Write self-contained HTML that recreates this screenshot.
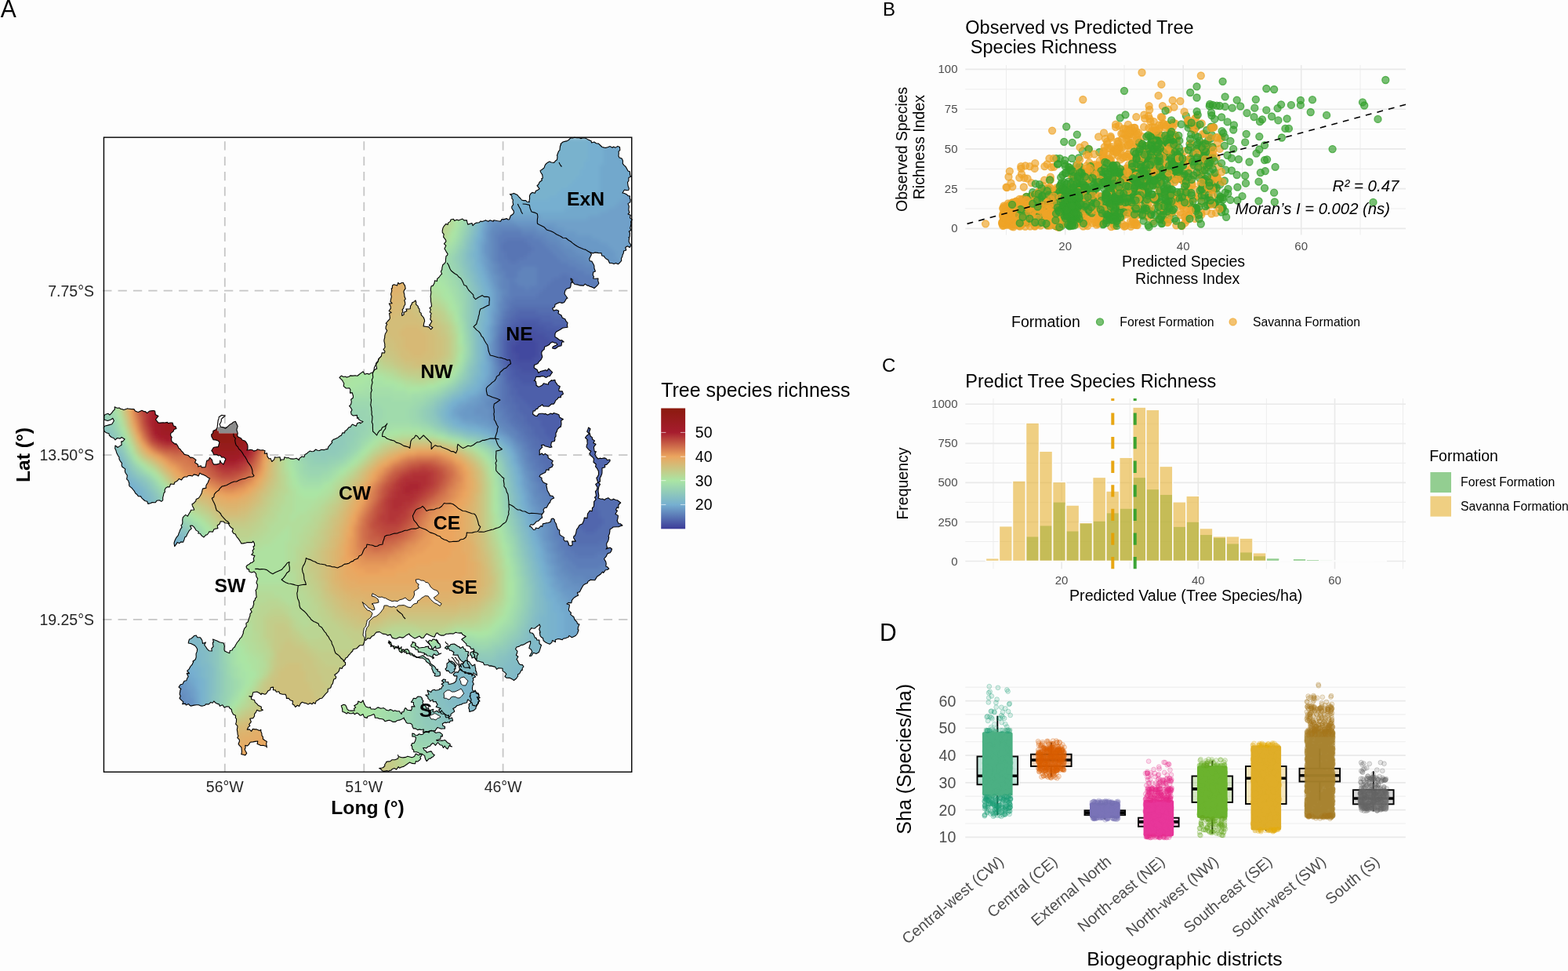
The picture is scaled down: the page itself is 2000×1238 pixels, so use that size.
<!DOCTYPE html>
<html lang="en"><head><meta charset="utf-8"><title>Figure</title>
<style>html,body{margin:0;padding:0;background:#fdfdfd;overflow:hidden}svg{display:block}text{font-family:"Liberation Sans", sans-serif}.b circle{r:4.5px}.d circle{r:2.9px}</style>
</head><body>
<svg width="2000" height="1238" viewBox="0 0 2000 1238">
<rect width="2000" height="1238" fill="#fdfdfd"/>
<line x1="286.8" x2="286.8" y1="180.3" y2="984" stroke="#c6c6c6" stroke-width="1.8" stroke-dasharray="11.3 8.05"/>
<line x1="464.3" x2="464.3" y1="180.3" y2="984" stroke="#c6c6c6" stroke-width="1.8" stroke-dasharray="11.3 8.05"/>
<line x1="641.6" x2="641.6" y1="180.3" y2="984" stroke="#c6c6c6" stroke-width="1.8" stroke-dasharray="11.3 8.05"/>
<line y1="370.6" y2="370.6" x1="131.2" x2="806" stroke="#c6c6c6" stroke-width="1.8" stroke-dasharray="11.3 8.05"/>
<line y1="580.2" y2="580.2" x1="131.2" x2="806" stroke="#c6c6c6" stroke-width="1.8" stroke-dasharray="11.3 8.05"/>
<line y1="789.9" y2="789.9" x1="131.2" x2="806" stroke="#c6c6c6" stroke-width="1.8" stroke-dasharray="11.3 8.05"/>
<defs><path id="mo" d="M718 181l3.2-0.9 1.8-0.2 2.6-1.6 2.3-2.7 2.6 0.4 2.3-0.8 2.8 0.6 2.8-0.3 2.4 1.1 2.1-0.6 2.6 0 1.4 0.1 3.3 2 3.9 1.6 0.4 2.3 3.5-1 2.4 1.7 3.1 0.4 1.9 1.9 2.6 2.5 2.8 0.6 1.8 0.3 2.3-0.6 3.3-1.2 2.9 1.7 1.6-1.3 2.2 1.4 2.9-2 2.7 1.1 0.3 4.1-1.8 1.6 0.3 1.6-0.3 4.2 1 1.9 3.1 1.1 1.4 3-0.2 3.7 1.6 2 2.1 1.8 1.2 1.9 1.9 3.6 2.2 0.8 0.5 4.9 1.2 1.3-3.1 1.5 0 3.9-1.4 2.1 0.4 3.2 0.2 1.4 1.2 3.1-0.5 2.3-2 0.2-3.3-0.7-2.5 4 2.5 0.5 3 1.4 1.5 1.7 2.5 0.4-0.3 2.7 1 1.9-0.3 3.3-2.9 1.7 1.3 3.4-0.1 0.9-0.4 3.6 1.1 3.6-1.8 1.9 3.2 1.2-0.8 3.7 2.8 2-1.7 2.9 0.4 2.2-0.6 3.3-0.7 2.6 1.5 2.6-2.9 1.6 1.1 1.8-0.3 5.4-1.3 0.2 0.8 0.8-0.5 4.5 0.9 1.9 2 2.8-1.8 2.9-2.9-1.6-2.6 1.7 1 3.4-3.2 1.1-0.2 2.7-1.1 2-0.4 2.3-1.3 2.5 0.2 2.8-2.2 2.7-2.1 1.8-2.9-1.4-2.5 1.1-2.4-1-3.1-0.1-1.9-4.2-2.6-1.2-2-2.2-0.5-1.3-2.8-0.5-0.7-3.5-3 0.3-1.6-0.4-3.7-0.5-2.4 1-3.3-0.9 1.5 2.5-1.1 2-1.7 3.5 0.6 2.7 2.5 0.4 2.9 5.2 0.3 1.7-0.1 1.8 1.5 4.2-2.7 1.1-0.5 3.7 1.2 1.7-0.7 2.5 3.1 0.2 3.2-0.2-0.3 2.8 1.1 3.4-0.8 1.3-1.6 1.8-3.4 3.2-3.1-1.6-2.6-0.7-1.8-1.2-1.1 0.2-3.2-2.1-1.9 2-4.8-0.2-1.9-0.6-1.4-0.4-3.2-0.4-2.8-3.2 0-2.8-2.2-1.5 0.5 2.4 2 2.6-2.1 0.4-0.4 4.4-0.8 2.1-4.6 1.4-1.8 2.2-0.8 4 1.3 2 2.7 3.7-1.2 0-2.6 4.5-1 1.1-2.3 0.6-3.2-0.9-2.7 1.2-3 1.6-0.4 2.9-3 1.9 1.6 3.2 3.4-1.3 3.1 1.3-0.7 3.3 4 2.4 1.3 3.3 3.5 1.5 1.3 2.9 1.9 2-0.6 3 0.6 2.6-3.8 0.5-2.7 0.4-2.9 2-3.1 1.7-2 1.1-1.5 2.6-0.1 3.9 1.8 1 3 2.2 2.5 1.5 1.4-0.6 2.6 2.3-2.5 0.1-0.7 4.8-4.5 1.1-0.8 1.1-2.8 1.8-3.3-0.8 0.7-2.1 4.1-1.9 1.6-0.8-1.7-1.9-2.2-0.2-2.5-1.2-3 1.9-0.8 1.5-2.6 1.5-3.6 1.4-0.5 3.4-2.4 1.6-1 2.5 0.3 2.4 0.8 2.8-1.7 3.6-2.4 2.3-1.7 2.6-2.3 1.2-2.2 0.6-0.3 3.8 4 2.5 1.6 4 2.6-2 3.6-0.9 3.1-0.9 1.6 1.2 2.1-3 2.7 2.8 2.1 2-1.6 2.1-1.6 2.7-2.1 0.2-2.7 1.7-3.1-1.6-2.1-0.3-2.9 0.9-4.8-0.1-1.2 4.2-1.3 0.7 2.3 1.1 0.6 3.4-0.1 1.6 2.8 2 1.7-0.5 3.1-1.6 1.8-2.4 5.9 1.5 0.5-2.7 3.7-2.9 0.2 0.7 4.2-1 0.5 3 1.1 0.8 1.6 2.7 3.2 1.9-1.5 3.7 0.4 2.1 4.1 0.3 1.1 3.3-2.9 2.2-0.2 2.3-2.9-0.1-1.3 2-2.5 2-1 2.8-1.4 1.7-2.6-0.1-3.8 3.3-4-0.3-2.7 0-1.4-2.1-2.8 2.1-1.8 0.8-1.5 2.3-2 0.5-1.3 2.4-2.2-0.3-0.5 4.3 3.2 2.2 2.4 0.2 1.7-2.6 2.9-0.5 2.4 0 2.7 0.7 0.4-0.7 3.2 1.6 4.1-1.9 2 1 1.8-1.5 4.7 1.5 1.8 0.8 1 3.4 3.1 1.6 1.4 0.7-2.7 1.8 0.3 4.6-0.9 3.6-1.2 0-2.8 2.9-0.9 3-1.3 2 0.2 3.8-1.5 2 0.3 1.8-0.6 2.5-3.8 1-0.8 4.4 1.3 2.1-2.4 0.5-3.3-1-3.3-0.8-1.3-1.3-3.2 0.1 1.2 2.8-1.4 1.3-2.2 2.6 0.2 3.6-0.3 2.2 3.1-2 2.1 2.2 2.1-1.8 3.7 2.6 0.2 2.8 2.3 1.5 3.8 2.3-1.6 2.8 1.8 2.1-1.3 2.7-4.2 2 0.2 2.2-3.2-0.6-1.5 3.7-2 0.8-4.3 2.2-1.2 2 3.1 1.9-0.3 1.8 1.3 2.3 0.9 1.4 4.9 2.3-1.1 1.4 1.1 5.1 0.1 1.3 1.4 2.5 1 1.8 1.2 2.6 3.5 0.6 1.6 2.5-2.2 0.9-2 1.7-0.9 3.1-1.5 1.1-1.6 3-1.2 2.3-2.6 0.4-1.7 2.5 0.9 2.4-2 2.7-1.1 1.7 0.9 3.2-2.2 1.3-2.2 2.4-1.4 0.8-1.4 0.2-2.7 3-2.2 1.6-2.4-0.5-1.8 2.2 1.9 0.7 3.3 3.8 2.4-0.5 0.2-2 3.8 0.7 2.9-3.1 1.8 0.9 0.7-3.8 2.3-0.3 1.4-0.5 3.2-0.4 3.1-1.3 0.9-3.7 2.2-0.5 1.8 1.7 0 2.1 1.9 2.7 0.8 3 0.6 1.7 1.1 2.8 2.1 0.9-0.3 3 0.7 3 1.5 1 4 2.5-0.9 2.1 1.7 2.5 3.3-0.3 1.6 3.6-0.2 1.4 2.8 1.3 2.2-1.3-0.5-4.7 4.6 0.1-2.7-4.4 0.5-2.5 1.1 0 1.3-3.1 0.4-1.9 0.6-3.2 1.4-1.6 1.3-2.4 0.9-1.4 3.9-1.8 0.4-1.4 1.3-2.6 0.6-3.7 3.6 0.5 0.4-3.9 0.5-2.4 0.3 0 2.2-3.2 2.9 0.6 0.3-4.2 1.9-1.7 0.3-4.4-0.1-1.8 2.6-2.9-1.7-2.6 2-1.6-0.6-3.5-0.5-2.4 1.8-2.1 0.4-1.4 0.5-1.6-2.4-4.1 3-2.3-0.7-2.1-1.2-3.7 1.7-2 1-2.3-0.1-4-0.4-1-1.9-3.5-1.6-1.7 0.8-2.8-3.3-2.7 0-0.6 0.5-3.8-2-2.4-2-1.6-1.7-2.4 2-3.3-2.3-1.3-1.2-1.2-2.3-2.7 0.5-3 0.8-1.1-0.5-4.5 0.9-0.3-3.2-3.1 1.8-2.5 3.2-2.3-2.8-3.1 1.2-2.3 0.6-2.8 2.5 1.7-1.5 4.4 0.8 1.5 0.8 3.4 2.4 1.9 0 2.1 3 1.9-1.8 2.8 3.3 1.6-2.6 3.5 0.4 3.2 0.6 3 1.9-0.4-1.5 3.9 1.7 3 2.4 2.5 3-0.9 0.7 0.6 4.2-0.8 2.2 0.6 1.3 2 3.7-0.5 0 2-2.5 2.7-1.7 1.7-2.4 0.4 0.4 3-3.8 1 0 3.2-0.1 3.4-0.5 1.6-1 2.6-1.1 2 0.1 4.5-2.1 1.2 2.2 2.2-1.5 2.5-0.6 3-0.4 2.3 0.2 2.9 0.2 1 0.5 3.2-0.9 2.6 3.3 1.3 2.3-0.3 2.6 1.4 1.4-1.5 3.2-1.2 2.9 2.5 3.2-0.3 0.2-0.8 3.4 1.4 1.9 0.2 4.3 3.3-2.7 2.5-0.2 4.3-1.8-1-1.5 3.2 2 1.3-2.6 4 3.5 2.1-0.3 2.9-0.8 3.4-0.3-0.1 2 3.9 2.2 0.2 2.8 2.3-2.6 0.6-2.2 1.1-2.9 0-4.2 0.3-1.5 1.4-2.6 1.6-0.1 2.2-0.5 3.3-1.5 3.4 0.8 0.8-0.6 3.7-0.6 1.5-1.8 3.2 0.1 2.6 0.8 2.5-1.6 1.8 3.4-1.4 1.9-0.3 2.2 1.7-0.8 2.6-1.5 2.2-3 0.8-1.4 2.5-0.6 1.3-2.7 3.1 2.2 3.6 0.5 2.5-0.4 3.4 2.1 0.9 1.8 2.1-2 1.5-2.4 0.3-2.6 3.6-1.2-1.3-2.3 2.9-2.5 1.7-2 1.3-1.8 2.9-1.1 1.8-5.7-0.5-1.3 1-1.9 1.2-0.4 1.8-4 1.8-1.7 1.4-1 1.9-1.8 3.1-1.5 3.2-3.1 0.9 1.1 3.7-2 0.8-2.8 1.7-1.5 1.4-1.6 2.1-0.8 3.6-3.8-0.4-2 1.6 3.4 1.1-0.3 2.8-0.8 3.6 0.7 1.4 2.5 2.4-0.8 2.1 3 2.5 1 0.3 1.3 3.8 3 3.2 0.5 2.1 2.5 0.7-1.5 3.2-0.5 3.3 1 0.5-1.4 4.5-1.1 1.5-1.3 1.5-2.5 1.2-2.3 1.1-3.4-2.4-0.9 1.9-3.3 1.3-3.5 0.7-1 1.5-3-0.9-2.4-0.4-3.6 1.2 0.2 2.9-4-2-0.6 2.5-2.8 2.1-3.1-1.2-2-0.9-2.8-2.3-0.7-3.2-2-1.1-1.5-1.8-0.6-4.3 0.8-0.2-1.5-3.9 1.4-3.8-1.1-2.5-1.1 1.5-2.1 1.3-2.7 2.4-3.2-0.2-0.9-0.4-2.6 3.4 0.8 2.8 3.1 0.5 1.5 1.9 1.7 4.2 1.5 0 0.9 2.6 3 0.1 0.2 4.7 2.4 1.7-0.8 2.4-1 3.2-0.7 1.9-0.6 1.6-3.4 1.9-3.7-1.2-2.5 4-2.4 0.2 2.5-4.1 0.8-1.5-1.3-2.8-2.6-1.8 1.1-3.9 0.8-2.2-0.1-2.7-2.1 0.8-3.1 1.4-0.9 0.8-3 1.6-3.2 0.5-2 1.5-3.3 0.9-1.5 2.5 2.5 2.8-0.5 2.2-1.1 2.8 2.5 2-2 3.4 1.5 1.8 1.1 2.9 1.9 2 2.9 0.2 1.7 2.4-1.8 2 0 2.5-1.2-0.1-2.3 4.3-2.3 1.3 0.3 2-2.3 3.3-3 2.2-1.5-1.3-3.9-2-0.4 0.2-3.8-0.2-1.8-1.7 1.9-3.2-2.5-2.4-2.2-1.3-0.2-3.4-1.6-0.2-3.6-0.3-2.3 1.7-1.6-2.9-1-0.4-5-1.2-1.8 0.2-1.4-1.3-5 0-1.6-3.3-0.9-0.1-4.7-1.5-1.7 0.1-1.5-1.5-1.8-2.5 0-3.6-2-2.6 0.7-2.1-0.3-3.7-2.8 0.7-1.5-3.1-4.6-1.6-0.2-2.1-2-1.8-1.9-2-2.1-1.8 2.3-1.8 3.1-2-4.6-2.8-0.8-1.8-2.6 0.2-3.3-0.3-1.6-0.6-3.1 1.9-3.6-0.3-2.4 0.3-3.1 0.2-2.9 1.8-4 0-2.8-1.3-1.2-1.7-1.7 0.1-2.3 4.9-2.6-0.6-3.4-1.4-4-2-2 2.1-2 2.9-2.7 0.4-2.3-2.4-4 2-2.1 0.9-3-1.9-3.3-2.4-0.7-1.6-4 2-3.2 2.5-1.8 0.5-3.3-0.9-3.7 1.9-2.4 0.1-3.6-1.1-2-4-4 1-1.4-1.3-4.6-0.7-4-2.5-4 0.5-2.6 2.9-0.4 1.1-2.8 1.1-2.2 2.9-3.1-0.4-2.4 2.6-1.5-0.2-0.7 3.2-1.4 3.4-3.2 0-1.2 0.3-3.5 3.6-1.3 0.4-3.3 0.7-0.7 2.3-2.1 2-1.9 2.5-1.1 0.7-1.4 2.6-2.3 1.3-1.1 2.4-1.9 1.2 2.6 2-0.1 3-2.9 1.9-1.5 2.9-2.6-0.9-1.3 4.3-1.7 1.8-3.8 2.8 2.1 2.5-0.8 2.2-2.2 0.8-0.8 3-0.7 2.8-1.2 1-1.2 3.7-1.4 1.3-2.2 0.4-0.1 3.7-2.8 2.8-1.3 1.4-2.1 2.5-1.5 1.7-2.1 0.2-2.7 2-2.5 1.4-1.1 3.4-2.3-1.6-1.8 2.1-2.6-1.3-2.4 1.6-2.2-1.4-3.2-0.6-2.2-0.8-1.9 1.4-1.9 3.7-2.1-1.2-2.8 2.3-1.5-2.6-2.1-1.2 0.4-3.9-3.1-1-2.4-2.6-2.6 0.2-0.2-2.6-1.1-2.6-3.7 0.1-3.5-1.1-1.1-2.4-3.4 0.5-1.1-2.4-2.9-0.1 0.2-3.7-3.2 0.4-0.8 3.3-2.5 0.8-2.6 3.9-1.6 0.8-3.9-1.4-1 1.7-1.6-1.6-3.6-1.9-2 0.2-3 0.5-1.3 5.3-3.7-0.3 2.8 0.8 0 2.9 3.9 1 0.8 2.8 2.2 1.9 1.7 2 4.2 2.1-0.3 2.7 2.3 1.3-2.5 1-2.1 0.4-3-1.4-1.2 2.5-2 2.5 0 2.7-1.8 2.6-4 0.7 1.5 4-2.6 3.4 1.1 1.9-2 1.3-1.5 3.4 2.9-0.4 2.4 2.5 1.9-3 2.8 0.5 1.7-0.2 4 1.9 1.8-1.3 0 2.2 1.1 2.6 0.1 2.7 1.4 1.6 0 2.8 2.9 2 2.1 1.2-0.7 2.5 0.2 2.3 0.5 2.7-0.6-1.3-3.6-1.2-3.6 0.1-1.8-1-2.7-0.9 0.7-3.6-3.5 0.4-2.5 0.5-3.5 0.3-2.2 3.4-1.7 1.4-2.6-0.6 0.3 3.3-1 1.4 1 2.3 1.6 2.9-1.9 2.6-2.2-0.6-2.8-0.7 0.6-2.7-0.1-1.8-0.4-4.2-2.6-2.5-1.2-1.9 1.3-3.3-0.1-2.1-2.5-2.5 1.3-2.6-0.9-1-0.4-4.2-0.5-2.5 0.5-2.7 0.1-2-2.3-2.4 0.8-2.5 0.2-4.3-1.3-1.1 0.2-3-3.1-1.6-0.8-1.8-0.9-1.7-0.4-2.7-2.5-1.7-0.7-1.8-2.9-0.2-3 1.3-2.4-3.3-3.5 1.5-1-2.5-1.8-0.4-2.3-1.1-2.4-2.3-1.6 2.2-2.3-0.8-2.6 2.5-3.9 0-1.1 1.4-3.6 1-2.6-0.7-1.8-0.8-3-0.1-2.7 0.4-4.4 1-0.9-0.5-1.8-2-3.2 1.4-1-1.9-3.6 0.7 1.1-2.9-2-1.7-2.8-2.9 1.3-2.9-1.2-2.4 0.6-3.3 0.3-2 0.9-1.2-2.9-2.4 2.2-3.3 2.7-0.5 2.1-4.1 2.8-0.5 0.9-2.9 1.5-2.1-2-4.3 3.3 0.2-2.8-3.3 2.4-2.1 1.6-3.2 2.3-2.6 1.2-2.6 0.6-0.8-0.9-0.8 3.4-2.4 0.9-3.1-0.1-2.7 0-1.5 1.1-2.6 0.5-3.2-1.5-2.7-1.7-1.9-2.6-1.3-2.5-1.3-3.2-0.5 0.4-2.2 0.9-2.8 1.9-0.6 2.2-1.6 1.9-2.1 2.7-0.7 1.6 2.7 3.4 0 0.9 0.9 1.8 2.9 0.6 4 3.9-1.6-1.7 3.3 2 2.8 1.7 2.6 2.2 2.1 3.7 0.3-0.5-3.2 2.4-2.7-0.5-1.5-0.4-3.5 1.3-0.3-1.1-3.8 3.8 1.4 1.4 0.6 3.3 1.8 2.2 0.5 3.1 0.7 1.2 4.3-0.3 0.2-0.2 3.7 0.5 1.8 3.6 1.7 2.7 1 0.3-3 3.3-0.9 0.7-2.2 2.4-1.8 0.8-2.1 1.1-1.7 0.8-1.5 2.8-3.3 1-2 1.8-1.5 0.9-1.6 1.8-4.3-0.4-0.8 1.5-4.4 1.2-1.6 1.5-1.3-0.4-4.1 2.5-1.9 0.4-1.7 1.5-4.6 0.6-1.2 0.1-2.6 2.2-2.4-1.9-3.5 3.1-2.1 0.5-2.3 0.8-1.5-0.2-3.9 1.8-1.9 0.2-2 1.7-1.6-0.5-4.2-0.1-2.9-0.6-1.5 1.7-2.1 0.6-3.1 0.1-2-1.4-2.7 0.8-2.5 0.9-2.5-1.9-3.2-0.2-3.4-2.4-2.5-3.1 1.1-3.3-1.1-0.4-3.2-2 0.1-1.4-3.2 1.5-2.1 1.7-0.6 2.7-2.3 1.6-0.1 2.5-2.4-0.8-2.8 1.7-3.6-4.2-1.3 2.3-2.7-1-2.8 2-1.8-1-3.2 1.7-0.9-0.3-3.3-1.6-2.6-1.1 1.6-5.1 0-1.9 0-0.5 0.4-4.1 0.9-2.3 0-1.2-2.2-2.3-3.6-1.8-1.9-1.1-1.7-1.1-2.4-2.5-1.1-1.6-2.6 1.2-3.2-2.4-1.4-2-2.1-1.7-3.3-1.8-0.4-2.7-0.3-1.8-1.7-3.8-0.1-1 3.1-3 2 0.7 3.6-3.4 0.6-1.7 0.8-1.3 3.1-4.6-0.3-1.2 2.2-1.6 1.8-1.6 0.3-2.5 2.9-2.9-2.1-1.8-2.7-2.6-0.2 0.8-1.9-3.4-2-1.4-2.3-1.5-2.2-2.2-1.6-2.4 0.4 1.7 3.5-3.1 2.8-0.8 1.6-1.7 2.9-1 2.7-1.8 0.8-0.9 3.2-1.4 3.4-2.9-0.4-1.8 1.8-2.8-1.3-0.6 1.5-2.8 3.7-0.7-4.2 0.7-2.4 1.4-3.2 1.2-1.9 2.1-2.5 0.4-1.8 1.4-3.4 0.8-2.2 2-2.9-1-2.4 1.5-1.3 0.4-3-0.2-2.5 0.5-3 1.8-2.1 1.7-1.4 2.6 1.7 2.2-3.8 1.3-1.9 0.8-2.2 4.1-0.2-0.9-2.6-1.4-2.5-0.4-2.1 1.8-1 2.9-3 0.5-2.3 3.2-1.5 1.6-2.2 1.6-2.8 0.4-0.7 1.2-4.8 0.3-1.4 4.5-1-0.3-2.1 0.6-1.9 1.9-2.9 1.4-3.7 1.1-1.5-2.5-1.1-1.9-1.6-4.5-2.4-1.1 0.1-2.7-1.9-2 3.8-2.3-1.3-3.4-0.7-1.8 2.1-2.7-0.6-2.8 0.1-1.3 1.5-3.3 0-2.3 1.5-1.5 2.4-3.3-1.5-1.5 2.1-2.1 1.6-2 0.9-0.7 2.5-4.4-0.5-1.5 4-2.2-0.4-2.6 1.7-1.3 2.7 0.5 2.1-1.4 1.4-1 4.4-0.4 1.3 0 3.6-1.9 1.6-2.5-1.6-3.1 0.4-1.9 2.5-4.3-0.2-1.4 1-3.8 0.9-1.1-3.2-2.5-0.4-2.6-2.1-1.9-1.9-1.2-1.9-3-0.1-2-2.6-1.7-1.2-1.3-2.6-2-2.4-1.5-1.8-2.9-2.4-0.5-1.6 0.3-1.7-1.4-3.9-1.9-1.7 0.5-2.9 0.2-1.9-2.4-3.3-0.6-2.4 0.4-2.5-3.8-2.7-0.8-2.1 0.4-2.4-2.3-3.1-1.3-2.6 0.2-1.7-1.8-2.8-1.7-3.6-0.9-3.2-1-1.8 0.3-3.9 3.2 2.5 1.6-1.1 3.3-2.2-0.4-4.3 1.8 0 2.6-2.9-4-2.5-1.8 1.6-3.8-0.6-2.5 2.3-2-2.3-2.8-1-2.8-2.5-0.5-2.3-3.4-0.9-2.7-2.3-0.5-4.5 1.8-2 2.8-0.6 3.6-1 2.3-0.7 2.6-4.2-1.6-3.2-1.8 1.4-1.8 0.7-2.9 1.1-4.5-1.6 0-4.4 1.3-2 3.9-1.2 1.9 1.7 2.3-2.2 2.2-2.9 2-2.1-0.2-3 3.1 1.5 3.2-0.3 1.3 1.4 1.6 0.1 2.5 1.1 5.2-1.8-0.3 0.2 3.5 0.4 4.6 0.2 1.5 2.3 2.6 1.1 1.3 0.5 4.7-2.3 2.9 1.6 1.2-0.3 2.7 2.2 2.5-2.4 2.1-0.4 3.1-0.4 2.1 0.5 0.6 3.7-0.1 0.8 3.9 1.9-3.5 4.5 3.4 4-0.5 0.1 2.8 0.1 4.1-0.3 1.7 0.2 3.4-0.6 1.3 1.3 2-0.7 3.3 0 1.3 4 2.6 0.7 1.1 2.7-3 1-0.8 2.5-3.5 2.7 0 2.9 1.5 2.1-0.7 2.1 0.5 3 1.2 1 3.6 2.8 0.6-1 1.9 2.3 1.8 3.7 1.9 1.2 1.4 2.3 1.8 1.6 2 2.8 2.5 0.6 2.3 0.5 3.2 3.2 1.1-0.6 3.1 1.2 2.6 2.2-1.4 3.3 4 2.5 0.1 2.7 3.7-1.2 0.7 2.1 4.7-0.1 0.4-1 1.1-5.8 0.7-2 1.8 0 1.8-3.6 2.9 2.9 0.7 3.5 1.5 2.3 3.6 0 3.8-1.1 0.6-4 1 2.4 3.3 2.7 1.5-3.6 1.4-3.3-2.9-2.5-2.1 0.5-2.2-2.7-2.1 0.5-2.2-1.5-3.7 0.3-1.2-3.2-1.7-1.9 2.2-3.7 1.2-0.7 5.3-0.7 0.4-2.3 1.1-3.5-2.1-2-3-0.9-2.8-0.2-2.3-4.2-0.1-2.7 1.8-1.5 0.5-3.1 3.5-1.5 1.6-2.8 0.2-1.8 0.5-4 0.4-3.4 0.8-1.7 0.2-2.2 3.7-2.5 4.3 0.7-2.9 2.5-2 1.8 0 2.4-0.9 2.4-1.3 1.6 1.3 3.5 2.4 0.4 3.7 1.7 2.6-2.1 3.6-3.4 1.5-0.3 2.4-2.3 2.7-0.9 1.5 3.2 1.4 2.9-1.4 4.4 1.4 4.4-0.5 3.4 1.3 1.6 3 1.2 2 2.5 3.7 1.4 1.8 2.4 1.1 2 0.4 2 0 3.7-1.1 1.6 2.1-0.3 2.9-0.5 2.7 0.9 1.1 1 3.5-1.1 1.2-1.2 3.9 1.2 3-0.3 2.8 1-0.9 3.6 3.5-0.4 0.3 4 2.1 3.1 1.9-0.6 1.8 4.1 2.9-2.7 0.8-3.1 1.9 0.5 4.6-0.5 0.9 3.9-0.2 1.2 0.9-1.8 3.6-0.1 0.7-3.2 2.6 1.1 2.6-0.2 2.2 1.3 3.6 0.2 1.5-0.1 2.8-0.7 3.2 2.4 0.4-2.1 3.3-2.6 2.9 0.7 0.9-3.1 2.1-1 2-2 2.4-1.6 2.3 0.7 2.4-0.2 2.6-2.5 2.4 1.3 2.3 0.2 2.5-1.3 3.7 0.4 2.9-1 1.5 0.1 0.6-2.6 1.8-2.2 3.3-3.8-0.7-1.4 2.5-2.6 0.6 0.2 3.1-1.5 1.8-0.9 2.4-1.9 2.1-1 1.2-3.1 2.9 0 0.4-2.5 2.1-1 3.1-3.7 2-0.3 0.8-1.8 1.4-1.6 4.8 2.2 1.6-3.7 3.5-0.9 0.5 1.3 3.2-2.3-3-1.2-2.5-1.6-0.5-2.4-1.4 1-0.2-4-4.9 0.6-2.3-1.6-0.7-3.3 1.5-2.3-2-3.7-1.5-1.5 2-1.7 0.8-3.5-0.6-3.1 2.6-2.1 0.2-2.2-1.3-4.4-2.7 0.5 0.4-4.3-1.1-1.9-2.8 0.1-1.6 0-3.2-2.7 0.6-3.6-1.6-2.4-0.4-1.1-1.8-1.8-2-2.1 2.3-2.2 2.9 1.4 2-0.5 2.1 1.1 3.2-1.1 1.2-1.1 3.4 0.2 3.1-0.4 2.6 0.5 2.2-1.7 2.1-1.6 3.1-2.1 2 3.4 2.9-0.9 2.9 0.8 2.4-1.7 2.2-0.4 1.8-3.2 1.6-1.1 1.7-0.6-1.3-6.4 1-1.8 1.6-0.8 1-3.6 3.4-3.5 0.1-0.5 0.7-3.8 3.4 0.3 0.3-2.3-1.9-2 2.3-3.4-0.5-0.6 0-3-0.9-3.8 0.1-1.9 0.8-2.8-0.1-1.6 0.7-3.1 1.2-1.7 1.1-2.5-1.7-2.3 0.2-2.8 1.5-3-1.5-0.8 2.3-2.9 2.3-2.3 0.6-1.9-0.4-2.8-0.5-3.1 2.7-1-3.1-1.9 2.3-3.4-0.3-2.6-1.8-3.4 3.9-0.3-2.2-2.4 0.7-3.5 0.7-2.8-0.9-3.1 0.2-0.7 1.1-3.5-0.6-3.1 1.1-0.1 0.2-3.6 2-1.3 4.1 1.4 1.2-3.8 1.6 1.8 3.3-1.6 1.8 0 0.5 1.6 1.5 2 0.7 3.8-1.8 2.5-0.5 1.6 0.9 3.4 0.2 2.6 1.3 3.3-1.5 1.3 0.9 3.3 0.1 2.3-1.5 2.1-0.6 2.8-1.6 1.8 0.8 1.7-1.3 3.1 0.2 2.8 2.5-1.6-0.5-2.5 4.1-2-1-2.3 5.3-0.3 0.3-3.6 1.8-2.6 0.2-1.7 2.7-1.2 1.8-1.7 0.8 2.4-0.2 2.7 2.6 2.3 0.2 1.8 1.5 1.6 0.4 4.1 2 1.5-0.2 1.7 1.8 2.2 1.3 1.4 1.1 2.6 0.4 2-0.9 2.6-0.7 4 3.9 0.6 3 0.4 2.5 3.1 2.4-2.4-4.5-2.9 1.6-1.7 1.8-3.4-2-2.5 0.8-3.7-0.6-0.8 1.2-3-1.9-1.7 1.2-3.3-1.5-2 2.5-2-0.4-3.7-0.6-2.7 0-1 0-2.8-0.4-2.3 0.6-3.4 0.2-2.4-0.5-2.3 0.1-2.5 0.6-2.8 2-0.3 1.8-3.1 0.7-3.6 2.8 0.9 0.3-3.2 2.3-1.9 2.3-3.3 1.3-0.8-1.2-3.4 1.3-2.1 0.2-2.8 1-3.6 2.1-1.5 1.4-2.2 0-2.5 0.6-4.8 1.5-1 0.6-1.6-2.1-3.3-1.7-3-0.3-0.5 1.9-4-2.5-2.3 2.5-2.9-0.4-2-2.9-3.7 0.4-3 0.3-0.3-2-2.5-0.1-2.2 0.8-3.7 1.3-2.2 2.6-2.9 2.2 1.1 0.5-2.4 2.7-1.7 0.7-2.4 3.5-0.8 1.2 2.3 3.1-1.5 2 0.9 3.1-1.1 2.1-0.8 1.7 1.9 3.7-0.2 0.2 1.4 1.1 4 5.3-1.6 1 3.2 1.9-2.1 2.7-1.5 3.4-0.3 2.1-1.9 1.6 0.7 3.3-1.2 1.2-0.7 3.6 1.5 2.3-1.4 4.1 1.4 0.6-1.5 4.3 0.8 1.3 0.2 3.3 0.4 1.3-2.6 2.1 0.4 4.3-1.3 1.6 1.4 1.6-0.3 1.7-4.7 2.8-1.8 1.3-1.8-0.1-2.3-2.4-3.4-0.1-2.4 1.9-2.5-0.7-3.1 0.4-3.1-1.5-1.5 0-3.2-2.5-2.3 2.1 0 2.9-1.2 1.8 0.8 3 1.6 1.3 1.9 2.4 2.3 1.5 2 2.4 0.6 2.8-0.1 1.4 1.7 3.4 0.5-0.6-0.6 0.8-3.9-0.2-3.2 1-2.5 2.4-2.1 3.6 0.9 0.9-2.8 2.1-0.9 2.7-1.9-3.1-4 1.8-1.4 1.3-3.1 3.3-2.5-0.8-1.7 1.7-1-0.6-4.4-1.8-2.6-0.9-2.4 2.6-1.6 2.5-2.1 0.8-2.6 1-1.8 2.1-1.9 2.9-1.6 2.3 1 3.4 0.4 2.2-2.6 1.7-1 0.5-4.2-0.5-1.3 1.2-3.3 0.9-2.3 1.3-1.1 0.6-5.5 1.1-1.7-0.6-0.7zM435.3 899.8l3.1-1.6 2.3 0.8 1.3 2.6 1 2.8 1.9 1.3 2.3 0.4 2.4 0 2.6-0.2-0.7-2.5 2.2-1.4-2-2.3 2.8-1.5 2-1.4 0.3-2.7 2.1 0.8 1.7 0.9 2.4-2.9 0.9 2.6 0.5 1.6 1.6 2.7 1.2 1.4 3.4 1 1.6-0.7 0.9 2.4 3.5 0.1 1.7 0.4 3.1-2.3 1.3-0.2 2.9 1.4 2.9-0.5 0.4-0.3 3.2 1.9 0.4 0.8 3.5 0.8 1.3-1.4 2.7 0.7 1.5 1.4 2.3-0.9 2.2 0.9 3.5 0 0.6 1.1 2 2.7 0.5-2.7 2.3-0.1 0.7-2.8 1.1-2.1 1 0.1 1.9 2.3 3.8 0.4 1 0.3 0.9-2.2-0.4-3 4.1 0.2-1.6-2.7 0.1-2.7-3.1-0.3 1.8-2.4 1.2-2.5 3.1 0.3 1.4-1.6 1-0.9 3.8 0.2 1.8 2-0.3 1.2 1.7 2.2-0.8 1.8 0.6 2.7 1.4 0.6 2.1 1.9 0.6 2.5 2.8-0.6 0.7 3.5 5.5-1.9-0.8 3.2 1.4 0.6 3.8-1.7 2.5 1.9 2.3-0.5 1.3-2 0.9 1.6 3.2 3.2 1.4 0.8 2 1.1 1.6-0.5 0.3 4.7 3.9-1.5 1 3.8-3.5 0.3-0.6 2.1-2.2-0.5-2.6 0.9-0.7-1-3.7 2.1 0.7 2.6 2.4 0.9 0 2.6-2.7 0.1-1.9 0.2-3.3-1.2-1.4-0.6-2.1 2.7-0.9 1.9-1.1-0.4-3.1 0.4-3.3-0.1-1.7 0.9-2.4-0.3-4.1 1.3 1-3.8-3.7 0.5-0.9-0.6-3.2 0.7-2.8-1.8-2.4 0.1-1.5-2.8 0-1.8-1.5-1.5-1.3-0.6-3.5-0.1-1.4-0.8-1.3-3.1-1.1-0.7-0.6-2.4-1.9 1.4-3.7 1.8-0.5-0.3-3.1 1-1.6 1.4-3.5 0-1.6-1.2-2.6-1-2.1 0.4-3.6 1.1-1.6-2.1-1.9-0.9-4.4-0.5 0-0.5-2.2-0.5-2.6-0.1-0.4-2.9-1.1-1.7-2.1 0.9-1.9 0.8-4.1 1.3-0.4 2-1.3-0.4-2.5-0.7-1.5-3.8-2.9 1.6-1.6-0.4-0.6-1.3-2.6-1.5-3 1.8-1.7-2.2-1.1 1.1-3.4 0-2.5-1.5-1.1 1.8-3.6-1.9-2-0.7-0.4-4.6-0.3-0.2zM525.9 935.1l2.4 0.4 1.5 1.8 2.6 0.2 2.2-1.8 2.1 0.9 2.3-0.3 2-2.1 1.8-0.7 2.1-0.3 2.1 0.9 1.2-2 2.1-0.9 3.2 1.6 2.5 1.7 2.3-0.8 2.6 0 1.8 1.4 1.7 1.5-0.1 2.3-1.8-0.5-0.7 3.8-2.9 0.9-2.3 0.4 0.8 1 3.4-0.2 3.1-0.3 0 0.6 3.5-1.1 1.4 1.1 1.4 1.8 1.8 1 2.1 1.2 0.1 2.9 2.4 0.5-3.3-1.5-2.4 4.5-2-1.5-1.7-2.5-1.7 2.5-1.6-3.2-2.7-0.6-2.7-3.2-3.1 3.9-1.7-1.9-1.7-1.1-2.4 2.1-0.8 1.4-2.9 1.1-2.3 2.1-1.4-0.6-2.5 0 1.6 3.1 2 1 0.9 2 4.4-1.7 1.9 0.2 1.1 2.5 2.7 2.1-2 2.2-1.7 0.6-1.7 1.8-1.5-0.2-3.2 3.4-1.4-2.4-0.8-2.3-0.3-2.2-1.4-1-2.1-1.4-2.2-0.1-2.4-1.5-2.4-0.9-3.4 0.1-0.1-2.6-1.8-1.2-0.4-4.1-1.1-0.5 1.2-2.6 2.5-0.4 0.9-1.6 0.5-0.7 1-3.9-0.7-1.9-3.9-0.4zM538.2 961.2l-0.6 2.4-1.7 1.6 0.8 2.1-1.1 1.4-3 2.4-2.1-0.7-1 3.4-3.6-0.4-3.3-1.5-2.2 1.6-2.2 1.5-2.2 1.6-1.4 0.8-2.5 0.6-2.4 1.3-1.5-1.6-2.6 3.4-2.7-1.5-2.9 1.2-1.2 1.5-1.8 0.1-1.8 1-1.2-0.8-4.2 0.8-2.3-0.7-2.5-2.8-1.3-0.3 3.6-0.6 1.6-0.5 2-2.1-0.3-1.4 1.8-2.5 0.3-1.1 2.1-0.5 3-0.2 2-1.9 1.4 0 2.5 0 3.8-1.5 0.9-2.9-0.9-1.7 0.9 1.8 3.7 1.3 2.2 0.1 3.5-0.5 2-1.2 2 0.5 3.6 1 2-0.7 1.3-0.8 1.7-3.1 3.2 1.6 1.8-0.8zM542.8 886l4.2-0.2-1.9-5.8 4.8 2.6 0.6-1.7 1.5-1.1 2.3-0.6 0.9 1 4.8-0.7 0.8-1.5 1.9 0.3 1-2.4 1.9-1.8-2.5-1.9 3.2-1.9-2.8-2.3 2.3-2 2.6 0.5-0.5 2.7 4 0.3 0.1 2.6 2.1 0.2 2.8-0.8 2.7-0.9 2.3-2.8 0.1-2.2 0.7-1.1 0.2-2.6-3.4 0-1.4-2 2.1-2.3 2.5-0.8 1.4 0.7 2.2-3.9 3.6 2.1 2 1.1 1.9 1.2 3-0.3 2.2 0.4 2.1 0.2 0.6 1.8 3.3 0.7 1.5 2.1-3.3 1.6 0.7 2.4-1.2 2.2 1.6 3.1-1.2 1.5-0.2 0.6-0.5 3.1 0.3 2.4 1.6 1.4 2.8 0.5 0.1 2.3 2.4 0.4 1.6 4.2-3 0.2 2.1 2.1 1 2-0.6 1.3-0.4 2.5-2.8 2.2 0.6 0.9-1.2 2.4 0.1 1.2-2.8 2.5-2.9 0.8-2.5 0.7-0.2-2.8-0.9-1.9 0.8-2.7-0.5-1.8 2.9-2.9-3.3-3-1.1-0.2-0.9 3.6-1 0.3-5 1.2-0.8 1-1.9 0-1.2 0.8-3 0.8-2.1 2.2-2.8 1.6 1.3 1.6 0.5 2.2-2.4 1.5-2.2 1.7 0 2.1-1.5 0.9-0.7 1.1-4.1 0-1.3-4.2-2.4-0.2-2-0.3-1.8-2.6-1.7-2.1 2.6-2.1-6-2 2-3-1.6-2-0.3-1.6-3.9 0.2-0.3-2.7-3.4 2-0.4-1.7-2.3-1.8 0.1-1.8zM496 816.9l0 1.7 2.4 0 1.4 4.4 1.1 0.2 3.3 1 4 1.1-0.4-2.3 1.9 4.5 2.4-2.9-0.3 1.8 0.6 2.2-0.3 2.1 2-2.9 2.5 1.9 0.2-1.7 3-0.4 2 2.5 0.4 2.1 4 1.3-0.3 1.8 2.7-0.3 0.3 1.2 3.7 1.8 2.4-0.6 1.7-0.6 2.5-1.1 1.3 1 4 3.3 1.4-0.1 1.1 1.1 1.8 3.4 0.1 1.6 1.5 1 2.9 2 1.8 1.7 1.4 2.8 2.1-0.3-0.7 2.3 3.3 1.3 0.3 3.2-0.3 1.4-1.3 0.5-3.3 0.3-2.4-0.5 0.9-2.9-2.2-1-0.9-2.5-1.2-2.8 0.1-0.9 0.1-2.1-2.3-1.2-1.3-2.3-2.6-1.7-1.3-0.9-0.7-2-2.7-1.8-0.9-0.7-3.6 0.1-2-0.6-2.9-0.2-0.9-1.1-2.4-0.3-1.4-1.8-2.6-0.1-1.6-2-3.5 0.5-0.1-2.7-2.1 1.3-0.9-1.9-3.1 2.1-2.7-2-1.1-3.4-0.8-0.7-3.9-0.5-0.5 2-2.1-4-2.7 1 0.4-2-3.4-3.2 3.3 0.4zM525.9 818.4l3.2 0.8 1.4 2.2-1 1.3 3.9 2.3 0.2 1.1 3.1-0.3 2.4-0.3 2.6-0.3 1.1-0.6 4.1-0.6-0.5 2 2.8 1.6 2.8 0 1.1 1.6 3.5-0.2 1.5 1.7 2.4 3.3 2.2-1-2.6 1-2.3 1.4-1.8 0.1-2.5-1.7-1.8 2.8 1.9 2.3-1.6 1 0-1.5-2.7-1.3-1.2-0.8-3.1-0.3-2.2-2.3-1.8 1.2 0.5-2.2-3.5-0.7-2-0.8-2.6 0.2-0.3-2.9-3.1-0.5-0.9-2.5-4.4-0.8-0.7-1.7 2.5-3.5zM567.4 826.1l2.5-2.4 3.1-0.1 0.1 0.5 1.9-2.6 1.3-0.1 3.2-0.4 2.7 1.7 2.3 1.7 1.3 0.2 1.3 1.8 3.4-1.9 1.2 2.7 1.7 0.4 0.4 2.5 4 0.9-1.3 4.5 1.5-0.2-1.4 1.9-0.8 1.9 0.5 3.1-0.2 2.5 0.4 1.3 1.6 2.2 0.3 1.3 1.2 2.7-2.1-1.1-3.8 0.2-1.8-0.6-0.4-1.1-1.4-2.4 1.9-2.7-3.2-1.5-2.2-2.5 0.5 0.9-2.8-4.7-0.2-1.7-2.9 0.3-3.3-0.4 1.1-3.2-3.7-2.4-1.8-0.1-2.3-4.4-0.6 3.1zM588 846l2.1 0.2 1.3-1.9 2.6-2.3 1.5 0.4 3 1.4 1.5 2.2 2.6 3 3.2-2 0.2 3 0.8 3.2-0.3 2.1 0.7 0 0.8 2.7 0.3 3.1-4.5-3.2-1.8 4.1-0.3-2.8-4.1 0.2-1.6-1.4-3.1 0.4 1.4-1.5-4.3-0.9-1-1.9-3-2.1-0.5-2.1 2.2-1zM570 846l2.7-1.9 0-1 3.3-0.1 3 1.9 2.4 3.5 0.6-0.4-1.2 2.3 0.3 2.7-1.7-0.1 0.6 3.1-1.7 0.6-2 1.6-2.3-0.2-2.2-2.9-2.1 0.3-1.7-2.4 1.6-1.6 0.4-2.1zM600 884l1.8-1.7 2.7 0.1 1.5-2.4 1.8 3.2 2.2 0.5 1 2.3-0.1 2.8 1.3 0.7-3 1.6 2.8 2.9-2.2 0.7-0.4 3-1.4 2.3-2-0.1-3.2-0.8-0.8-3.1-1.6-1 0.7-3.2-0.6-1.3-1.4-3.1 0.8 0.2zM546 818l2.6-1.8 1.8 1.2 1.6-2.4 2.2 0.1 2.7 1.9 1.1 2 1.7 1.2 1.4 1.1 0.9 3.7-0.9 0.9-3.5 0.9-1.6 0.2-0.4-3-4.1 4.2-1.5-4.2-1.8-2.1-0.1-0.7zM600 832l3.9-1.8 1.1-1.2-0.5 2.4 3.8 0.9 1.7 1.7-1.7 2.2-0.1 1.5-0.2 3.3-2.3-2-0.1-1.6-3.6 1.6-0.4-2.4-1.9-2.2z"/><clipPath id="mclip"><use href="#mo"/></clipPath><filter id="mblur" x="120" y="165" width="700" height="830" filterUnits="userSpaceOnUse"><feGaussianBlur stdDeviation="2.4"/></filter></defs>
<g clip-path="url(#mclip)"><g filter="url(#mblur)" shape-rendering="crispEdges">
<path fill="#424a9f" d="M665 430h15v5h-15zM660 435h25v5h-25zM655 440h30v5h-30zM655 445h30v5h-30zM660 450h25v5h-25zM660 455h20v5h-20z"/>
<path fill="#4651a2" d="M660 420h25v5h-25zM655 425h40v5h-40zM655 430h10v5h-10zM680 430h20v5h-20zM650 435h10v5h-10zM685 435h20v5h-20zM650 440h5v5h-5zM685 440h20v5h-20zM650 445h5v5h-5zM685 445h25v5h-25zM650 450h10v5h-10zM685 450h25v5h-25zM650 455h10v5h-10zM680 455h25v5h-25zM655 460h45v5h-45zM660 465h35v5h-35zM665 470h20v5h-20z"/>
<path fill="#4a58a6" d="M665 410h20v5h-20zM655 415h40v5h-40zM650 420h10v5h-10zM685 420h25v5h-25zM650 425h5v5h-5zM695 425h35v5h-35zM650 430h5v5h-5zM700 430h30v5h-30zM645 435h5v5h-5zM705 435h25v5h-25zM645 440h5v5h-5zM705 440h25v5h-25zM645 445h5v5h-5zM710 445h20v5h-20zM645 450h5v5h-5zM710 450h20v5h-20zM705 455h5v5h-5zM650 460h5v5h-5zM700 460h15v5h-15zM650 465h10v5h-10zM695 465h20v5h-20zM655 470h10v5h-10zM685 470h35v5h-35zM655 475h65v5h-65zM660 480h50v5h-50zM665 485h30v5h-30z"/>
<path fill="#4d5faa" d="M660 405h30v5h-30zM655 410h10v5h-10zM685 410h20v5h-20zM650 415h5v5h-5zM695 415h40v5h-40zM710 420h25v5h-25zM645 425h5v5h-5zM730 425h5v5h-5zM645 430h5v5h-5zM645 455h5v5h-5zM645 460h5v5h-5zM645 465h5v5h-5zM650 470h5v5h-5zM650 475h5v5h-5zM650 480h10v5h-10zM710 480h15v5h-15zM655 485h10v5h-10zM695 485h30v5h-30zM655 490h75v5h-75zM660 495h70v5h-70zM660 500h70v5h-70zM665 505h65v5h-65zM670 510h60v5h-60zM675 515h50v5h-50zM680 520h50v5h-50zM685 525h45v5h-45zM685 530h45v5h-45zM690 535h40v5h-40zM740 535h5v5h-5zM690 540h40v5h-40zM695 545h35v5h-35zM695 550h35v5h-35zM700 555h25v5h-25zM705 560h20v5h-20zM715 565h5v5h-5z"/>
<path fill="#5166ad" d="M660 395h25v5h-25zM655 400h50v5h-50zM650 405h10v5h-10zM690 405h35v5h-35zM650 410h5v5h-5zM705 410h30v5h-30zM645 415h5v5h-5zM645 420h5v5h-5zM640 430h5v5h-5zM640 435h5v5h-5zM640 440h5v5h-5zM640 445h5v5h-5zM640 450h5v5h-5zM640 455h5v5h-5zM640 460h5v5h-5zM645 470h5v5h-5zM645 475h5v5h-5zM645 480h5v5h-5zM645 485h10v5h-10zM650 490h5v5h-5zM650 495h10v5h-10zM650 500h10v5h-10zM655 505h10v5h-10zM655 510h15v5h-15zM660 515h15v5h-15zM660 520h20v5h-20zM665 525h20v5h-20zM670 530h15v5h-15zM670 535h20v5h-20zM745 535h20v5h-20zM675 540h15v5h-15zM740 540h25v5h-25zM680 545h15v5h-15zM740 545h30v5h-30zM680 550h15v5h-15zM735 550h35v5h-35zM685 555h15v5h-15zM735 555h35v5h-35zM690 560h15v5h-15zM735 560h35v5h-35zM690 565h25v5h-25zM735 565h40v5h-40zM695 570h25v5h-25zM735 570h40v5h-40zM700 575h15v5h-15zM735 575h55v5h-55zM705 580h15v5h-15zM735 580h55v5h-55zM710 585h10v5h-10zM740 585h50v5h-50zM715 590h5v5h-5zM745 590h45v5h-45zM745 595h45v5h-45zM750 600h35v5h-35zM750 605h35v5h-35zM750 610h30v5h-30zM750 615h30v5h-30zM750 620h25v5h-25zM750 625h15v5h-15zM745 630h20v5h-20zM745 635h15v5h-15zM745 640h15v5h-15zM740 645h20v5h-20zM740 650h25v5h-25zM740 655h25v5h-25zM740 660h30v5h-30zM740 665h30v5h-30zM740 670h25v5h-25zM745 675h15v5h-15z"/>
<path fill="#556eb0" d="M655 390h60v5h-60zM650 395h10v5h-10zM685 395h40v5h-40zM650 400h5v5h-5zM705 400h30v5h-30zM645 405h5v5h-5zM725 405h10v5h-10zM645 410h5v5h-5zM640 415h5v5h-5zM640 420h5v5h-5zM640 425h5v5h-5zM640 465h5v5h-5zM640 470h5v5h-5zM640 475h5v5h-5zM645 490h5v5h-5zM645 495h5v5h-5zM645 500h5v5h-5zM645 505h10v5h-10zM645 510h10v5h-10zM650 515h10v5h-10zM650 520h10v5h-10zM655 525h10v5h-10zM655 530h15v5h-15zM660 535h10v5h-10zM665 540h10v5h-10zM670 545h10v5h-10zM670 550h10v5h-10zM675 555h10v5h-10zM680 560h10v5h-10zM680 565h10v5h-10zM685 570h10v5h-10zM685 575h15v5h-15zM690 580h15v5h-15zM690 585h20v5h-20zM695 590h20v5h-20zM695 595h25v5h-25zM700 600h20v5h-20zM705 605h10v5h-10zM765 625h35v5h-35zM765 630h40v5h-40zM760 635h45v5h-45zM740 640h5v5h-5zM760 640h45v5h-45zM760 645h45v5h-45zM735 650h5v5h-5zM765 650h40v5h-40zM730 655h10v5h-10zM765 655h35v5h-35zM730 660h10v5h-10zM770 660h35v5h-35zM730 665h10v5h-10zM770 665h35v5h-35zM730 670h10v5h-10zM765 670h40v5h-40zM730 675h15v5h-15zM760 675h45v5h-45zM730 680h75v5h-75zM735 685h45v5h-45zM735 690h30v5h-30z"/>
<path fill="#5875b4" d="M645 305h25v5h-25zM640 310h35v5h-35zM640 315h40v5h-40zM645 320h30v5h-30zM645 325h25v5h-25zM650 330h10v5h-10zM715 350h10v5h-10zM705 355h30v5h-30zM700 360h40v5h-40zM695 365h50v5h-50zM690 370h60v5h-60zM685 375h50v5h-50zM745 375h5v5h-5zM655 380h80v5h-80zM650 385h85v5h-85zM650 390h5v5h-5zM715 390h20v5h-20zM645 395h5v5h-5zM725 395h10v5h-10zM645 400h5v5h-5zM640 405h5v5h-5zM640 410h5v5h-5zM635 425h5v5h-5zM635 430h5v5h-5zM635 435h5v5h-5zM635 440h5v5h-5zM635 445h5v5h-5zM635 450h5v5h-5zM635 455h5v5h-5zM635 460h5v5h-5zM640 480h5v5h-5zM640 485h5v5h-5zM640 490h5v5h-5zM640 495h5v5h-5zM640 500h5v5h-5zM640 505h5v5h-5zM640 510h5v5h-5zM640 515h10v5h-10zM645 520h5v5h-5zM645 525h10v5h-10zM650 530h5v5h-5zM650 535h10v5h-10zM655 540h10v5h-10zM660 545h10v5h-10zM665 550h5v5h-5zM670 555h5v5h-5zM670 560h10v5h-10zM675 565h5v5h-5zM675 570h10v5h-10zM680 575h5v5h-5zM680 580h10v5h-10zM685 585h5v5h-5zM685 590h10v5h-10zM690 595h5v5h-5zM690 600h10v5h-10zM690 605h15v5h-15zM695 610h15v5h-15zM700 615h10v5h-10zM705 620h10v5h-10zM710 625h10v5h-10zM720 660h5v5h-5zM720 665h10v5h-10zM720 670h10v5h-10zM720 675h10v5h-10zM720 680h10v5h-10zM720 685h15v5h-15zM780 685h10v5h-10zM725 690h10v5h-10zM765 690h30v5h-30zM725 695h70v5h-70zM730 700h45v5h-45zM735 705h25v5h-25z"/>
<path fill="#5c7cb8" d="M640 295h25v5h-25zM635 300h45v5h-45zM635 305h10v5h-10zM670 305h20v5h-20zM635 310h5v5h-5zM675 310h20v5h-20zM635 315h5v5h-5zM680 315h20v5h-20zM635 320h10v5h-10zM675 320h30v5h-30zM635 325h10v5h-10zM670 325h40v5h-40zM635 330h15v5h-15zM660 330h55v5h-55zM640 335h85v5h-85zM640 340h25v5h-25zM685 340h50v5h-50zM645 345h15v5h-15zM685 345h60v5h-60zM645 350h15v5h-15zM685 350h30v5h-30zM725 350h30v5h-30zM650 355h5v5h-5zM685 355h20v5h-20zM735 355h25v5h-25zM650 360h10v5h-10zM685 360h15v5h-15zM740 360h30v5h-30zM650 365h20v5h-20zM675 365h20v5h-20zM745 365h30v5h-30zM650 370h40v5h-40zM750 370h25v5h-25zM650 375h35v5h-35zM750 375h20v5h-20zM645 380h10v5h-10zM645 385h5v5h-5zM645 390h5v5h-5zM640 395h5v5h-5zM640 400h5v5h-5zM635 415h5v5h-5zM635 420h5v5h-5zM635 465h5v5h-5zM635 470h5v5h-5zM635 475h5v5h-5zM635 480h5v5h-5zM635 485h5v5h-5zM635 490h5v5h-5zM635 495h5v5h-5zM635 500h5v5h-5zM635 505h5v5h-5zM635 510h5v5h-5zM635 515h5v5h-5zM635 520h10v5h-10zM640 525h5v5h-5zM640 530h10v5h-10zM645 535h5v5h-5zM650 540h5v5h-5zM655 545h5v5h-5zM660 550h5v5h-5zM660 555h10v5h-10zM665 560h5v5h-5zM670 565h5v5h-5zM670 570h5v5h-5zM675 575h5v5h-5zM675 580h5v5h-5zM675 585h10v5h-10zM680 590h5v5h-5zM680 595h10v5h-10zM685 600h5v5h-5zM685 605h5v5h-5zM685 610h10v5h-10zM690 615h10v5h-10zM690 620h15v5h-15zM695 625h15v5h-15zM700 630h20v5h-20zM700 635h20v5h-20zM710 640h10v5h-10zM710 645h10v5h-10zM710 650h10v5h-10zM710 655h10v5h-10zM710 660h10v5h-10zM710 665h10v5h-10zM710 670h10v5h-10zM710 675h10v5h-10zM710 680h10v5h-10zM715 685h5v5h-5zM715 690h10v5h-10zM715 695h10v5h-10zM720 700h10v5h-10zM775 700h20v5h-20zM720 705h15v5h-15zM760 705h35v5h-35zM725 710h70v5h-70zM730 715h50v5h-50zM735 720h30v5h-30z"/>
<path fill="#6084bb" d="M635 290h30v5h-30zM630 295h10v5h-10zM665 295h20v5h-20zM630 300h5v5h-5zM680 300h15v5h-15zM630 305h5v5h-5zM690 305h10v5h-10zM630 310h5v5h-5zM695 310h15v5h-15zM630 315h5v5h-5zM700 315h15v5h-15zM630 320h5v5h-5zM705 320h15v5h-15zM630 325h5v5h-5zM710 325h15v5h-15zM630 330h5v5h-5zM715 330h20v5h-20zM635 335h5v5h-5zM725 335h20v5h-20zM635 340h5v5h-5zM665 340h20v5h-20zM735 340h20v5h-20zM635 345h10v5h-10zM660 345h25v5h-25zM745 345h20v5h-20zM640 350h5v5h-5zM660 350h25v5h-25zM755 350h15v5h-15zM640 355h10v5h-10zM655 355h30v5h-30zM760 355h15v5h-15zM640 360h10v5h-10zM660 360h25v5h-25zM770 360h5v5h-5zM640 365h10v5h-10zM670 365h5v5h-5zM645 370h5v5h-5zM640 375h10v5h-10zM640 380h5v5h-5zM640 385h5v5h-5zM640 390h5v5h-5zM635 405h5v5h-5zM635 410h5v5h-5zM630 430h5v5h-5zM630 435h5v5h-5zM630 440h5v5h-5zM630 445h5v5h-5zM630 450h5v5h-5zM630 455h5v5h-5zM630 460h5v5h-5zM630 490h5v5h-5zM630 495h5v5h-5zM630 500h5v5h-5zM630 505h5v5h-5zM630 510h5v5h-5zM630 515h5v5h-5zM630 520h5v5h-5zM630 525h10v5h-10zM635 530h5v5h-5zM635 535h10v5h-10zM640 540h10v5h-10zM645 545h10v5h-10zM650 550h10v5h-10zM655 555h5v5h-5zM660 560h5v5h-5zM665 565h5v5h-5zM665 570h5v5h-5zM670 575h5v5h-5zM670 580h5v5h-5zM670 585h5v5h-5zM675 590h5v5h-5zM675 595h5v5h-5zM680 600h5v5h-5zM680 605h5v5h-5zM680 610h5v5h-5zM685 615h5v5h-5zM685 620h5v5h-5zM685 625h10v5h-10zM690 630h10v5h-10zM690 635h10v5h-10zM695 640h15v5h-15zM695 645h15v5h-15zM700 650h10v5h-10zM700 655h10v5h-10zM700 660h10v5h-10zM705 665h5v5h-5zM705 670h5v5h-5zM705 675h5v5h-5zM705 680h5v5h-5zM705 685h10v5h-10zM710 690h5v5h-5zM710 695h5v5h-5zM710 700h10v5h-10zM715 705h5v5h-5zM715 710h10v5h-10zM720 715h10v5h-10zM780 715h10v5h-10zM720 720h15v5h-15zM765 720h25v5h-25zM725 725h65v5h-65zM730 730h60v5h-60zM745 735h45v5h-45zM215 885h5v5h-5zM215 890h10v5h-10zM215 895h15v5h-15zM215 900h15v5h-15zM220 905h10v5h-10z"/>
<path fill="#648bbe" d="M630 285h30v5h-30zM625 290h10v5h-10zM665 290h20v5h-20zM625 295h5v5h-5zM685 295h15v5h-15zM625 300h5v5h-5zM695 300h15v5h-15zM625 305h5v5h-5zM700 305h15v5h-15zM625 310h5v5h-5zM710 310h10v5h-10zM625 315h5v5h-5zM715 315h15v5h-15zM625 320h5v5h-5zM720 320h15v5h-15zM625 325h5v5h-5zM725 325h20v5h-20zM625 330h5v5h-5zM735 330h15v5h-15zM630 335h5v5h-5zM745 335h15v5h-15zM630 340h5v5h-5zM755 340h10v5h-10zM630 345h5v5h-5zM765 345h10v5h-10zM635 350h5v5h-5zM770 350h5v5h-5zM635 355h5v5h-5zM635 360h5v5h-5zM635 365h5v5h-5zM640 370h5v5h-5zM635 385h5v5h-5zM635 390h5v5h-5zM635 395h5v5h-5zM635 400h5v5h-5zM630 415h5v5h-5zM630 420h5v5h-5zM630 425h5v5h-5zM630 465h5v5h-5zM630 470h5v5h-5zM630 475h5v5h-5zM630 480h5v5h-5zM630 485h5v5h-5zM625 495h5v5h-5zM625 500h5v5h-5zM625 505h5v5h-5zM620 510h10v5h-10zM620 515h10v5h-10zM625 520h5v5h-5zM625 525h5v5h-5zM625 530h10v5h-10zM630 535h5v5h-5zM635 540h5v5h-5zM640 545h5v5h-5zM645 550h5v5h-5zM650 555h5v5h-5zM655 560h5v5h-5zM660 565h5v5h-5zM665 575h5v5h-5zM665 580h5v5h-5zM670 590h5v5h-5zM670 595h5v5h-5zM675 600h5v5h-5zM675 605h5v5h-5zM675 610h5v5h-5zM680 615h5v5h-5zM680 620h5v5h-5zM680 625h5v5h-5zM680 630h10v5h-10zM685 635h5v5h-5zM685 640h10v5h-10zM690 645h5v5h-5zM690 650h10v5h-10zM695 655h5v5h-5zM695 660h5v5h-5zM695 665h10v5h-10zM700 670h5v5h-5zM700 675h5v5h-5zM700 680h5v5h-5zM700 685h5v5h-5zM705 690h5v5h-5zM705 695h5v5h-5zM705 700h5v5h-5zM710 705h5v5h-5zM710 710h5v5h-5zM710 715h10v5h-10zM715 720h5v5h-5zM715 725h10v5h-10zM720 730h10v5h-10zM725 735h20v5h-20zM730 740h50v5h-50zM740 745h35v5h-35zM755 750h10v5h-10zM215 875h10v5h-10zM215 880h15v5h-15zM220 885h15v5h-15zM225 890h10v5h-10zM230 895h10v5h-10zM230 900h10v5h-10zM230 905h10v5h-10z"/>
<path fill="#6792c2" d="M625 280h30v5h-30zM625 285h5v5h-5zM660 285h25v5h-25zM685 290h20v5h-20zM620 295h5v5h-5zM700 295h15v5h-15zM620 300h5v5h-5zM710 300h10v5h-10zM620 305h5v5h-5zM715 305h15v5h-15zM620 310h5v5h-5zM720 310h20v5h-20zM620 315h5v5h-5zM730 315h15v5h-15zM620 320h5v5h-5zM735 320h20v5h-20zM620 325h5v5h-5zM745 325h15v5h-15zM750 330h15v5h-15zM625 335h5v5h-5zM760 335h10v5h-10zM625 340h5v5h-5zM765 340h15v5h-15zM625 345h5v5h-5zM775 345h10v5h-10zM630 350h5v5h-5zM630 355h5v5h-5zM630 360h5v5h-5zM635 370h5v5h-5zM635 375h5v5h-5zM635 380h5v5h-5zM630 400h5v5h-5zM630 405h5v5h-5zM630 410h5v5h-5zM625 435h5v5h-5zM625 440h5v5h-5zM625 445h5v5h-5zM625 450h5v5h-5zM625 455h5v5h-5zM625 485h5v5h-5zM625 490h5v5h-5zM620 495h5v5h-5zM620 500h5v5h-5zM615 505h10v5h-10zM615 510h5v5h-5zM610 515h10v5h-10zM605 520h20v5h-20zM605 525h20v5h-20zM615 530h10v5h-10zM625 535h5v5h-5zM630 540h5v5h-5zM635 545h5v5h-5zM640 550h5v5h-5zM655 565h5v5h-5zM660 570h5v5h-5zM660 575h5v5h-5zM665 585h5v5h-5zM665 590h5v5h-5zM670 600h5v5h-5zM670 605h5v5h-5zM675 615h5v5h-5zM675 620h5v5h-5zM675 625h5v5h-5zM680 635h5v5h-5zM680 640h5v5h-5zM685 645h5v5h-5zM685 650h5v5h-5zM690 655h5v5h-5zM690 660h5v5h-5zM690 665h5v5h-5zM695 670h5v5h-5zM695 675h5v5h-5zM695 680h5v5h-5zM695 685h5v5h-5zM700 690h5v5h-5zM700 695h5v5h-5zM700 700h5v5h-5zM705 705h5v5h-5zM705 710h5v5h-5zM705 715h5v5h-5zM710 720h5v5h-5zM710 725h5v5h-5zM710 730h10v5h-10zM715 735h10v5h-10zM720 740h10v5h-10zM720 745h20v5h-20zM730 750h25v5h-25zM735 755h25v5h-25zM745 760h10v5h-10zM220 870h10v5h-10zM225 875h10v5h-10zM230 880h10v5h-10zM235 885h5v5h-5zM235 890h10v5h-10zM240 895h5v5h-5zM240 900h5v5h-5zM240 905h5v5h-5z"/>
<path fill="#6b99c6" d="M625 270h10v5h-10zM625 275h25v5h-25zM620 280h5v5h-5zM655 280h30v5h-30zM620 285h5v5h-5zM685 285h25v5h-25zM620 290h5v5h-5zM705 290h15v5h-15zM715 295h20v5h-20zM720 300h35v5h-35zM730 305h35v5h-35zM615 310h5v5h-5zM740 310h35v5h-35zM615 315h5v5h-5zM745 315h35v5h-35zM615 320h5v5h-5zM755 320h30v5h-30zM760 325h25v5h-25zM620 330h5v5h-5zM765 330h25v5h-25zM620 335h5v5h-5zM770 335h25v5h-25zM620 340h5v5h-5zM780 340h20v5h-20zM785 345h20v5h-20zM625 350h5v5h-5zM625 355h5v5h-5zM630 365h5v5h-5zM630 370h5v5h-5zM630 375h5v5h-5zM630 380h5v5h-5zM630 385h5v5h-5zM630 390h5v5h-5zM630 395h5v5h-5zM625 415h5v5h-5zM625 420h5v5h-5zM625 425h5v5h-5zM625 430h5v5h-5zM625 460h5v5h-5zM625 465h5v5h-5zM625 470h5v5h-5zM625 475h5v5h-5zM625 480h5v5h-5zM620 490h5v5h-5zM615 500h5v5h-5zM610 505h5v5h-5zM605 510h10v5h-10zM595 515h15v5h-15zM590 520h15v5h-15zM585 525h20v5h-20zM590 530h25v5h-25zM605 535h20v5h-20zM620 540h10v5h-10zM630 545h5v5h-5zM635 550h5v5h-5zM645 555h5v5h-5zM650 560h5v5h-5zM655 570h5v5h-5zM660 580h5v5h-5zM660 585h5v5h-5zM665 595h5v5h-5zM665 600h5v5h-5zM670 610h5v5h-5zM670 615h5v5h-5zM670 620h5v5h-5zM675 630h5v5h-5zM675 635h5v5h-5zM675 640h5v5h-5zM680 645h5v5h-5zM680 650h5v5h-5zM685 655h5v5h-5zM685 660h5v5h-5zM685 665h5v5h-5zM690 670h5v5h-5zM690 675h5v5h-5zM690 680h5v5h-5zM690 685h5v5h-5zM695 690h5v5h-5zM695 695h5v5h-5zM695 700h5v5h-5zM700 705h5v5h-5zM700 710h5v5h-5zM700 715h5v5h-5zM705 720h5v5h-5zM705 725h5v5h-5zM705 730h5v5h-5zM710 735h5v5h-5zM710 740h10v5h-10zM715 745h5v5h-5zM715 750h15v5h-15zM720 755h15v5h-15zM725 760h20v5h-20zM735 765h20v5h-20zM745 770h5v5h-5zM220 865h10v5h-10zM230 870h10v5h-10zM235 875h5v5h-5zM240 880h5v5h-5zM240 885h5v5h-5zM245 890h5v5h-5zM245 895h5v5h-5zM245 900h5v5h-5zM245 905h5v5h-5zM245 910h5v5h-5z"/>
<path fill="#6fa0c9" d="M805 210h5v5h-5zM805 215h5v5h-5zM805 220h5v5h-5zM805 225h5v5h-5zM805 230h5v5h-5zM805 235h5v5h-5zM800 240h10v5h-10zM800 245h10v5h-10zM795 250h15v5h-15zM790 255h20v5h-20zM785 260h25v5h-25zM775 265h35v5h-35zM620 270h5v5h-5zM635 270h15v5h-15zM765 270h45v5h-45zM620 275h5v5h-5zM650 275h40v5h-40zM750 275h60v5h-60zM685 280h125v5h-125zM710 285h100v5h-100zM615 290h5v5h-5zM720 290h90v5h-90zM615 295h5v5h-5zM735 295h75v5h-75zM615 300h5v5h-5zM755 300h55v5h-55zM615 305h5v5h-5zM765 305h45v5h-45zM775 310h35v5h-35zM780 315h30v5h-30zM785 320h25v5h-25zM615 325h5v5h-5zM785 325h25v5h-25zM615 330h5v5h-5zM790 330h20v5h-20zM615 335h5v5h-5zM795 335h15v5h-15zM800 340h5v5h-5zM620 345h5v5h-5zM620 350h5v5h-5zM625 360h5v5h-5zM625 365h5v5h-5zM625 395h5v5h-5zM625 400h5v5h-5zM625 405h5v5h-5zM625 410h5v5h-5zM620 435h5v5h-5zM620 440h5v5h-5zM620 445h5v5h-5zM620 450h5v5h-5zM620 455h5v5h-5zM620 480h5v5h-5zM620 485h5v5h-5zM615 490h5v5h-5zM615 495h5v5h-5zM610 500h5v5h-5zM600 505h10v5h-10zM595 510h10v5h-10zM585 515h10v5h-10zM580 520h10v5h-10zM580 525h5v5h-5zM585 530h5v5h-5zM590 535h15v5h-15zM610 540h10v5h-10zM625 545h5v5h-5zM630 550h5v5h-5zM640 555h5v5h-5zM645 560h5v5h-5zM650 565h5v5h-5zM655 575h5v5h-5zM660 590h5v5h-5zM140 595h5v5h-5zM665 605h5v5h-5zM145 610h5v5h-5zM665 610h5v5h-5zM665 615h5v5h-5zM150 620h5v5h-5zM155 625h5v5h-5zM670 625h5v5h-5zM155 630h10v5h-10zM670 630h5v5h-5zM160 635h5v5h-5zM670 635h5v5h-5zM160 640h10v5h-10zM675 645h5v5h-5zM675 650h5v5h-5zM680 655h5v5h-5zM680 660h5v5h-5zM685 670h5v5h-5zM685 675h5v5h-5zM685 680h5v5h-5zM690 690h5v5h-5zM690 695h5v5h-5zM695 705h5v5h-5zM695 710h5v5h-5zM695 715h5v5h-5zM700 720h5v5h-5zM700 725h5v5h-5zM700 730h5v5h-5zM705 735h5v5h-5zM705 740h5v5h-5zM705 745h10v5h-10zM710 750h5v5h-5zM715 755h5v5h-5zM715 760h10v5h-10zM720 765h15v5h-15zM725 770h20v5h-20zM730 775h10v5h-10zM735 780h10v5h-10zM735 785h15v5h-15zM740 790h10v5h-10zM740 795h10v5h-10zM740 800h10v5h-10zM740 805h10v5h-10zM740 810h10v5h-10zM740 815h10v5h-10zM220 860h10v5h-10zM230 865h10v5h-10zM240 870h5v5h-5zM240 875h10v5h-10zM245 880h5v5h-5zM245 885h5v5h-5z"/>
<path fill="#72a8cc" d="M770 175h35v5h-35zM770 180h35v5h-35zM770 185h35v5h-35zM770 190h35v5h-35zM770 195h35v5h-35zM770 200h40v5h-40zM770 205h40v5h-40zM765 210h40v5h-40zM765 215h40v5h-40zM765 220h40v5h-40zM765 225h40v5h-40zM765 230h40v5h-40zM765 235h40v5h-40zM765 240h35v5h-35zM760 245h40v5h-40zM755 250h40v5h-40zM745 255h45v5h-45zM730 260h55v5h-55zM640 265h20v5h-20zM720 265h55v5h-55zM650 270h115v5h-115zM690 275h60v5h-60zM615 280h5v5h-5zM615 285h5v5h-5zM610 305h5v5h-5zM610 310h5v5h-5zM610 315h5v5h-5zM610 320h5v5h-5zM610 325h5v5h-5zM610 330h5v5h-5zM615 340h5v5h-5zM615 345h5v5h-5zM620 355h5v5h-5zM620 360h5v5h-5zM625 370h5v5h-5zM625 375h5v5h-5zM625 380h5v5h-5zM625 385h5v5h-5zM625 390h5v5h-5zM620 415h5v5h-5zM620 420h5v5h-5zM620 425h5v5h-5zM620 430h5v5h-5zM620 460h5v5h-5zM620 465h5v5h-5zM620 470h5v5h-5zM620 475h5v5h-5zM615 485h5v5h-5zM610 495h5v5h-5zM605 500h5v5h-5zM595 505h5v5h-5zM585 510h10v5h-10zM580 515h5v5h-5zM575 520h5v5h-5zM575 525h5v5h-5zM575 530h10v5h-10zM585 535h5v5h-5zM595 540h15v5h-15zM615 545h10v5h-10zM625 550h5v5h-5zM635 555h5v5h-5zM640 560h5v5h-5zM645 565h5v5h-5zM650 570h5v5h-5zM655 580h5v5h-5zM655 585h5v5h-5zM140 590h5v5h-5zM145 595h5v5h-5zM660 595h5v5h-5zM145 600h5v5h-5zM660 600h5v5h-5zM145 605h10v5h-10zM150 610h5v5h-5zM150 615h10v5h-10zM155 620h10v5h-10zM665 620h5v5h-5zM160 625h10v5h-10zM665 625h5v5h-5zM165 630h5v5h-5zM165 635h10v5h-10zM170 640h5v5h-5zM670 640h5v5h-5zM170 645h5v5h-5zM670 645h5v5h-5zM675 655h5v5h-5zM675 660h5v5h-5zM680 665h5v5h-5zM680 670h5v5h-5zM680 675h5v5h-5zM685 685h5v5h-5zM685 690h5v5h-5zM210 695h5v5h-5zM210 700h15v5h-15zM690 700h5v5h-5zM210 705h20v5h-20zM690 705h5v5h-5zM690 710h5v5h-5zM695 720h5v5h-5zM695 725h5v5h-5zM695 730h5v5h-5zM700 735h5v5h-5zM700 740h5v5h-5zM700 745h5v5h-5zM705 750h5v5h-5zM705 755h10v5h-10zM710 760h5v5h-5zM710 765h10v5h-10zM715 770h10v5h-10zM715 775h15v5h-15zM720 780h15v5h-15zM720 785h15v5h-15zM720 790h20v5h-20zM720 795h20v5h-20zM720 800h20v5h-20zM720 805h20v5h-20zM720 810h20v5h-20zM720 815h20v5h-20zM720 820h15v5h-15zM720 825h5v5h-5zM225 855h10v5h-10zM230 860h15v5h-15zM240 865h10v5h-10zM245 870h5v5h-5zM250 880h5v5h-5zM250 885h5v5h-5zM250 890h5v5h-5zM250 895h5v5h-5zM250 900h5v5h-5zM250 905h5v5h-5zM250 910h5v5h-5z"/>
<path fill="#76afd0" d="M750 175h20v5h-20zM750 180h20v5h-20zM750 185h20v5h-20zM750 190h20v5h-20zM750 195h20v5h-20zM750 200h20v5h-20zM745 205h25v5h-25zM745 210h20v5h-20zM740 215h25v5h-25zM740 220h25v5h-25zM735 225h30v5h-30zM730 230h35v5h-35zM725 235h40v5h-40zM715 240h50v5h-50zM710 245h50v5h-50zM700 250h55v5h-55zM640 255h15v5h-15zM675 255h70v5h-70zM640 260h90v5h-90zM660 265h60v5h-60zM615 270h5v5h-5zM615 275h5v5h-5zM610 295h5v5h-5zM610 300h5v5h-5zM610 335h5v5h-5zM610 340h5v5h-5zM615 350h5v5h-5zM615 355h5v5h-5zM620 365h5v5h-5zM620 370h5v5h-5zM620 375h5v5h-5zM620 380h5v5h-5zM620 385h5v5h-5zM620 390h5v5h-5zM620 395h5v5h-5zM620 400h5v5h-5zM620 405h5v5h-5zM620 410h5v5h-5zM615 465h5v5h-5zM615 470h5v5h-5zM615 475h5v5h-5zM615 480h5v5h-5zM610 485h5v5h-5zM610 490h5v5h-5zM605 495h5v5h-5zM595 500h10v5h-10zM590 505h5v5h-5zM580 510h5v5h-5zM575 515h5v5h-5zM570 525h5v5h-5zM580 535h5v5h-5zM585 540h10v5h-10zM605 545h10v5h-10zM620 550h5v5h-5zM630 555h5v5h-5zM650 575h5v5h-5zM135 585h10v5h-10zM145 590h5v5h-5zM655 590h5v5h-5zM150 600h5v5h-5zM660 605h5v5h-5zM155 610h5v5h-5zM660 610h5v5h-5zM160 615h5v5h-5zM660 615h5v5h-5zM165 620h5v5h-5zM170 625h5v5h-5zM170 630h10v5h-10zM665 630h5v5h-5zM175 635h5v5h-5zM665 635h5v5h-5zM175 640h5v5h-5zM665 640h5v5h-5zM175 645h5v5h-5zM180 650h5v5h-5zM670 650h5v5h-5zM670 655h5v5h-5zM675 665h5v5h-5zM675 670h5v5h-5zM680 680h5v5h-5zM210 685h10v5h-10zM680 685h5v5h-5zM210 690h15v5h-15zM215 695h15v5h-15zM685 695h5v5h-5zM225 700h10v5h-10zM685 700h5v5h-5zM230 705h5v5h-5zM685 705h5v5h-5zM690 715h5v5h-5zM690 720h5v5h-5zM690 725h5v5h-5zM695 735h5v5h-5zM695 740h5v5h-5zM700 750h5v5h-5zM700 755h5v5h-5zM700 760h10v5h-10zM705 765h5v5h-5zM705 770h10v5h-10zM705 775h10v5h-10zM710 780h10v5h-10zM710 785h10v5h-10zM710 790h10v5h-10zM710 795h10v5h-10zM710 800h10v5h-10zM710 805h10v5h-10zM710 810h10v5h-10zM710 815h10v5h-10zM710 820h10v5h-10zM715 825h5v5h-5zM230 845h10v5h-10zM230 850h15v5h-15zM235 855h15v5h-15zM245 860h5v5h-5zM250 865h5v5h-5zM250 870h5v5h-5zM250 875h5v5h-5z"/>
<path fill="#79b2cd" d="M720 175h30v5h-30zM715 180h35v5h-35zM715 185h35v5h-35zM710 190h40v5h-40zM700 195h50v5h-50zM695 200h55v5h-55zM695 205h50v5h-50zM690 210h55v5h-55zM680 215h60v5h-60zM675 220h65v5h-65zM675 225h60v5h-60zM675 230h55v5h-55zM640 235h85v5h-85zM640 240h75v5h-75zM640 245h70v5h-70zM640 250h60v5h-60zM655 255h20v5h-20zM610 285h5v5h-5zM610 290h5v5h-5zM605 305h5v5h-5zM605 310h5v5h-5zM605 315h5v5h-5zM605 320h5v5h-5zM605 325h5v5h-5zM605 330h5v5h-5zM605 335h5v5h-5zM610 345h5v5h-5zM610 350h5v5h-5zM615 360h5v5h-5zM615 365h5v5h-5zM615 410h5v5h-5zM615 415h5v5h-5zM615 420h5v5h-5zM615 425h5v5h-5zM615 430h5v5h-5zM615 435h5v5h-5zM615 440h5v5h-5zM615 445h5v5h-5zM615 450h5v5h-5zM615 455h5v5h-5zM615 460h5v5h-5zM610 480h5v5h-5zM605 490h5v5h-5zM600 495h5v5h-5zM590 500h5v5h-5zM585 505h5v5h-5zM575 510h5v5h-5zM570 515h5v5h-5zM570 520h5v5h-5zM570 530h5v5h-5zM575 535h5v5h-5zM580 540h5v5h-5zM595 545h10v5h-10zM615 550h5v5h-5zM635 560h5v5h-5zM640 565h5v5h-5zM645 570h5v5h-5zM135 580h10v5h-10zM650 580h5v5h-5zM145 585h5v5h-5zM650 585h5v5h-5zM150 590h5v5h-5zM150 595h5v5h-5zM655 595h5v5h-5zM155 600h5v5h-5zM655 600h5v5h-5zM155 605h5v5h-5zM160 610h5v5h-5zM165 615h5v5h-5zM170 620h5v5h-5zM660 620h5v5h-5zM175 625h5v5h-5zM660 625h5v5h-5zM180 635h5v5h-5zM180 640h5v5h-5zM180 645h5v5h-5zM665 645h5v5h-5zM185 650h5v5h-5zM665 650h5v5h-5zM670 660h5v5h-5zM670 665h5v5h-5zM675 675h5v5h-5zM210 680h10v5h-10zM675 680h5v5h-5zM220 685h5v5h-5zM225 690h5v5h-5zM680 690h5v5h-5zM230 695h10v5h-10zM680 695h5v5h-5zM235 700h5v5h-5zM685 710h5v5h-5zM685 715h5v5h-5zM690 730h5v5h-5zM690 735h5v5h-5zM695 745h5v5h-5zM695 750h5v5h-5zM695 755h5v5h-5zM695 760h5v5h-5zM700 765h5v5h-5zM700 770h5v5h-5zM700 775h5v5h-5zM700 780h10v5h-10zM700 785h10v5h-10zM700 790h10v5h-10zM700 795h10v5h-10zM700 800h10v5h-10zM700 805h10v5h-10zM700 810h10v5h-10zM700 815h10v5h-10zM705 820h5v5h-5zM705 825h10v5h-10zM230 830h5v5h-5zM705 830h5v5h-5zM235 835h5v5h-5zM230 840h15v5h-15zM240 845h10v5h-10zM245 850h10v5h-10zM250 855h5v5h-5zM250 860h5v5h-5zM255 865h5v5h-5zM255 870h5v5h-5zM255 875h5v5h-5zM255 880h5v5h-5zM255 885h5v5h-5zM255 890h5v5h-5zM255 895h5v5h-5zM255 900h5v5h-5zM255 905h5v5h-5z"/>
<path fill="#7cb6ca" d="M705 175h15v5h-15zM700 180h15v5h-15zM700 185h15v5h-15zM700 190h10v5h-10zM685 195h15v5h-15zM680 200h15v5h-15zM675 205h20v5h-20zM675 210h15v5h-15zM675 215h5v5h-5zM610 275h5v5h-5zM610 280h5v5h-5zM605 300h5v5h-5zM600 320h5v5h-5zM600 325h5v5h-5zM605 340h5v5h-5zM605 345h5v5h-5zM610 355h5v5h-5zM610 360h5v5h-5zM615 370h5v5h-5zM615 375h5v5h-5zM615 380h5v5h-5zM615 385h5v5h-5zM615 390h5v5h-5zM615 395h5v5h-5zM615 400h5v5h-5zM615 405h5v5h-5zM610 460h5v5h-5zM610 465h5v5h-5zM610 470h5v5h-5zM610 475h5v5h-5zM605 480h5v5h-5zM605 485h5v5h-5zM600 490h5v5h-5zM595 495h5v5h-5zM580 505h5v5h-5zM565 520h5v5h-5zM565 525h5v5h-5zM565 530h5v5h-5zM570 535h5v5h-5zM575 540h5v5h-5zM590 545h5v5h-5zM610 550h5v5h-5zM625 555h5v5h-5zM135 575h10v5h-10zM645 575h5v5h-5zM145 580h5v5h-5zM150 585h5v5h-5zM650 590h5v5h-5zM155 595h5v5h-5zM160 605h5v5h-5zM655 605h5v5h-5zM165 610h5v5h-5zM655 610h5v5h-5zM170 615h5v5h-5zM655 615h5v5h-5zM175 620h5v5h-5zM180 625h5v5h-5zM180 630h5v5h-5zM660 630h5v5h-5zM185 635h5v5h-5zM660 635h5v5h-5zM185 640h5v5h-5zM660 640h5v5h-5zM185 645h5v5h-5zM665 655h5v5h-5zM670 670h5v5h-5zM215 675h5v5h-5zM220 680h5v5h-5zM225 685h5v5h-5zM675 685h5v5h-5zM230 690h10v5h-10zM675 690h5v5h-5zM240 695h5v5h-5zM680 700h5v5h-5zM680 705h5v5h-5zM680 710h5v5h-5zM685 720h5v5h-5zM685 725h5v5h-5zM685 730h5v5h-5zM690 740h5v5h-5zM690 745h5v5h-5zM690 750h5v5h-5zM690 755h5v5h-5zM695 765h5v5h-5zM695 770h5v5h-5zM695 775h5v5h-5zM695 780h5v5h-5zM690 785h10v5h-10zM690 790h10v5h-10zM690 795h10v5h-10zM690 800h10v5h-10zM690 805h10v5h-10zM690 810h10v5h-10zM690 815h10v5h-10zM230 820h5v5h-5zM690 820h15v5h-15zM230 825h15v5h-15zM690 825h15v5h-15zM235 830h15v5h-15zM690 830h15v5h-15zM240 835h10v5h-10zM695 835h5v5h-5zM245 840h10v5h-10zM250 845h5v5h-5zM255 850h5v5h-5zM255 855h5v5h-5zM255 860h5v5h-5zM260 865h5v5h-5zM590 865h15v5h-15zM260 870h5v5h-5zM590 870h20v5h-20zM260 875h5v5h-5zM590 875h25v5h-25zM260 880h5v5h-5zM590 880h30v5h-30zM260 885h5v5h-5zM595 885h30v5h-30zM260 890h5v5h-5zM600 890h25v5h-25zM610 895h15v5h-15zM620 900h5v5h-5zM255 910h5v5h-5z"/>
<path fill="#80b9c8" d="M610 270h5v5h-5zM605 290h5v5h-5zM605 295h5v5h-5zM600 310h5v5h-5zM600 315h5v5h-5zM600 330h5v5h-5zM600 335h5v5h-5zM600 340h5v5h-5zM605 350h5v5h-5zM605 355h5v5h-5zM610 365h5v5h-5zM610 370h5v5h-5zM610 400h5v5h-5zM610 405h5v5h-5zM610 410h5v5h-5zM610 415h5v5h-5zM610 420h5v5h-5zM610 425h5v5h-5zM610 430h5v5h-5zM610 435h5v5h-5zM610 440h5v5h-5zM610 445h5v5h-5zM610 450h5v5h-5zM610 455h5v5h-5zM605 475h5v5h-5zM600 485h5v5h-5zM595 490h5v5h-5zM590 495h5v5h-5zM585 500h5v5h-5zM575 505h5v5h-5zM570 510h5v5h-5zM565 515h5v5h-5zM560 525h5v5h-5zM565 535h5v5h-5zM585 545h5v5h-5zM600 550h10v5h-10zM620 555h5v5h-5zM630 560h5v5h-5zM130 565h5v5h-5zM635 565h5v5h-5zM135 570h5v5h-5zM640 570h5v5h-5zM645 580h5v5h-5zM155 590h5v5h-5zM650 595h5v5h-5zM160 600h5v5h-5zM650 600h5v5h-5zM170 610h5v5h-5zM175 615h5v5h-5zM180 620h5v5h-5zM655 620h5v5h-5zM655 625h5v5h-5zM185 630h5v5h-5zM190 640h5v5h-5zM190 645h5v5h-5zM660 645h5v5h-5zM190 650h5v5h-5zM660 650h5v5h-5zM665 660h5v5h-5zM665 665h5v5h-5zM215 670h5v5h-5zM220 675h5v5h-5zM670 675h5v5h-5zM225 680h5v5h-5zM670 680h5v5h-5zM230 685h5v5h-5zM675 695h5v5h-5zM675 700h5v5h-5zM680 715h5v5h-5zM680 720h5v5h-5zM685 735h5v5h-5zM685 740h5v5h-5zM685 745h5v5h-5zM690 760h5v5h-5zM690 765h5v5h-5zM690 770h5v5h-5zM690 775h5v5h-5zM685 780h10v5h-10zM685 785h5v5h-5zM685 790h5v5h-5zM685 795h5v5h-5zM240 800h15v5h-15zM685 800h5v5h-5zM230 805h25v5h-25zM680 805h10v5h-10zM230 810h25v5h-25zM680 810h10v5h-10zM230 815h25v5h-25zM680 815h10v5h-10zM235 820h20v5h-20zM675 820h15v5h-15zM245 825h10v5h-10zM675 825h15v5h-15zM250 830h10v5h-10zM675 830h15v5h-15zM250 835h10v5h-10zM675 835h20v5h-20zM255 840h5v5h-5zM670 840h30v5h-30zM255 845h10v5h-10zM665 845h25v5h-25zM260 850h5v5h-5zM655 850h25v5h-25zM260 855h5v5h-5zM580 855h25v5h-25zM655 855h25v5h-25zM260 860h5v5h-5zM580 860h30v5h-30zM650 860h30v5h-30zM580 865h10v5h-10zM605 865h15v5h-15zM650 865h25v5h-25zM580 870h10v5h-10zM610 870h10v5h-10zM645 870h30v5h-30zM580 875h10v5h-10zM615 875h10v5h-10zM645 875h25v5h-25zM575 880h15v5h-15zM620 880h5v5h-5zM580 885h15v5h-15zM580 890h20v5h-20zM260 895h5v5h-5zM585 895h25v5h-25zM260 900h5v5h-5zM590 900h30v5h-30zM260 905h5v5h-5zM595 905h30v5h-30zM600 910h20v5h-20zM605 915h10v5h-10z"/>
<path fill="#83bcc5" d="M605 280h5v5h-5zM605 285h5v5h-5zM600 300h5v5h-5zM600 305h5v5h-5zM595 320h5v5h-5zM595 325h5v5h-5zM595 330h5v5h-5zM600 345h5v5h-5zM605 360h5v5h-5zM610 375h5v5h-5zM610 380h5v5h-5zM610 385h5v5h-5zM610 390h5v5h-5zM610 395h5v5h-5zM605 465h5v5h-5zM605 470h5v5h-5zM600 480h5v5h-5zM580 500h5v5h-5zM565 510h5v5h-5zM560 520h5v5h-5zM560 530h5v5h-5zM570 540h5v5h-5zM580 545h5v5h-5zM595 550h5v5h-5zM615 555h5v5h-5zM130 560h5v5h-5zM625 560h5v5h-5zM135 565h5v5h-5zM140 570h5v5h-5zM145 575h5v5h-5zM640 575h5v5h-5zM150 580h5v5h-5zM155 585h5v5h-5zM645 585h5v5h-5zM645 590h5v5h-5zM160 595h5v5h-5zM165 605h5v5h-5zM650 605h5v5h-5zM650 610h5v5h-5zM185 625h5v5h-5zM190 630h5v5h-5zM655 630h5v5h-5zM190 635h5v5h-5zM655 635h5v5h-5zM655 640h5v5h-5zM195 645h5v5h-5zM195 650h5v5h-5zM660 655h5v5h-5zM220 670h5v5h-5zM665 670h5v5h-5zM225 675h5v5h-5zM665 675h5v5h-5zM230 680h5v5h-5zM235 685h5v5h-5zM670 685h5v5h-5zM240 690h5v5h-5zM670 690h5v5h-5zM245 695h5v5h-5zM675 705h5v5h-5zM675 710h5v5h-5zM680 725h5v5h-5zM680 730h5v5h-5zM680 735h5v5h-5zM685 750h5v5h-5zM685 755h5v5h-5zM685 760h5v5h-5zM685 765h5v5h-5zM685 770h5v5h-5zM685 775h5v5h-5zM680 785h5v5h-5zM680 790h5v5h-5zM680 795h5v5h-5zM255 800h10v5h-10zM675 800h10v5h-10zM255 805h10v5h-10zM675 805h5v5h-5zM255 810h10v5h-10zM675 810h5v5h-5zM255 815h10v5h-10zM670 815h10v5h-10zM255 820h10v5h-10zM670 820h5v5h-5zM255 825h10v5h-10zM665 825h10v5h-10zM260 830h5v5h-5zM660 830h15v5h-15zM260 835h5v5h-5zM655 835h20v5h-20zM260 840h5v5h-5zM650 840h20v5h-20zM265 845h5v5h-5zM575 845h20v5h-20zM645 845h20v5h-20zM265 850h5v5h-5zM570 850h40v5h-40zM640 850h15v5h-15zM265 855h5v5h-5zM570 855h10v5h-10zM605 855h10v5h-10zM635 855h20v5h-20zM265 860h5v5h-5zM570 860h10v5h-10zM610 860h10v5h-10zM630 860h20v5h-20zM265 865h5v5h-5zM570 865h10v5h-10zM630 865h20v5h-20zM265 870h5v5h-5zM570 870h10v5h-10zM630 870h15v5h-15zM265 875h5v5h-5zM570 875h10v5h-10zM265 880h5v5h-5zM570 880h5v5h-5zM265 885h5v5h-5zM570 885h10v5h-10zM265 890h5v5h-5zM570 890h10v5h-10zM265 895h5v5h-5zM570 895h15v5h-15zM575 900h15v5h-15zM580 905h15v5h-15zM260 910h5v5h-5zM580 910h20v5h-20zM585 915h20v5h-20z"/>
<path fill="#86c0c2" d="M605 275h5v5h-5zM600 295h5v5h-5zM595 310h5v5h-5zM595 315h5v5h-5zM595 335h5v5h-5zM595 340h5v5h-5zM600 350h5v5h-5zM600 355h5v5h-5zM605 365h5v5h-5zM605 370h5v5h-5zM605 375h5v5h-5zM605 380h5v5h-5zM605 385h5v5h-5zM605 390h5v5h-5zM605 395h5v5h-5zM605 400h5v5h-5zM605 405h5v5h-5zM605 410h5v5h-5zM605 415h5v5h-5zM605 420h5v5h-5zM605 425h5v5h-5zM605 430h5v5h-5zM605 435h5v5h-5zM605 440h5v5h-5zM605 445h5v5h-5zM605 450h5v5h-5zM605 455h5v5h-5zM605 460h5v5h-5zM600 470h5v5h-5zM600 475h5v5h-5zM595 485h5v5h-5zM590 490h5v5h-5zM585 495h5v5h-5zM575 500h5v5h-5zM570 505h5v5h-5zM560 515h5v5h-5zM555 520h5v5h-5zM555 525h5v5h-5zM560 535h5v5h-5zM565 540h5v5h-5zM575 545h5v5h-5zM590 550h5v5h-5zM130 555h10v5h-10zM610 555h5v5h-5zM135 560h5v5h-5zM620 560h5v5h-5zM140 565h5v5h-5zM630 565h5v5h-5zM145 570h5v5h-5zM635 570h5v5h-5zM150 575h5v5h-5zM640 580h5v5h-5zM645 595h5v5h-5zM165 600h5v5h-5zM170 605h5v5h-5zM175 610h5v5h-5zM180 615h5v5h-5zM650 615h5v5h-5zM185 620h5v5h-5zM650 620h5v5h-5zM190 625h5v5h-5zM650 625h5v5h-5zM195 635h5v5h-5zM195 640h5v5h-5zM655 645h5v5h-5zM200 650h5v5h-5zM655 650h5v5h-5zM660 660h5v5h-5zM660 665h5v5h-5zM225 670h5v5h-5zM230 675h5v5h-5zM235 680h5v5h-5zM665 680h5v5h-5zM240 685h5v5h-5zM665 685h5v5h-5zM245 690h5v5h-5zM670 695h5v5h-5zM670 700h5v5h-5zM670 705h5v5h-5zM675 715h5v5h-5zM675 720h5v5h-5zM675 725h5v5h-5zM680 740h5v5h-5zM680 745h5v5h-5zM680 750h5v5h-5zM680 755h5v5h-5zM680 760h5v5h-5zM680 765h5v5h-5zM680 770h5v5h-5zM680 775h5v5h-5zM680 780h5v5h-5zM675 790h5v5h-5zM675 795h5v5h-5zM265 800h5v5h-5zM265 805h5v5h-5zM670 805h5v5h-5zM265 810h5v5h-5zM670 810h5v5h-5zM265 815h5v5h-5zM665 815h5v5h-5zM265 820h5v5h-5zM660 820h10v5h-10zM265 825h5v5h-5zM655 825h10v5h-10zM265 830h5v5h-5zM650 830h10v5h-10zM265 835h5v5h-5zM565 835h20v5h-20zM645 835h10v5h-10zM265 840h5v5h-5zM565 840h30v5h-30zM640 840h10v5h-10zM565 845h10v5h-10zM595 845h15v5h-15zM635 845h10v5h-10zM270 850h5v5h-5zM565 850h5v5h-5zM610 850h30v5h-30zM270 855h5v5h-5zM565 855h5v5h-5zM615 855h20v5h-20zM270 860h5v5h-5zM560 860h10v5h-10zM270 865h5v5h-5zM560 865h10v5h-10zM270 870h5v5h-5zM555 870h15v5h-15zM270 875h5v5h-5zM550 875h20v5h-20zM270 880h5v5h-5zM550 880h20v5h-20zM555 885h15v5h-15zM560 890h10v5h-10zM560 895h10v5h-10zM265 900h5v5h-5zM565 900h10v5h-10zM265 905h5v5h-5zM565 905h15v5h-15zM570 910h10v5h-10zM575 915h10v5h-10zM580 920h10v5h-10zM585 925h5v5h-5z"/>
<path fill="#8ac3c0" d="M605 270h5v5h-5zM600 285h5v5h-5zM600 290h5v5h-5zM595 305h5v5h-5zM590 320h5v5h-5zM590 325h5v5h-5zM590 330h5v5h-5zM590 335h5v5h-5zM595 345h5v5h-5zM595 350h5v5h-5zM600 360h5v5h-5zM600 365h5v5h-5zM600 465h5v5h-5zM595 480h5v5h-5zM590 485h5v5h-5zM585 490h5v5h-5zM580 495h5v5h-5zM565 505h5v5h-5zM560 510h5v5h-5zM555 515h5v5h-5zM555 530h5v5h-5zM130 545h5v5h-5zM570 545h5v5h-5zM130 550h10v5h-10zM585 550h5v5h-5zM140 555h5v5h-5zM605 555h5v5h-5zM140 560h5v5h-5zM145 565h5v5h-5zM625 565h5v5h-5zM635 575h5v5h-5zM155 580h5v5h-5zM640 585h5v5h-5zM160 590h5v5h-5zM645 600h5v5h-5zM645 605h5v5h-5zM180 610h5v5h-5zM185 615h5v5h-5zM195 630h5v5h-5zM650 630h5v5h-5zM650 635h5v5h-5zM200 640h5v5h-5zM200 645h5v5h-5zM655 655h5v5h-5zM220 665h5v5h-5zM660 670h5v5h-5zM235 675h5v5h-5zM660 675h5v5h-5zM240 680h5v5h-5zM245 685h5v5h-5zM665 690h5v5h-5zM250 695h5v5h-5zM665 695h5v5h-5zM670 710h5v5h-5zM670 715h5v5h-5zM675 730h5v5h-5zM675 735h5v5h-5zM675 740h5v5h-5zM675 775h5v5h-5zM675 780h5v5h-5zM675 785h5v5h-5zM670 795h5v5h-5zM670 800h5v5h-5zM270 805h5v5h-5zM665 805h5v5h-5zM270 810h5v5h-5zM665 810h5v5h-5zM270 815h5v5h-5zM660 815h5v5h-5zM270 820h5v5h-5zM655 820h5v5h-5zM270 825h5v5h-5zM650 825h5v5h-5zM270 830h5v5h-5zM565 830h20v5h-20zM645 830h5v5h-5zM270 835h5v5h-5zM560 835h5v5h-5zM585 835h10v5h-10zM635 835h10v5h-10zM270 840h5v5h-5zM560 840h5v5h-5zM595 840h15v5h-15zM630 840h10v5h-10zM270 845h5v5h-5zM555 845h10v5h-10zM610 845h25v5h-25zM555 850h10v5h-10zM550 855h15v5h-15zM550 860h10v5h-10zM540 865h20v5h-20zM535 870h20v5h-20zM535 875h15v5h-15zM540 880h10v5h-10zM270 885h5v5h-5zM545 885h10v5h-10zM270 890h5v5h-5zM550 890h10v5h-10zM270 895h5v5h-5zM550 895h10v5h-10zM270 900h5v5h-5zM555 900h10v5h-10zM555 905h10v5h-10zM265 910h5v5h-5zM560 910h10v5h-10zM560 915h15v5h-15zM565 920h15v5h-15zM570 925h15v5h-15zM580 930h5v5h-5z"/>
<path fill="#8dc7bd" d="M600 280h5v5h-5zM595 300h5v5h-5zM590 315h5v5h-5zM590 340h5v5h-5zM590 345h5v5h-5zM595 355h5v5h-5zM600 370h5v5h-5zM600 375h5v5h-5zM600 380h5v5h-5zM600 385h5v5h-5zM600 390h5v5h-5zM600 395h5v5h-5zM600 400h5v5h-5zM600 405h5v5h-5zM600 410h5v5h-5zM600 415h5v5h-5zM600 420h5v5h-5zM600 425h5v5h-5zM600 455h5v5h-5zM600 460h5v5h-5zM595 470h5v5h-5zM595 475h5v5h-5zM570 500h5v5h-5zM555 510h5v5h-5zM550 520h5v5h-5zM550 525h5v5h-5zM550 530h5v5h-5zM555 535h5v5h-5zM130 540h5v5h-5zM560 540h5v5h-5zM135 545h5v5h-5zM140 550h5v5h-5zM410 550h15v5h-15zM580 550h5v5h-5zM410 555h15v5h-15zM595 555h10v5h-10zM145 560h5v5h-5zM405 560h20v5h-20zM615 560h5v5h-5zM405 565h20v5h-20zM150 570h5v5h-5zM630 570h5v5h-5zM155 575h5v5h-5zM635 580h5v5h-5zM160 585h5v5h-5zM640 590h5v5h-5zM165 595h5v5h-5zM170 600h5v5h-5zM175 605h5v5h-5zM645 610h5v5h-5zM645 615h5v5h-5zM190 620h5v5h-5zM645 620h5v5h-5zM195 625h5v5h-5zM200 635h5v5h-5zM650 640h5v5h-5zM205 645h5v5h-5zM650 645h5v5h-5zM655 660h5v5h-5zM225 665h5v5h-5zM655 665h5v5h-5zM230 670h5v5h-5zM660 680h5v5h-5zM660 685h5v5h-5zM250 690h5v5h-5zM665 700h5v5h-5zM665 705h5v5h-5zM670 720h5v5h-5zM670 725h5v5h-5zM670 730h5v5h-5zM675 745h5v5h-5zM675 750h5v5h-5zM675 755h5v5h-5zM675 760h5v5h-5zM675 765h5v5h-5zM675 770h5v5h-5zM670 785h5v5h-5zM670 790h5v5h-5zM665 800h5v5h-5zM660 810h5v5h-5zM275 815h5v5h-5zM655 815h5v5h-5zM275 820h5v5h-5zM650 820h5v5h-5zM275 825h5v5h-5zM570 825h15v5h-15zM645 825h5v5h-5zM275 830h5v5h-5zM560 830h5v5h-5zM585 830h10v5h-10zM635 830h10v5h-10zM275 835h5v5h-5zM555 835h5v5h-5zM595 835h10v5h-10zM630 835h5v5h-5zM275 840h5v5h-5zM550 840h10v5h-10zM610 840h20v5h-20zM275 845h5v5h-5zM550 845h5v5h-5zM275 850h5v5h-5zM545 850h10v5h-10zM275 855h5v5h-5zM540 855h10v5h-10zM275 860h5v5h-5zM540 860h10v5h-10zM275 865h5v5h-5zM275 870h5v5h-5zM275 875h5v5h-5zM530 875h5v5h-5zM275 880h5v5h-5zM535 880h5v5h-5zM275 885h5v5h-5zM535 885h10v5h-10zM275 890h5v5h-5zM540 890h10v5h-10zM545 895h5v5h-5zM545 900h10v5h-10zM270 905h5v5h-5zM545 905h10v5h-10zM545 910h15v5h-15zM550 915h10v5h-10zM555 920h10v5h-10zM560 925h10v5h-10zM570 930h10v5h-10z"/>
<path fill="#90caba" d="M600 275h5v5h-5zM595 290h5v5h-5zM595 295h5v5h-5zM590 305h5v5h-5zM590 310h5v5h-5zM585 320h5v5h-5zM585 325h5v5h-5zM585 330h5v5h-5zM585 335h5v5h-5zM590 350h5v5h-5zM595 360h5v5h-5zM595 365h5v5h-5zM600 430h5v5h-5zM600 435h5v5h-5zM600 440h5v5h-5zM600 445h5v5h-5zM600 450h5v5h-5zM595 465h5v5h-5zM590 480h5v5h-5zM585 485h5v5h-5zM580 490h5v5h-5zM575 495h5v5h-5zM565 500h5v5h-5zM560 505h5v5h-5zM550 515h5v5h-5zM545 520h5v5h-5zM545 525h5v5h-5zM545 530h5v5h-5zM130 535h5v5h-5zM430 535h5v5h-5zM550 535h5v5h-5zM135 540h5v5h-5zM430 540h5v5h-5zM555 540h5v5h-5zM140 545h5v5h-5zM425 545h15v5h-15zM565 545h5v5h-5zM425 550h15v5h-15zM575 550h5v5h-5zM145 555h5v5h-5zM425 555h15v5h-15zM590 555h5v5h-5zM425 560h15v5h-15zM610 560h5v5h-5zM150 565h5v5h-5zM390 565h15v5h-15zM425 565h15v5h-15zM620 565h5v5h-5zM395 570h40v5h-40zM400 575h30v5h-30zM630 575h5v5h-5zM410 580h5v5h-5zM165 590h5v5h-5zM640 595h5v5h-5zM640 600h5v5h-5zM180 605h5v5h-5zM185 610h5v5h-5zM190 615h5v5h-5zM645 625h5v5h-5zM200 630h5v5h-5zM645 630h5v5h-5zM645 635h5v5h-5zM205 640h5v5h-5zM650 650h5v5h-5zM650 655h5v5h-5zM220 660h5v5h-5zM235 670h5v5h-5zM655 670h5v5h-5zM240 675h5v5h-5zM655 675h5v5h-5zM245 680h5v5h-5zM250 685h5v5h-5zM660 690h5v5h-5zM255 695h5v5h-5zM660 695h5v5h-5zM665 710h5v5h-5zM665 715h5v5h-5zM670 735h5v5h-5zM670 740h5v5h-5zM670 745h5v5h-5zM670 770h5v5h-5zM670 775h5v5h-5zM670 780h5v5h-5zM665 790h5v5h-5zM665 795h5v5h-5zM660 800h5v5h-5zM275 805h5v5h-5zM660 805h5v5h-5zM275 810h5v5h-5zM655 810h5v5h-5zM650 815h5v5h-5zM645 820h5v5h-5zM565 825h5v5h-5zM585 825h5v5h-5zM635 825h10v5h-10zM555 830h5v5h-5zM595 830h5v5h-5zM630 830h5v5h-5zM550 835h5v5h-5zM605 835h25v5h-25zM545 840h5v5h-5zM540 845h10v5h-10zM535 850h10v5h-10zM280 855h5v5h-5zM535 855h5v5h-5zM280 860h5v5h-5zM280 865h5v5h-5zM280 870h5v5h-5zM280 875h5v5h-5zM525 875h5v5h-5zM280 880h5v5h-5zM530 880h5v5h-5zM530 885h5v5h-5zM535 890h5v5h-5zM275 895h5v5h-5zM535 895h10v5h-10zM275 900h5v5h-5zM540 900h5v5h-5zM540 905h5v5h-5zM270 910h5v5h-5zM540 910h5v5h-5zM540 915h10v5h-10zM540 920h15v5h-15zM545 925h15v5h-15zM560 930h10v5h-10zM575 935h10v5h-10z"/>
<path fill="#93cdb7" d="M600 265h5v5h-5zM600 270h5v5h-5zM595 285h5v5h-5zM590 300h5v5h-5zM585 315h5v5h-5zM580 325h5v5h-5zM580 330h5v5h-5zM585 340h5v5h-5zM585 345h5v5h-5zM590 355h5v5h-5zM590 360h5v5h-5zM595 370h5v5h-5zM595 375h5v5h-5zM595 380h5v5h-5zM595 385h5v5h-5zM595 390h5v5h-5zM595 395h5v5h-5zM595 400h5v5h-5zM595 405h5v5h-5zM595 410h5v5h-5zM595 415h5v5h-5zM595 460h5v5h-5zM590 475h5v5h-5zM570 495h5v5h-5zM555 505h5v5h-5zM550 510h5v5h-5zM545 515h5v5h-5zM540 520h5v5h-5zM130 525h5v5h-5zM540 525h5v5h-5zM130 530h5v5h-5zM435 530h5v5h-5zM540 530h5v5h-5zM135 535h5v5h-5zM435 535h10v5h-10zM545 535h5v5h-5zM140 540h5v5h-5zM435 540h15v5h-15zM550 540h5v5h-5zM440 545h10v5h-10zM560 545h5v5h-5zM145 550h5v5h-5zM440 550h15v5h-15zM570 550h5v5h-5zM440 555h10v5h-10zM150 560h5v5h-5zM440 560h10v5h-10zM605 560h5v5h-5zM385 565h5v5h-5zM440 565h5v5h-5zM155 570h5v5h-5zM385 570h10v5h-10zM435 570h10v5h-10zM625 570h5v5h-5zM390 575h10v5h-10zM430 575h10v5h-10zM160 580h5v5h-5zM395 580h15v5h-15zM415 580h20v5h-20zM400 585h20v5h-20zM635 585h5v5h-5zM170 595h5v5h-5zM175 600h5v5h-5zM640 605h5v5h-5zM640 610h5v5h-5zM195 620h5v5h-5zM200 625h5v5h-5zM205 635h5v5h-5zM645 640h5v5h-5zM210 645h5v5h-5zM645 645h5v5h-5zM225 660h5v5h-5zM650 660h5v5h-5zM230 665h5v5h-5zM650 665h5v5h-5zM245 675h5v5h-5zM655 680h5v5h-5zM255 690h5v5h-5zM660 700h5v5h-5zM660 705h5v5h-5zM665 720h5v5h-5zM665 725h5v5h-5zM665 730h5v5h-5zM670 750h5v5h-5zM670 755h5v5h-5zM670 760h5v5h-5zM670 765h5v5h-5zM665 780h5v5h-5zM665 785h5v5h-5zM660 795h5v5h-5zM655 805h5v5h-5zM650 810h5v5h-5zM280 815h5v5h-5zM645 815h5v5h-5zM280 820h5v5h-5zM570 820h20v5h-20zM640 820h5v5h-5zM280 825h5v5h-5zM560 825h5v5h-5zM590 825h10v5h-10zM630 825h5v5h-5zM280 830h5v5h-5zM550 830h5v5h-5zM600 830h30v5h-30zM280 835h5v5h-5zM545 835h5v5h-5zM280 840h5v5h-5zM540 840h5v5h-5zM280 845h5v5h-5zM535 845h5v5h-5zM280 850h5v5h-5zM530 850h5v5h-5zM525 880h5v5h-5zM280 885h5v5h-5zM280 890h5v5h-5zM530 890h5v5h-5zM280 895h5v5h-5zM530 895h5v5h-5zM530 900h10v5h-10zM275 905h5v5h-5zM530 905h10v5h-10zM530 910h10v5h-10zM530 915h10v5h-10zM530 920h10v5h-10zM535 925h10v5h-10zM535 930h25v5h-25zM555 935h20v5h-20zM575 940h15v5h-15z"/>
<path fill="#96d1b4" d="M595 275h5v5h-5zM595 280h5v5h-5zM590 295h5v5h-5zM585 310h5v5h-5zM580 320h5v5h-5zM580 335h5v5h-5zM580 340h5v5h-5zM585 350h5v5h-5zM585 355h5v5h-5zM590 365h5v5h-5zM590 370h5v5h-5zM595 420h5v5h-5zM595 425h5v5h-5zM595 430h5v5h-5zM595 455h5v5h-5zM590 470h5v5h-5zM585 480h5v5h-5zM580 485h5v5h-5zM575 490h5v5h-5zM565 495h5v5h-5zM560 500h5v5h-5zM550 505h5v5h-5zM545 510h5v5h-5zM540 515h5v5h-5zM130 520h5v5h-5zM435 520h5v5h-5zM535 520h5v5h-5zM135 525h5v5h-5zM435 525h15v5h-15zM535 525h5v5h-5zM135 530h5v5h-5zM440 530h20v5h-20zM535 530h5v5h-5zM140 535h5v5h-5zM445 535h15v5h-15zM540 535h5v5h-5zM450 540h15v5h-15zM145 545h5v5h-5zM450 545h15v5h-15zM555 545h5v5h-5zM455 550h5v5h-5zM150 555h5v5h-5zM450 555h10v5h-10zM585 555h5v5h-5zM450 560h5v5h-5zM600 560h5v5h-5zM155 565h5v5h-5zM445 565h10v5h-10zM615 565h5v5h-5zM445 570h5v5h-5zM385 575h5v5h-5zM440 575h5v5h-5zM390 580h5v5h-5zM435 580h5v5h-5zM630 580h5v5h-5zM165 585h5v5h-5zM390 585h10v5h-10zM420 585h10v5h-10zM395 590h25v5h-25zM635 590h5v5h-5zM635 595h5v5h-5zM185 605h5v5h-5zM190 610h5v5h-5zM195 615h5v5h-5zM640 615h5v5h-5zM640 620h5v5h-5zM640 625h5v5h-5zM205 630h5v5h-5zM210 640h5v5h-5zM645 650h5v5h-5zM645 655h5v5h-5zM235 665h5v5h-5zM240 670h5v5h-5zM650 670h5v5h-5zM650 675h5v5h-5zM250 680h5v5h-5zM255 685h5v5h-5zM655 685h5v5h-5zM655 690h5v5h-5zM660 710h5v5h-5zM660 715h5v5h-5zM665 735h5v5h-5zM665 740h5v5h-5zM665 745h5v5h-5zM665 750h5v5h-5zM665 755h5v5h-5zM665 760h5v5h-5zM665 765h5v5h-5zM665 770h5v5h-5zM665 775h5v5h-5zM660 785h5v5h-5zM660 790h5v5h-5zM655 800h5v5h-5zM650 805h5v5h-5zM280 810h5v5h-5zM645 810h5v5h-5zM640 815h5v5h-5zM565 820h5v5h-5zM590 820h5v5h-5zM630 820h10v5h-10zM555 825h5v5h-5zM600 825h10v5h-10zM620 825h10v5h-10zM545 830h5v5h-5zM535 835h10v5h-10zM530 840h10v5h-10zM285 845h5v5h-5zM525 845h10v5h-10zM285 850h5v5h-5zM285 855h5v5h-5zM285 860h5v5h-5zM285 865h5v5h-5zM285 870h5v5h-5zM285 875h5v5h-5zM285 880h5v5h-5zM520 880h5v5h-5zM285 885h5v5h-5zM525 885h5v5h-5zM285 890h5v5h-5zM525 890h5v5h-5zM525 895h5v5h-5zM280 900h5v5h-5zM525 900h5v5h-5zM525 905h5v5h-5zM275 910h5v5h-5zM525 910h5v5h-5zM525 915h5v5h-5zM525 920h5v5h-5zM525 925h10v5h-10zM525 930h10v5h-10zM525 935h30v5h-30zM535 940h40v5h-40zM575 945h15v5h-15z"/>
<path fill="#9ad4b2" d="M595 270h5v5h-5zM590 290h5v5h-5zM585 305h5v5h-5zM580 315h5v5h-5zM575 325h5v5h-5zM575 330h5v5h-5zM575 335h5v5h-5zM575 340h5v5h-5zM580 345h5v5h-5zM580 350h5v5h-5zM585 360h5v5h-5zM585 365h5v5h-5zM590 375h5v5h-5zM590 380h5v5h-5zM590 385h5v5h-5zM590 390h5v5h-5zM590 395h5v5h-5zM590 400h5v5h-5zM590 405h5v5h-5zM595 435h5v5h-5zM595 440h5v5h-5zM595 445h5v5h-5zM595 450h5v5h-5zM590 465h5v5h-5zM585 475h5v5h-5zM570 490h5v5h-5zM555 500h5v5h-5zM545 505h5v5h-5zM540 510h5v5h-5zM130 515h5v5h-5zM435 515h15v5h-15zM535 515h5v5h-5zM135 520h5v5h-5zM440 520h30v5h-30zM530 520h5v5h-5zM450 525h20v5h-20zM530 525h5v5h-5zM140 530h5v5h-5zM460 530h15v5h-15zM530 530h5v5h-5zM460 535h15v5h-15zM535 535h5v5h-5zM145 540h5v5h-5zM465 540h10v5h-10zM545 540h5v5h-5zM465 545h5v5h-5zM150 550h5v5h-5zM460 550h10v5h-10zM565 550h5v5h-5zM460 555h5v5h-5zM580 555h5v5h-5zM455 560h5v5h-5zM595 560h5v5h-5zM455 565h5v5h-5zM610 565h5v5h-5zM380 570h5v5h-5zM450 570h5v5h-5zM620 570h5v5h-5zM160 575h5v5h-5zM380 575h5v5h-5zM445 575h5v5h-5zM625 575h5v5h-5zM385 580h5v5h-5zM440 580h5v5h-5zM385 585h5v5h-5zM430 585h10v5h-10zM630 585h5v5h-5zM170 590h5v5h-5zM390 590h5v5h-5zM420 590h10v5h-10zM175 595h5v5h-5zM390 595h30v5h-30zM180 600h5v5h-5zM395 600h15v5h-15zM635 600h5v5h-5zM200 620h5v5h-5zM640 630h5v5h-5zM210 635h5v5h-5zM640 635h5v5h-5zM640 640h5v5h-5zM215 645h5v5h-5zM640 645h5v5h-5zM230 660h5v5h-5zM645 660h5v5h-5zM240 665h5v5h-5zM645 665h5v5h-5zM245 670h5v5h-5zM250 675h5v5h-5zM650 680h5v5h-5zM655 695h5v5h-5zM655 700h5v5h-5zM655 705h5v5h-5zM660 720h5v5h-5zM660 725h5v5h-5zM660 730h5v5h-5zM660 775h5v5h-5zM660 780h5v5h-5zM655 790h5v5h-5zM655 795h5v5h-5zM650 800h5v5h-5zM280 805h5v5h-5zM645 805h5v5h-5zM640 810h5v5h-5zM580 815h10v5h-10zM635 815h5v5h-5zM285 820h5v5h-5zM560 820h5v5h-5zM595 820h10v5h-10zM625 820h5v5h-5zM285 825h5v5h-5zM550 825h5v5h-5zM610 825h10v5h-10zM285 830h5v5h-5zM535 830h10v5h-10zM285 835h5v5h-5zM530 835h5v5h-5zM285 840h5v5h-5zM525 840h5v5h-5zM520 845h5v5h-5zM290 860h5v5h-5zM290 865h5v5h-5zM290 870h5v5h-5zM290 875h5v5h-5zM290 880h5v5h-5zM290 885h5v5h-5zM520 885h5v5h-5zM520 890h5v5h-5zM285 895h5v5h-5zM520 895h5v5h-5zM520 900h5v5h-5zM280 905h5v5h-5zM520 905h5v5h-5zM515 910h10v5h-10zM515 915h10v5h-10zM515 920h10v5h-10zM515 925h10v5h-10zM515 930h10v5h-10zM515 935h10v5h-10zM525 940h10v5h-10zM530 945h45v5h-45zM540 950h50v5h-50zM555 955h35v5h-35zM565 960h25v5h-25z"/>
<path fill="#9dd8af" d="M595 265h5v5h-5zM590 280h5v5h-5zM590 285h5v5h-5zM585 295h5v5h-5zM585 300h5v5h-5zM580 310h5v5h-5zM575 320h5v5h-5zM570 325h5v5h-5zM570 330h5v5h-5zM570 335h5v5h-5zM570 340h5v5h-5zM575 345h5v5h-5zM575 350h5v5h-5zM580 355h5v5h-5zM580 360h5v5h-5zM585 370h5v5h-5zM585 375h5v5h-5zM585 380h5v5h-5zM590 410h5v5h-5zM590 415h5v5h-5zM590 420h5v5h-5zM590 460h5v5h-5zM580 480h5v5h-5zM575 485h5v5h-5zM560 495h5v5h-5zM550 500h5v5h-5zM135 505h5v5h-5zM540 505h5v5h-5zM135 510h5v5h-5zM435 510h40v5h-40zM530 510h10v5h-10zM135 515h5v5h-5zM450 515h35v5h-35zM525 515h10v5h-10zM470 520h20v5h-20zM520 520h10v5h-10zM140 525h5v5h-5zM470 525h20v5h-20zM520 525h10v5h-10zM475 530h15v5h-15zM520 530h10v5h-10zM145 535h5v5h-5zM475 535h10v5h-10zM525 535h10v5h-10zM475 540h10v5h-10zM535 540h10v5h-10zM470 545h10v5h-10zM550 545h5v5h-5zM470 550h5v5h-5zM560 550h5v5h-5zM465 555h5v5h-5zM575 555h5v5h-5zM155 560h5v5h-5zM460 560h5v5h-5zM160 570h5v5h-5zM375 570h5v5h-5zM455 570h5v5h-5zM615 570h5v5h-5zM450 575h5v5h-5zM165 580h5v5h-5zM380 580h5v5h-5zM445 580h5v5h-5zM625 580h5v5h-5zM380 585h5v5h-5zM385 590h5v5h-5zM430 590h5v5h-5zM630 590h5v5h-5zM385 595h5v5h-5zM420 595h5v5h-5zM385 600h10v5h-10zM410 600h10v5h-10zM190 605h5v5h-5zM390 605h20v5h-20zM635 605h5v5h-5zM195 610h5v5h-5zM635 610h5v5h-5zM205 625h5v5h-5zM210 630h5v5h-5zM640 650h5v5h-5zM225 655h5v5h-5zM640 655h5v5h-5zM235 660h5v5h-5zM645 670h5v5h-5zM645 675h5v5h-5zM255 680h5v5h-5zM650 685h5v5h-5zM260 690h5v5h-5zM650 690h5v5h-5zM260 695h5v5h-5zM655 710h5v5h-5zM655 715h5v5h-5zM660 735h5v5h-5zM660 740h5v5h-5zM660 745h5v5h-5zM660 750h5v5h-5zM660 755h5v5h-5zM660 760h5v5h-5zM660 765h5v5h-5zM660 770h5v5h-5zM655 780h5v5h-5zM655 785h5v5h-5zM650 795h5v5h-5zM645 800h5v5h-5zM640 805h5v5h-5zM635 810h5v5h-5zM285 815h5v5h-5zM570 815h10v5h-10zM590 815h10v5h-10zM625 815h10v5h-10zM555 820h5v5h-5zM605 820h20v5h-20zM540 825h10v5h-10zM525 830h10v5h-10zM290 835h5v5h-5zM520 835h10v5h-10zM290 840h5v5h-5zM515 840h10v5h-10zM290 845h5v5h-5zM515 845h5v5h-5zM290 850h5v5h-5zM290 855h5v5h-5zM295 865h5v5h-5zM295 870h5v5h-5zM295 875h5v5h-5zM295 880h5v5h-5zM510 885h10v5h-10zM290 890h5v5h-5zM510 890h10v5h-10zM510 895h10v5h-10zM285 900h5v5h-5zM510 900h10v5h-10zM510 905h10v5h-10zM505 910h10v5h-10zM505 915h10v5h-10zM505 920h10v5h-10zM505 925h10v5h-10zM505 930h10v5h-10zM515 940h10v5h-10zM525 945h5v5h-5zM530 950h10v5h-10zM535 955h20v5h-20zM540 960h25v5h-25zM545 965h20v5h-20zM550 970h15v5h-15zM555 975h5v5h-5z"/>
<path fill="#a0dbac" d="M590 270h5v5h-5zM590 275h5v5h-5zM585 290h5v5h-5zM580 305h5v5h-5zM575 315h5v5h-5zM570 320h5v5h-5zM565 330h5v5h-5zM565 335h5v5h-5zM565 340h5v5h-5zM570 345h5v5h-5zM570 350h5v5h-5zM575 355h5v5h-5zM575 360h5v5h-5zM580 365h5v5h-5zM580 370h5v5h-5zM580 375h5v5h-5zM585 385h5v5h-5zM585 390h5v5h-5zM585 395h5v5h-5zM585 400h5v5h-5zM590 425h5v5h-5zM590 430h5v5h-5zM590 435h5v5h-5zM590 450h5v5h-5zM590 455h5v5h-5zM585 470h5v5h-5zM565 490h5v5h-5zM555 495h5v5h-5zM540 500h10v5h-10zM430 505h70v5h-70zM525 505h15v5h-15zM475 510h55v5h-55zM140 515h5v5h-5zM485 515h40v5h-40zM140 520h5v5h-5zM490 520h30v5h-30zM490 525h30v5h-30zM145 530h5v5h-5zM490 530h30v5h-30zM485 535h40v5h-40zM485 540h10v5h-10zM525 540h10v5h-10zM150 545h5v5h-5zM480 545h5v5h-5zM540 545h10v5h-10zM475 550h5v5h-5zM555 550h5v5h-5zM155 555h5v5h-5zM470 555h5v5h-5zM570 555h5v5h-5zM465 560h5v5h-5zM590 560h5v5h-5zM460 565h5v5h-5zM605 565h5v5h-5zM375 575h5v5h-5zM620 575h5v5h-5zM375 580h5v5h-5zM440 585h5v5h-5zM380 590h5v5h-5zM435 590h5v5h-5zM180 595h5v5h-5zM380 595h5v5h-5zM425 595h5v5h-5zM630 595h5v5h-5zM185 600h5v5h-5zM380 600h5v5h-5zM420 600h5v5h-5zM385 605h5v5h-5zM410 605h10v5h-10zM390 610h20v5h-20zM200 615h5v5h-5zM635 615h5v5h-5zM205 620h5v5h-5zM635 620h5v5h-5zM635 625h5v5h-5zM635 630h5v5h-5zM635 635h5v5h-5zM215 640h5v5h-5zM230 655h5v5h-5zM240 660h5v5h-5zM640 660h5v5h-5zM245 665h5v5h-5zM640 665h5v5h-5zM250 670h5v5h-5zM255 675h5v5h-5zM645 680h5v5h-5zM260 685h5v5h-5zM645 685h5v5h-5zM650 695h5v5h-5zM650 700h5v5h-5zM650 705h5v5h-5zM655 720h5v5h-5zM655 725h5v5h-5zM655 730h5v5h-5zM655 770h5v5h-5zM655 775h5v5h-5zM650 785h5v5h-5zM650 790h5v5h-5zM645 795h5v5h-5zM640 800h5v5h-5zM635 805h5v5h-5zM285 810h5v5h-5zM630 810h5v5h-5zM565 815h5v5h-5zM600 815h25v5h-25zM290 820h5v5h-5zM550 820h5v5h-5zM290 825h5v5h-5zM525 825h15v5h-15zM290 830h5v5h-5zM515 830h10v5h-10zM510 835h10v5h-10zM505 840h10v5h-10zM295 850h5v5h-5zM295 855h5v5h-5zM295 860h5v5h-5zM300 865h5v5h-5zM300 870h5v5h-5zM300 875h5v5h-5zM295 885h5v5h-5zM500 890h10v5h-10zM290 895h5v5h-5zM500 895h10v5h-10zM495 900h15v5h-15zM285 905h5v5h-5zM495 905h15v5h-15zM280 910h5v5h-5zM495 910h10v5h-10zM495 915h10v5h-10zM495 920h10v5h-10zM495 925h10v5h-10zM510 940h5v5h-5zM520 945h5v5h-5zM525 950h5v5h-5zM530 955h5v5h-5zM535 960h5v5h-5zM535 965h10v5h-10zM540 970h10v5h-10zM545 975h10v5h-10z"/>
<path fill="#a4deaa" d="M590 265h5v5h-5zM585 280h5v5h-5zM585 285h5v5h-5zM580 300h5v5h-5zM575 310h5v5h-5zM570 315h5v5h-5zM565 320h5v5h-5zM560 325h10v5h-10zM560 330h5v5h-5zM555 335h10v5h-10zM560 340h5v5h-5zM560 345h10v5h-10zM565 350h5v5h-5zM570 355h5v5h-5zM570 360h5v5h-5zM575 365h5v5h-5zM575 370h5v5h-5zM580 380h5v5h-5zM580 385h5v5h-5zM585 405h5v5h-5zM585 410h5v5h-5zM590 440h5v5h-5zM590 445h5v5h-5zM585 465h5v5h-5zM580 475h5v5h-5zM575 480h5v5h-5zM570 485h5v5h-5zM560 490h5v5h-5zM465 495h35v5h-35zM545 495h10v5h-10zM435 500h85v5h-85zM525 500h15v5h-15zM140 505h5v5h-5zM500 505h25v5h-25zM140 510h5v5h-5zM145 525h5v5h-5zM150 540h5v5h-5zM495 540h30v5h-30zM485 545h15v5h-15zM535 545h5v5h-5zM480 550h10v5h-10zM550 550h5v5h-5zM475 555h5v5h-5zM470 560h5v5h-5zM585 560h5v5h-5zM160 565h5v5h-5zM465 565h5v5h-5zM600 565h5v5h-5zM370 570h5v5h-5zM460 570h5v5h-5zM610 570h5v5h-5zM165 575h5v5h-5zM455 575h5v5h-5zM450 580h5v5h-5zM170 585h5v5h-5zM375 585h5v5h-5zM445 585h5v5h-5zM625 585h5v5h-5zM175 590h5v5h-5zM375 590h5v5h-5zM440 590h5v5h-5zM375 595h5v5h-5zM430 595h5v5h-5zM425 600h5v5h-5zM630 600h5v5h-5zM380 605h5v5h-5zM420 605h5v5h-5zM380 610h10v5h-10zM410 610h10v5h-10zM385 615h25v5h-25zM210 625h5v5h-5zM215 635h5v5h-5zM635 640h5v5h-5zM635 645h5v5h-5zM225 650h5v5h-5zM635 650h5v5h-5zM235 655h5v5h-5zM635 655h5v5h-5zM250 665h5v5h-5zM255 670h5v5h-5zM640 670h5v5h-5zM640 675h5v5h-5zM260 680h5v5h-5zM645 690h5v5h-5zM650 710h5v5h-5zM650 715h5v5h-5zM655 735h5v5h-5zM655 740h5v5h-5zM655 745h5v5h-5zM655 750h5v5h-5zM655 755h5v5h-5zM655 760h5v5h-5zM655 765h5v5h-5zM650 775h5v5h-5zM650 780h5v5h-5zM645 790h5v5h-5zM640 795h5v5h-5zM635 800h5v5h-5zM285 805h5v5h-5zM630 805h5v5h-5zM575 810h30v5h-30zM620 810h10v5h-10zM290 815h5v5h-5zM560 815h5v5h-5zM525 820h25v5h-25zM295 825h5v5h-5zM510 825h15v5h-15zM295 830h5v5h-5zM505 830h10v5h-10zM295 835h5v5h-5zM500 835h10v5h-10zM295 840h5v5h-5zM500 840h5v5h-5zM295 845h5v5h-5zM300 850h5v5h-5zM300 855h5v5h-5zM300 860h5v5h-5zM305 865h5v5h-5zM305 870h5v5h-5zM305 875h5v5h-5zM300 880h5v5h-5zM300 885h5v5h-5zM295 890h5v5h-5zM490 890h10v5h-10zM490 895h10v5h-10zM290 900h5v5h-5zM490 900h5v5h-5zM485 905h10v5h-10zM485 910h10v5h-10zM485 915h10v5h-10zM485 920h10v5h-10zM485 925h10v5h-10zM515 945h5v5h-5zM520 950h5v5h-5zM525 955h5v5h-5zM530 960h5v5h-5zM530 965h5v5h-5zM535 970h5v5h-5zM535 975h10v5h-10zM540 980h5v5h-5z"/>
<path fill="#a7e2a7" d="M585 270h5v5h-5zM585 275h5v5h-5zM580 290h5v5h-5zM580 295h5v5h-5zM575 305h5v5h-5zM570 310h5v5h-5zM555 325h5v5h-5zM555 330h5v5h-5zM550 335h5v5h-5zM550 340h10v5h-10zM550 345h10v5h-10zM555 350h10v5h-10zM560 355h10v5h-10zM565 360h5v5h-5zM570 365h5v5h-5zM570 370h5v5h-5zM575 375h5v5h-5zM575 380h5v5h-5zM580 390h5v5h-5zM580 395h5v5h-5zM585 415h5v5h-5zM585 420h5v5h-5zM585 460h5v5h-5zM580 470h5v5h-5zM465 485h25v5h-25zM565 485h5v5h-5zM455 490h50v5h-50zM555 490h5v5h-5zM435 495h30v5h-30zM500 495h20v5h-20zM535 495h10v5h-10zM425 500h10v5h-10zM520 500h5v5h-5zM145 520h5v5h-5zM150 535h5v5h-5zM500 545h35v5h-35zM155 550h5v5h-5zM490 550h5v5h-5zM545 550h5v5h-5zM480 555h5v5h-5zM565 555h5v5h-5zM580 560h5v5h-5zM370 575h5v5h-5zM615 575h5v5h-5zM370 580h5v5h-5zM455 580h5v5h-5zM620 580h5v5h-5zM370 585h5v5h-5zM370 590h5v5h-5zM625 590h5v5h-5zM435 595h5v5h-5zM190 600h5v5h-5zM375 600h5v5h-5zM430 600h5v5h-5zM195 605h5v5h-5zM375 605h5v5h-5zM425 605h5v5h-5zM630 605h5v5h-5zM200 610h5v5h-5zM420 610h5v5h-5zM630 610h5v5h-5zM205 615h5v5h-5zM380 615h5v5h-5zM410 615h5v5h-5zM630 615h5v5h-5zM385 620h25v5h-25zM215 630h5v5h-5zM230 650h5v5h-5zM240 655h5v5h-5zM245 660h5v5h-5zM635 660h5v5h-5zM635 665h5v5h-5zM260 675h5v5h-5zM640 680h5v5h-5zM265 685h5v5h-5zM640 685h5v5h-5zM265 690h5v5h-5zM265 695h5v5h-5zM645 695h5v5h-5zM645 700h5v5h-5zM645 705h5v5h-5zM650 720h5v5h-5zM650 725h5v5h-5zM650 730h5v5h-5zM650 735h5v5h-5zM650 760h5v5h-5zM650 765h5v5h-5zM650 770h5v5h-5zM645 780h5v5h-5zM645 785h5v5h-5zM640 790h5v5h-5zM635 795h5v5h-5zM630 800h5v5h-5zM625 805h5v5h-5zM290 810h5v5h-5zM570 810h5v5h-5zM605 810h15v5h-15zM295 815h5v5h-5zM555 815h5v5h-5zM295 820h5v5h-5zM510 820h15v5h-15zM300 825h5v5h-5zM500 825h10v5h-10zM300 830h5v5h-5zM490 830h15v5h-15zM300 835h5v5h-5zM495 835h5v5h-5zM300 840h5v5h-5zM300 845h10v5h-10zM305 850h5v5h-5zM305 855h10v5h-10zM305 860h10v5h-10zM310 865h5v5h-5zM310 870h5v5h-5zM305 880h5v5h-5zM300 890h5v5h-5zM480 890h10v5h-10zM295 895h5v5h-5zM480 895h10v5h-10zM480 900h10v5h-10zM475 905h10v5h-10zM285 910h5v5h-5zM475 910h10v5h-10zM475 915h10v5h-10zM475 920h10v5h-10zM475 925h10v5h-10zM510 945h5v5h-5zM515 950h5v5h-5zM520 955h5v5h-5zM525 960h5v5h-5zM525 965h5v5h-5zM530 970h5v5h-5zM535 980h5v5h-5z"/>
<path fill="#aae5a4" d="M585 265h5v5h-5zM580 280h5v5h-5zM580 285h5v5h-5zM575 295h5v5h-5zM575 300h5v5h-5zM565 315h5v5h-5zM560 320h5v5h-5zM545 345h5v5h-5zM545 350h10v5h-10zM550 355h10v5h-10zM555 360h10v5h-10zM560 365h10v5h-10zM565 370h5v5h-5zM565 375h10v5h-10zM570 380h5v5h-5zM575 385h5v5h-5zM575 390h5v5h-5zM580 400h5v5h-5zM580 405h5v5h-5zM585 425h5v5h-5zM585 430h5v5h-5zM585 435h5v5h-5zM585 450h5v5h-5zM585 455h5v5h-5zM455 465h10v5h-10zM580 465h5v5h-5zM455 470h15v5h-15zM455 475h25v5h-25zM575 475h5v5h-5zM450 480h40v5h-40zM570 480h5v5h-5zM445 485h20v5h-20zM490 485h15v5h-15zM560 485h5v5h-5zM425 490h30v5h-30zM505 490h10v5h-10zM545 490h10v5h-10zM425 495h10v5h-10zM520 495h15v5h-15zM145 510h5v5h-5zM145 515h5v5h-5zM150 530h5v5h-5zM155 545h5v5h-5zM495 550h15v5h-15zM535 550h10v5h-10zM485 555h5v5h-5zM560 555h5v5h-5zM160 560h5v5h-5zM475 560h5v5h-5zM470 565h5v5h-5zM595 565h5v5h-5zM165 570h5v5h-5zM465 570h5v5h-5zM605 570h5v5h-5zM460 575h5v5h-5zM170 580h5v5h-5zM450 585h5v5h-5zM620 585h5v5h-5zM180 590h5v5h-5zM445 590h5v5h-5zM185 595h5v5h-5zM370 595h5v5h-5zM440 595h5v5h-5zM625 595h5v5h-5zM370 600h5v5h-5zM435 600h5v5h-5zM370 605h5v5h-5zM375 610h5v5h-5zM375 615h5v5h-5zM415 615h5v5h-5zM210 620h5v5h-5zM380 620h5v5h-5zM410 620h5v5h-5zM630 620h5v5h-5zM380 625h30v5h-30zM630 625h5v5h-5zM385 630h20v5h-20zM630 630h5v5h-5zM630 635h5v5h-5zM630 640h5v5h-5zM225 645h5v5h-5zM630 645h5v5h-5zM630 650h5v5h-5zM250 660h5v5h-5zM255 665h5v5h-5zM260 670h5v5h-5zM635 670h5v5h-5zM265 675h5v5h-5zM635 675h5v5h-5zM265 680h5v5h-5zM640 690h5v5h-5zM640 695h5v5h-5zM645 710h5v5h-5zM645 715h5v5h-5zM650 740h5v5h-5zM650 745h5v5h-5zM650 750h5v5h-5zM650 755h5v5h-5zM645 770h5v5h-5zM645 775h5v5h-5zM640 785h5v5h-5zM635 790h5v5h-5zM630 795h5v5h-5zM625 800h5v5h-5zM580 805h45v5h-45zM295 810h5v5h-5zM565 810h5v5h-5zM300 815h5v5h-5zM510 815h45v5h-45zM300 820h5v5h-5zM495 820h15v5h-15zM305 825h5v5h-5zM485 825h15v5h-15zM305 830h5v5h-5zM485 830h5v5h-5zM305 835h10v5h-10zM305 840h10v5h-10zM310 845h10v5h-10zM310 850h10v5h-10zM315 855h10v5h-10zM315 860h10v5h-10zM315 865h5v5h-5zM315 870h5v5h-5zM310 875h5v5h-5zM310 880h5v5h-5zM465 880h10v5h-10zM305 885h5v5h-5zM465 885h15v5h-15zM465 890h15v5h-15zM300 895h5v5h-5zM465 895h15v5h-15zM295 900h5v5h-5zM465 900h15v5h-15zM290 905h5v5h-5zM460 905h15v5h-15zM460 910h15v5h-15zM460 915h15v5h-15zM460 920h15v5h-15zM465 925h10v5h-10zM515 955h5v5h-5zM520 960h5v5h-5zM525 970h5v5h-5zM530 975h5v5h-5zM530 980h5v5h-5z"/>
<path fill="#aee1a0" d="M580 265h5v5h-5zM580 270h5v5h-5zM580 275h5v5h-5zM575 290h5v5h-5zM570 300h5v5h-5zM570 305h5v5h-5zM565 310h5v5h-5zM560 315h5v5h-5zM540 350h5v5h-5zM540 355h10v5h-10zM545 360h10v5h-10zM550 365h10v5h-10zM555 370h10v5h-10zM560 375h5v5h-5zM565 380h5v5h-5zM570 385h5v5h-5zM570 390h5v5h-5zM575 395h5v5h-5zM580 410h5v5h-5zM585 440h5v5h-5zM585 445h5v5h-5zM465 460h5v5h-5zM445 465h10v5h-10zM465 465h10v5h-10zM435 470h20v5h-20zM470 470h10v5h-10zM575 470h5v5h-5zM435 475h20v5h-20zM480 475h10v5h-10zM425 480h25v5h-25zM490 480h10v5h-10zM565 480h5v5h-5zM420 485h25v5h-25zM505 485h10v5h-10zM555 485h5v5h-5zM420 490h5v5h-5zM515 490h30v5h-30zM145 505h5v5h-5zM150 525h5v5h-5zM510 550h25v5h-25zM160 555h5v5h-5zM490 555h10v5h-10zM555 555h5v5h-5zM480 560h5v5h-5zM575 560h5v5h-5zM475 565h5v5h-5zM590 565h5v5h-5zM365 570h5v5h-5zM470 570h5v5h-5zM365 575h5v5h-5zM465 575h5v5h-5zM610 575h5v5h-5zM365 580h5v5h-5zM460 580h5v5h-5zM615 580h5v5h-5zM175 585h5v5h-5zM365 585h5v5h-5zM455 585h5v5h-5zM365 590h5v5h-5zM450 590h5v5h-5zM365 595h5v5h-5zM195 600h5v5h-5zM625 600h5v5h-5zM200 605h5v5h-5zM430 605h5v5h-5zM625 605h5v5h-5zM370 610h5v5h-5zM425 610h5v5h-5zM370 615h5v5h-5zM420 615h5v5h-5zM370 620h10v5h-10zM415 620h10v5h-10zM215 625h5v5h-5zM375 625h5v5h-5zM410 625h10v5h-10zM375 630h10v5h-10zM405 630h10v5h-10zM220 635h5v5h-5zM375 635h30v5h-30zM375 640h25v5h-25zM375 645h20v5h-20zM235 650h5v5h-5zM375 650h15v5h-15zM245 655h5v5h-5zM370 655h10v5h-10zM630 655h5v5h-5zM255 660h5v5h-5zM370 660h5v5h-5zM630 660h5v5h-5zM260 665h5v5h-5zM630 665h5v5h-5zM265 670h5v5h-5zM365 670h5v5h-5zM360 675h10v5h-10zM270 680h5v5h-5zM355 680h15v5h-15zM635 680h5v5h-5zM270 685h5v5h-5zM350 685h20v5h-20zM635 685h5v5h-5zM270 690h5v5h-5zM345 690h20v5h-20zM270 695h5v5h-5zM335 695h30v5h-30zM325 700h40v5h-40zM640 700h5v5h-5zM310 705h55v5h-55zM640 705h5v5h-5zM305 710h60v5h-60zM300 715h65v5h-65zM300 720h65v5h-65zM645 720h5v5h-5zM300 725h65v5h-65zM645 725h5v5h-5zM300 730h65v5h-65zM645 730h5v5h-5zM305 735h60v5h-60zM645 735h5v5h-5zM315 740h50v5h-50zM645 740h5v5h-5zM645 745h5v5h-5zM645 750h5v5h-5zM645 755h5v5h-5zM645 760h5v5h-5zM645 765h5v5h-5zM640 775h5v5h-5zM640 780h5v5h-5zM635 785h5v5h-5zM630 790h5v5h-5zM625 795h5v5h-5zM295 800h5v5h-5zM615 800h10v5h-10zM295 805h10v5h-10zM575 805h5v5h-5zM300 810h10v5h-10zM510 810h25v5h-25zM560 810h5v5h-5zM305 815h5v5h-5zM495 815h15v5h-15zM305 820h10v5h-10zM485 820h10v5h-10zM310 825h5v5h-5zM310 830h10v5h-10zM315 835h10v5h-10zM315 840h15v5h-15zM320 845h10v5h-10zM320 850h10v5h-10zM325 855h5v5h-5zM325 860h5v5h-5zM320 865h5v5h-5zM320 870h5v5h-5zM315 875h5v5h-5zM450 880h15v5h-15zM310 885h5v5h-5zM445 885h20v5h-20zM305 890h5v5h-5zM445 890h20v5h-20zM440 895h25v5h-25zM435 900h30v5h-30zM435 905h25v5h-25zM435 910h25v5h-25zM435 915h25v5h-25zM450 920h10v5h-10zM510 950h5v5h-5zM515 960h5v5h-5zM520 965h5v5h-5zM520 970h5v5h-5zM525 975h5v5h-5zM525 980h5v5h-5z"/>
<path fill="#b2dd9b" d="M575 275h5v5h-5zM575 280h5v5h-5zM575 285h5v5h-5zM570 295h5v5h-5zM565 305h5v5h-5zM560 310h5v5h-5zM555 315h5v5h-5zM535 355h5v5h-5zM540 360h5v5h-5zM540 365h10v5h-10zM545 370h10v5h-10zM550 375h10v5h-10zM560 380h5v5h-5zM565 385h5v5h-5zM570 395h5v5h-5zM575 400h5v5h-5zM575 405h5v5h-5zM580 415h5v5h-5zM580 420h5v5h-5zM580 455h5v5h-5zM470 460h5v5h-5zM580 460h5v5h-5zM475 465h5v5h-5zM420 470h15v5h-15zM480 470h5v5h-5zM420 475h15v5h-15zM490 475h10v5h-10zM570 475h5v5h-5zM420 480h5v5h-5zM500 480h10v5h-10zM560 480h5v5h-5zM515 485h10v5h-10zM545 485h10v5h-10zM150 520h5v5h-5zM155 540h5v5h-5zM500 555h10v5h-10zM545 555h10v5h-10zM485 560h10v5h-10zM570 560h5v5h-5zM165 565h5v5h-5zM480 565h5v5h-5zM585 565h5v5h-5zM600 570h5v5h-5zM620 590h5v5h-5zM190 595h5v5h-5zM445 595h5v5h-5zM365 600h5v5h-5zM440 600h5v5h-5zM365 605h5v5h-5zM435 605h5v5h-5zM205 610h5v5h-5zM365 610h5v5h-5zM430 610h5v5h-5zM625 610h5v5h-5zM210 615h5v5h-5zM365 615h5v5h-5zM425 615h5v5h-5zM625 615h5v5h-5zM625 620h5v5h-5zM370 625h5v5h-5zM420 625h5v5h-5zM625 625h5v5h-5zM220 630h5v5h-5zM365 630h10v5h-10zM415 630h5v5h-5zM625 630h5v5h-5zM365 635h10v5h-10zM405 635h10v5h-10zM625 635h5v5h-5zM365 640h10v5h-10zM400 640h10v5h-10zM625 640h5v5h-5zM230 645h5v5h-5zM360 645h15v5h-15zM395 645h10v5h-10zM625 645h5v5h-5zM240 650h5v5h-5zM360 650h15v5h-15zM390 650h10v5h-10zM625 650h5v5h-5zM250 655h5v5h-5zM355 655h15v5h-15zM380 655h15v5h-15zM355 660h15v5h-15zM375 660h20v5h-20zM350 665h40v5h-40zM345 670h20v5h-20zM370 670h15v5h-15zM630 670h5v5h-5zM270 675h5v5h-5zM345 675h15v5h-15zM370 675h15v5h-15zM630 675h5v5h-5zM340 680h15v5h-15zM370 680h10v5h-10zM275 685h5v5h-5zM335 685h15v5h-15zM370 685h10v5h-10zM275 690h5v5h-5zM325 690h20v5h-20zM365 690h15v5h-15zM635 690h5v5h-5zM315 695h20v5h-20zM365 695h10v5h-10zM635 695h5v5h-5zM305 700h20v5h-20zM365 700h10v5h-10zM365 705h10v5h-10zM300 710h5v5h-5zM365 710h10v5h-10zM640 710h5v5h-5zM365 715h5v5h-5zM640 715h5v5h-5zM365 720h5v5h-5zM640 720h5v5h-5zM365 725h5v5h-5zM365 730h10v5h-10zM365 735h10v5h-10zM365 740h10v5h-10zM315 745h60v5h-60zM315 750h60v5h-60zM315 755h10v5h-10zM350 755h25v5h-25zM360 760h15v5h-15zM365 765h10v5h-10zM640 765h5v5h-5zM640 770h5v5h-5zM305 775h5v5h-5zM635 775h5v5h-5zM305 780h5v5h-5zM635 780h5v5h-5zM300 785h15v5h-15zM630 785h5v5h-5zM300 790h15v5h-15zM625 790h5v5h-5zM300 795h20v5h-20zM615 795h10v5h-10zM300 800h20v5h-20zM580 800h35v5h-35zM305 805h15v5h-15zM570 805h5v5h-5zM310 810h10v5h-10zM495 810h15v5h-15zM535 810h25v5h-25zM310 815h10v5h-10zM485 815h10v5h-10zM315 820h10v5h-10zM480 820h5v5h-5zM315 825h10v5h-10zM475 825h5v5h-5zM320 830h10v5h-10zM325 835h10v5h-10zM330 840h5v5h-5zM330 845h10v5h-10zM330 850h5v5h-5zM330 855h5v5h-5zM330 860h5v5h-5zM325 865h5v5h-5zM320 875h5v5h-5zM315 880h5v5h-5zM435 885h10v5h-10zM310 890h5v5h-5zM430 890h15v5h-15zM305 895h5v5h-5zM425 895h15v5h-15zM300 900h5v5h-5zM420 900h15v5h-15zM295 905h5v5h-5zM425 905h10v5h-10zM290 910h5v5h-5zM425 910h10v5h-10zM285 915h5v5h-5zM425 915h10v5h-10zM505 950h5v5h-5zM510 955h5v5h-5zM515 965h5v5h-5zM520 975h5v5h-5zM520 980h5v5h-5z"/>
<path fill="#b6d997" d="M575 270h5v5h-5zM570 280h5v5h-5zM570 285h5v5h-5zM570 290h5v5h-5zM565 300h5v5h-5zM560 305h5v5h-5zM555 310h5v5h-5zM535 360h5v5h-5zM535 365h5v5h-5zM540 370h5v5h-5zM545 375h5v5h-5zM550 380h10v5h-10zM560 385h5v5h-5zM565 390h5v5h-5zM570 400h5v5h-5zM575 410h5v5h-5zM580 425h5v5h-5zM580 430h5v5h-5zM580 435h5v5h-5zM580 440h5v5h-5zM580 445h5v5h-5zM580 450h5v5h-5zM470 455h5v5h-5zM475 460h5v5h-5zM480 465h5v5h-5zM575 465h5v5h-5zM485 470h10v5h-10zM570 470h5v5h-5zM500 475h5v5h-5zM565 475h5v5h-5zM510 480h5v5h-5zM555 480h5v5h-5zM525 485h20v5h-20zM150 515h5v5h-5zM155 535h5v5h-5zM160 550h5v5h-5zM510 555h15v5h-15zM530 555h15v5h-15zM495 560h5v5h-5zM565 560h5v5h-5zM360 570h5v5h-5zM475 570h5v5h-5zM595 570h5v5h-5zM170 575h5v5h-5zM360 575h5v5h-5zM470 575h5v5h-5zM605 575h5v5h-5zM360 580h5v5h-5zM465 580h5v5h-5zM610 580h5v5h-5zM360 585h5v5h-5zM460 585h5v5h-5zM615 585h5v5h-5zM185 590h5v5h-5zM360 590h5v5h-5zM455 590h5v5h-5zM360 595h5v5h-5zM450 595h5v5h-5zM620 595h5v5h-5zM360 600h5v5h-5zM445 600h5v5h-5zM620 600h5v5h-5zM440 605h5v5h-5zM435 610h5v5h-5zM430 615h5v5h-5zM215 620h5v5h-5zM365 620h5v5h-5zM425 620h5v5h-5zM365 625h5v5h-5zM425 625h5v5h-5zM360 630h5v5h-5zM420 630h5v5h-5zM360 635h5v5h-5zM415 635h5v5h-5zM355 640h10v5h-10zM410 640h5v5h-5zM235 645h5v5h-5zM355 645h5v5h-5zM405 645h5v5h-5zM245 650h5v5h-5zM350 650h10v5h-10zM400 650h10v5h-10zM255 655h5v5h-5zM350 655h5v5h-5zM395 655h10v5h-10zM625 655h5v5h-5zM260 660h5v5h-5zM345 660h10v5h-10zM395 660h5v5h-5zM625 660h5v5h-5zM265 665h5v5h-5zM340 665h10v5h-10zM390 665h10v5h-10zM625 665h5v5h-5zM270 670h5v5h-5zM340 670h5v5h-5zM385 670h10v5h-10zM275 675h5v5h-5zM335 675h10v5h-10zM385 675h10v5h-10zM275 680h10v5h-10zM330 680h10v5h-10zM380 680h10v5h-10zM630 680h5v5h-5zM280 685h10v5h-10zM320 685h15v5h-15zM380 685h10v5h-10zM630 685h5v5h-5zM285 690h10v5h-10zM315 690h10v5h-10zM380 690h5v5h-5zM290 695h25v5h-25zM375 695h10v5h-10zM295 700h10v5h-10zM375 700h5v5h-5zM635 700h5v5h-5zM375 705h5v5h-5zM635 705h5v5h-5zM375 710h5v5h-5zM370 715h10v5h-10zM370 720h5v5h-5zM370 725h10v5h-10zM640 725h5v5h-5zM375 730h5v5h-5zM640 730h5v5h-5zM375 735h5v5h-5zM640 735h5v5h-5zM375 740h5v5h-5zM640 740h5v5h-5zM375 745h10v5h-10zM640 745h5v5h-5zM375 750h10v5h-10zM640 750h5v5h-5zM325 755h25v5h-25zM375 755h15v5h-15zM640 755h5v5h-5zM310 760h50v5h-50zM375 760h15v5h-15zM640 760h5v5h-5zM310 765h30v5h-30zM355 765h10v5h-10zM375 765h20v5h-20zM305 770h25v5h-25zM365 770h30v5h-30zM635 770h5v5h-5zM310 775h20v5h-20zM370 775h25v5h-25zM630 775h5v5h-5zM310 780h15v5h-15zM370 780h25v5h-25zM630 780h5v5h-5zM315 785h10v5h-10zM375 785h20v5h-20zM625 785h5v5h-5zM315 790h10v5h-10zM380 790h20v5h-20zM615 790h10v5h-10zM320 795h5v5h-5zM385 795h10v5h-10zM605 795h10v5h-10zM320 800h5v5h-5zM575 800h5v5h-5zM320 805h10v5h-10zM495 805h45v5h-45zM560 805h10v5h-10zM320 810h10v5h-10zM485 810h10v5h-10zM320 815h10v5h-10zM480 815h5v5h-5zM325 820h10v5h-10zM475 820h5v5h-5zM325 825h10v5h-10zM330 830h10v5h-10zM470 830h5v5h-5zM335 835h5v5h-5zM335 840h5v5h-5zM335 850h5v5h-5zM335 855h5v5h-5zM325 870h5v5h-5zM320 880h5v5h-5zM315 885h5v5h-5zM430 885h5v5h-5zM425 890h5v5h-5zM310 895h5v5h-5zM420 895h5v5h-5zM305 900h5v5h-5zM300 905h5v5h-5zM505 955h5v5h-5zM510 960h5v5h-5zM510 965h5v5h-5zM515 970h5v5h-5zM515 975h5v5h-5z"/>
<path fill="#bad593" d="M570 270h5v5h-5zM570 275h5v5h-5zM565 290h5v5h-5zM565 295h5v5h-5zM560 300h5v5h-5zM555 305h5v5h-5zM535 370h5v5h-5zM540 375h5v5h-5zM545 380h5v5h-5zM550 385h10v5h-10zM560 390h5v5h-5zM565 395h5v5h-5zM570 405h5v5h-5zM575 415h5v5h-5zM575 420h5v5h-5zM475 455h5v5h-5zM480 460h5v5h-5zM575 460h5v5h-5zM485 465h5v5h-5zM570 465h5v5h-5zM495 470h10v5h-10zM565 470h5v5h-5zM505 475h5v5h-5zM560 475h5v5h-5zM515 480h15v5h-15zM540 480h15v5h-15zM150 505h5v5h-5zM150 510h5v5h-5zM525 555h5v5h-5zM165 560h5v5h-5zM500 560h5v5h-5zM560 560h5v5h-5zM485 565h5v5h-5zM580 565h5v5h-5zM480 570h5v5h-5zM175 580h5v5h-5zM180 585h5v5h-5zM615 590h5v5h-5zM195 595h5v5h-5zM200 600h5v5h-5zM205 605h5v5h-5zM360 605h5v5h-5zM620 605h5v5h-5zM360 610h5v5h-5zM620 610h5v5h-5zM360 615h5v5h-5zM435 615h5v5h-5zM360 620h5v5h-5zM430 620h5v5h-5zM220 625h5v5h-5zM355 625h10v5h-10zM355 630h5v5h-5zM425 630h5v5h-5zM350 635h10v5h-10zM420 635h5v5h-5zM350 640h5v5h-5zM415 640h5v5h-5zM240 645h5v5h-5zM345 645h10v5h-10zM410 645h5v5h-5zM250 650h5v5h-5zM345 650h5v5h-5zM410 650h5v5h-5zM260 655h5v5h-5zM340 655h10v5h-10zM405 655h5v5h-5zM265 660h5v5h-5zM335 660h10v5h-10zM400 660h10v5h-10zM270 665h5v5h-5zM335 665h5v5h-5zM400 665h5v5h-5zM275 670h5v5h-5zM330 670h10v5h-10zM395 670h10v5h-10zM625 670h5v5h-5zM280 675h5v5h-5zM325 675h10v5h-10zM395 675h5v5h-5zM625 675h5v5h-5zM285 680h10v5h-10zM320 680h10v5h-10zM390 680h10v5h-10zM625 680h5v5h-5zM290 685h30v5h-30zM390 685h5v5h-5zM295 690h20v5h-20zM385 690h10v5h-10zM630 690h5v5h-5zM385 695h5v5h-5zM630 695h5v5h-5zM380 700h10v5h-10zM380 705h5v5h-5zM380 710h5v5h-5zM635 710h5v5h-5zM380 715h5v5h-5zM635 715h5v5h-5zM375 720h10v5h-10zM635 720h5v5h-5zM380 725h5v5h-5zM380 730h5v5h-5zM380 735h5v5h-5zM380 740h10v5h-10zM385 745h5v5h-5zM385 750h10v5h-10zM390 755h5v5h-5zM390 760h10v5h-10zM635 760h5v5h-5zM340 765h15v5h-15zM395 765h5v5h-5zM635 765h5v5h-5zM330 770h35v5h-35zM395 770h10v5h-10zM630 770h5v5h-5zM330 775h15v5h-15zM360 775h10v5h-10zM395 775h10v5h-10zM325 780h15v5h-15zM365 780h5v5h-5zM395 780h10v5h-10zM625 780h5v5h-5zM325 785h10v5h-10zM370 785h5v5h-5zM395 785h15v5h-15zM615 785h10v5h-10zM325 790h10v5h-10zM375 790h5v5h-5zM400 790h10v5h-10zM610 790h5v5h-5zM325 795h10v5h-10zM375 795h10v5h-10zM395 795h20v5h-20zM580 795h25v5h-25zM325 800h10v5h-10zM380 800h35v5h-35zM495 800h40v5h-40zM565 800h10v5h-10zM330 805h5v5h-5zM385 805h30v5h-30zM485 805h10v5h-10zM540 805h20v5h-20zM330 810h5v5h-5zM390 810h20v5h-20zM480 810h5v5h-5zM330 815h10v5h-10zM475 815h5v5h-5zM335 820h5v5h-5zM470 820h5v5h-5zM335 825h10v5h-10zM470 825h5v5h-5zM340 830h5v5h-5zM340 835h5v5h-5zM340 840h5v5h-5zM340 845h5v5h-5zM340 850h5v5h-5zM335 860h5v5h-5zM330 865h5v5h-5zM325 875h5v5h-5zM435 875h5v5h-5zM430 880h5v5h-5zM320 885h5v5h-5zM425 885h5v5h-5zM315 890h5v5h-5zM420 890h5v5h-5zM315 895h5v5h-5zM415 895h5v5h-5zM310 900h5v5h-5zM415 900h5v5h-5zM295 910h5v5h-5zM290 915h5v5h-5zM500 950h5v5h-5zM505 960h5v5h-5zM510 970h5v5h-5zM510 975h5v5h-5zM515 980h5v5h-5z"/>
<path fill="#bed18e" d="M565 270h5v5h-5zM565 275h5v5h-5zM565 280h5v5h-5zM565 285h5v5h-5zM560 290h5v5h-5zM560 295h5v5h-5zM555 300h5v5h-5zM535 375h5v5h-5zM540 380h5v5h-5zM545 385h5v5h-5zM550 390h10v5h-10zM560 395h5v5h-5zM565 400h5v5h-5zM565 405h5v5h-5zM570 410h5v5h-5zM575 425h5v5h-5zM575 430h5v5h-5zM575 435h5v5h-5zM575 440h5v5h-5zM575 445h5v5h-5zM470 450h5v5h-5zM575 450h5v5h-5zM480 455h5v5h-5zM575 455h5v5h-5zM485 460h5v5h-5zM570 460h5v5h-5zM490 465h10v5h-10zM505 470h5v5h-5zM560 470h5v5h-5zM510 475h10v5h-10zM550 475h10v5h-10zM530 480h10v5h-10zM155 530h5v5h-5zM160 545h5v5h-5zM505 560h10v5h-10zM555 560h5v5h-5zM490 565h5v5h-5zM575 565h5v5h-5zM170 570h5v5h-5zM355 570h5v5h-5zM590 570h5v5h-5zM355 575h5v5h-5zM475 575h5v5h-5zM600 575h5v5h-5zM355 580h5v5h-5zM470 580h5v5h-5zM605 580h5v5h-5zM355 585h5v5h-5zM465 585h5v5h-5zM610 585h5v5h-5zM190 590h5v5h-5zM355 590h5v5h-5zM460 590h5v5h-5zM355 595h5v5h-5zM455 595h5v5h-5zM615 595h5v5h-5zM355 600h5v5h-5zM450 600h5v5h-5zM355 605h5v5h-5zM445 605h5v5h-5zM210 610h5v5h-5zM355 610h5v5h-5zM440 610h5v5h-5zM215 615h5v5h-5zM355 615h5v5h-5zM620 615h5v5h-5zM355 620h5v5h-5zM435 620h5v5h-5zM620 620h5v5h-5zM350 625h5v5h-5zM430 625h5v5h-5zM620 625h5v5h-5zM225 630h5v5h-5zM350 630h5v5h-5zM620 630h5v5h-5zM345 635h5v5h-5zM425 635h5v5h-5zM620 635h5v5h-5zM235 640h5v5h-5zM345 640h5v5h-5zM420 640h5v5h-5zM620 640h5v5h-5zM245 645h10v5h-10zM340 645h5v5h-5zM415 645h5v5h-5zM620 645h5v5h-5zM255 650h5v5h-5zM340 650h5v5h-5zM415 650h5v5h-5zM620 650h5v5h-5zM265 655h5v5h-5zM335 655h5v5h-5zM410 655h5v5h-5zM620 655h5v5h-5zM270 660h5v5h-5zM330 660h5v5h-5zM410 660h5v5h-5zM620 660h5v5h-5zM275 665h5v5h-5zM325 665h10v5h-10zM405 665h5v5h-5zM620 665h5v5h-5zM280 670h5v5h-5zM320 670h10v5h-10zM405 670h5v5h-5zM620 670h5v5h-5zM285 675h40v5h-40zM400 675h5v5h-5zM295 680h25v5h-25zM400 680h5v5h-5zM395 685h5v5h-5zM625 685h5v5h-5zM395 690h5v5h-5zM625 690h5v5h-5zM390 695h10v5h-10zM390 700h5v5h-5zM630 700h5v5h-5zM385 705h10v5h-10zM630 705h5v5h-5zM385 710h5v5h-5zM630 710h5v5h-5zM385 715h5v5h-5zM385 720h5v5h-5zM385 725h5v5h-5zM635 725h5v5h-5zM385 730h5v5h-5zM635 730h5v5h-5zM385 735h10v5h-10zM635 735h5v5h-5zM390 740h5v5h-5zM635 740h5v5h-5zM390 745h10v5h-10zM635 745h5v5h-5zM395 750h5v5h-5zM635 750h5v5h-5zM395 755h10v5h-10zM635 755h5v5h-5zM400 760h5v5h-5zM400 765h10v5h-10zM630 765h5v5h-5zM405 770h5v5h-5zM625 770h5v5h-5zM345 775h15v5h-15zM405 775h10v5h-10zM620 775h10v5h-10zM340 780h25v5h-25zM405 780h10v5h-10zM615 780h10v5h-10zM335 785h10v5h-10zM365 785h5v5h-5zM410 785h10v5h-10zM610 785h5v5h-5zM335 790h5v5h-5zM370 790h5v5h-5zM410 790h15v5h-15zM590 790h20v5h-20zM335 795h5v5h-5zM370 795h5v5h-5zM415 795h15v5h-15zM500 795h30v5h-30zM570 795h10v5h-10zM335 800h5v5h-5zM375 800h5v5h-5zM415 800h20v5h-20zM485 800h10v5h-10zM535 800h30v5h-30zM335 805h5v5h-5zM380 805h5v5h-5zM415 805h25v5h-25zM480 805h5v5h-5zM335 810h5v5h-5zM385 810h5v5h-5zM410 810h35v5h-35zM475 810h5v5h-5zM340 815h5v5h-5zM390 815h60v5h-60zM470 815h5v5h-5zM340 820h5v5h-5zM395 820h55v5h-55zM465 820h5v5h-5zM405 825h45v5h-45zM460 825h10v5h-10zM345 830h5v5h-5zM460 830h10v5h-10zM345 835h5v5h-5zM460 835h5v5h-5zM340 855h5v5h-5zM450 855h5v5h-5zM445 860h5v5h-5zM440 865h5v5h-5zM330 870h5v5h-5zM435 870h5v5h-5zM430 875h5v5h-5zM325 880h5v5h-5zM425 880h5v5h-5zM420 885h5v5h-5zM320 890h5v5h-5zM415 890h5v5h-5zM320 895h5v5h-5zM315 900h5v5h-5zM305 905h5v5h-5zM300 910h5v5h-5zM285 920h5v5h-5zM495 950h5v5h-5zM500 955h5v5h-5zM500 960h5v5h-5zM505 965h5v5h-5zM505 970h5v5h-5zM505 975h5v5h-5zM510 980h5v5h-5z"/>
<path fill="#c2cd8a" d="M560 275h5v5h-5zM560 280h5v5h-5zM560 285h5v5h-5zM555 290h5v5h-5zM555 295h5v5h-5zM530 370h5v5h-5zM530 375h5v5h-5zM535 380h5v5h-5zM540 385h5v5h-5zM545 390h5v5h-5zM550 395h10v5h-10zM555 400h10v5h-10zM560 405h5v5h-5zM565 410h5v5h-5zM570 415h5v5h-5zM570 420h5v5h-5zM570 425h5v5h-5zM470 445h5v5h-5zM475 450h10v5h-10zM485 455h5v5h-5zM570 455h5v5h-5zM490 460h10v5h-10zM500 465h5v5h-5zM565 465h5v5h-5zM510 470h5v5h-5zM555 470h5v5h-5zM520 475h30v5h-30zM155 525h5v5h-5zM165 555h5v5h-5zM515 560h10v5h-10zM545 560h10v5h-10zM495 565h5v5h-5zM570 565h5v5h-5zM485 570h5v5h-5zM585 570h5v5h-5zM480 575h5v5h-5zM595 575h5v5h-5zM185 585h5v5h-5zM610 590h5v5h-5zM615 600h5v5h-5zM450 605h5v5h-5zM445 610h5v5h-5zM350 615h5v5h-5zM440 615h5v5h-5zM220 620h5v5h-5zM350 620h5v5h-5zM345 625h5v5h-5zM435 625h5v5h-5zM345 630h5v5h-5zM430 630h5v5h-5zM340 635h5v5h-5zM430 635h5v5h-5zM240 640h10v5h-10zM340 640h5v5h-5zM425 640h5v5h-5zM255 645h5v5h-5zM335 645h5v5h-5zM420 645h5v5h-5zM260 650h5v5h-5zM330 650h10v5h-10zM420 650h5v5h-5zM330 655h5v5h-5zM415 655h5v5h-5zM325 660h5v5h-5zM415 660h5v5h-5zM280 665h5v5h-5zM315 665h10v5h-10zM410 665h5v5h-5zM285 670h35v5h-35zM410 670h5v5h-5zM405 675h5v5h-5zM620 675h5v5h-5zM405 680h5v5h-5zM620 680h5v5h-5zM400 685h10v5h-10zM400 690h5v5h-5zM400 695h5v5h-5zM625 695h5v5h-5zM395 700h5v5h-5zM625 700h5v5h-5zM395 705h5v5h-5zM390 710h5v5h-5zM390 715h5v5h-5zM630 715h5v5h-5zM390 720h5v5h-5zM630 720h5v5h-5zM390 725h5v5h-5zM630 725h5v5h-5zM390 730h10v5h-10zM395 735h5v5h-5zM395 740h10v5h-10zM400 745h5v5h-5zM400 750h10v5h-10zM405 755h5v5h-5zM630 755h5v5h-5zM405 760h5v5h-5zM630 760h5v5h-5zM410 765h5v5h-5zM625 765h5v5h-5zM410 770h5v5h-5zM620 770h5v5h-5zM415 775h5v5h-5zM615 775h5v5h-5zM415 780h10v5h-10zM610 780h5v5h-5zM345 785h20v5h-20zM420 785h5v5h-5zM600 785h10v5h-10zM340 790h30v5h-30zM425 790h10v5h-10zM510 790h10v5h-10zM575 790h15v5h-15zM340 795h10v5h-10zM365 795h5v5h-5zM430 795h10v5h-10zM490 795h10v5h-10zM530 795h40v5h-40zM340 800h10v5h-10zM370 800h5v5h-5zM435 800h15v5h-15zM480 800h5v5h-5zM340 805h10v5h-10zM370 805h10v5h-10zM440 805h20v5h-20zM475 805h5v5h-5zM340 810h10v5h-10zM375 810h10v5h-10zM445 810h30v5h-30zM345 815h5v5h-5zM380 815h10v5h-10zM450 815h20v5h-20zM345 820h5v5h-5zM390 820h5v5h-5zM450 820h15v5h-15zM345 825h5v5h-5zM395 825h10v5h-10zM450 825h10v5h-10zM400 830h60v5h-60zM405 835h55v5h-55zM345 840h5v5h-5zM410 840h50v5h-50zM345 845h5v5h-5zM415 845h40v5h-40zM345 850h5v5h-5zM430 850h25v5h-25zM435 855h15v5h-15zM340 860h5v5h-5zM435 860h10v5h-10zM335 865h5v5h-5zM435 865h5v5h-5zM430 870h5v5h-5zM330 875h5v5h-5zM425 875h5v5h-5zM420 880h5v5h-5zM325 885h5v5h-5zM415 885h5v5h-5zM325 890h5v5h-5zM325 895h5v5h-5zM410 895h5v5h-5zM320 900h5v5h-5zM410 900h5v5h-5zM310 905h5v5h-5zM305 910h5v5h-5zM295 915h5v5h-5zM490 955h10v5h-10zM495 960h5v5h-5zM495 965h10v5h-10zM500 970h5v5h-5zM500 975h5v5h-5zM500 980h10v5h-10z"/>
<path fill="#c6c986" d="M555 280h5v5h-5zM555 285h5v5h-5zM525 360h5v5h-5zM530 380h5v5h-5zM535 385h5v5h-5zM535 390h10v5h-10zM545 395h5v5h-5zM550 400h5v5h-5zM555 405h5v5h-5zM560 410h5v5h-5zM565 415h5v5h-5zM565 420h5v5h-5zM570 430h5v5h-5zM570 435h5v5h-5zM570 440h5v5h-5zM475 445h10v5h-10zM570 445h5v5h-5zM485 450h5v5h-5zM570 450h5v5h-5zM490 455h10v5h-10zM565 455h5v5h-5zM500 460h5v5h-5zM565 460h5v5h-5zM505 465h10v5h-10zM555 465h10v5h-10zM515 470h40v5h-40zM155 515h5v5h-5zM155 520h5v5h-5zM160 540h5v5h-5zM525 560h20v5h-20zM170 565h5v5h-5zM500 565h10v5h-10zM565 565h5v5h-5zM490 570h5v5h-5zM175 575h5v5h-5zM180 580h5v5h-5zM475 580h5v5h-5zM600 580h5v5h-5zM350 585h5v5h-5zM470 585h5v5h-5zM605 585h5v5h-5zM195 590h5v5h-5zM350 590h5v5h-5zM465 590h5v5h-5zM200 595h5v5h-5zM350 595h5v5h-5zM460 595h5v5h-5zM205 600h5v5h-5zM350 600h5v5h-5zM455 600h5v5h-5zM210 605h5v5h-5zM350 605h5v5h-5zM615 605h5v5h-5zM350 610h5v5h-5zM615 610h5v5h-5zM445 615h5v5h-5zM615 615h5v5h-5zM345 620h5v5h-5zM440 620h5v5h-5zM615 620h5v5h-5zM225 625h5v5h-5zM615 625h5v5h-5zM340 630h5v5h-5zM435 630h5v5h-5zM615 630h5v5h-5zM235 635h5v5h-5zM335 635h5v5h-5zM615 635h5v5h-5zM250 640h5v5h-5zM335 640h5v5h-5zM430 640h5v5h-5zM615 640h5v5h-5zM260 645h5v5h-5zM330 645h5v5h-5zM425 645h5v5h-5zM615 645h5v5h-5zM265 650h5v5h-5zM325 650h5v5h-5zM425 650h5v5h-5zM615 650h5v5h-5zM270 655h5v5h-5zM320 655h10v5h-10zM420 655h5v5h-5zM615 655h5v5h-5zM275 660h5v5h-5zM315 660h10v5h-10zM615 660h5v5h-5zM285 665h30v5h-30zM415 665h5v5h-5zM615 665h5v5h-5zM415 670h5v5h-5zM615 670h5v5h-5zM410 675h5v5h-5zM410 680h5v5h-5zM410 685h5v5h-5zM620 685h5v5h-5zM405 690h5v5h-5zM620 690h5v5h-5zM405 695h5v5h-5zM620 695h5v5h-5zM400 700h5v5h-5zM400 705h5v5h-5zM625 705h5v5h-5zM395 710h10v5h-10zM625 710h5v5h-5zM395 715h5v5h-5zM625 715h5v5h-5zM395 720h5v5h-5zM395 725h10v5h-10zM400 730h5v5h-5zM630 730h5v5h-5zM400 735h5v5h-5zM630 735h5v5h-5zM405 740h5v5h-5zM630 740h5v5h-5zM405 745h5v5h-5zM630 745h5v5h-5zM630 750h5v5h-5zM410 755h5v5h-5zM410 760h5v5h-5zM625 760h5v5h-5zM415 765h5v5h-5zM620 765h5v5h-5zM415 770h10v5h-10zM615 770h5v5h-5zM420 775h5v5h-5zM610 775h5v5h-5zM425 780h5v5h-5zM600 780h10v5h-10zM425 785h10v5h-10zM580 785h20v5h-20zM435 790h10v5h-10zM490 790h20v5h-20zM520 790h55v5h-55zM350 795h15v5h-15zM440 795h10v5h-10zM480 795h10v5h-10zM350 800h20v5h-20zM450 800h15v5h-15zM470 800h10v5h-10zM350 805h20v5h-20zM460 805h15v5h-15zM350 810h25v5h-25zM350 815h15v5h-15zM370 815h10v5h-10zM350 820h10v5h-10zM375 820h15v5h-15zM350 825h10v5h-10zM385 825h10v5h-10zM350 830h5v5h-5zM390 830h10v5h-10zM350 835h5v5h-5zM395 835h10v5h-10zM350 840h5v5h-5zM400 840h10v5h-10zM350 845h5v5h-5zM400 845h15v5h-15zM405 850h25v5h-25zM345 855h5v5h-5zM405 855h30v5h-30zM410 860h25v5h-25zM340 865h5v5h-5zM410 865h25v5h-25zM335 870h5v5h-5zM415 870h15v5h-15zM335 875h5v5h-5zM415 875h10v5h-10zM330 880h5v5h-5zM410 880h10v5h-10zM330 885h5v5h-5zM410 885h5v5h-5zM330 890h5v5h-5zM410 890h5v5h-5zM330 895h5v5h-5zM325 900h10v5h-10zM315 905h10v5h-10zM405 905h5v5h-5zM310 910h5v5h-5zM300 915h5v5h-5zM290 920h5v5h-5zM485 955h5v5h-5zM485 960h10v5h-10zM490 965h5v5h-5zM490 970h10v5h-10zM490 975h10v5h-10zM495 980h5v5h-5z"/>
<path fill="#cac582" d="M525 365h5v5h-5zM525 370h5v5h-5zM525 375h5v5h-5zM525 380h5v5h-5zM530 385h5v5h-5zM530 390h5v5h-5zM535 395h10v5h-10zM540 400h10v5h-10zM550 405h5v5h-5zM555 410h5v5h-5zM555 415h10v5h-10zM560 420h5v5h-5zM560 425h10v5h-10zM565 430h5v5h-5zM480 435h5v5h-5zM565 435h5v5h-5zM480 440h15v5h-15zM565 440h5v5h-5zM485 445h15v5h-15zM565 445h5v5h-5zM490 450h15v5h-15zM565 450h5v5h-5zM500 455h10v5h-10zM560 455h5v5h-5zM505 460h10v5h-10zM555 460h10v5h-10zM515 465h10v5h-10zM540 465h15v5h-15zM155 510h5v5h-5zM160 535h5v5h-5zM165 550h5v5h-5zM510 565h5v5h-5zM560 565h5v5h-5zM350 570h5v5h-5zM495 570h5v5h-5zM580 570h5v5h-5zM350 575h5v5h-5zM485 575h5v5h-5zM590 575h5v5h-5zM350 580h5v5h-5zM190 585h5v5h-5zM610 595h5v5h-5zM455 605h5v5h-5zM215 610h5v5h-5zM345 610h5v5h-5zM450 610h5v5h-5zM220 615h5v5h-5zM345 615h5v5h-5zM340 620h5v5h-5zM445 620h5v5h-5zM340 625h5v5h-5zM440 625h5v5h-5zM335 630h5v5h-5zM240 635h10v5h-10zM435 635h5v5h-5zM255 640h5v5h-5zM330 640h5v5h-5zM265 645h5v5h-5zM325 645h5v5h-5zM430 645h5v5h-5zM270 650h5v5h-5zM320 650h5v5h-5zM275 655h5v5h-5zM315 655h5v5h-5zM425 655h5v5h-5zM280 660h35v5h-35zM420 660h5v5h-5zM420 665h5v5h-5zM420 670h5v5h-5zM415 675h5v5h-5zM615 675h5v5h-5zM415 680h5v5h-5zM615 680h5v5h-5zM415 685h5v5h-5zM615 685h5v5h-5zM410 690h5v5h-5zM410 695h5v5h-5zM405 700h5v5h-5zM620 700h5v5h-5zM405 705h5v5h-5zM620 705h5v5h-5zM405 710h5v5h-5zM400 715h10v5h-10zM400 720h10v5h-10zM625 720h5v5h-5zM405 725h5v5h-5zM625 725h5v5h-5zM405 730h5v5h-5zM625 730h5v5h-5zM405 735h5v5h-5zM410 740h5v5h-5zM410 745h5v5h-5zM625 745h5v5h-5zM410 750h5v5h-5zM625 750h5v5h-5zM415 755h5v5h-5zM625 755h5v5h-5zM415 760h10v5h-10zM620 760h5v5h-5zM420 765h5v5h-5zM615 765h5v5h-5zM425 770h5v5h-5zM610 770h5v5h-5zM425 775h10v5h-10zM600 775h10v5h-10zM430 780h10v5h-10zM585 780h15v5h-15zM435 785h10v5h-10zM495 785h85v5h-85zM445 790h10v5h-10zM485 790h5v5h-5zM450 795h30v5h-30zM465 800h5v5h-5zM365 815h5v5h-5zM360 820h15v5h-15zM360 825h25v5h-25zM355 830h35v5h-35zM355 835h40v5h-40zM355 840h45v5h-45zM355 845h10v5h-10zM385 845h15v5h-15zM350 850h10v5h-10zM385 850h20v5h-20zM350 855h5v5h-5zM390 855h15v5h-15zM345 860h10v5h-10zM390 860h20v5h-20zM345 865h5v5h-5zM390 865h20v5h-20zM340 870h10v5h-10zM395 870h20v5h-20zM340 875h5v5h-5zM395 875h20v5h-20zM335 880h10v5h-10zM400 880h10v5h-10zM335 885h10v5h-10zM400 885h10v5h-10zM335 890h10v5h-10zM405 890h5v5h-5zM335 895h10v5h-10zM405 895h5v5h-5zM335 900h5v5h-5zM405 900h5v5h-5zM325 905h10v5h-10zM315 910h10v5h-10zM305 915h5v5h-5zM295 920h5v5h-5zM475 965h15v5h-15zM475 970h15v5h-15zM480 975h10v5h-10zM480 980h15v5h-15z"/>
<path fill="#cfc17d" d="M525 385h5v5h-5zM525 390h5v5h-5zM525 395h10v5h-10zM530 400h10v5h-10zM535 405h15v5h-15zM545 410h10v5h-10zM550 415h5v5h-5zM480 420h10v5h-10zM550 420h10v5h-10zM480 425h15v5h-15zM555 425h5v5h-5zM480 430h20v5h-20zM555 430h10v5h-10zM485 435h20v5h-20zM555 435h10v5h-10zM495 440h10v5h-10zM555 440h10v5h-10zM500 445h10v5h-10zM555 445h10v5h-10zM505 450h5v5h-5zM555 450h10v5h-10zM510 455h5v5h-5zM550 455h10v5h-10zM515 460h15v5h-15zM540 460h15v5h-15zM525 465h15v5h-15zM155 505h5v5h-5zM160 530h5v5h-5zM170 560h5v5h-5zM515 565h5v5h-5zM555 565h5v5h-5zM175 570h5v5h-5zM500 570h5v5h-5zM575 570h5v5h-5zM490 575h5v5h-5zM480 580h5v5h-5zM595 580h5v5h-5zM475 585h5v5h-5zM600 585h5v5h-5zM470 590h5v5h-5zM605 590h5v5h-5zM345 595h5v5h-5zM465 595h5v5h-5zM345 600h5v5h-5zM460 600h5v5h-5zM610 600h5v5h-5zM345 605h5v5h-5zM610 605h5v5h-5zM455 610h5v5h-5zM610 610h5v5h-5zM340 615h5v5h-5zM450 615h5v5h-5zM225 620h5v5h-5zM230 625h5v5h-5zM335 625h5v5h-5zM445 625h5v5h-5zM235 630h5v5h-5zM330 630h5v5h-5zM440 630h5v5h-5zM610 630h5v5h-5zM250 635h5v5h-5zM330 635h5v5h-5zM440 635h5v5h-5zM610 635h5v5h-5zM260 640h5v5h-5zM325 640h5v5h-5zM435 640h5v5h-5zM610 640h5v5h-5zM320 645h5v5h-5zM435 645h5v5h-5zM610 645h5v5h-5zM275 650h5v5h-5zM315 650h5v5h-5zM430 650h5v5h-5zM610 650h5v5h-5zM280 655h5v5h-5zM305 655h10v5h-10zM430 655h5v5h-5zM610 655h5v5h-5zM425 660h5v5h-5zM610 660h5v5h-5zM425 665h5v5h-5zM610 665h5v5h-5zM610 670h5v5h-5zM420 675h5v5h-5zM610 675h5v5h-5zM420 680h5v5h-5zM415 690h5v5h-5zM615 690h5v5h-5zM415 695h5v5h-5zM615 695h5v5h-5zM410 700h5v5h-5zM615 700h5v5h-5zM410 705h5v5h-5zM410 710h5v5h-5zM620 710h5v5h-5zM410 715h5v5h-5zM620 715h5v5h-5zM410 720h5v5h-5zM620 720h5v5h-5zM410 725h5v5h-5zM410 730h5v5h-5zM410 735h5v5h-5zM625 735h5v5h-5zM415 740h5v5h-5zM625 740h5v5h-5zM415 745h5v5h-5zM415 750h5v5h-5zM620 750h5v5h-5zM420 755h5v5h-5zM620 755h5v5h-5zM425 760h5v5h-5zM615 760h5v5h-5zM425 765h10v5h-10zM610 765h5v5h-5zM430 770h5v5h-5zM600 770h10v5h-10zM435 775h5v5h-5zM585 775h15v5h-15zM440 780h10v5h-10zM495 780h90v5h-90zM445 785h15v5h-15zM485 785h10v5h-10zM455 790h30v5h-30zM365 845h20v5h-20zM360 850h25v5h-25zM355 855h35v5h-35zM355 860h35v5h-35zM350 865h40v5h-40zM350 870h45v5h-45zM345 875h50v5h-50zM345 880h55v5h-55zM345 885h55v5h-55zM345 890h60v5h-60zM345 895h60v5h-60zM340 900h10v5h-10zM360 900h45v5h-45zM335 905h15v5h-15zM365 905h40v5h-40zM325 910h10v5h-10zM365 910h10v5h-10zM385 910h5v5h-5zM310 915h10v5h-10zM300 920h5v5h-5zM290 925h5v5h-5zM470 965h5v5h-5zM470 970h5v5h-5zM470 975h10v5h-10zM470 980h10v5h-10z"/>
<path fill="#d3bd79" d="M520 350h5v5h-5zM520 355h5v5h-5zM520 360h5v5h-5zM520 365h5v5h-5zM520 370h5v5h-5zM520 375h5v5h-5zM520 380h5v5h-5zM520 385h5v5h-5zM515 390h10v5h-10zM515 395h10v5h-10zM485 400h10v5h-10zM505 400h25v5h-25zM485 405h50v5h-50zM480 410h65v5h-65zM480 415h35v5h-35zM535 415h15v5h-15zM490 420h20v5h-20zM540 420h10v5h-10zM495 425h15v5h-15zM545 425h10v5h-10zM500 430h15v5h-15zM545 430h10v5h-10zM505 435h10v5h-10zM545 435h10v5h-10zM505 440h10v5h-10zM545 440h10v5h-10zM510 445h10v5h-10zM545 445h10v5h-10zM510 450h15v5h-15zM540 450h15v5h-15zM515 455h35v5h-35zM530 460h10v5h-10zM165 545h5v5h-5zM520 565h35v5h-35zM505 570h5v5h-5zM180 575h5v5h-5zM585 575h5v5h-5zM185 580h5v5h-5zM345 580h5v5h-5zM485 580h5v5h-5zM345 585h5v5h-5zM200 590h5v5h-5zM345 590h5v5h-5zM205 595h5v5h-5zM605 595h5v5h-5zM210 600h5v5h-5zM215 605h5v5h-5zM460 605h5v5h-5zM340 610h5v5h-5zM610 615h5v5h-5zM335 620h5v5h-5zM450 620h5v5h-5zM610 620h5v5h-5zM330 625h5v5h-5zM610 625h5v5h-5zM240 630h10v5h-10zM445 630h5v5h-5zM255 635h10v5h-10zM325 635h5v5h-5zM265 640h5v5h-5zM320 640h5v5h-5zM440 640h5v5h-5zM270 645h5v5h-5zM315 645h5v5h-5zM280 650h5v5h-5zM305 650h10v5h-10zM435 650h5v5h-5zM605 650h5v5h-5zM285 655h20v5h-20zM605 655h5v5h-5zM430 660h5v5h-5zM605 660h5v5h-5zM430 665h5v5h-5zM605 665h5v5h-5zM425 670h5v5h-5zM425 675h5v5h-5zM425 680h5v5h-5zM610 680h5v5h-5zM420 685h5v5h-5zM610 685h5v5h-5zM420 690h5v5h-5zM610 690h5v5h-5zM420 695h5v5h-5zM610 695h5v5h-5zM415 700h5v5h-5zM415 705h5v5h-5zM615 705h5v5h-5zM415 710h5v5h-5zM615 710h5v5h-5zM415 715h5v5h-5zM615 715h5v5h-5zM415 720h5v5h-5zM415 725h5v5h-5zM620 725h5v5h-5zM415 730h5v5h-5zM620 730h5v5h-5zM415 735h5v5h-5zM620 735h5v5h-5zM620 740h5v5h-5zM420 745h5v5h-5zM620 745h5v5h-5zM420 750h5v5h-5zM615 750h5v5h-5zM425 755h5v5h-5zM615 755h5v5h-5zM430 760h5v5h-5zM610 760h5v5h-5zM435 765h5v5h-5zM600 765h10v5h-10zM435 770h10v5h-10zM585 770h15v5h-15zM440 775h15v5h-15zM495 775h90v5h-90zM450 780h15v5h-15zM480 780h15v5h-15zM460 785h25v5h-25zM335 910h15v5h-15zM375 910h10v5h-10zM320 915h10v5h-10zM305 920h10v5h-10zM295 925h10v5h-10zM290 930h5v5h-5z"/>
<path fill="#d7b975" d="M515 370h5v5h-5zM515 375h5v5h-5zM515 380h5v5h-5zM505 385h15v5h-15zM485 390h30v5h-30zM485 395h30v5h-30zM495 400h10v5h-10zM515 415h20v5h-20zM510 420h30v5h-30zM510 425h35v5h-35zM515 430h30v5h-30zM515 435h30v5h-30zM515 440h30v5h-30zM520 445h25v5h-25zM525 450h15v5h-15zM160 525h5v5h-5zM170 555h5v5h-5zM175 565h5v5h-5zM345 570h5v5h-5zM510 570h5v5h-5zM570 570h5v5h-5zM345 575h5v5h-5zM495 575h5v5h-5zM580 575h5v5h-5zM590 580h5v5h-5zM195 585h5v5h-5zM480 585h5v5h-5zM595 585h5v5h-5zM475 590h5v5h-5zM600 590h5v5h-5zM470 595h5v5h-5zM340 600h5v5h-5zM465 600h5v5h-5zM605 600h5v5h-5zM340 605h5v5h-5zM605 605h5v5h-5zM220 610h5v5h-5zM460 610h5v5h-5zM225 615h5v5h-5zM335 615h5v5h-5zM455 615h5v5h-5zM230 620h5v5h-5zM240 625h5v5h-5zM450 625h5v5h-5zM250 630h10v5h-10zM325 630h5v5h-5zM605 630h5v5h-5zM265 635h5v5h-5zM320 635h5v5h-5zM445 635h5v5h-5zM605 635h5v5h-5zM270 640h5v5h-5zM315 640h5v5h-5zM605 640h5v5h-5zM275 645h10v5h-10zM305 645h10v5h-10zM440 645h5v5h-5zM605 645h5v5h-5zM285 650h20v5h-20zM435 655h5v5h-5zM435 660h5v5h-5zM430 670h5v5h-5zM605 670h5v5h-5zM430 675h5v5h-5zM605 675h5v5h-5zM430 680h5v5h-5zM605 680h5v5h-5zM425 685h5v5h-5zM605 685h5v5h-5zM425 690h5v5h-5zM605 690h5v5h-5zM425 695h5v5h-5zM420 700h5v5h-5zM610 700h5v5h-5zM420 705h5v5h-5zM610 705h5v5h-5zM420 710h5v5h-5zM610 710h5v5h-5zM420 715h5v5h-5zM615 720h5v5h-5zM420 725h5v5h-5zM615 725h5v5h-5zM420 730h5v5h-5zM615 730h5v5h-5zM420 735h5v5h-5zM615 735h5v5h-5zM420 740h5v5h-5zM615 740h5v5h-5zM425 745h5v5h-5zM615 745h5v5h-5zM425 750h10v5h-10zM610 750h5v5h-5zM430 755h10v5h-10zM605 755h10v5h-10zM435 760h10v5h-10zM600 760h10v5h-10zM440 765h15v5h-15zM585 765h15v5h-15zM445 770h20v5h-20zM485 770h100v5h-100zM455 775h40v5h-40zM465 780h15v5h-15zM330 915h10v5h-10zM345 915h5v5h-5zM315 920h10v5h-10zM305 925h10v5h-10zM295 930h10v5h-10z"/>
<path fill="#dbb570" d="M515 350h5v5h-5zM515 355h5v5h-5zM515 360h5v5h-5zM515 365h5v5h-5zM510 370h5v5h-5zM500 375h15v5h-15zM485 380h30v5h-30zM485 385h20v5h-20zM160 515h5v5h-5zM160 520h5v5h-5zM165 540h5v5h-5zM345 565h5v5h-5zM515 570h5v5h-5zM560 570h10v5h-10zM500 575h5v5h-5zM190 580h5v5h-5zM490 580h5v5h-5zM205 590h5v5h-5zM340 590h5v5h-5zM210 595h5v5h-5zM340 595h5v5h-5zM600 595h5v5h-5zM215 600h5v5h-5zM465 605h5v5h-5zM335 610h5v5h-5zM605 610h5v5h-5zM605 615h5v5h-5zM235 620h5v5h-5zM330 620h5v5h-5zM455 620h5v5h-5zM605 620h5v5h-5zM245 625h10v5h-10zM325 625h5v5h-5zM605 625h5v5h-5zM260 630h5v5h-5zM320 630h5v5h-5zM450 630h5v5h-5zM270 635h5v5h-5zM315 635h5v5h-5zM275 640h5v5h-5zM305 640h10v5h-10zM445 640h5v5h-5zM600 640h5v5h-5zM285 645h20v5h-20zM600 645h5v5h-5zM440 650h5v5h-5zM600 650h5v5h-5zM440 655h5v5h-5zM600 655h5v5h-5zM600 660h5v5h-5zM435 665h5v5h-5zM600 665h5v5h-5zM435 670h5v5h-5zM600 670h5v5h-5zM600 675h5v5h-5zM600 680h5v5h-5zM430 685h5v5h-5zM600 685h5v5h-5zM430 690h5v5h-5zM605 695h5v5h-5zM425 700h5v5h-5zM605 700h5v5h-5zM425 705h5v5h-5zM605 705h5v5h-5zM425 710h5v5h-5zM605 710h5v5h-5zM425 715h5v5h-5zM610 715h5v5h-5zM420 720h5v5h-5zM610 720h5v5h-5zM425 725h5v5h-5zM610 725h5v5h-5zM425 730h5v5h-5zM610 730h5v5h-5zM425 735h5v5h-5zM610 735h5v5h-5zM425 740h10v5h-10zM610 740h5v5h-5zM430 745h5v5h-5zM610 745h5v5h-5zM435 750h5v5h-5zM605 750h5v5h-5zM440 755h10v5h-10zM595 755h10v5h-10zM445 760h20v5h-20zM575 760h25v5h-25zM455 765h130v5h-130zM465 770h20v5h-20zM340 915h5v5h-5zM325 920h10v5h-10zM315 925h10v5h-10zM305 930h10v5h-10zM290 935h15v5h-15z"/>
<path fill="#dfb16c" d="M490 350h25v5h-25zM490 355h25v5h-25zM490 360h25v5h-25zM490 365h25v5h-25zM490 370h20v5h-20zM485 375h15v5h-15zM160 510h5v5h-5zM165 535h5v5h-5zM170 550h5v5h-5zM345 560h5v5h-5zM180 570h5v5h-5zM520 570h10v5h-10zM555 570h5v5h-5zM185 575h5v5h-5zM505 575h5v5h-5zM575 575h5v5h-5zM495 580h5v5h-5zM585 580h5v5h-5zM200 585h5v5h-5zM340 585h5v5h-5zM485 585h5v5h-5zM590 585h5v5h-5zM480 590h5v5h-5zM595 590h5v5h-5zM475 595h5v5h-5zM470 600h5v5h-5zM600 600h5v5h-5zM220 605h5v5h-5zM335 605h5v5h-5zM600 605h5v5h-5zM225 610h5v5h-5zM465 610h5v5h-5zM230 615h5v5h-5zM330 615h5v5h-5zM460 615h5v5h-5zM240 620h5v5h-5zM325 620h5v5h-5zM255 625h5v5h-5zM320 625h5v5h-5zM455 625h5v5h-5zM600 625h5v5h-5zM265 630h5v5h-5zM315 630h5v5h-5zM600 630h5v5h-5zM275 635h5v5h-5zM305 635h10v5h-10zM450 635h5v5h-5zM600 635h5v5h-5zM280 640h25v5h-25zM445 645h5v5h-5zM595 645h5v5h-5zM445 650h5v5h-5zM595 650h5v5h-5zM595 655h5v5h-5zM440 660h5v5h-5zM595 660h5v5h-5zM440 665h5v5h-5zM595 665h5v5h-5zM595 670h5v5h-5zM435 675h5v5h-5zM595 675h5v5h-5zM435 680h5v5h-5zM595 680h5v5h-5zM435 685h5v5h-5zM595 685h5v5h-5zM600 690h5v5h-5zM430 695h5v5h-5zM600 695h5v5h-5zM430 700h5v5h-5zM600 700h5v5h-5zM430 705h5v5h-5zM600 705h5v5h-5zM430 710h5v5h-5zM600 710h5v5h-5zM605 715h5v5h-5zM425 720h5v5h-5zM605 720h5v5h-5zM430 725h5v5h-5zM605 725h5v5h-5zM430 730h5v5h-5zM605 730h5v5h-5zM430 735h5v5h-5zM605 735h5v5h-5zM435 740h5v5h-5zM600 740h10v5h-10zM435 745h10v5h-10zM600 745h10v5h-10zM440 750h20v5h-20zM585 750h20v5h-20zM450 755h145v5h-145zM465 760h110v5h-110zM335 920h10v5h-10zM325 925h10v5h-10zM315 930h10v5h-10zM305 935h15v5h-15zM290 940h20v5h-20z"/>
<path fill="#e3ad68" d="M175 560h5v5h-5zM530 570h25v5h-25zM340 575h5v5h-5zM510 575h5v5h-5zM570 575h5v5h-5zM195 580h5v5h-5zM340 580h5v5h-5zM500 580h5v5h-5zM580 580h5v5h-5zM490 585h5v5h-5zM595 595h5v5h-5zM335 600h5v5h-5zM470 605h5v5h-5zM330 610h5v5h-5zM600 610h5v5h-5zM235 615h5v5h-5zM600 615h5v5h-5zM245 620h10v5h-10zM460 620h5v5h-5zM600 620h5v5h-5zM260 625h5v5h-5zM270 630h5v5h-5zM310 630h5v5h-5zM455 630h5v5h-5zM280 635h10v5h-10zM295 635h10v5h-10zM595 635h5v5h-5zM450 640h5v5h-5zM595 640h5v5h-5zM450 645h5v5h-5zM590 645h5v5h-5zM590 650h5v5h-5zM445 655h5v5h-5zM590 655h5v5h-5zM590 660h5v5h-5zM590 665h5v5h-5zM440 670h5v5h-5zM590 670h5v5h-5zM440 675h5v5h-5zM590 675h5v5h-5zM590 680h5v5h-5zM590 685h5v5h-5zM435 690h5v5h-5zM590 690h10v5h-10zM435 695h5v5h-5zM590 695h10v5h-10zM435 700h5v5h-5zM590 700h10v5h-10zM435 705h5v5h-5zM595 705h5v5h-5zM595 710h5v5h-5zM430 715h10v5h-10zM595 715h10v5h-10zM430 720h10v5h-10zM595 720h10v5h-10zM435 725h5v5h-5zM595 725h10v5h-10zM435 730h5v5h-5zM595 730h10v5h-10zM435 735h10v5h-10zM590 735h15v5h-15zM440 740h15v5h-15zM535 740h65v5h-65zM445 745h155v5h-155zM460 750h125v5h-125zM335 925h10v5h-10zM325 930h15v5h-15zM320 935h15v5h-15zM310 940h20v5h-20zM290 945h30v5h-30z"/>
<path fill="#e7a963" d="M165 530h5v5h-5zM170 545h5v5h-5zM340 570h5v5h-5zM515 575h5v5h-5zM565 575h5v5h-5zM205 585h5v5h-5zM585 585h5v5h-5zM210 590h5v5h-5zM335 590h5v5h-5zM485 590h5v5h-5zM590 590h5v5h-5zM215 595h5v5h-5zM335 595h5v5h-5zM480 595h5v5h-5zM220 600h5v5h-5zM475 600h5v5h-5zM595 600h5v5h-5zM225 605h5v5h-5zM595 605h5v5h-5zM230 610h5v5h-5zM470 610h5v5h-5zM595 610h5v5h-5zM240 615h5v5h-5zM325 615h5v5h-5zM465 615h5v5h-5zM595 615h5v5h-5zM255 620h5v5h-5zM320 620h5v5h-5zM595 620h5v5h-5zM265 625h5v5h-5zM315 625h5v5h-5zM460 625h5v5h-5zM595 625h5v5h-5zM275 630h10v5h-10zM305 630h5v5h-5zM595 630h5v5h-5zM290 635h5v5h-5zM455 635h5v5h-5zM590 635h5v5h-5zM455 640h5v5h-5zM590 640h5v5h-5zM585 645h5v5h-5zM450 650h5v5h-5zM585 650h5v5h-5zM580 655h10v5h-10zM445 660h5v5h-5zM580 660h10v5h-10zM445 665h5v5h-5zM580 665h10v5h-10zM580 670h10v5h-10zM580 675h10v5h-10zM440 680h5v5h-5zM580 680h10v5h-10zM440 685h5v5h-5zM580 685h10v5h-10zM440 690h5v5h-5zM580 690h10v5h-10zM580 695h10v5h-10zM575 700h15v5h-15zM575 705h20v5h-20zM435 710h5v5h-5zM570 710h25v5h-25zM440 715h5v5h-5zM550 715h45v5h-45zM440 720h5v5h-5zM530 720h65v5h-65zM440 725h10v5h-10zM520 725h75v5h-75zM440 730h15v5h-15zM505 730h90v5h-90zM445 735h145v5h-145zM455 740h80v5h-80zM340 930h10v5h-10zM335 935h20v5h-20zM330 940h25v5h-25zM320 945h30v5h-30zM295 950h50v5h-50zM295 955h45v5h-45zM295 960h30v5h-30zM330 960h5v5h-5z"/>
<path fill="#eba55f" d="M165 520h5v5h-5zM165 525h5v5h-5zM175 555h5v5h-5zM180 565h5v5h-5zM340 565h5v5h-5zM185 570h5v5h-5zM190 575h5v5h-5zM520 575h10v5h-10zM560 575h5v5h-5zM200 580h5v5h-5zM505 580h5v5h-5zM575 580h5v5h-5zM335 585h5v5h-5zM495 585h5v5h-5zM580 585h5v5h-5zM490 590h5v5h-5zM220 595h5v5h-5zM590 595h5v5h-5zM225 600h5v5h-5zM230 605h5v5h-5zM330 605h5v5h-5zM475 605h5v5h-5zM235 610h5v5h-5zM325 610h5v5h-5zM245 615h5v5h-5zM260 620h5v5h-5zM315 620h5v5h-5zM465 620h5v5h-5zM270 625h5v5h-5zM310 625h5v5h-5zM590 625h5v5h-5zM285 630h20v5h-20zM460 630h5v5h-5zM590 630h5v5h-5zM460 635h5v5h-5zM585 635h5v5h-5zM580 640h10v5h-10zM455 645h5v5h-5zM580 645h5v5h-5zM575 650h10v5h-10zM450 655h5v5h-5zM570 655h10v5h-10zM450 660h5v5h-5zM565 660h15v5h-15zM560 665h20v5h-20zM445 670h5v5h-5zM560 670h20v5h-20zM445 675h5v5h-5zM555 675h25v5h-25zM445 680h5v5h-5zM555 680h25v5h-25zM550 685h30v5h-30zM550 690h30v5h-30zM440 695h5v5h-5zM545 695h35v5h-35zM440 700h5v5h-5zM540 700h35v5h-35zM440 705h5v5h-5zM530 705h45v5h-45zM440 710h10v5h-10zM520 710h50v5h-50zM445 715h5v5h-5zM515 715h35v5h-35zM445 720h10v5h-10zM505 720h25v5h-25zM450 725h15v5h-15zM485 725h35v5h-35zM455 730h50v5h-50zM350 945h5v5h-5zM345 950h10v5h-10zM340 955h15v5h-15zM335 960h20v5h-20zM295 965h30v5h-30zM295 970h30v5h-30z"/>
<path fill="#e79c5c" d="M165 515h5v5h-5zM170 540h5v5h-5zM530 575h30v5h-30zM335 580h5v5h-5zM510 580h5v5h-5zM570 580h5v5h-5zM210 585h5v5h-5zM500 585h5v5h-5zM215 590h5v5h-5zM585 590h5v5h-5zM485 595h5v5h-5zM330 600h5v5h-5zM480 600h5v5h-5zM590 600h5v5h-5zM590 605h5v5h-5zM240 610h5v5h-5zM475 610h5v5h-5zM590 610h5v5h-5zM250 615h10v5h-10zM320 615h5v5h-5zM470 615h5v5h-5zM590 615h5v5h-5zM265 620h5v5h-5zM590 620h5v5h-5zM275 625h10v5h-10zM300 625h10v5h-10zM465 625h5v5h-5zM585 625h5v5h-5zM585 630h5v5h-5zM580 635h5v5h-5zM460 640h5v5h-5zM575 640h5v5h-5zM570 645h10v5h-10zM455 650h5v5h-5zM565 650h10v5h-10zM560 655h10v5h-10zM555 660h10v5h-10zM450 665h5v5h-5zM550 665h10v5h-10zM550 670h10v5h-10zM545 675h10v5h-10zM545 680h10v5h-10zM445 685h5v5h-5zM540 685h10v5h-10zM445 690h5v5h-5zM535 690h15v5h-15zM445 695h5v5h-5zM530 695h15v5h-15zM445 700h5v5h-5zM525 700h15v5h-15zM445 705h5v5h-5zM515 705h15v5h-15zM450 710h5v5h-5zM510 710h10v5h-10zM450 715h10v5h-10zM495 715h20v5h-20zM455 720h50v5h-50zM465 725h20v5h-20z"/>
<path fill="#e29459" d="M165 510h5v5h-5zM170 535h5v5h-5zM175 550h5v5h-5zM180 560h5v5h-5zM340 560h5v5h-5zM195 575h5v5h-5zM335 575h5v5h-5zM205 580h5v5h-5zM515 580h5v5h-5zM565 580h5v5h-5zM505 585h5v5h-5zM575 585h5v5h-5zM220 590h5v5h-5zM495 590h5v5h-5zM580 590h5v5h-5zM225 595h5v5h-5zM330 595h5v5h-5zM585 595h5v5h-5zM230 600h5v5h-5zM485 600h5v5h-5zM585 600h5v5h-5zM235 605h10v5h-10zM325 605h5v5h-5zM480 605h5v5h-5zM245 610h5v5h-5zM320 610h5v5h-5zM260 615h5v5h-5zM315 615h5v5h-5zM585 615h5v5h-5zM270 620h5v5h-5zM305 620h10v5h-10zM470 620h5v5h-5zM585 620h5v5h-5zM285 625h15v5h-15zM580 625h5v5h-5zM465 630h5v5h-5zM580 630h5v5h-5zM465 635h5v5h-5zM575 635h5v5h-5zM570 640h5v5h-5zM460 645h5v5h-5zM565 645h5v5h-5zM555 650h10v5h-10zM455 655h5v5h-5zM550 655h10v5h-10zM550 660h5v5h-5zM545 665h5v5h-5zM450 670h5v5h-5zM545 670h5v5h-5zM450 675h5v5h-5zM540 675h5v5h-5zM450 680h5v5h-5zM540 680h5v5h-5zM450 685h5v5h-5zM535 685h5v5h-5zM450 690h5v5h-5zM530 690h5v5h-5zM450 695h5v5h-5zM520 695h10v5h-10zM450 700h5v5h-5zM515 700h10v5h-10zM450 705h5v5h-5zM505 705h10v5h-10zM455 710h10v5h-10zM495 710h15v5h-15zM460 715h35v5h-35z"/>
<path fill="#de8b56" d="M170 530h5v5h-5zM185 565h5v5h-5zM190 570h5v5h-5zM520 580h10v5h-10zM560 580h5v5h-5zM215 585h5v5h-5zM570 585h5v5h-5zM225 590h5v5h-5zM330 590h5v5h-5zM230 595h5v5h-5zM490 595h5v5h-5zM580 595h5v5h-5zM235 600h5v5h-5zM325 600h5v5h-5zM245 605h5v5h-5zM585 605h5v5h-5zM250 610h10v5h-10zM480 610h5v5h-5zM585 610h5v5h-5zM265 615h5v5h-5zM310 615h5v5h-5zM475 615h5v5h-5zM580 615h5v5h-5zM275 620h10v5h-10zM300 620h5v5h-5zM580 620h5v5h-5zM470 625h5v5h-5zM575 625h5v5h-5zM575 630h5v5h-5zM570 635h5v5h-5zM465 640h5v5h-5zM565 640h5v5h-5zM555 645h10v5h-10zM460 650h5v5h-5zM550 650h5v5h-5zM545 655h5v5h-5zM455 660h5v5h-5zM545 660h5v5h-5zM455 665h5v5h-5zM540 665h5v5h-5zM540 670h5v5h-5zM535 675h5v5h-5zM535 680h5v5h-5zM530 685h5v5h-5zM520 690h10v5h-10zM515 695h5v5h-5zM455 700h5v5h-5zM505 700h10v5h-10zM455 705h10v5h-10zM495 705h10v5h-10zM465 710h30v5h-30z"/>
<path fill="#da8353" d="M170 525h5v5h-5zM175 545h5v5h-5zM335 570h5v5h-5zM200 575h5v5h-5zM210 580h5v5h-5zM530 580h30v5h-30zM220 585h5v5h-5zM330 585h5v5h-5zM510 585h5v5h-5zM565 585h5v5h-5zM230 590h5v5h-5zM500 590h5v5h-5zM575 590h5v5h-5zM235 595h10v5h-10zM495 595h5v5h-5zM240 600h10v5h-10zM490 600h5v5h-5zM580 600h5v5h-5zM250 605h5v5h-5zM320 605h5v5h-5zM485 605h5v5h-5zM580 605h5v5h-5zM260 610h5v5h-5zM315 610h5v5h-5zM580 610h5v5h-5zM270 615h5v5h-5zM285 620h15v5h-15zM475 620h5v5h-5zM575 620h5v5h-5zM570 625h5v5h-5zM470 630h5v5h-5zM570 630h5v5h-5zM470 635h5v5h-5zM565 635h5v5h-5zM560 640h5v5h-5zM465 645h5v5h-5zM550 645h5v5h-5zM545 650h5v5h-5zM460 655h5v5h-5zM540 660h5v5h-5zM455 670h5v5h-5zM535 670h5v5h-5zM455 675h5v5h-5zM530 675h5v5h-5zM455 680h5v5h-5zM530 680h5v5h-5zM455 685h5v5h-5zM525 685h5v5h-5zM455 690h5v5h-5zM515 690h5v5h-5zM455 695h5v5h-5zM510 695h5v5h-5zM460 700h5v5h-5zM500 700h5v5h-5zM465 705h30v5h-30z"/>
<path fill="#d57a50" d="M170 515h5v5h-5zM170 520h5v5h-5zM175 540h5v5h-5zM180 555h5v5h-5zM335 565h5v5h-5zM215 580h5v5h-5zM330 580h5v5h-5zM225 585h15v5h-15zM515 585h5v5h-5zM560 585h5v5h-5zM235 590h10v5h-10zM505 590h5v5h-5zM570 590h5v5h-5zM245 595h5v5h-5zM325 595h5v5h-5zM575 595h5v5h-5zM250 600h5v5h-5zM255 605h5v5h-5zM265 610h5v5h-5zM310 610h5v5h-5zM485 610h5v5h-5zM575 610h5v5h-5zM275 615h5v5h-5zM300 615h10v5h-10zM480 615h5v5h-5zM575 615h5v5h-5zM570 620h5v5h-5zM475 625h5v5h-5zM475 630h5v5h-5zM565 630h5v5h-5zM560 635h5v5h-5zM470 640h5v5h-5zM555 640h5v5h-5zM545 645h5v5h-5zM465 650h5v5h-5zM540 655h5v5h-5zM460 660h5v5h-5zM535 660h5v5h-5zM460 665h5v5h-5zM535 665h5v5h-5zM530 670h5v5h-5zM525 680h5v5h-5zM520 685h5v5h-5zM460 690h5v5h-5zM510 690h5v5h-5zM460 695h5v5h-5zM500 695h10v5h-10zM465 700h10v5h-10zM485 700h15v5h-15z"/>
<path fill="#d1724d" d="M170 510h5v5h-5zM175 535h5v5h-5zM180 550h5v5h-5zM185 560h5v5h-5zM195 570h5v5h-5zM205 575h5v5h-5zM330 575h5v5h-5zM220 580h20v5h-20zM240 585h10v5h-10zM520 585h10v5h-10zM555 585h5v5h-5zM245 590h10v5h-10zM325 590h5v5h-5zM510 590h5v5h-5zM565 590h5v5h-5zM250 595h5v5h-5zM500 595h5v5h-5zM570 595h5v5h-5zM255 600h5v5h-5zM320 600h5v5h-5zM495 600h5v5h-5zM575 600h5v5h-5zM260 605h5v5h-5zM315 605h5v5h-5zM490 605h5v5h-5zM575 605h5v5h-5zM270 610h5v5h-5zM280 615h20v5h-20zM570 615h5v5h-5zM480 620h5v5h-5zM565 625h5v5h-5zM560 630h5v5h-5zM475 635h5v5h-5zM555 635h5v5h-5zM550 640h5v5h-5zM470 645h5v5h-5zM540 650h5v5h-5zM465 655h5v5h-5zM535 655h5v5h-5zM530 665h5v5h-5zM460 670h5v5h-5zM460 675h5v5h-5zM525 675h5v5h-5zM460 680h5v5h-5zM520 680h5v5h-5zM460 685h5v5h-5zM515 685h5v5h-5zM465 690h5v5h-5zM505 690h5v5h-5zM465 695h10v5h-10zM490 695h10v5h-10zM475 700h10v5h-10z"/>
<path fill="#cd694a" d="M175 530h5v5h-5zM335 560h5v5h-5zM190 565h5v5h-5zM210 575h10v5h-10zM235 575h10v5h-10zM240 580h10v5h-10zM250 585h5v5h-5zM325 585h5v5h-5zM530 585h25v5h-25zM255 590h5v5h-5zM515 590h5v5h-5zM560 590h5v5h-5zM255 595h5v5h-5zM320 595h5v5h-5zM505 595h5v5h-5zM260 600h5v5h-5zM570 600h5v5h-5zM265 605h5v5h-5zM310 605h5v5h-5zM570 605h5v5h-5zM275 610h5v5h-5zM300 610h10v5h-10zM490 610h5v5h-5zM570 610h5v5h-5zM485 615h5v5h-5zM565 620h5v5h-5zM480 625h5v5h-5zM560 625h5v5h-5zM480 630h5v5h-5zM555 630h5v5h-5zM550 635h5v5h-5zM475 640h5v5h-5zM545 640h5v5h-5zM540 645h5v5h-5zM470 650h5v5h-5zM535 650h5v5h-5zM465 660h5v5h-5zM530 660h5v5h-5zM465 665h5v5h-5zM465 670h5v5h-5zM525 670h5v5h-5zM465 675h5v5h-5zM520 675h5v5h-5zM465 680h5v5h-5zM515 680h5v5h-5zM465 685h5v5h-5zM505 685h10v5h-10zM470 690h10v5h-10zM490 690h15v5h-15zM475 695h15v5h-15z"/>
<path fill="#c86046" d="M175 515h5v5h-5zM175 520h5v5h-5zM175 525h5v5h-5zM180 545h5v5h-5zM185 555h5v5h-5zM200 570h5v5h-5zM330 570h5v5h-5zM220 575h15v5h-15zM245 575h5v5h-5zM250 580h5v5h-5zM325 580h5v5h-5zM255 585h5v5h-5zM320 590h5v5h-5zM520 590h5v5h-5zM555 590h5v5h-5zM260 595h5v5h-5zM510 595h5v5h-5zM565 595h5v5h-5zM265 600h5v5h-5zM315 600h5v5h-5zM500 600h5v5h-5zM565 600h5v5h-5zM270 605h5v5h-5zM305 605h5v5h-5zM495 605h5v5h-5zM280 610h20v5h-20zM565 610h5v5h-5zM565 615h5v5h-5zM485 620h5v5h-5zM560 620h5v5h-5zM480 635h5v5h-5zM545 635h5v5h-5zM540 640h5v5h-5zM475 645h5v5h-5zM535 645h5v5h-5zM470 655h5v5h-5zM530 655h5v5h-5zM470 660h5v5h-5zM525 660h5v5h-5zM525 665h5v5h-5zM520 670h5v5h-5zM470 675h5v5h-5zM515 675h5v5h-5zM470 680h5v5h-5zM510 680h5v5h-5zM470 685h15v5h-15zM495 685h10v5h-10zM480 690h10v5h-10z"/>
<path fill="#c45843" d="M175 510h5v5h-5zM180 540h5v5h-5zM195 565h5v5h-5zM205 570h5v5h-5zM230 570h20v5h-20zM250 575h5v5h-5zM255 580h5v5h-5zM260 590h5v5h-5zM525 590h10v5h-10zM550 590h5v5h-5zM265 595h5v5h-5zM315 595h5v5h-5zM515 595h5v5h-5zM560 595h5v5h-5zM270 600h5v5h-5zM310 600h5v5h-5zM505 600h5v5h-5zM275 605h5v5h-5zM300 605h5v5h-5zM500 605h5v5h-5zM565 605h5v5h-5zM495 610h5v5h-5zM490 615h5v5h-5zM560 615h5v5h-5zM485 625h5v5h-5zM555 625h5v5h-5zM485 630h5v5h-5zM550 630h5v5h-5zM480 640h5v5h-5zM535 640h5v5h-5zM475 650h5v5h-5zM530 650h5v5h-5zM475 655h5v5h-5zM525 655h5v5h-5zM470 665h5v5h-5zM520 665h5v5h-5zM470 670h5v5h-5zM515 670h5v5h-5zM475 675h5v5h-5zM510 675h5v5h-5zM475 680h10v5h-10zM500 680h10v5h-10zM485 685h10v5h-10z"/>
<path fill="#c04f40" d="M180 530h5v5h-5zM180 535h5v5h-5zM185 550h5v5h-5zM190 560h5v5h-5zM330 565h5v5h-5zM210 570h20v5h-20zM325 575h5v5h-5zM260 585h5v5h-5zM320 585h5v5h-5zM265 590h5v5h-5zM535 590h15v5h-15zM270 595h5v5h-5zM520 595h5v5h-5zM555 595h5v5h-5zM275 600h5v5h-5zM305 600h5v5h-5zM510 600h5v5h-5zM560 600h5v5h-5zM280 605h20v5h-20zM505 605h5v5h-5zM560 605h5v5h-5zM500 610h5v5h-5zM560 610h5v5h-5zM495 615h5v5h-5zM490 620h5v5h-5zM555 620h5v5h-5zM490 625h5v5h-5zM550 625h5v5h-5zM545 630h5v5h-5zM485 635h5v5h-5zM540 635h5v5h-5zM480 645h5v5h-5zM530 645h5v5h-5zM480 650h5v5h-5zM525 650h5v5h-5zM475 660h5v5h-5zM520 660h5v5h-5zM475 665h5v5h-5zM515 665h5v5h-5zM475 670h10v5h-10zM510 670h5v5h-5zM480 675h10v5h-10zM505 675h5v5h-5zM485 680h15v5h-15z"/>
<path fill="#bc473d" d="M180 515h5v5h-5zM180 520h5v5h-5zM180 525h5v5h-5zM185 545h5v5h-5zM200 565h5v5h-5zM235 565h10v5h-10zM255 575h5v5h-5zM260 580h5v5h-5zM315 590h5v5h-5zM310 595h5v5h-5zM525 595h10v5h-10zM545 595h10v5h-10zM280 600h5v5h-5zM295 600h10v5h-10zM515 600h5v5h-5zM555 600h5v5h-5zM555 605h5v5h-5zM555 610h5v5h-5zM555 615h5v5h-5zM495 620h5v5h-5zM550 620h5v5h-5zM545 625h5v5h-5zM490 630h5v5h-5zM540 630h5v5h-5zM535 635h5v5h-5zM485 640h5v5h-5zM530 640h5v5h-5zM485 645h5v5h-5zM525 645h5v5h-5zM485 650h5v5h-5zM520 650h5v5h-5zM480 655h5v5h-5zM520 655h5v5h-5zM480 660h5v5h-5zM515 660h5v5h-5zM480 665h10v5h-10zM510 665h5v5h-5zM485 670h25v5h-25zM490 675h15v5h-15z"/>
<path fill="#b73e3a" d="M185 540h5v5h-5zM190 555h5v5h-5zM195 560h5v5h-5zM205 565h5v5h-5zM225 565h10v5h-10zM325 570h5v5h-5zM320 580h5v5h-5zM265 585h5v5h-5zM315 585h5v5h-5zM270 590h5v5h-5zM310 590h5v5h-5zM275 595h5v5h-5zM305 595h5v5h-5zM535 595h10v5h-10zM285 600h10v5h-10zM520 600h5v5h-5zM550 600h5v5h-5zM510 605h5v5h-5zM550 605h5v5h-5zM505 610h5v5h-5zM550 610h5v5h-5zM500 615h5v5h-5zM550 615h5v5h-5zM500 620h5v5h-5zM545 620h5v5h-5zM495 625h5v5h-5zM540 625h5v5h-5zM495 630h5v5h-5zM535 630h5v5h-5zM490 635h5v5h-5zM530 635h5v5h-5zM490 640h5v5h-5zM525 640h5v5h-5zM490 645h5v5h-5zM520 645h5v5h-5zM490 650h5v5h-5zM515 650h5v5h-5zM485 655h10v5h-10zM510 655h10v5h-10zM485 660h10v5h-10zM505 660h10v5h-10zM490 665h20v5h-20z"/>
<path fill="#b33637" d="M185 510h5v5h-5zM185 515h5v5h-5zM185 520h5v5h-5zM185 525h5v5h-5zM185 530h5v5h-5zM185 535h5v5h-5zM190 550h5v5h-5zM330 560h5v5h-5zM210 565h15v5h-15zM320 575h5v5h-5zM275 590h5v5h-5zM305 590h5v5h-5zM280 595h25v5h-25zM525 600h25v5h-25zM515 605h10v5h-10zM545 605h5v5h-5zM510 610h5v5h-5zM545 610h5v5h-5zM505 615h5v5h-5zM545 615h5v5h-5zM505 620h5v5h-5zM540 620h5v5h-5zM500 625h5v5h-5zM535 625h5v5h-5zM500 630h5v5h-5zM530 630h5v5h-5zM495 635h5v5h-5zM525 635h5v5h-5zM495 640h5v5h-5zM515 640h10v5h-10zM495 645h5v5h-5zM510 645h10v5h-10zM495 650h20v5h-20zM495 655h15v5h-15zM495 660h10v5h-10z"/>
<path fill="#af2d34" d="M190 545h5v5h-5zM195 555h5v5h-5zM200 560h5v5h-5zM235 560h10v5h-10zM325 565h5v5h-5zM255 570h5v5h-5zM260 575h5v5h-5zM265 580h5v5h-5zM315 580h5v5h-5zM270 585h5v5h-5zM310 585h5v5h-5zM280 590h5v5h-5zM300 590h5v5h-5zM525 605h20v5h-20zM515 610h30v5h-30zM510 615h10v5h-10zM535 615h10v5h-10zM510 620h5v5h-5zM535 620h5v5h-5zM505 625h10v5h-10zM525 625h10v5h-10zM505 630h25v5h-25zM500 635h25v5h-25zM500 640h15v5h-15zM500 645h10v5h-10z"/>
<path fill="#aa2531" d="M190 510h5v5h-5zM190 515h5v5h-5zM190 520h5v5h-5zM190 525h5v5h-5zM190 530h5v5h-5zM190 535h5v5h-5zM190 540h5v5h-5zM205 560h5v5h-5zM225 560h10v5h-10zM320 570h5v5h-5zM275 585h5v5h-5zM305 585h5v5h-5zM285 590h15v5h-15zM520 615h15v5h-15zM515 620h20v5h-20zM515 625h10v5h-10z"/>
<path fill="#a61c2e" d="M195 510h5v5h-5zM195 550h5v5h-5zM200 555h5v5h-5zM210 560h15v5h-15zM315 575h5v5h-5zM270 580h5v5h-5zM310 580h5v5h-5zM280 585h5v5h-5zM300 585h5v5h-5z"/>
<path fill="#a41c2c" d="M195 515h5v5h-5zM195 520h5v5h-5zM195 525h5v5h-5zM195 530h5v5h-5zM195 535h5v5h-5zM195 540h5v5h-5zM195 545h5v5h-5zM205 555h5v5h-5zM230 555h10v5h-10zM325 560h5v5h-5zM255 565h5v5h-5zM260 570h5v5h-5zM265 575h5v5h-5zM285 585h15v5h-15z"/>
<path fill="#a31c2a" d="M200 510h5v5h-5zM200 515h5v5h-5zM200 545h5v5h-5zM200 550h5v5h-5zM210 555h20v5h-20zM320 565h5v5h-5zM315 570h5v5h-5zM310 575h5v5h-5zM275 580h5v5h-5zM305 580h5v5h-5z"/>
<path fill="#a11c28" d="M205 510h5v5h-5zM200 520h5v5h-5zM200 525h5v5h-5zM200 530h5v5h-5zM200 535h5v5h-5zM200 540h5v5h-5zM205 550h5v5h-5zM235 550h5v5h-5zM325 555h5v5h-5zM270 575h5v5h-5zM280 580h5v5h-5zM300 580h5v5h-5z"/>
<path fill="#9f1c26" d="M205 515h5v5h-5zM205 520h5v5h-5zM205 525h5v5h-5zM205 530h5v5h-5zM205 535h5v5h-5zM205 540h5v5h-5zM205 545h5v5h-5zM210 550h25v5h-25zM320 560h5v5h-5zM315 565h5v5h-5zM265 570h5v5h-5zM310 570h5v5h-5zM305 575h5v5h-5zM285 580h15v5h-15z"/>
<path fill="#9e1b24" d="M210 520h5v5h-5zM210 525h5v5h-5zM210 535h5v5h-5zM210 540h5v5h-5zM210 545h30v5h-30zM255 560h5v5h-5zM260 565h5v5h-5zM275 575h5v5h-5zM300 575h5v5h-5z"/>
<path fill="#9c1b22" d="M215 525h5v5h-5zM210 530h10v5h-10zM215 535h5v5h-5zM215 540h25v5h-25zM320 555h5v5h-5zM315 560h5v5h-5zM310 565h5v5h-5zM270 570h5v5h-5zM305 570h5v5h-5zM280 575h20v5h-20z"/>
<path fill="#9a1b20" d="M220 525h10v5h-10zM220 530h15v5h-15zM220 535h20v5h-20zM265 565h5v5h-5zM300 570h5v5h-5z"/>
<path fill="#981b1e" d="M230 525h5v5h-5zM320 550h5v5h-5zM255 555h5v5h-5zM315 555h5v5h-5zM260 560h5v5h-5zM310 560h5v5h-5zM305 565h5v5h-5zM275 570h10v5h-10zM295 570h5v5h-5z"/>
<path fill="#971b1c" d="M305 560h5v5h-5zM270 565h5v5h-5zM300 565h5v5h-5zM285 570h10v5h-10z"/>
<path fill="#951b1a" d="M315 550h5v5h-5zM260 555h5v5h-5zM310 555h5v5h-5zM265 560h5v5h-5zM300 560h5v5h-5zM275 565h25v5h-25z"/>
<path fill="#931b18" d="M255 550h5v5h-5zM310 550h5v5h-5zM300 555h10v5h-10zM270 560h10v5h-10zM290 560h10v5h-10z"/>
<path fill="#921a16" d="M310 540h5v5h-5zM255 545h5v5h-5zM305 545h10v5h-10zM260 550h5v5h-5zM300 550h10v5h-10zM265 555h10v5h-10zM290 555h10v5h-10zM280 560h10v5h-10z"/>
<path fill="#901a14" d="M310 530h5v5h-5zM305 535h10v5h-10zM300 540h10v5h-10zM260 545h5v5h-5zM295 545h10v5h-10zM265 550h35v5h-35zM275 555h15v5h-15z"/>
<path fill="#8e1a12" d="M305 525h10v5h-10zM300 530h10v5h-10zM295 535h10v5h-10zM260 540h5v5h-5zM285 540h15v5h-15zM265 545h30v5h-30z"/>
<path fill="#8d1a10" d="M290 520h10v5h-10zM285 525h20v5h-20zM265 530h35v5h-35zM260 535h35v5h-35zM265 540h20v5h-20z"/>
<path fill="#8b1a0e" d="M270 515h25v5h-25zM265 520h25v5h-25zM265 525h20v5h-20z"/>
</g></g>
<path d="M277.1 549.2l0-4.3 0.7-5.8 1.4-7.3 3.7-2.5 4.3 0.7-2.9 2.5-2.9 6.6 0 5.1 8.7 0 5.1-3.7 5.1-3.2 2.9 6.1 0 8.8-23.7 0 0-3z" fill="#fdfdfd"/>
<path d="M277.1 549.2l0-4 3.6-1.2 0.7 0.2 8.7 0 5.1-3.7 5.1-3.2 2 3.7 0.9 2.4-1.2 4.6 1.2 4.2-23.7 0 0-3z" fill="#8c8c8c"/>
<path d="M465.1 816l0-3-2.1-3 0.5-4.1 0.5-2.9 0.4-2.3 2.6-2.5 0.1-2.2 0.8-2.5 0.2-2.5 3.3-2.4 1.7-1.6 0.8-2 1.2-3-3-3-3.7-1.1-1.3-1.9-1.9-1.7-1.1-2.3-0.6-2-1.5-2.4 3.1 2.4 2.7 2.2 2.3 2.8 2 0.8 3 2.2 3-1-1-3-1.1-3.2-1.9-0.8 2.5-0.9 2.5-0.1 4-1-1-4-1.9-1.5-2.1-1.5-4-1 1-3.4 2.5 1.4 2.4 1.3 2.1 1.7 3.2 0.4 1.8-0.4 2.4 1.2 2.2 0.3 2.4 1.5 2.5 1.2 3.5 1.4 3.2-0.5 3.8 0.5 2.8-1.9 3.2-0.7 4-2 3 3 3 1 2.4-2.2 1.6-1.8 1.5-4-0.5-4 3.1-2 3-2-1-2.4 1-2.6-3-2-1-4 4-0.5 2.9 1.6 2 0 2.1 0.4 1.5 1.9 3.1 0.5 1.4 1.6 2 3.7 2 1.8 2 1.6 2.4 0.8 2.6 1.1 1.5 3.5-3.5 3-3 2 2.2 2.8 2.8 1.2 1.8 1.6 3.2 2-2 3-4-2.6-2.8-1.2-2.2-1.8-2.8-2.7-1.2-1.3-2-3-4-0.3-2 1.3-2.2 1.3-2.8 2.7-2.5 1.1-0.5 2.9-4.1 1-2 1.7-2 2.9-4-0.6-3.4-1.8-1.6-0.6-3.4 0.2-3.6 0.2-3 2.6-3-1.6-2 1-3.7-0.6-2.3-1.4-4 0-1 4-1.4 1.7-1.6 2.3-1.8 2.2-2.2 1.8-2.4 1.8-2.6 0.8-3 2.4-3 3-0.4 3.4-0.6 2.6-2.1 2.3-0.9 2.7-0.9 3.4 0.3 3.6-0.2 3.1zM566 884l1.5-1.9 2.8-1.9 1.7-0.2 1.8 0.2 2.5 1.9 3.7-0.1 2.1-0.9 3.4-1.5 2.5-1.6 1.5 2 1.3 2.7 1.2 1.3-2 2-1.4 1.9-2.6 2.1-2.7-0.2-1.8-1.1-3.5-0.7-2.7 1-1.1 2.1-2.2 0.9-2.4-1.6-3.6-0.4 0.5-2zM586 866l2.2-2 3.8-1 1.7 2.2 3.3 2.8-1.2 2.3-1.8 3.7-3.5-0.2-2.5-1.8-0.4-3.1zM548 912l2.5-0.4 3.7-1.9 1.8 0.3 1.8 1.3 2.5 1.3 1.7 1.4-2.2 1.4-1.5 0.1-2.3 2.5-3.3-1.2-2.7 0.2-1.8-3.3z" fill="#fdfdfd" stroke="#000" stroke-width="0.9" stroke-linejoin="round"/>
<g fill="none" stroke="#000" stroke-width="1.1" stroke-linejoin="round">
<use href="#mo"/>
<path d="M660.4 260l0.9 2.2 2.6 4.5 0.8 2.8 1.9 3.2M666.6 260l3.7 0.3 5.1 1.1 0.6 3.8 2 4.8 4.1 1.1 3.3 1.6 0.5 3.9-0.4 2.3-0.2 2.8 0.1 3.3 2 1.3 3.6 1.7 3.4 1.8 2.8 3.1 3.3 1.1 2.3 0.7 3.8 1.9 3.1 2.2 3.7 1.8 2.1 0.9 2.4 1.7 3.9 0.3 3.7 3 2.3 1.3 2.8 2.3 2.5 1.9 2.7 1.8 2.2 1.2 3.5 1.6 3 1.2 2.5 0.6 2.9 1.8 3.1 1.8M570.3 335l2 3.2 1.6 4.3 1.4 2.5 3 2.5 1.6 1.3 3.5 2 1.3 2 3.1 2.2 1.7 2.8 1 2.1 1.4 3.5 2.9 1 1.3 2.8 1.7 2.8 2.4 2.4 3.5 3.5 0.4 3 2.5 2.7 3.4-2.4 2.5-1.1 2.8-1.5 2.2 1.8 3.8-0.1 2.7 0.7 0.4 3.4-0.4 2.4 0 4.2-2.9 0.9-2.3 1.3-2.8 1.6-3.2 1.2-1.3 3.8-0.1 2.4-1.2 3.7-0.3 2.3-1.3 3.4-0.8 3.4-3.8 3.6 1.6 1.5 2.2 2.5 2.8 2 2.2 2.8 1.2 2.9 2.4 2.4 1.6 3.5 2.3 3.8 1.5 2 0.9 4.5 0.4 2.8 0.7 1.9 1.5 3.8 3.5 0.7 4 1.3 2.6 0.8 3.6 0.3 3.4 1.2 2.1 0.4 2.2 1.4 3.7-0.3 1.2 5-2.6 1.5-3.2 3.7-3.2 1.3-2.2 2.2-2.7 2.4-0.7 2.9-3.6 2.3-0.6 2.4-2 3.1-3.3 2.3-1.9 1.9-3.4 2.9-1.9 2.3 0.1 3.3 1.2 5.5 2.7 0.9 4 1.7 3.5 1.1 2.8 1 3.3 1.5-1.7 1-2.6 2-3.3 2-0.7 4.3 0.5 2.3 0.3 4.1-0.6 2 0.7 4.4-0.2 2.9 1.5 2 2.1 5 1.5 2-1 3-0.2 3.1-1.5 4.4-1.1 3.2 0.9 2.7 1.8 5.2 1.1 2.1 2 2.8 3 2.2-4.2 1.7-3.4 0.6 0.1 3.3-0.3 2.5-0.1 3.7 1.1 3.3-1.6 2.5 0.9 2.8-0.3 3.6 0.2 3.3 2.7 3.1 2.1 1.9 2.7 3 2.6 2-0.6 2.6 0.8 4.7-0.2 2.7 2.4 3.1 1.1 4.3 1.5 2.6 0.4 2.8 0.2 3.4 0.4 3 0.1 3.6 3.8 1.7 2.6 1.7 2.1 1.9 2.9 1.9 2.8 0 3.2 1.8 3.2 0.2 3.6 2 2.2 0.8 2.2-0.5 3.7 0.2 3.9 0.3 3.1 0.5 3.4 0M649 642.8l0 3.4 0.4 2.8-0.8 4.1 0.4 2.2-1.5 3.6-0.6 2.7-1.5 3.7-1.8 1.5-2.4 1.5-3.6 3.5-2.2 1-4 1.1-2.4 1.1-2.3 0.4-2.9 0.9-3.5 1-3.1 0.9-3.8-0.2-3.1 0.3M483 457.5l-1 3.4-1.5 2.6-1.5 2-1.6 3.2-0.5 3.8-1.3 2.5-0.2 2.6 0.4 3.5-1.5 3.4 0.8 3.3-1.1 3.6-0.5 3.8 0.8 2.1-1.3 3.7 0.1 3.9-0.1 2.7 0.6 2.4-0.6 4.4-0.3 1.6 1.1 4.5-0.1 1.8 0.5 3.1-0.2 2.9 1 2.9-0.3 4.5-0.5 2.4 1.3 2.8-0.1 3.7 0.1 2.4 0.1 3 2.6 2.4 2.4 2.6 1.3-2.9 2.2-3 1.9-0.9 1.6-3.2 3.4-1.5 2.9-3.5-1.8 3.3-0.5 3.3-2.7 3.4-1.1 3.2-0.2 3.2 2.8 0.2 3.3 2.7 3.5 1.3 3 0.8 2.6 0.6 2.5 2.1 3.4 0.9 2.9 1.3 3.2 2.1 2.1 0.5 4.1 1.1 1.7 1.4 0.7-4.5 0.5-4.2 1.6-2.8 2.8-1.7 1.9-3.2 2.3 1.3 2.7 3.7 2.1-2.2 2.9-2.8 2.9 2.8 2.2 2.2 2.1 2.1 2.8 2.9-0.1 4.1 0.1 3.6 2.6-3 2.4-2 2.8 1.3 4 0 2.2 1.6 2.2 0.7 3.9 1.4 3.2 1.5 2 1.4 2.6-0.1 3.4 2.2 2-4.6-0.3-3 0.8-3.7 3.2 2.8 3.1 2.2 3.1-1.2 3.6-1.9 3.3 0.7 3.6-1.7 1.9-1.5 2.6-1.9 3.2-0.4 3.7-2.1 2.3 0 4.9-1.4 2.8-1 4.9 0.1 2-0.1 4.4 1M297.8 552.7l0.4 3.8 2.2 2.4-0.7 2.3 0.6 3.8 0.9 2.7 2.3 2.2 1.1 2.5 2.5 2.1 2.5 3.4 1.4 2.6 1.8 2.2 2.3 4.1 0.6 1.8 2.9 3.8 1.7 2.6 1.3 3.6 0.4 2 0 3 2 2.9-1.6 1.2-4.7 0.4-2.4 0.9-3.2 1.4-2.9 0.3-4.3 1.6-3.2 1.7-3 0-3.4 1.3-2.4 1.3-4.1 2.1-3.3 0.9-2.2 0.4-3 2.8-0.9 2-3.7 2.6-2.3 2.8-0.6 3.5-2.5 1.6 1.5 3.5 1.6 3 1.2 2.9 0.7 3.1 1 2.9 2.9 1.9 2.3 2.4 1.1 2.4 2.7 2.9 3.2 3.6 2 0.9 2.3 3M534.4 672.8l-3.7 1.3-2.3 0-3.5 0.1-3.6 1.3-2.1 0.7-2.7 0.1-3.5 1.5-4.1 1.3-2.3 0.9-3.5 0.1-3.7 1.2-2 0.7-4.2 0.5-2.6 1.5-0.8 3.5-1.2 2.9-0.6 3.6-4.1 0.8-2.5 1.4-3.4 0.4-2.8-1.4-3.2-0.4-4-0.8-0.7 3.8-2.2 1.3-1.9 3.6-1.2 3.3-1.5 1.9-2.2 0.7-1.8 3.4-4.6 1.7-1.4 1.7-2.6 0.7-3 2.1-2.7 0.7-3.1 0.5-3.2 2.3-2.3 0.8-3.1 1.5-3.4-1.1-3.5-0.1-2.9-1.2-4.2-0.3-1.7-1.3-4.6-0.7-2.2-0.3-3.5-1-2.5-1.7-2.6-0.8-3.5-1.9-2.7-0.7-2.8-1.3-0.7 3.9-1.4 3.6-1.7 2.5-1.2 3.8 0.7 4 1.2 2.5 0.5 3.8 0.2 3.1 1.5 3.2 0.9 3.4-3-0.1-4.1 0.7-2.9 0.7-3.4-0.7-3-0.9-3.6-0.8-2.5-0.3-3.3-1.3-2.6-1.4-2.9-2.3 2.3-1.9 3-3.9 1.2-2.4 3.5-2.8 0.3-4.2-0.8-4.1 0.5-3.1-2.7 1.1-2.7 3.7-2 2.1-2.4 2.8-3.9 1.7-4.1 1.7-3.4 2-3.2-1.6-1.6-1.4-2.7-2.1-3.4-0.8-3.1-0.2-2.7 0.3-2.3-0.5-3.6 0M380.4 746.3l-0.5 3.6-0.3 3.7-0.8 2.7 0.4 3.7 0.4 2.9 1.4 2.8 0.8 3.3 0.2 3.2 0.9 2.8 3.1 2.8 1.9 1.4 3.1 3.2 2.2 2.9 2.2 2.3 1.2 2.2 3.7 2.7 2.1 0.7 3.9 2.1 0.7 2.6 3.5 2.1 1.3 2.1 2.1 3.2 1.9 1.9 1.4 2.7 2 2.3 1.3 2.8 2.3 2.8 0.6 3.1 1.6 3.2 1 2.3 0.5 2.6 1.5 3.7 2.8 2 2.3 1.9 1.6 2.4 2.3 1.8 2.3 1.9M526.4 657.8l1.6-3.2 2.2-4.3 1.8-1.2 4.9-1.9 2.1-1.9 2.6 2.7 2.4 3.5 3-1.2 3-0.4 3.7-0.1 3-1.5 3.5-0.5 3.2-2.3 3.1-4 2.7 0.5 5.1-0.3 3.5 1.1 2.8 1.9 1.7 1.5 2.8 2.4 2.3 1.2 2.9 1.7 3.4 0.2 3.3 1.2 2.2 0.8 2.5 1 3.6 0.6 1.8 2.4 1.6 4.2 0.9 3 1.1 4.6 2.1 2.1-1.8 3.7-2 2.5-3.6 0.4-3 0.9-4.7 0.1-2.4-0.2-0.1 3-1.2 3.3-2.8 2-4 0.7-1.9 1.9-3.2 0.5-4-0.1-2.3 0.4-3 0.2-3.3-2.2-2.9-0.7-3.7-2.1-2-2.2-3.2-0.9-2.2-1.5-4.4-1.7-2.6-0.7-3.3-2.3-2.6-1.5-3.7-1.4-3.7-1.4-2-2.2-1.8-2.9-2.3-2.5-1.4-1.9zM506.1 777l1.1 1.8 2.8 2.2 2.5 1.9 0.8 0.9 0.7 1.7 1.1 1.5 2 2.1M713 207l0.8 1.8 1.3 2.2 1.4 1.5M572 840l1.1 2.7 2 1.8 1.9 1.5 2.2 1.4 0.6 1.7 1.2 1.9M576 838l2.1 1.4 1.3 2.3 1.6 2.3 1.3 1.7 2.2 2 1.5 2.3M580 838l1.9 1.4 0.4 1.5 2.6 1.9 0.1 2.2 0.7 2 2 2 1.3 2M568 818l1.3 2.2 2.7 1.8M556 815l2 1.6 1.1 2.8 0.9 1.6M543 816l1.5 2.2 1.9 1.8 1.6 2"/>
</g>
<text x="747.0" y="262.0" font-size="24.7" text-anchor="middle" font-weight="bold" fill="#000">ExN</text>
<text x="662.5" y="434.0" font-size="24.7" text-anchor="middle" font-weight="bold" fill="#000">NE</text>
<text x="557.0" y="482.0" font-size="24.7" text-anchor="middle" font-weight="bold" fill="#000">NW</text>
<text x="452.5" y="637.0" font-size="24.7" text-anchor="middle" font-weight="bold" fill="#000">CW</text>
<text x="570.0" y="675.0" font-size="24.7" text-anchor="middle" font-weight="bold" fill="#000">CE</text>
<text x="592.5" y="757.0" font-size="24.7" text-anchor="middle" font-weight="bold" fill="#000">SE</text>
<text x="293.5" y="755.0" font-size="24.7" text-anchor="middle" font-weight="bold" fill="#000">SW</text>
<text x="543.0" y="914.0" font-size="24.7" text-anchor="middle" font-weight="bold" fill="#000">S</text>
<rect x="132.45" y="175.15" width="673.3" height="809.1" fill="none" stroke="#000" stroke-width="1.4"/>
<text x="120.0" y="377.6" font-size="19.5" text-anchor="end" fill="#262626">7.75°S</text>
<text x="120.0" y="587.2" font-size="19.5" text-anchor="end" fill="#262626">13.50°S</text>
<text x="120.0" y="796.9" font-size="19.5" text-anchor="end" fill="#262626">19.25°S</text>
<text x="286.8" y="1009.9" font-size="19.5" text-anchor="middle" fill="#262626">56°W</text>
<text x="464.3" y="1009.9" font-size="19.5" text-anchor="middle" fill="#262626">51°W</text>
<text x="641.6" y="1009.9" font-size="19.5" text-anchor="middle" fill="#262626">46°W</text>
<text x="469.0" y="1037.7" font-size="24.7" text-anchor="middle" font-weight="bold" fill="#000">Long (°)</text>
<text x="37.8" y="580.0" font-size="24.7" text-anchor="middle" font-weight="bold" transform="rotate(-90 37.8 580.0)" fill="#000">Lat (°)</text>
<text transform="translate(0.8 22.3) scale(1 1.06)" font-size="30" fill="#000">A</text>
<text x="843.3" y="505.5" font-size="24.9" fill="#000">Tree species richness</text>
<defs><linearGradient id="lg" x1="0" y1="1" x2="0" y2="0"><stop offset="0" stop-color="#3b3b98"/><stop offset="0.2" stop-color="#76afd0"/><stop offset="0.4" stop-color="#aae5a4"/><stop offset="0.6" stop-color="#eba55f"/><stop offset="0.8" stop-color="#a61c2e"/><stop offset="1" stop-color="#8b1a0e"/></linearGradient></defs>
<rect x="843.2" y="520.5" width="30.9" height="153.8" fill="url(#lg)"/>
<path d="M843.2 551.4h6.2M867.9 551.4h6.2" stroke="#fff" stroke-opacity="0.8" stroke-width="0.8"/>
<text x="886.8" y="558.4" font-size="19.5" fill="#000">50</text>
<path d="M843.2 582.2h6.2M867.9 582.2h6.2" stroke="#fff" stroke-opacity="0.8" stroke-width="0.8"/>
<text x="886.8" y="589.2" font-size="19.5" fill="#000">40</text>
<path d="M843.2 612.7h6.2M867.9 612.7h6.2" stroke="#fff" stroke-opacity="0.8" stroke-width="0.8"/>
<text x="886.8" y="619.7" font-size="19.5" fill="#000">30</text>
<path d="M843.2 643.4h6.2M867.9 643.4h6.2" stroke="#fff" stroke-opacity="0.8" stroke-width="0.8"/>
<text x="886.8" y="650.4" font-size="19.5" fill="#000">20</text>
<text x="1126.0" y="20.2" font-size="24" fill="#000">B</text>
<text x="1231.3" y="43.2" font-size="23.5" fill="#000">Observed vs Predicted Tree</text>
<text x="1231.3" y="68.3" font-size="23.5" fill="#000">&#160;Species Richness</text>
<text x="1221.5" y="296.4" font-size="15" text-anchor="end" fill="#4d4d4d">0</text>
<text x="1221.5" y="245.6" font-size="15" text-anchor="end" fill="#4d4d4d">25</text>
<text x="1221.5" y="194.9" font-size="15" text-anchor="end" fill="#4d4d4d">50</text>
<text x="1221.5" y="144.2" font-size="15" text-anchor="end" fill="#4d4d4d">75</text>
<text x="1221.5" y="93.4" font-size="15" text-anchor="end" fill="#4d4d4d">100</text>
<text x="1358.7" y="319.4" font-size="15" text-anchor="middle" fill="#4d4d4d">20</text>
<text x="1509.2" y="319.4" font-size="15" text-anchor="middle" fill="#4d4d4d">40</text>
<text x="1659.7" y="319.4" font-size="15" text-anchor="middle" fill="#4d4d4d">60</text>
<line x1="1231.3" x2="1793.0" y1="266.0" y2="266.0" stroke="#ededed" stroke-width="1.0"/>
<line x1="1231.3" x2="1793.0" y1="215.3" y2="215.3" stroke="#ededed" stroke-width="1.0"/>
<line x1="1231.3" x2="1793.0" y1="164.5" y2="164.5" stroke="#ededed" stroke-width="1.0"/>
<line x1="1231.3" x2="1793.0" y1="113.8" y2="113.8" stroke="#ededed" stroke-width="1.0"/>
<line y1="83.0" y2="299.5" x1="1283.5" x2="1283.5" stroke="#ededed" stroke-width="1.0"/>
<line y1="83.0" y2="299.5" x1="1434.0" x2="1434.0" stroke="#ededed" stroke-width="1.0"/>
<line y1="83.0" y2="299.5" x1="1584.5" x2="1584.5" stroke="#ededed" stroke-width="1.0"/>
<line y1="83.0" y2="299.5" x1="1735.0" x2="1735.0" stroke="#ededed" stroke-width="1.0"/>
<line x1="1231.3" x2="1793.0" y1="291.4" y2="291.4" stroke="#e9e9e9" stroke-width="1.6"/>
<line x1="1231.3" x2="1793.0" y1="240.6" y2="240.6" stroke="#e9e9e9" stroke-width="1.6"/>
<line x1="1231.3" x2="1793.0" y1="189.9" y2="189.9" stroke="#e9e9e9" stroke-width="1.6"/>
<line x1="1231.3" x2="1793.0" y1="139.2" y2="139.2" stroke="#e9e9e9" stroke-width="1.6"/>
<line x1="1231.3" x2="1793.0" y1="88.4" y2="88.4" stroke="#e9e9e9" stroke-width="1.6"/>
<line y1="83.0" y2="299.5" x1="1358.7" x2="1358.7" stroke="#e9e9e9" stroke-width="1.6"/>
<line y1="83.0" y2="299.5" x1="1509.2" x2="1509.2" stroke="#e9e9e9" stroke-width="1.6"/>
<line y1="83.0" y2="299.5" x1="1659.7" x2="1659.7" stroke="#e9e9e9" stroke-width="1.6"/>
<g class="b" fill="#EFA427" fill-opacity="0.66" stroke="#EFA427" stroke-opacity="0.7" stroke-width="1.3"><circle cx="1534.3" cy="197.1"/><circle cx="1293.5" cy="279.3"/><circle cx="1379.4" cy="263.3"/><circle cx="1413.2" cy="197.3"/><circle cx="1467.3" cy="199.3"/><circle cx="1516.4" cy="244.9"/><circle cx="1485.9" cy="193.8"/><circle cx="1475.9" cy="237.4"/><circle cx="1550.6" cy="260.9"/><circle cx="1349.6" cy="267.7"/><circle cx="1535.0" cy="182.8"/><circle cx="1420.6" cy="193.0"/><circle cx="1409.3" cy="267.4"/><circle cx="1403.1" cy="277.5"/><circle cx="1546.9" cy="187.1"/><circle cx="1306.6" cy="226.9"/><circle cx="1474.8" cy="172.4"/><circle cx="1334.7" cy="279.4"/><circle cx="1320.4" cy="257.9"/><circle cx="1398.7" cy="286.5"/><circle cx="1454.2" cy="251.0"/><circle cx="1521.8" cy="164.5"/><circle cx="1317.3" cy="276.5"/><circle cx="1291.0" cy="286.7"/><circle cx="1313.5" cy="250.7"/><circle cx="1476.3" cy="260.2"/><circle cx="1430.3" cy="170.5"/><circle cx="1450.2" cy="187.6"/><circle cx="1478.9" cy="163.8"/><circle cx="1441.4" cy="182.5"/><circle cx="1280.1" cy="272.3"/><circle cx="1440.2" cy="258.7"/><circle cx="1291.7" cy="273.7"/><circle cx="1492.8" cy="251.0"/><circle cx="1545.3" cy="272.5"/><circle cx="1429.8" cy="272.4"/><circle cx="1448.0" cy="252.4"/><circle cx="1435.6" cy="288.1"/><circle cx="1339.0" cy="264.4"/><circle cx="1308.8" cy="251.0"/><circle cx="1296.3" cy="277.2"/><circle cx="1477.7" cy="203.4"/><circle cx="1309.7" cy="260.2"/><circle cx="1333.8" cy="274.7"/><circle cx="1508.9" cy="230.8"/><circle cx="1441.5" cy="170.8"/><circle cx="1319.1" cy="248.6"/><circle cx="1313.2" cy="282.6"/><circle cx="1388.7" cy="248.9"/><circle cx="1438.3" cy="185.1"/><circle cx="1492.4" cy="234.2"/><circle cx="1513.2" cy="266.8"/><circle cx="1530.8" cy="222.4"/><circle cx="1457.5" cy="204.3"/><circle cx="1382.0" cy="280.3"/><circle cx="1529.5" cy="206.4"/><circle cx="1443.6" cy="261.8"/><circle cx="1515.4" cy="218.3"/><circle cx="1485.8" cy="186.0"/><circle cx="1394.8" cy="227.1"/><circle cx="1282.4" cy="270.8"/><circle cx="1461.7" cy="218.5"/><circle cx="1326.2" cy="263.1"/><circle cx="1515.7" cy="157.0"/><circle cx="1445.1" cy="279.9"/><circle cx="1491.8" cy="177.6"/><circle cx="1479.7" cy="199.0"/><circle cx="1347.0" cy="262.8"/><circle cx="1333.3" cy="274.8"/><circle cx="1441.8" cy="269.0"/><circle cx="1382.4" cy="265.0"/><circle cx="1292.7" cy="285.7"/><circle cx="1492.5" cy="226.8"/><circle cx="1514.0" cy="280.9"/><circle cx="1349.1" cy="283.8"/><circle cx="1370.0" cy="215.8"/><circle cx="1279.1" cy="275.2"/><circle cx="1401.3" cy="282.8"/><circle cx="1422.4" cy="241.4"/><circle cx="1404.4" cy="214.9"/><circle cx="1329.1" cy="271.9"/><circle cx="1321.9" cy="259.6"/><circle cx="1313.6" cy="267.1"/><circle cx="1399.5" cy="258.6"/><circle cx="1513.6" cy="244.3"/><circle cx="1475.8" cy="235.7"/><circle cx="1320.8" cy="275.2"/><circle cx="1412.5" cy="183.6"/><circle cx="1419.6" cy="250.1"/><circle cx="1316.4" cy="269.1"/><circle cx="1285.9" cy="259.5"/><circle cx="1402.1" cy="221.0"/><circle cx="1283.5" cy="238.6"/><circle cx="1338.0" cy="276.9"/><circle cx="1515.7" cy="273.7"/><circle cx="1516.0" cy="156.6"/><circle cx="1426.0" cy="198.6"/><circle cx="1425.6" cy="270.8"/><circle cx="1489.7" cy="196.6"/><circle cx="1417.4" cy="289.2"/><circle cx="1296.4" cy="279.6"/><circle cx="1393.0" cy="215.4"/><circle cx="1288.0" cy="283.4"/><circle cx="1456.0" cy="220.4"/><circle cx="1429.8" cy="236.5"/><circle cx="1446.5" cy="162.8"/><circle cx="1403.8" cy="267.4"/><circle cx="1438.5" cy="196.8"/><circle cx="1438.4" cy="227.5"/><circle cx="1302.4" cy="214.8"/><circle cx="1460.5" cy="264.3"/><circle cx="1532.5" cy="245.4"/><circle cx="1494.3" cy="261.7"/><circle cx="1278.4" cy="285.6"/><circle cx="1416.8" cy="175.8"/><circle cx="1473.1" cy="209.1"/><circle cx="1346.8" cy="279.1"/><circle cx="1321.2" cy="260.4"/><circle cx="1453.0" cy="207.3"/><circle cx="1401.5" cy="279.8"/><circle cx="1433.6" cy="263.3"/><circle cx="1479.7" cy="200.3"/><circle cx="1449.5" cy="274.8"/><circle cx="1437.0" cy="233.3"/><circle cx="1488.8" cy="159.0"/><circle cx="1401.2" cy="210.7"/><circle cx="1465.6" cy="173.9"/><circle cx="1440.2" cy="181.3"/><circle cx="1538.3" cy="194.4"/><circle cx="1367.2" cy="224.8"/><circle cx="1448.3" cy="203.0"/><circle cx="1407.2" cy="265.0"/><circle cx="1486.0" cy="269.5"/><circle cx="1435.6" cy="199.9"/><circle cx="1380.5" cy="220.1"/><circle cx="1512.7" cy="254.6"/><circle cx="1490.7" cy="175.9"/><circle cx="1539.0" cy="269.1"/><circle cx="1487.9" cy="160.3"/><circle cx="1430.5" cy="254.8"/><circle cx="1320.9" cy="284.5"/><circle cx="1419.3" cy="269.4"/><circle cx="1332.0" cy="282.9"/><circle cx="1397.3" cy="257.0"/><circle cx="1344.2" cy="212.8"/><circle cx="1361.3" cy="272.2"/><circle cx="1517.6" cy="226.9"/><circle cx="1367.0" cy="280.4"/><circle cx="1518.1" cy="156.7"/><circle cx="1309.2" cy="283.5"/><circle cx="1416.2" cy="235.2"/><circle cx="1304.6" cy="269.6"/><circle cx="1478.7" cy="272.2"/><circle cx="1287.2" cy="282.3"/><circle cx="1422.0" cy="189.8"/><circle cx="1348.5" cy="255.5"/><circle cx="1495.5" cy="256.8"/><circle cx="1531.8" cy="96.5"/><circle cx="1464.9" cy="148.0"/><circle cx="1408.0" cy="169.4"/><circle cx="1554.2" cy="229.4"/><circle cx="1374.2" cy="278.4"/><circle cx="1483.7" cy="157.3"/><circle cx="1401.8" cy="284.6"/><circle cx="1287.5" cy="267.8"/><circle cx="1320.5" cy="259.3"/><circle cx="1537.2" cy="216.8"/><circle cx="1337.9" cy="250.6"/><circle cx="1417.0" cy="204.4"/><circle cx="1498.8" cy="214.5"/><circle cx="1500.2" cy="176.8"/><circle cx="1345.6" cy="279.4"/><circle cx="1368.3" cy="225.3"/><circle cx="1472.8" cy="162.3"/><circle cx="1329.1" cy="279.8"/><circle cx="1498.1" cy="179.2"/><circle cx="1349.6" cy="250.2"/><circle cx="1428.2" cy="261.7"/><circle cx="1314.3" cy="261.9"/><circle cx="1470.6" cy="282.6"/><circle cx="1512.5" cy="218.4"/><circle cx="1453.1" cy="273.3"/><circle cx="1471.8" cy="155.1"/><circle cx="1380.2" cy="248.7"/><circle cx="1447.7" cy="264.8"/><circle cx="1402.3" cy="216.4"/><circle cx="1336.5" cy="258.6"/><circle cx="1510.3" cy="251.4"/><circle cx="1492.3" cy="248.6"/><circle cx="1387.9" cy="263.9"/><circle cx="1400.6" cy="277.5"/><circle cx="1372.4" cy="271.9"/><circle cx="1473.8" cy="256.3"/><circle cx="1502.9" cy="260.0"/><circle cx="1481.6" cy="183.6"/><circle cx="1445.8" cy="181.1"/><circle cx="1398.6" cy="283.1"/><circle cx="1470.4" cy="230.1"/><circle cx="1401.8" cy="227.0"/><circle cx="1314.9" cy="266.7"/><circle cx="1309.2" cy="275.4"/><circle cx="1540.2" cy="184.8"/><circle cx="1306.0" cy="266.7"/><circle cx="1278.3" cy="283.5"/><circle cx="1352.0" cy="265.0"/><circle cx="1445.8" cy="265.6"/><circle cx="1303.0" cy="222.0"/><circle cx="1433.4" cy="252.0"/><circle cx="1442.6" cy="256.0"/><circle cx="1481.4" cy="159.7"/><circle cx="1424.8" cy="234.3"/><circle cx="1381.8" cy="271.5"/><circle cx="1329.7" cy="276.0"/><circle cx="1431.8" cy="227.2"/><circle cx="1303.9" cy="282.8"/><circle cx="1453.3" cy="184.2"/><circle cx="1445.2" cy="207.4"/><circle cx="1399.5" cy="214.5"/><circle cx="1321.5" cy="254.1"/><circle cx="1305.3" cy="254.1"/><circle cx="1540.5" cy="234.8"/><circle cx="1438.5" cy="264.2"/><circle cx="1444.5" cy="171.2"/><circle cx="1460.5" cy="228.6"/><circle cx="1507.2" cy="287.2"/><circle cx="1348.1" cy="288.9"/><circle cx="1527.1" cy="189.2"/><circle cx="1482.9" cy="135.1"/><circle cx="1297.2" cy="265.3"/><circle cx="1519.8" cy="265.5"/><circle cx="1453.9" cy="268.1"/><circle cx="1303.6" cy="266.1"/><circle cx="1533.0" cy="200.2"/><circle cx="1539.3" cy="185.2"/><circle cx="1499.9" cy="247.8"/><circle cx="1294.6" cy="270.1"/><circle cx="1431.2" cy="186.6"/><circle cx="1439.1" cy="224.0"/><circle cx="1323.0" cy="285.9"/><circle cx="1473.0" cy="215.4"/><circle cx="1442.8" cy="199.5"/><circle cx="1392.5" cy="213.6"/><circle cx="1476.6" cy="224.3"/><circle cx="1448.6" cy="172.5"/><circle cx="1335.8" cy="259.6"/><circle cx="1510.4" cy="229.5"/><circle cx="1332.1" cy="229.6"/><circle cx="1538.9" cy="212.5"/><circle cx="1333.2" cy="273.8"/><circle cx="1471.5" cy="166.4"/><circle cx="1443.1" cy="163.2"/><circle cx="1304.6" cy="254.7"/><circle cx="1538.5" cy="209.3"/><circle cx="1446.3" cy="168.0"/><circle cx="1284.1" cy="284.8"/><circle cx="1291.5" cy="267.4"/><circle cx="1341.9" cy="281.9"/><circle cx="1450.1" cy="261.8"/><circle cx="1441.1" cy="256.0"/><circle cx="1381.1" cy="238.7"/><circle cx="1470.2" cy="177.8"/><circle cx="1389.9" cy="245.6"/><circle cx="1348.8" cy="253.1"/><circle cx="1402.8" cy="204.9"/><circle cx="1451.2" cy="207.6"/><circle cx="1341.0" cy="213.1"/><circle cx="1538.7" cy="238.7"/><circle cx="1358.7" cy="249.8"/><circle cx="1348.7" cy="252.7"/><circle cx="1507.0" cy="245.1"/><circle cx="1300.7" cy="283.6"/><circle cx="1498.3" cy="192.8"/><circle cx="1535.4" cy="251.7"/><circle cx="1294.2" cy="277.1"/><circle cx="1407.7" cy="205.6"/><circle cx="1346.1" cy="242.5"/><circle cx="1498.7" cy="173.7"/><circle cx="1480.0" cy="221.2"/><circle cx="1476.8" cy="246.7"/><circle cx="1342.8" cy="254.7"/><circle cx="1463.9" cy="276.8"/><circle cx="1301.1" cy="288.6"/><circle cx="1330.2" cy="236.8"/><circle cx="1448.0" cy="267.8"/><circle cx="1462.9" cy="237.8"/><circle cx="1359.5" cy="260.2"/><circle cx="1415.9" cy="204.6"/><circle cx="1312.6" cy="256.3"/><circle cx="1279.3" cy="273.9"/><circle cx="1551.0" cy="271.4"/><circle cx="1296.0" cy="256.6"/><circle cx="1552.5" cy="226.0"/><circle cx="1524.7" cy="241.8"/><circle cx="1315.1" cy="256.9"/><circle cx="1474.8" cy="192.1"/><circle cx="1294.2" cy="277.9"/><circle cx="1323.8" cy="283.0"/><circle cx="1301.5" cy="270.2"/><circle cx="1320.2" cy="249.8"/><circle cx="1336.1" cy="252.1"/><circle cx="1350.2" cy="271.7"/><circle cx="1494.4" cy="189.7"/><circle cx="1350.0" cy="276.4"/><circle cx="1480.1" cy="276.4"/><circle cx="1551.6" cy="200.4"/><circle cx="1511.3" cy="192.6"/><circle cx="1278.4" cy="284.9"/><circle cx="1352.8" cy="263.7"/><circle cx="1392.3" cy="228.2"/><circle cx="1533.0" cy="224.7"/><circle cx="1430.1" cy="238.1"/><circle cx="1496.5" cy="156.3"/><circle cx="1344.8" cy="275.6"/><circle cx="1438.8" cy="177.0"/><circle cx="1500.7" cy="256.6"/><circle cx="1522.8" cy="253.2"/><circle cx="1305.1" cy="263.9"/><circle cx="1279.7" cy="277.5"/><circle cx="1518.7" cy="257.0"/><circle cx="1438.4" cy="185.7"/><circle cx="1525.5" cy="162.8"/><circle cx="1493.0" cy="182.6"/><circle cx="1345.4" cy="250.2"/><circle cx="1346.2" cy="269.4"/><circle cx="1341.2" cy="275.7"/><circle cx="1416.7" cy="174.0"/><circle cx="1325.2" cy="244.0"/><circle cx="1543.1" cy="260.9"/><circle cx="1496.5" cy="210.5"/><circle cx="1337.0" cy="261.6"/><circle cx="1310.2" cy="265.9"/><circle cx="1550.1" cy="237.1"/><circle cx="1387.2" cy="282.6"/><circle cx="1304.5" cy="262.6"/><circle cx="1421.6" cy="263.6"/><circle cx="1345.5" cy="248.0"/><circle cx="1477.8" cy="185.9"/><circle cx="1331.1" cy="279.6"/><circle cx="1342.7" cy="266.5"/><circle cx="1328.0" cy="250.8"/><circle cx="1396.6" cy="248.4"/><circle cx="1348.4" cy="262.6"/><circle cx="1290.0" cy="260.5"/><circle cx="1307.9" cy="211.3"/><circle cx="1504.5" cy="225.0"/><circle cx="1422.1" cy="250.8"/><circle cx="1352.1" cy="243.4"/><circle cx="1482.3" cy="149.7"/><circle cx="1443.7" cy="201.6"/><circle cx="1445.5" cy="204.4"/><circle cx="1520.3" cy="160.1"/><circle cx="1387.1" cy="288.0"/><circle cx="1349.6" cy="253.6"/><circle cx="1311.5" cy="261.0"/><circle cx="1440.6" cy="217.8"/><circle cx="1388.3" cy="251.1"/><circle cx="1435.0" cy="218.7"/><circle cx="1386.2" cy="273.3"/><circle cx="1358.3" cy="277.9"/><circle cx="1377.6" cy="281.7"/><circle cx="1401.0" cy="218.0"/><circle cx="1352.3" cy="262.3"/><circle cx="1501.2" cy="176.3"/><circle cx="1300.9" cy="259.1"/><circle cx="1437.4" cy="172.4"/><circle cx="1536.0" cy="183.4"/><circle cx="1503.6" cy="250.1"/><circle cx="1479.4" cy="245.0"/><circle cx="1378.4" cy="282.2"/><circle cx="1326.7" cy="282.1"/><circle cx="1327.6" cy="282.2"/><circle cx="1493.1" cy="192.0"/><circle cx="1381.6" cy="219.3"/><circle cx="1439.6" cy="271.3"/><circle cx="1299.8" cy="259.0"/><circle cx="1336.2" cy="240.5"/><circle cx="1502.7" cy="216.3"/><circle cx="1340.7" cy="267.7"/><circle cx="1344.2" cy="278.2"/><circle cx="1389.6" cy="246.1"/><circle cx="1331.5" cy="268.5"/><circle cx="1288.6" cy="280.5"/><circle cx="1280.2" cy="287.3"/><circle cx="1299.2" cy="282.9"/><circle cx="1459.4" cy="239.0"/><circle cx="1498.7" cy="171.9"/><circle cx="1465.6" cy="135.1"/><circle cx="1294.8" cy="258.9"/><circle cx="1375.6" cy="246.8"/><circle cx="1292.0" cy="278.6"/><circle cx="1386.3" cy="261.9"/><circle cx="1439.7" cy="210.2"/><circle cx="1288.0" cy="274.1"/><circle cx="1340.9" cy="277.5"/><circle cx="1324.5" cy="247.5"/><circle cx="1429.3" cy="203.4"/><circle cx="1511.4" cy="240.6"/><circle cx="1503.6" cy="247.4"/><circle cx="1371.6" cy="251.0"/><circle cx="1513.1" cy="236.6"/><circle cx="1522.5" cy="193.0"/><circle cx="1496.8" cy="209.7"/><circle cx="1448.6" cy="259.4"/><circle cx="1321.5" cy="253.2"/><circle cx="1420.4" cy="286.4"/><circle cx="1286.5" cy="225.5"/><circle cx="1441.3" cy="192.5"/><circle cx="1346.2" cy="251.7"/><circle cx="1466.6" cy="221.6"/><circle cx="1309.0" cy="264.3"/><circle cx="1423.8" cy="246.2"/><circle cx="1448.8" cy="220.0"/><circle cx="1524.3" cy="278.8"/><circle cx="1294.6" cy="272.7"/><circle cx="1308.7" cy="274.1"/><circle cx="1327.1" cy="273.1"/><circle cx="1321.1" cy="271.7"/><circle cx="1472.7" cy="228.6"/><circle cx="1383.5" cy="184.8"/><circle cx="1332.4" cy="212.2"/><circle cx="1290.2" cy="259.6"/><circle cx="1436.2" cy="225.0"/><circle cx="1421.9" cy="242.3"/><circle cx="1322.7" cy="278.2"/><circle cx="1373.9" cy="283.8"/><circle cx="1514.2" cy="245.8"/><circle cx="1382.6" cy="269.9"/><circle cx="1447.5" cy="162.8"/><circle cx="1280.0" cy="276.0"/><circle cx="1464.8" cy="258.7"/><circle cx="1305.9" cy="268.2"/><circle cx="1327.2" cy="255.1"/><circle cx="1393.5" cy="213.4"/><circle cx="1460.9" cy="186.9"/><circle cx="1396.8" cy="210.0"/><circle cx="1281.2" cy="269.6"/><circle cx="1541.7" cy="228.8"/><circle cx="1446.9" cy="286.5"/><circle cx="1422.6" cy="233.3"/><circle cx="1459.3" cy="146.5"/><circle cx="1287.0" cy="271.5"/><circle cx="1448.0" cy="271.7"/><circle cx="1500.3" cy="287.3"/><circle cx="1320.4" cy="257.4"/><circle cx="1546.5" cy="229.3"/><circle cx="1486.7" cy="214.5"/><circle cx="1402.7" cy="216.7"/><circle cx="1366.1" cy="236.8"/><circle cx="1448.0" cy="283.7"/><circle cx="1339.3" cy="239.9"/><circle cx="1296.7" cy="285.1"/><circle cx="1392.1" cy="224.6"/><circle cx="1507.4" cy="199.5"/><circle cx="1333.1" cy="255.6"/><circle cx="1478.0" cy="196.8"/><circle cx="1444.3" cy="273.9"/><circle cx="1375.2" cy="279.2"/><circle cx="1554.4" cy="212.2"/><circle cx="1459.4" cy="240.8"/><circle cx="1357.3" cy="249.9"/><circle cx="1496.8" cy="248.8"/><circle cx="1401.7" cy="268.7"/><circle cx="1532.2" cy="271.0"/><circle cx="1402.6" cy="280.6"/><circle cx="1547.2" cy="239.1"/><circle cx="1387.3" cy="269.4"/><circle cx="1441.4" cy="214.2"/><circle cx="1510.9" cy="259.8"/><circle cx="1469.3" cy="161.8"/><circle cx="1450.8" cy="211.2"/><circle cx="1380.8" cy="260.5"/><circle cx="1400.2" cy="253.2"/><circle cx="1408.8" cy="187.3"/><circle cx="1430.9" cy="263.8"/><circle cx="1302.3" cy="286.3"/><circle cx="1499.3" cy="157.6"/><circle cx="1343.4" cy="265.7"/><circle cx="1445.2" cy="214.9"/><circle cx="1305.8" cy="238.5"/><circle cx="1392.6" cy="219.2"/><circle cx="1558.1" cy="175.7"/><circle cx="1392.2" cy="211.6"/><circle cx="1509.7" cy="265.5"/><circle cx="1382.4" cy="279.8"/><circle cx="1424.5" cy="239.5"/><circle cx="1324.6" cy="273.6"/><circle cx="1442.5" cy="260.5"/><circle cx="1352.4" cy="264.5"/><circle cx="1375.6" cy="282.4"/><circle cx="1299.9" cy="260.9"/><circle cx="1328.3" cy="268.1"/><circle cx="1537.6" cy="230.1"/><circle cx="1328.5" cy="274.7"/><circle cx="1442.0" cy="225.9"/><circle cx="1437.4" cy="265.1"/><circle cx="1442.4" cy="288.8"/><circle cx="1477.9" cy="259.5"/><circle cx="1305.2" cy="271.3"/><circle cx="1382.0" cy="222.2"/><circle cx="1401.2" cy="174.4"/><circle cx="1320.4" cy="252.8"/><circle cx="1283.9" cy="286.8"/><circle cx="1313.7" cy="263.2"/><circle cx="1456.0" cy="245.4"/><circle cx="1486.0" cy="162.5"/><circle cx="1311.1" cy="282.9"/><circle cx="1287.8" cy="286.6"/><circle cx="1376.5" cy="240.4"/><circle cx="1324.4" cy="282.8"/><circle cx="1426.0" cy="183.2"/><circle cx="1287.8" cy="276.7"/><circle cx="1428.2" cy="241.0"/><circle cx="1388.6" cy="197.9"/><circle cx="1349.6" cy="289.6"/><circle cx="1490.7" cy="175.7"/><circle cx="1346.8" cy="268.7"/><circle cx="1449.3" cy="195.2"/><circle cx="1328.9" cy="257.3"/><circle cx="1381.3" cy="127.0"/><circle cx="1300.6" cy="271.2"/><circle cx="1455.8" cy="205.5"/><circle cx="1449.2" cy="167.4"/><circle cx="1311.6" cy="275.8"/><circle cx="1284.9" cy="268.2"/><circle cx="1484.0" cy="280.9"/><circle cx="1317.9" cy="258.9"/><circle cx="1324.3" cy="254.1"/><circle cx="1371.7" cy="237.3"/><circle cx="1524.8" cy="223.5"/><circle cx="1448.5" cy="266.9"/><circle cx="1552.8" cy="182.7"/><circle cx="1387.3" cy="259.1"/><circle cx="1427.0" cy="160.5"/><circle cx="1287.1" cy="261.2"/><circle cx="1454.9" cy="261.4"/><circle cx="1306.9" cy="255.7"/><circle cx="1539.4" cy="231.4"/><circle cx="1467.3" cy="236.7"/><circle cx="1375.0" cy="266.3"/><circle cx="1498.6" cy="187.8"/><circle cx="1498.2" cy="221.3"/><circle cx="1495.7" cy="128.0"/><circle cx="1433.0" cy="218.0"/><circle cx="1477.4" cy="216.5"/><circle cx="1421.1" cy="243.4"/><circle cx="1380.1" cy="273.7"/><circle cx="1490.1" cy="139.6"/><circle cx="1390.0" cy="217.5"/><circle cx="1466.9" cy="251.7"/><circle cx="1465.3" cy="198.1"/><circle cx="1293.5" cy="266.1"/><circle cx="1438.3" cy="249.6"/><circle cx="1294.5" cy="285.6"/><circle cx="1550.6" cy="240.6"/><circle cx="1312.2" cy="267.9"/><circle cx="1372.3" cy="276.0"/><circle cx="1285.8" cy="273.4"/><circle cx="1482.5" cy="246.7"/><circle cx="1374.1" cy="264.8"/><circle cx="1290.1" cy="284.7"/><circle cx="1314.0" cy="280.8"/><circle cx="1459.1" cy="161.9"/><circle cx="1471.1" cy="171.9"/><circle cx="1468.0" cy="204.6"/><circle cx="1343.7" cy="248.6"/><circle cx="1292.7" cy="280.4"/><circle cx="1409.5" cy="203.4"/><circle cx="1425.7" cy="264.3"/><circle cx="1409.3" cy="217.0"/><circle cx="1458.4" cy="198.8"/><circle cx="1279.2" cy="287.9"/><circle cx="1287.8" cy="218.3"/><circle cx="1450.0" cy="199.8"/><circle cx="1391.6" cy="212.1"/><circle cx="1536.1" cy="170.6"/><circle cx="1387.6" cy="267.5"/><circle cx="1373.9" cy="215.3"/><circle cx="1311.7" cy="262.6"/><circle cx="1555.8" cy="189.9"/><circle cx="1489.3" cy="251.7"/><circle cx="1287.7" cy="264.4"/><circle cx="1396.7" cy="221.9"/><circle cx="1444.2" cy="223.9"/><circle cx="1452.3" cy="169.4"/><circle cx="1466.5" cy="151.7"/><circle cx="1319.7" cy="214.9"/><circle cx="1518.9" cy="199.9"/><circle cx="1425.8" cy="189.9"/><circle cx="1376.8" cy="252.8"/><circle cx="1372.0" cy="277.6"/><circle cx="1556.6" cy="176.7"/><circle cx="1314.5" cy="276.3"/><circle cx="1386.7" cy="220.4"/><circle cx="1469.4" cy="173.2"/><circle cx="1320.1" cy="288.6"/><circle cx="1279.6" cy="272.3"/><circle cx="1312.6" cy="268.0"/><circle cx="1402.7" cy="259.9"/><circle cx="1418.7" cy="245.0"/><circle cx="1459.5" cy="197.1"/><circle cx="1439.9" cy="240.3"/><circle cx="1407.2" cy="274.4"/><circle cx="1552.3" cy="226.8"/><circle cx="1428.0" cy="187.8"/><circle cx="1529.1" cy="250.1"/><circle cx="1444.4" cy="256.7"/><circle cx="1373.5" cy="250.0"/><circle cx="1390.3" cy="275.6"/><circle cx="1329.5" cy="282.6"/><circle cx="1444.0" cy="217.3"/><circle cx="1544.1" cy="241.5"/><circle cx="1295.9" cy="269.9"/><circle cx="1302.9" cy="269.4"/><circle cx="1398.7" cy="213.6"/><circle cx="1403.9" cy="274.8"/><circle cx="1300.1" cy="288.1"/><circle cx="1346.6" cy="244.1"/><circle cx="1393.7" cy="225.3"/><circle cx="1319.6" cy="288.1"/><circle cx="1330.6" cy="271.6"/><circle cx="1296.4" cy="269.8"/><circle cx="1492.9" cy="165.4"/><circle cx="1491.6" cy="193.2"/><circle cx="1436.1" cy="225.0"/><circle cx="1476.9" cy="178.8"/><circle cx="1338.4" cy="202.1"/><circle cx="1484.2" cy="158.8"/><circle cx="1409.9" cy="176.9"/><circle cx="1528.0" cy="250.8"/><circle cx="1411.4" cy="202.4"/><circle cx="1352.5" cy="281.3"/><circle cx="1443.3" cy="226.2"/><circle cx="1340.3" cy="286.7"/><circle cx="1316.1" cy="260.8"/><circle cx="1341.5" cy="262.0"/><circle cx="1411.9" cy="180.8"/><circle cx="1361.0" cy="252.3"/><circle cx="1500.4" cy="220.9"/><circle cx="1376.7" cy="212.5"/><circle cx="1494.5" cy="195.6"/><circle cx="1452.5" cy="202.3"/><circle cx="1396.4" cy="218.4"/><circle cx="1481.9" cy="262.8"/><circle cx="1427.0" cy="190.5"/><circle cx="1477.6" cy="260.5"/><circle cx="1413.7" cy="280.7"/><circle cx="1332.9" cy="280.9"/><circle cx="1300.4" cy="282.0"/><circle cx="1532.4" cy="273.7"/><circle cx="1393.2" cy="210.7"/><circle cx="1400.8" cy="219.5"/><circle cx="1438.2" cy="172.6"/><circle cx="1290.1" cy="284.1"/><circle cx="1392.5" cy="218.7"/><circle cx="1315.5" cy="269.2"/><circle cx="1368.4" cy="225.1"/><circle cx="1545.4" cy="210.4"/><circle cx="1532.0" cy="208.0"/><circle cx="1447.1" cy="187.1"/><circle cx="1432.3" cy="170.2"/><circle cx="1407.4" cy="200.5"/><circle cx="1394.2" cy="284.6"/><circle cx="1302.3" cy="212.2"/><circle cx="1481.5" cy="261.9"/><circle cx="1290.1" cy="276.4"/><circle cx="1331.6" cy="243.8"/><circle cx="1282.3" cy="277.2"/><circle cx="1300.3" cy="226.7"/><circle cx="1383.2" cy="263.3"/><circle cx="1281.8" cy="263.6"/><circle cx="1310.2" cy="264.0"/><circle cx="1477.9" cy="166.0"/><circle cx="1323.9" cy="268.5"/><circle cx="1531.3" cy="234.1"/><circle cx="1284.6" cy="279.6"/><circle cx="1373.6" cy="268.1"/><circle cx="1280.1" cy="282.0"/><circle cx="1320.2" cy="263.8"/><circle cx="1421.6" cy="288.0"/><circle cx="1458.9" cy="251.1"/><circle cx="1428.8" cy="194.9"/><circle cx="1332.3" cy="274.8"/><circle cx="1421.2" cy="276.4"/><circle cx="1424.3" cy="210.4"/><circle cx="1520.7" cy="236.0"/><circle cx="1320.6" cy="258.0"/><circle cx="1545.0" cy="204.4"/><circle cx="1335.8" cy="276.3"/><circle cx="1520.1" cy="233.6"/><circle cx="1387.3" cy="265.4"/><circle cx="1437.6" cy="238.0"/><circle cx="1449.8" cy="207.8"/><circle cx="1512.3" cy="245.9"/><circle cx="1420.7" cy="192.3"/><circle cx="1426.9" cy="187.5"/><circle cx="1395.8" cy="267.8"/><circle cx="1300.4" cy="253.9"/><circle cx="1516.6" cy="275.2"/><circle cx="1457.6" cy="203.8"/><circle cx="1406.2" cy="213.5"/><circle cx="1292.7" cy="286.3"/><circle cx="1468.6" cy="167.5"/><circle cx="1381.5" cy="218.2"/><circle cx="1488.0" cy="264.6"/><circle cx="1332.8" cy="272.6"/><circle cx="1499.8" cy="213.5"/><circle cx="1479.7" cy="220.3"/><circle cx="1535.4" cy="192.7"/><circle cx="1284.4" cy="239.2"/><circle cx="1348.9" cy="251.3"/><circle cx="1504.7" cy="202.8"/><circle cx="1392.5" cy="220.9"/><circle cx="1316.7" cy="269.1"/><circle cx="1350.8" cy="289.8"/><circle cx="1499.5" cy="254.8"/><circle cx="1387.3" cy="257.5"/><circle cx="1311.5" cy="284.5"/><circle cx="1349.0" cy="283.7"/><circle cx="1329.3" cy="269.4"/><circle cx="1443.4" cy="217.3"/><circle cx="1434.9" cy="254.2"/><circle cx="1440.4" cy="224.4"/><circle cx="1298.7" cy="267.8"/><circle cx="1496.5" cy="256.5"/><circle cx="1485.7" cy="198.3"/><circle cx="1396.9" cy="283.7"/><circle cx="1339.3" cy="282.1"/><circle cx="1343.8" cy="268.9"/><circle cx="1451.2" cy="188.8"/><circle cx="1396.1" cy="219.3"/><circle cx="1440.3" cy="171.0"/><circle cx="1331.4" cy="249.4"/><circle cx="1531.6" cy="198.0"/><circle cx="1303.1" cy="286.5"/><circle cx="1302.3" cy="285.2"/><circle cx="1342.3" cy="259.7"/><circle cx="1334.8" cy="275.4"/><circle cx="1385.0" cy="267.1"/><circle cx="1393.6" cy="278.7"/><circle cx="1451.6" cy="178.1"/><circle cx="1333.1" cy="256.5"/><circle cx="1334.9" cy="275.8"/><circle cx="1516.4" cy="240.0"/><circle cx="1345.7" cy="281.9"/><circle cx="1375.2" cy="263.1"/><circle cx="1339.5" cy="287.6"/><circle cx="1294.1" cy="285.5"/><circle cx="1438.6" cy="270.9"/><circle cx="1524.7" cy="273.0"/><circle cx="1391.9" cy="263.2"/><circle cx="1307.4" cy="261.0"/><circle cx="1286.8" cy="272.5"/><circle cx="1495.7" cy="260.1"/><circle cx="1388.8" cy="190.4"/><circle cx="1323.7" cy="270.1"/><circle cx="1549.2" cy="221.7"/><circle cx="1488.9" cy="225.1"/><circle cx="1339.9" cy="225.7"/><circle cx="1530.4" cy="215.9"/><circle cx="1467.3" cy="154.9"/><circle cx="1512.4" cy="251.6"/><circle cx="1392.5" cy="228.1"/><circle cx="1293.4" cy="283.4"/><circle cx="1331.5" cy="257.2"/><circle cx="1488.1" cy="222.9"/><circle cx="1419.3" cy="197.7"/><circle cx="1289.7" cy="267.6"/><circle cx="1444.9" cy="252.8"/><circle cx="1544.7" cy="191.2"/><circle cx="1346.9" cy="282.7"/><circle cx="1522.8" cy="265.0"/><circle cx="1457.2" cy="174.2"/></g>
<g class="b" fill="#33A02C" fill-opacity="0.66" stroke="#33A02C" stroke-opacity="0.75" stroke-width="1.3"><circle cx="1504.5" cy="253.8"/><circle cx="1457.4" cy="183.8"/><circle cx="1507.6" cy="223.9"/><circle cx="1387.9" cy="270.2"/><circle cx="1577.7" cy="127.6"/><circle cx="1556.2" cy="235.4"/><circle cx="1491.8" cy="249.8"/><circle cx="1511.3" cy="258.1"/><circle cx="1425.8" cy="262.1"/><circle cx="1426.7" cy="277.9"/><circle cx="1441.6" cy="217.4"/><circle cx="1423.5" cy="253.7"/><circle cx="1347.4" cy="202.1"/><circle cx="1357.6" cy="241.2"/><circle cx="1362.7" cy="262.1"/><circle cx="1422.0" cy="267.5"/><circle cx="1463.7" cy="203.8"/><circle cx="1368.1" cy="263.7"/><circle cx="1376.2" cy="248.5"/><circle cx="1444.2" cy="248.7"/><circle cx="1449.7" cy="240.6"/><circle cx="1544.3" cy="232.9"/><circle cx="1461.8" cy="237.7"/><circle cx="1470.0" cy="195.4"/><circle cx="1350.3" cy="276.7"/><circle cx="1374.1" cy="234.7"/><circle cx="1366.0" cy="254.4"/><circle cx="1346.4" cy="288.0"/><circle cx="1497.9" cy="205.5"/><circle cx="1351.2" cy="250.6"/><circle cx="1469.4" cy="225.1"/><circle cx="1542.8" cy="135.2"/><circle cx="1460.5" cy="258.8"/><circle cx="1571.7" cy="137.7"/><circle cx="1478.8" cy="220.0"/><circle cx="1466.8" cy="189.0"/><circle cx="1562.6" cy="135.9"/><circle cx="1625.1" cy="245.7"/><circle cx="1422.4" cy="232.0"/><circle cx="1353.8" cy="288.4"/><circle cx="1444.0" cy="242.8"/><circle cx="1468.0" cy="182.2"/><circle cx="1358.2" cy="239.3"/><circle cx="1562.3" cy="174.7"/><circle cx="1351.9" cy="202.1"/><circle cx="1448.6" cy="229.5"/><circle cx="1377.5" cy="242.6"/><circle cx="1540.8" cy="179.1"/><circle cx="1376.8" cy="235.0"/><circle cx="1360.6" cy="282.3"/><circle cx="1379.1" cy="239.6"/><circle cx="1320.0" cy="271.5"/><circle cx="1384.0" cy="266.9"/><circle cx="1369.0" cy="257.3"/><circle cx="1350.5" cy="251.9"/><circle cx="1492.0" cy="210.8"/><circle cx="1419.3" cy="276.5"/><circle cx="1372.3" cy="280.2"/><circle cx="1315.2" cy="250.2"/><circle cx="1546.9" cy="215.5"/><circle cx="1355.8" cy="262.5"/><circle cx="1431.7" cy="258.6"/><circle cx="1353.8" cy="233.2"/><circle cx="1410.2" cy="248.0"/><circle cx="1629.6" cy="138.1"/><circle cx="1317.2" cy="245.2"/><circle cx="1481.5" cy="197.5"/><circle cx="1380.7" cy="239.2"/><circle cx="1429.2" cy="276.9"/><circle cx="1470.4" cy="222.3"/><circle cx="1448.0" cy="222.7"/><circle cx="1408.4" cy="226.1"/><circle cx="1361.7" cy="271.3"/><circle cx="1570.9" cy="201.7"/><circle cx="1379.4" cy="249.3"/><circle cx="1479.0" cy="179.3"/><circle cx="1527.2" cy="190.0"/><circle cx="1522.2" cy="223.3"/><circle cx="1363.7" cy="281.1"/><circle cx="1363.3" cy="257.9"/><circle cx="1366.4" cy="254.9"/><circle cx="1424.6" cy="287.9"/><circle cx="1352.6" cy="250.3"/><circle cx="1474.5" cy="254.8"/><circle cx="1356.9" cy="242.5"/><circle cx="1513.0" cy="235.6"/><circle cx="1559.8" cy="264.4"/><circle cx="1414.7" cy="237.5"/><circle cx="1467.0" cy="188.5"/><circle cx="1445.9" cy="241.4"/><circle cx="1362.7" cy="231.6"/><circle cx="1479.2" cy="176.8"/><circle cx="1518.2" cy="118.0"/><circle cx="1424.6" cy="253.9"/><circle cx="1397.8" cy="238.8"/><circle cx="1369.9" cy="240.3"/><circle cx="1517.2" cy="259.3"/><circle cx="1416.2" cy="214.1"/><circle cx="1475.9" cy="204.5"/><circle cx="1602.5" cy="195.6"/><circle cx="1563.4" cy="216.7"/><circle cx="1509.5" cy="225.9"/><circle cx="1455.6" cy="206.8"/><circle cx="1622.1" cy="148.5"/><circle cx="1461.9" cy="227.8"/><circle cx="1489.2" cy="239.8"/><circle cx="1395.4" cy="232.4"/><circle cx="1533.9" cy="217.7"/><circle cx="1463.1" cy="203.0"/><circle cx="1527.2" cy="160.3"/><circle cx="1472.5" cy="211.0"/><circle cx="1535.7" cy="193.6"/><circle cx="1577.7" cy="223.0"/><circle cx="1386.2" cy="239.4"/><circle cx="1505.1" cy="227.9"/><circle cx="1491.3" cy="271.1"/><circle cx="1411.8" cy="246.4"/><circle cx="1573.2" cy="165.5"/><circle cx="1392.2" cy="252.8"/><circle cx="1356.1" cy="246.1"/><circle cx="1362.9" cy="253.8"/><circle cx="1469.8" cy="194.8"/><circle cx="1309.3" cy="250.8"/><circle cx="1358.7" cy="241.7"/><circle cx="1658.9" cy="133.9"/><circle cx="1457.2" cy="220.0"/><circle cx="1388.2" cy="258.4"/><circle cx="1420.9" cy="236.2"/><circle cx="1502.4" cy="197.7"/><circle cx="1464.2" cy="267.3"/><circle cx="1542.1" cy="252.1"/><circle cx="1553.0" cy="247.8"/><circle cx="1492.0" cy="192.0"/><circle cx="1558.0" cy="270.5"/><circle cx="1385.5" cy="264.6"/><circle cx="1463.4" cy="250.6"/><circle cx="1447.4" cy="266.3"/><circle cx="1365.1" cy="216.1"/><circle cx="1433.4" cy="222.9"/><circle cx="1641.6" cy="151.3"/><circle cx="1460.8" cy="220.2"/><circle cx="1389.5" cy="228.1"/><circle cx="1400.1" cy="231.8"/><circle cx="1475.5" cy="203.8"/><circle cx="1532.7" cy="249.4"/><circle cx="1387.8" cy="251.4"/><circle cx="1402.3" cy="194.0"/><circle cx="1307.2" cy="265.2"/><circle cx="1369.8" cy="265.4"/><circle cx="1671.7" cy="143.0"/><circle cx="1429.2" cy="235.7"/><circle cx="1372.8" cy="265.6"/><circle cx="1375.9" cy="201.3"/><circle cx="1643.9" cy="163.9"/><circle cx="1377.1" cy="249.3"/><circle cx="1375.0" cy="261.1"/><circle cx="1352.3" cy="272.9"/><circle cx="1367.3" cy="202.0"/><circle cx="1499.0" cy="205.6"/><circle cx="1472.3" cy="219.2"/><circle cx="1549.4" cy="258.3"/><circle cx="1373.8" cy="238.7"/><circle cx="1465.1" cy="269.0"/><circle cx="1377.2" cy="211.8"/><circle cx="1507.3" cy="256.0"/><circle cx="1355.2" cy="264.0"/><circle cx="1369.9" cy="219.2"/><circle cx="1523.0" cy="209.0"/><circle cx="1565.6" cy="198.0"/><circle cx="1484.6" cy="280.6"/><circle cx="1528.5" cy="206.9"/><circle cx="1353.5" cy="282.9"/><circle cx="1380.8" cy="192.6"/><circle cx="1360.2" cy="255.4"/><circle cx="1333.3" cy="262.3"/><circle cx="1473.3" cy="198.5"/><circle cx="1408.8" cy="262.4"/><circle cx="1366.6" cy="277.6"/><circle cx="1561.9" cy="230.5"/><circle cx="1476.2" cy="172.9"/><circle cx="1393.5" cy="216.6"/><circle cx="1473.4" cy="274.7"/><circle cx="1425.9" cy="278.4"/><circle cx="1369.7" cy="254.4"/><circle cx="1487.3" cy="181.1"/><circle cx="1369.9" cy="273.9"/><circle cx="1605.5" cy="231.7"/><circle cx="1353.5" cy="271.6"/><circle cx="1757.5" cy="151.9"/><circle cx="1375.4" cy="225.3"/><circle cx="1465.4" cy="211.9"/><circle cx="1397.1" cy="260.9"/><circle cx="1474.0" cy="265.2"/><circle cx="1351.7" cy="256.7"/><circle cx="1613.0" cy="239.8"/><circle cx="1423.2" cy="220.0"/><circle cx="1434.0" cy="115.8"/><circle cx="1424.7" cy="252.9"/><circle cx="1371.2" cy="266.8"/><circle cx="1446.9" cy="244.3"/><circle cx="1405.6" cy="270.0"/><circle cx="1417.4" cy="274.0"/><circle cx="1425.9" cy="261.9"/><circle cx="1547.5" cy="237.5"/><circle cx="1382.1" cy="224.2"/><circle cx="1417.5" cy="280.3"/><circle cx="1357.5" cy="260.6"/><circle cx="1349.2" cy="259.4"/><circle cx="1418.1" cy="221.0"/><circle cx="1509.4" cy="205.8"/><circle cx="1478.3" cy="279.3"/><circle cx="1389.1" cy="222.9"/><circle cx="1454.9" cy="234.7"/><circle cx="1494.6" cy="203.1"/><circle cx="1448.2" cy="218.9"/><circle cx="1524.5" cy="172.6"/><circle cx="1431.2" cy="246.9"/><circle cx="1397.4" cy="237.5"/><circle cx="1429.7" cy="237.6"/><circle cx="1457.2" cy="274.8"/><circle cx="1375.1" cy="236.9"/><circle cx="1551.9" cy="239.4"/><circle cx="1446.9" cy="232.8"/><circle cx="1474.5" cy="225.1"/><circle cx="1473.3" cy="213.0"/><circle cx="1365.1" cy="240.5"/><circle cx="1541.5" cy="200.7"/><circle cx="1349.3" cy="278.4"/><circle cx="1476.8" cy="251.1"/><circle cx="1556.6" cy="250.8"/><circle cx="1538.2" cy="203.9"/><circle cx="1515.6" cy="162.9"/><circle cx="1516.2" cy="158.6"/><circle cx="1455.0" cy="235.5"/><circle cx="1479.4" cy="200.9"/><circle cx="1367.1" cy="275.1"/><circle cx="1357.1" cy="282.9"/><circle cx="1529.9" cy="226.9"/><circle cx="1440.5" cy="237.7"/><circle cx="1545.0" cy="143.7"/><circle cx="1485.4" cy="245.3"/><circle cx="1376.5" cy="251.3"/><circle cx="1469.1" cy="189.2"/><circle cx="1468.8" cy="180.7"/><circle cx="1379.1" cy="250.1"/><circle cx="1470.8" cy="206.2"/><circle cx="1501.9" cy="206.4"/><circle cx="1479.9" cy="201.8"/><circle cx="1355.8" cy="244.6"/><circle cx="1468.6" cy="210.6"/><circle cx="1498.5" cy="278.7"/><circle cx="1536.2" cy="249.3"/><circle cx="1504.2" cy="199.2"/><circle cx="1377.0" cy="254.4"/><circle cx="1362.8" cy="250.5"/><circle cx="1352.6" cy="246.4"/><circle cx="1470.2" cy="175.7"/><circle cx="1446.8" cy="242.3"/><circle cx="1464.2" cy="230.5"/><circle cx="1448.3" cy="230.2"/><circle cx="1325.6" cy="284.8"/><circle cx="1419.4" cy="280.6"/><circle cx="1485.7" cy="194.1"/><circle cx="1599.5" cy="149.1"/><circle cx="1462.4" cy="245.0"/><circle cx="1412.9" cy="277.9"/><circle cx="1461.7" cy="205.3"/><circle cx="1460.8" cy="198.5"/><circle cx="1349.1" cy="208.8"/><circle cx="1605.5" cy="256.3"/><circle cx="1397.7" cy="228.6"/><circle cx="1405.1" cy="250.3"/><circle cx="1505.1" cy="202.0"/><circle cx="1360.5" cy="274.5"/><circle cx="1525.2" cy="266.3"/><circle cx="1489.7" cy="176.1"/><circle cx="1485.9" cy="280.4"/><circle cx="1428.9" cy="218.4"/><circle cx="1488.6" cy="258.7"/><circle cx="1456.3" cy="226.7"/><circle cx="1540.1" cy="235.3"/><circle cx="1473.8" cy="198.2"/><circle cx="1476.2" cy="205.5"/><circle cx="1424.8" cy="245.5"/><circle cx="1462.3" cy="174.3"/><circle cx="1361.6" cy="284.8"/><circle cx="1481.1" cy="172.9"/><circle cx="1491.7" cy="241.9"/><circle cx="1450.7" cy="251.9"/><circle cx="1381.9" cy="254.5"/><circle cx="1451.5" cy="219.0"/><circle cx="1453.0" cy="181.8"/><circle cx="1415.4" cy="229.2"/><circle cx="1488.5" cy="220.4"/><circle cx="1484.3" cy="238.5"/><circle cx="1387.6" cy="236.7"/><circle cx="1303.1" cy="273.1"/><circle cx="1435.8" cy="248.7"/><circle cx="1658.9" cy="127.8"/><circle cx="1364.1" cy="288.3"/><circle cx="1352.9" cy="270.8"/><circle cx="1363.2" cy="275.8"/><circle cx="1616.1" cy="203.3"/><circle cx="1420.8" cy="268.6"/><circle cx="1482.6" cy="284.6"/><circle cx="1464.8" cy="251.4"/><circle cx="1365.4" cy="278.6"/><circle cx="1501.3" cy="245.0"/><circle cx="1459.9" cy="255.2"/><circle cx="1435.7" cy="239.7"/><circle cx="1429.0" cy="218.7"/><circle cx="1418.7" cy="255.6"/><circle cx="1440.6" cy="226.8"/><circle cx="1409.1" cy="270.3"/><circle cx="1350.8" cy="284.6"/><circle cx="1410.5" cy="256.6"/><circle cx="1319.3" cy="260.6"/><circle cx="1349.0" cy="246.3"/><circle cx="1473.9" cy="254.8"/><circle cx="1428.3" cy="261.7"/><circle cx="1499.2" cy="229.3"/><circle cx="1366.4" cy="273.5"/><circle cx="1588.2" cy="181.4"/><circle cx="1432.3" cy="239.7"/><circle cx="1501.8" cy="196.3"/><circle cx="1368.7" cy="231.3"/><circle cx="1349.8" cy="253.1"/><circle cx="1452.7" cy="206.2"/><circle cx="1639.4" cy="163.9"/><circle cx="1634.9" cy="175.5"/><circle cx="1484.1" cy="268.9"/><circle cx="1351.8" cy="248.6"/><circle cx="1414.7" cy="268.3"/><circle cx="1461.7" cy="246.1"/><circle cx="1345.2" cy="260.4"/><circle cx="1459.6" cy="210.5"/><circle cx="1375.5" cy="271.0"/><circle cx="1492.0" cy="279.8"/><circle cx="1480.3" cy="200.9"/><circle cx="1349.8" cy="261.7"/><circle cx="1431.8" cy="253.2"/><circle cx="1351.3" cy="281.0"/><circle cx="1309.9" cy="267.2"/><circle cx="1495.5" cy="242.1"/><circle cx="1406.6" cy="224.5"/><circle cx="1483.1" cy="225.1"/><circle cx="1414.5" cy="260.1"/><circle cx="1465.8" cy="229.4"/><circle cx="1463.7" cy="266.4"/><circle cx="1488.5" cy="181.9"/><circle cx="1408.1" cy="265.6"/><circle cx="1738.0" cy="130.4"/><circle cx="1297.5" cy="271.7"/><circle cx="1546.9" cy="134.0"/><circle cx="1351.3" cy="244.5"/><circle cx="1434.4" cy="240.2"/><circle cx="1387.4" cy="246.5"/><circle cx="1510.4" cy="223.6"/><circle cx="1607.0" cy="155.2"/><circle cx="1469.6" cy="182.0"/><circle cx="1383.2" cy="260.4"/><circle cx="1466.8" cy="217.5"/><circle cx="1408.0" cy="271.6"/><circle cx="1426.7" cy="223.7"/><circle cx="1593.5" cy="206.5"/><circle cx="1421.1" cy="239.3"/><circle cx="1461.2" cy="231.3"/><circle cx="1417.0" cy="241.2"/><circle cx="1350.6" cy="240.2"/><circle cx="1559.6" cy="252.1"/><circle cx="1615.3" cy="113.0"/><circle cx="1473.1" cy="197.2"/><circle cx="1456.2" cy="196.8"/><circle cx="1486.3" cy="200.0"/><circle cx="1548.8" cy="259.2"/><circle cx="1467.7" cy="199.4"/><circle cx="1471.2" cy="189.3"/><circle cx="1536.8" cy="190.7"/><circle cx="1420.5" cy="268.6"/><circle cx="1495.6" cy="215.4"/><circle cx="1429.6" cy="238.0"/><circle cx="1493.9" cy="193.4"/><circle cx="1477.9" cy="214.9"/><circle cx="1533.7" cy="185.0"/><circle cx="1429.8" cy="270.9"/><circle cx="1355.5" cy="223.1"/><circle cx="1408.1" cy="240.5"/><circle cx="1469.0" cy="270.0"/><circle cx="1511.5" cy="250.4"/><circle cx="1366.4" cy="266.4"/><circle cx="1434.7" cy="236.7"/><circle cx="1448.4" cy="215.1"/><circle cx="1412.6" cy="220.8"/><circle cx="1473.8" cy="227.3"/><circle cx="1359.7" cy="257.1"/><circle cx="1337.1" cy="241.4"/><circle cx="1584.5" cy="250.2"/><circle cx="1544.4" cy="176.7"/><circle cx="1505.7" cy="214.0"/><circle cx="1491.9" cy="214.9"/><circle cx="1363.4" cy="217.6"/><circle cx="1545.8" cy="172.2"/><circle cx="1533.9" cy="189.7"/><circle cx="1425.4" cy="284.5"/><circle cx="1428.4" cy="262.8"/><circle cx="1357.3" cy="279.7"/><circle cx="1478.6" cy="175.6"/><circle cx="1465.6" cy="289.4"/><circle cx="1479.3" cy="215.0"/><circle cx="1472.1" cy="196.3"/><circle cx="1544.7" cy="161.6"/><circle cx="1370.8" cy="260.2"/><circle cx="1512.8" cy="147.6"/><circle cx="1435.5" cy="146.3"/><circle cx="1470.5" cy="187.2"/><circle cx="1347.3" cy="264.8"/><circle cx="1534.8" cy="199.5"/><circle cx="1503.5" cy="214.2"/><circle cx="1406.8" cy="286.3"/><circle cx="1541.0" cy="254.4"/><circle cx="1370.6" cy="240.3"/><circle cx="1376.5" cy="262.8"/><circle cx="1462.3" cy="248.0"/><circle cx="1501.1" cy="204.6"/><circle cx="1578.4" cy="238.6"/><circle cx="1360.4" cy="263.3"/><circle cx="1559.6" cy="103.8"/><circle cx="1352.3" cy="273.5"/><circle cx="1488.8" cy="196.6"/><circle cx="1373.8" cy="171.6"/><circle cx="1367.2" cy="264.0"/><circle cx="1367.0" cy="239.4"/><circle cx="1456.3" cy="243.9"/><circle cx="1480.3" cy="190.6"/><circle cx="1352.2" cy="256.8"/><circle cx="1543.6" cy="219.1"/><circle cx="1449.4" cy="257.0"/><circle cx="1531.8" cy="285.5"/><circle cx="1452.0" cy="266.1"/><circle cx="1475.9" cy="196.5"/><circle cx="1439.4" cy="236.5"/><circle cx="1416.5" cy="276.5"/><circle cx="1372.0" cy="273.8"/><circle cx="1358.2" cy="204.3"/><circle cx="1350.4" cy="258.6"/><circle cx="1349.9" cy="247.4"/><circle cx="1418.4" cy="266.2"/><circle cx="1494.5" cy="271.3"/><circle cx="1601.8" cy="126.8"/><circle cx="1362.8" cy="264.0"/><circle cx="1426.4" cy="223.4"/><circle cx="1358.7" cy="220.5"/><circle cx="1375.7" cy="237.1"/><circle cx="1438.2" cy="271.1"/><circle cx="1469.8" cy="199.7"/><circle cx="1464.6" cy="244.4"/><circle cx="1365.0" cy="246.8"/><circle cx="1767.3" cy="102.0"/><circle cx="1376.3" cy="260.4"/></g>
<g class="b" fill="#EFA427" fill-opacity="0.66" stroke="#EFA427" stroke-opacity="0.7" stroke-width="1.3"><circle cx="1363.6" cy="271.1"/><circle cx="1440.5" cy="234.8"/><circle cx="1294.5" cy="279.4"/><circle cx="1286.1" cy="263.9"/><circle cx="1436.2" cy="240.8"/><circle cx="1352.4" cy="288.0"/><circle cx="1407.8" cy="268.1"/><circle cx="1476.5" cy="169.5"/><circle cx="1494.7" cy="181.6"/><circle cx="1307.4" cy="274.3"/><circle cx="1339.3" cy="281.8"/><circle cx="1514.8" cy="255.2"/><circle cx="1431.1" cy="276.6"/><circle cx="1339.3" cy="272.5"/><circle cx="1380.6" cy="261.7"/><circle cx="1326.5" cy="259.1"/><circle cx="1424.0" cy="194.1"/><circle cx="1423.2" cy="256.2"/><circle cx="1385.4" cy="220.2"/><circle cx="1417.9" cy="241.2"/><circle cx="1463.6" cy="256.5"/><circle cx="1431.4" cy="242.1"/><circle cx="1342.1" cy="166.6"/><circle cx="1339.7" cy="246.2"/><circle cx="1432.5" cy="230.3"/><circle cx="1407.8" cy="201.8"/><circle cx="1352.8" cy="283.8"/><circle cx="1325.6" cy="279.0"/><circle cx="1441.0" cy="165.6"/><circle cx="1432.8" cy="164.2"/><circle cx="1542.8" cy="175.1"/><circle cx="1439.0" cy="245.2"/><circle cx="1297.1" cy="268.8"/><circle cx="1309.3" cy="272.9"/><circle cx="1472.2" cy="226.5"/><circle cx="1322.2" cy="266.8"/><circle cx="1321.2" cy="262.0"/><circle cx="1445.0" cy="209.9"/><circle cx="1429.9" cy="258.5"/><circle cx="1400.4" cy="259.7"/><circle cx="1497.6" cy="178.5"/><circle cx="1451.8" cy="254.4"/><circle cx="1283.1" cy="285.6"/><circle cx="1338.2" cy="249.0"/><circle cx="1376.4" cy="243.8"/><circle cx="1449.6" cy="178.1"/><circle cx="1415.0" cy="202.3"/><circle cx="1291.3" cy="238.1"/><circle cx="1309.8" cy="279.2"/><circle cx="1541.3" cy="241.0"/><circle cx="1513.9" cy="209.0"/><circle cx="1351.0" cy="275.8"/><circle cx="1290.6" cy="288.7"/><circle cx="1438.6" cy="165.2"/><circle cx="1523.3" cy="165.9"/><circle cx="1325.1" cy="269.3"/><circle cx="1331.3" cy="280.6"/><circle cx="1416.0" cy="189.0"/><circle cx="1546.8" cy="195.7"/><circle cx="1346.1" cy="270.3"/><circle cx="1505.9" cy="274.2"/><circle cx="1286.5" cy="272.7"/><circle cx="1512.4" cy="257.8"/><circle cx="1434.8" cy="171.9"/><circle cx="1450.6" cy="211.2"/><circle cx="1292.7" cy="289.3"/><circle cx="1496.5" cy="269.9"/><circle cx="1305.7" cy="265.5"/><circle cx="1402.6" cy="276.4"/><circle cx="1295.0" cy="269.6"/><circle cx="1347.6" cy="266.2"/><circle cx="1328.3" cy="264.5"/><circle cx="1296.5" cy="278.1"/><circle cx="1407.7" cy="192.6"/><circle cx="1400.4" cy="277.8"/><circle cx="1521.5" cy="159.1"/><circle cx="1282.4" cy="275.9"/><circle cx="1373.9" cy="285.8"/><circle cx="1312.9" cy="262.4"/><circle cx="1515.0" cy="203.3"/><circle cx="1326.7" cy="259.2"/><circle cx="1296.0" cy="256.9"/><circle cx="1323.6" cy="279.4"/><circle cx="1443.7" cy="242.4"/><circle cx="1484.0" cy="173.5"/><circle cx="1482.9" cy="194.0"/><circle cx="1489.5" cy="283.7"/><circle cx="1520.2" cy="214.1"/><circle cx="1481.1" cy="217.5"/><circle cx="1490.7" cy="194.4"/><circle cx="1320.9" cy="272.7"/><circle cx="1310.3" cy="276.5"/><circle cx="1477.7" cy="191.3"/><circle cx="1383.5" cy="237.6"/><circle cx="1288.8" cy="261.3"/><circle cx="1505.4" cy="129.0"/><circle cx="1509.6" cy="227.9"/><circle cx="1437.3" cy="250.8"/><circle cx="1510.6" cy="142.4"/><circle cx="1290.3" cy="272.4"/><circle cx="1532.9" cy="259.2"/><circle cx="1281.8" cy="274.4"/><circle cx="1535.3" cy="188.6"/><circle cx="1511.6" cy="284.0"/><circle cx="1343.7" cy="202.1"/><circle cx="1283.9" cy="281.0"/><circle cx="1512.7" cy="280.0"/><circle cx="1402.7" cy="258.6"/><circle cx="1352.1" cy="273.0"/><circle cx="1439.3" cy="269.9"/><circle cx="1401.9" cy="250.0"/><circle cx="1526.0" cy="149.3"/><circle cx="1313.5" cy="212.2"/><circle cx="1455.3" cy="245.2"/><circle cx="1327.3" cy="287.6"/><circle cx="1457.8" cy="229.8"/><circle cx="1288.0" cy="271.9"/><circle cx="1385.3" cy="263.7"/><circle cx="1474.2" cy="166.5"/><circle cx="1425.6" cy="229.9"/><circle cx="1383.0" cy="229.0"/><circle cx="1308.5" cy="279.5"/><circle cx="1405.7" cy="198.1"/><circle cx="1436.5" cy="177.6"/><circle cx="1309.1" cy="272.6"/><circle cx="1430.9" cy="228.4"/><circle cx="1501.3" cy="183.1"/><circle cx="1326.1" cy="279.2"/><circle cx="1362.3" cy="254.1"/><circle cx="1292.4" cy="278.6"/><circle cx="1287.0" cy="279.0"/><circle cx="1348.3" cy="277.4"/><circle cx="1337.3" cy="249.0"/><circle cx="1322.1" cy="283.1"/><circle cx="1465.3" cy="163.2"/><circle cx="1425.1" cy="180.5"/><circle cx="1325.6" cy="253.8"/><circle cx="1333.8" cy="253.4"/><circle cx="1418.1" cy="187.2"/><circle cx="1305.4" cy="270.5"/><circle cx="1513.1" cy="250.0"/><circle cx="1399.7" cy="212.0"/><circle cx="1348.7" cy="264.4"/><circle cx="1283.4" cy="269.4"/><circle cx="1450.3" cy="235.8"/><circle cx="1400.3" cy="219.6"/><circle cx="1335.0" cy="286.1"/><circle cx="1524.3" cy="151.2"/><circle cx="1320.8" cy="274.8"/><circle cx="1332.7" cy="248.4"/><circle cx="1400.1" cy="210.8"/><circle cx="1559.3" cy="231.9"/><circle cx="1401.1" cy="271.9"/><circle cx="1451.1" cy="171.5"/><circle cx="1443.0" cy="285.8"/><circle cx="1510.9" cy="231.5"/><circle cx="1291.0" cy="258.7"/><circle cx="1317.8" cy="264.0"/><circle cx="1348.4" cy="265.4"/><circle cx="1318.7" cy="248.3"/><circle cx="1330.9" cy="277.3"/><circle cx="1280.5" cy="262.5"/><circle cx="1296.4" cy="283.2"/><circle cx="1431.0" cy="177.3"/><circle cx="1455.6" cy="248.5"/><circle cx="1545.7" cy="239.1"/><circle cx="1283.3" cy="284.8"/><circle cx="1481.4" cy="107.7"/><circle cx="1424.1" cy="190.1"/><circle cx="1326.1" cy="251.2"/><circle cx="1327.6" cy="252.5"/><circle cx="1493.0" cy="177.6"/><circle cx="1311.8" cy="281.5"/><circle cx="1533.9" cy="170.9"/><circle cx="1437.1" cy="200.1"/><circle cx="1344.8" cy="252.4"/><circle cx="1280.4" cy="282.7"/><circle cx="1444.7" cy="253.6"/><circle cx="1340.7" cy="266.1"/><circle cx="1488.7" cy="283.3"/><circle cx="1343.0" cy="273.6"/><circle cx="1311.8" cy="266.1"/><circle cx="1431.3" cy="216.9"/><circle cx="1436.8" cy="214.3"/><circle cx="1466.2" cy="140.0"/><circle cx="1350.0" cy="258.6"/><circle cx="1436.2" cy="215.8"/><circle cx="1482.4" cy="190.7"/><circle cx="1283.2" cy="271.7"/><circle cx="1367.4" cy="236.4"/><circle cx="1284.5" cy="279.1"/><circle cx="1424.0" cy="226.2"/><circle cx="1491.5" cy="170.4"/><circle cx="1433.0" cy="247.2"/><circle cx="1493.0" cy="250.9"/><circle cx="1477.6" cy="121.9"/><circle cx="1373.2" cy="227.4"/><circle cx="1349.3" cy="285.1"/><circle cx="1491.7" cy="226.3"/><circle cx="1298.9" cy="277.0"/><circle cx="1338.5" cy="284.7"/><circle cx="1309.9" cy="268.3"/><circle cx="1307.0" cy="264.1"/><circle cx="1508.4" cy="261.6"/><circle cx="1420.7" cy="221.5"/><circle cx="1471.5" cy="182.4"/><circle cx="1450.6" cy="287.0"/><circle cx="1507.6" cy="288.1"/><circle cx="1438.9" cy="158.9"/><circle cx="1348.5" cy="280.0"/><circle cx="1303.5" cy="271.8"/><circle cx="1435.4" cy="223.9"/><circle cx="1449.0" cy="284.4"/><circle cx="1472.3" cy="252.7"/><circle cx="1315.8" cy="278.2"/><circle cx="1512.6" cy="258.5"/><circle cx="1278.5" cy="283.4"/><circle cx="1442.6" cy="234.0"/><circle cx="1297.9" cy="265.3"/><circle cx="1299.8" cy="276.4"/><circle cx="1512.1" cy="228.7"/><circle cx="1303.4" cy="284.0"/><circle cx="1348.0" cy="283.9"/><circle cx="1480.9" cy="149.2"/><circle cx="1415.3" cy="205.8"/><circle cx="1332.0" cy="261.6"/><circle cx="1306.0" cy="261.4"/><circle cx="1348.6" cy="240.8"/><circle cx="1327.8" cy="268.7"/><circle cx="1400.4" cy="212.7"/><circle cx="1490.6" cy="276.7"/><circle cx="1498.9" cy="218.4"/><circle cx="1471.0" cy="188.7"/><circle cx="1374.2" cy="271.8"/><circle cx="1346.5" cy="276.5"/><circle cx="1423.1" cy="162.1"/><circle cx="1347.6" cy="263.5"/><circle cx="1493.5" cy="168.8"/><circle cx="1315.6" cy="233.2"/><circle cx="1390.3" cy="260.8"/><circle cx="1446.9" cy="226.0"/><circle cx="1449.3" cy="149.1"/><circle cx="1333.6" cy="243.5"/><circle cx="1377.5" cy="187.9"/><circle cx="1476.9" cy="189.9"/><circle cx="1505.0" cy="261.9"/><circle cx="1281.7" cy="266.8"/><circle cx="1344.7" cy="285.4"/><circle cx="1257.1" cy="285.3"/><circle cx="1307.7" cy="288.8"/><circle cx="1474.6" cy="224.4"/><circle cx="1545.9" cy="226.2"/><circle cx="1532.8" cy="157.5"/><circle cx="1423.1" cy="158.7"/><circle cx="1282.5" cy="270.6"/><circle cx="1469.5" cy="253.4"/><circle cx="1380.1" cy="277.8"/><circle cx="1503.3" cy="202.1"/><circle cx="1336.3" cy="287.8"/><circle cx="1296.8" cy="279.7"/><circle cx="1351.0" cy="289.0"/><circle cx="1552.6" cy="175.0"/><circle cx="1385.3" cy="286.0"/><circle cx="1339.9" cy="229.3"/><circle cx="1470.5" cy="196.1"/><circle cx="1445.7" cy="282.0"/><circle cx="1369.9" cy="259.5"/><circle cx="1536.7" cy="242.7"/><circle cx="1394.6" cy="275.7"/><circle cx="1303.8" cy="262.2"/><circle cx="1446.5" cy="259.4"/><circle cx="1347.6" cy="239.5"/><circle cx="1301.6" cy="267.0"/><circle cx="1485.9" cy="176.0"/><circle cx="1460.2" cy="151.2"/><circle cx="1475.3" cy="235.7"/><circle cx="1430.0" cy="261.1"/><circle cx="1326.5" cy="278.9"/><circle cx="1320.8" cy="274.3"/><circle cx="1493.5" cy="159.6"/><circle cx="1309.5" cy="269.7"/><circle cx="1353.5" cy="284.3"/><circle cx="1433.9" cy="288.7"/><circle cx="1289.6" cy="272.7"/><circle cx="1487.6" cy="260.1"/><circle cx="1389.3" cy="207.3"/><circle cx="1383.0" cy="253.6"/></g>
<g class="b" fill="#33A02C" fill-opacity="0.66" stroke="#33A02C" stroke-opacity="0.75" stroke-width="1.3"><circle cx="1467.8" cy="185.1"/><circle cx="1363.5" cy="273.4"/><circle cx="1345.6" cy="249.3"/><circle cx="1522.8" cy="210.8"/><circle cx="1460.1" cy="226.7"/><circle cx="1418.9" cy="271.8"/><circle cx="1384.6" cy="254.5"/><circle cx="1451.1" cy="233.0"/><circle cx="1427.7" cy="239.9"/><circle cx="1494.4" cy="205.3"/><circle cx="1495.6" cy="184.4"/><circle cx="1357.4" cy="274.4"/><circle cx="1356.5" cy="265.6"/><circle cx="1516.0" cy="220.9"/><circle cx="1546.4" cy="187.5"/><circle cx="1308.8" cy="283.4"/><circle cx="1410.4" cy="271.9"/><circle cx="1326.3" cy="253.2"/><circle cx="1492.8" cy="181.4"/><circle cx="1355.8" cy="247.7"/><circle cx="1328.8" cy="240.2"/><circle cx="1502.2" cy="223.2"/><circle cx="1542.7" cy="259.4"/><circle cx="1634.1" cy="133.3"/><circle cx="1541.8" cy="248.1"/><circle cx="1357.6" cy="266.2"/><circle cx="1482.6" cy="223.3"/><circle cx="1546.9" cy="201.5"/><circle cx="1543.5" cy="232.7"/><circle cx="1370.6" cy="277.1"/><circle cx="1535.3" cy="211.2"/><circle cx="1503.7" cy="216.5"/><circle cx="1455.9" cy="195.0"/><circle cx="1460.6" cy="202.1"/><circle cx="1489.9" cy="183.7"/><circle cx="1325.0" cy="275.8"/><circle cx="1512.5" cy="230.8"/><circle cx="1547.5" cy="161.8"/><circle cx="1321.7" cy="255.1"/><circle cx="1560.0" cy="254.5"/><circle cx="1493.2" cy="248.7"/><circle cx="1444.8" cy="244.6"/><circle cx="1463.6" cy="216.9"/><circle cx="1573.9" cy="159.4"/><circle cx="1414.6" cy="228.8"/><circle cx="1496.8" cy="180.8"/><circle cx="1486.4" cy="229.7"/><circle cx="1465.4" cy="230.4"/><circle cx="1438.3" cy="244.4"/><circle cx="1486.6" cy="141.2"/><circle cx="1374.4" cy="277.4"/><circle cx="1468.0" cy="273.9"/><circle cx="1428.5" cy="251.0"/><circle cx="1515.8" cy="191.0"/><circle cx="1424.2" cy="210.9"/><circle cx="1509.5" cy="209.4"/><circle cx="1521.8" cy="195.6"/><circle cx="1349.7" cy="253.7"/><circle cx="1383.7" cy="239.5"/><circle cx="1526.6" cy="142.2"/><circle cx="1519.1" cy="202.7"/><circle cx="1368.8" cy="283.7"/><circle cx="1504.0" cy="219.2"/><circle cx="1360.8" cy="277.4"/><circle cx="1360.8" cy="261.6"/><circle cx="1566.4" cy="240.9"/><circle cx="1393.7" cy="244.7"/><circle cx="1369.1" cy="276.6"/><circle cx="1475.8" cy="194.3"/><circle cx="1382.7" cy="245.2"/><circle cx="1459.8" cy="268.0"/><circle cx="1373.7" cy="256.8"/><circle cx="1414.9" cy="276.8"/><circle cx="1378.9" cy="274.6"/><circle cx="1469.0" cy="184.0"/><circle cx="1429.1" cy="215.3"/><circle cx="1388.8" cy="189.9"/><circle cx="1630.4" cy="153.4"/><circle cx="1430.3" cy="272.1"/><circle cx="1420.2" cy="259.4"/><circle cx="1370.8" cy="257.1"/><circle cx="1430.7" cy="242.2"/><circle cx="1427.6" cy="254.4"/><circle cx="1325.8" cy="235.2"/><circle cx="1366.7" cy="241.1"/><circle cx="1370.8" cy="265.3"/><circle cx="1374.7" cy="264.1"/><circle cx="1367.8" cy="251.9"/><circle cx="1425.9" cy="247.2"/><circle cx="1386.3" cy="263.1"/><circle cx="1438.2" cy="231.0"/><circle cx="1470.5" cy="192.9"/><circle cx="1371.2" cy="258.6"/><circle cx="1474.7" cy="251.5"/><circle cx="1380.6" cy="233.4"/><circle cx="1554.2" cy="254.1"/><circle cx="1359.9" cy="278.8"/><circle cx="1475.1" cy="178.7"/><circle cx="1415.4" cy="262.7"/><circle cx="1411.4" cy="279.1"/><circle cx="1468.5" cy="206.4"/><circle cx="1462.9" cy="193.2"/><circle cx="1425.6" cy="239.5"/><circle cx="1454.1" cy="253.7"/><circle cx="1545.5" cy="147.3"/><circle cx="1450.6" cy="248.6"/><circle cx="1351.7" cy="260.7"/><circle cx="1465.6" cy="210.1"/><circle cx="1461.2" cy="222.3"/><circle cx="1368.9" cy="239.2"/><circle cx="1525.5" cy="265.0"/><circle cx="1390.7" cy="212.0"/><circle cx="1483.6" cy="193.7"/><circle cx="1473.6" cy="222.6"/><circle cx="1369.1" cy="239.0"/><circle cx="1494.5" cy="212.8"/><circle cx="1357.6" cy="232.9"/><circle cx="1409.4" cy="206.6"/><circle cx="1483.7" cy="273.1"/><circle cx="1363.9" cy="213.6"/><circle cx="1373.0" cy="210.5"/><circle cx="1428.3" cy="224.9"/><circle cx="1488.4" cy="177.2"/><circle cx="1370.4" cy="287.3"/><circle cx="1353.1" cy="267.1"/><circle cx="1421.0" cy="255.8"/><circle cx="1340.8" cy="260.9"/><circle cx="1486.7" cy="255.2"/><circle cx="1433.4" cy="270.4"/><circle cx="1485.1" cy="195.4"/><circle cx="1459.0" cy="235.2"/><circle cx="1479.0" cy="230.7"/><circle cx="1423.1" cy="247.3"/><circle cx="1456.5" cy="235.4"/><circle cx="1349.3" cy="209.4"/><circle cx="1509.1" cy="211.2"/><circle cx="1413.0" cy="231.7"/><circle cx="1405.1" cy="222.7"/><circle cx="1479.6" cy="269.3"/><circle cx="1466.5" cy="237.9"/><circle cx="1537.7" cy="263.0"/><circle cx="1500.2" cy="281.7"/><circle cx="1408.2" cy="230.9"/><circle cx="1430.5" cy="251.5"/><circle cx="1445.1" cy="248.1"/><circle cx="1363.1" cy="213.0"/><circle cx="1432.8" cy="220.2"/><circle cx="1499.6" cy="215.9"/><circle cx="1380.4" cy="219.7"/><circle cx="1467.2" cy="222.4"/><circle cx="1556.5" cy="253.0"/><circle cx="1372.7" cy="270.2"/><circle cx="1356.4" cy="246.9"/><circle cx="1495.6" cy="217.1"/><circle cx="1517.5" cy="183.7"/><circle cx="1552.0" cy="134.7"/><circle cx="1324.5" cy="283.0"/><circle cx="1394.4" cy="255.5"/><circle cx="1537.2" cy="227.9"/><circle cx="1358.1" cy="209.1"/><circle cx="1409.6" cy="218.8"/><circle cx="1454.9" cy="248.7"/><circle cx="1471.8" cy="284.8"/><circle cx="1490.8" cy="256.4"/><circle cx="1408.9" cy="214.3"/><circle cx="1361.2" cy="267.7"/><circle cx="1454.4" cy="266.4"/><circle cx="1361.9" cy="281.9"/><circle cx="1416.3" cy="258.7"/><circle cx="1397.4" cy="261.5"/><circle cx="1411.9" cy="208.0"/><circle cx="1490.5" cy="182.7"/><circle cx="1424.3" cy="231.2"/><circle cx="1549.6" cy="260.7"/><circle cx="1384.1" cy="261.6"/><circle cx="1356.2" cy="256.7"/><circle cx="1472.1" cy="208.3"/><circle cx="1452.5" cy="232.1"/><circle cx="1473.2" cy="207.9"/><circle cx="1377.7" cy="227.3"/><circle cx="1300.0" cy="274.1"/><circle cx="1526.9" cy="181.5"/><circle cx="1367.3" cy="253.0"/><circle cx="1558.1" cy="208.2"/><circle cx="1357.2" cy="180.8"/><circle cx="1525.7" cy="269.1"/><circle cx="1440.8" cy="252.2"/><circle cx="1543.2" cy="132.8"/><circle cx="1564.1" cy="276.8"/><circle cx="1404.4" cy="218.0"/><circle cx="1456.1" cy="228.5"/><circle cx="1415.5" cy="254.4"/><circle cx="1350.8" cy="246.1"/><circle cx="1489.8" cy="226.2"/><circle cx="1549.8" cy="220.4"/><circle cx="1398.8" cy="238.9"/><circle cx="1307.2" cy="275.7"/><circle cx="1354.2" cy="285.4"/><circle cx="1562.6" cy="123.3"/><circle cx="1359.1" cy="281.3"/><circle cx="1504.3" cy="179.4"/><circle cx="1430.5" cy="231.6"/><circle cx="1573.2" cy="189.9"/><circle cx="1375.1" cy="277.4"/><circle cx="1420.0" cy="211.7"/><circle cx="1449.0" cy="236.0"/><circle cx="1484.8" cy="260.7"/><circle cx="1480.2" cy="257.8"/><circle cx="1384.3" cy="246.3"/><circle cx="1464.8" cy="249.7"/><circle cx="1378.2" cy="260.7"/><circle cx="1421.1" cy="259.3"/><circle cx="1337.7" cy="248.4"/><circle cx="1448.7" cy="196.0"/><circle cx="1526.5" cy="110.3"/><circle cx="1480.1" cy="224.4"/><circle cx="1433.3" cy="230.3"/><circle cx="1390.8" cy="259.6"/><circle cx="1501.2" cy="218.8"/><circle cx="1479.4" cy="279.8"/><circle cx="1425.9" cy="240.2"/><circle cx="1418.6" cy="269.4"/><circle cx="1453.4" cy="236.1"/><circle cx="1404.5" cy="235.5"/><circle cx="1419.3" cy="240.3"/><circle cx="1428.2" cy="242.0"/><circle cx="1539.2" cy="166.0"/><circle cx="1449.7" cy="229.5"/><circle cx="1340.2" cy="258.3"/><circle cx="1416.5" cy="266.3"/><circle cx="1416.3" cy="252.6"/><circle cx="1613.0" cy="204.1"/><circle cx="1367.7" cy="181.8"/><circle cx="1351.6" cy="243.8"/><circle cx="1419.4" cy="210.7"/><circle cx="1391.5" cy="248.2"/><circle cx="1422.2" cy="266.8"/><circle cx="1588.2" cy="224.0"/><circle cx="1502.1" cy="217.1"/><circle cx="1421.3" cy="263.9"/><circle cx="1447.0" cy="255.8"/><circle cx="1410.3" cy="252.2"/><circle cx="1372.5" cy="275.0"/><circle cx="1349.4" cy="266.8"/><circle cx="1751.5" cy="257.9"/><circle cx="1374.5" cy="219.0"/><circle cx="1428.8" cy="257.2"/><circle cx="1487.8" cy="257.4"/><circle cx="1494.2" cy="153.4"/><circle cx="1361.0" cy="252.7"/><circle cx="1467.7" cy="201.0"/><circle cx="1365.9" cy="233.6"/><circle cx="1492.7" cy="176.9"/><circle cx="1353.2" cy="226.2"/><circle cx="1481.6" cy="285.0"/><circle cx="1493.0" cy="171.0"/><circle cx="1421.6" cy="217.9"/><circle cx="1533.6" cy="236.1"/><circle cx="1449.0" cy="266.3"/><circle cx="1508.6" cy="225.1"/><circle cx="1339.0" cy="229.5"/><circle cx="1416.7" cy="230.4"/><circle cx="1355.4" cy="243.3"/><circle cx="1354.6" cy="282.5"/><circle cx="1360.2" cy="161.5"/><circle cx="1464.1" cy="266.6"/><circle cx="1463.5" cy="220.4"/><circle cx="1370.0" cy="260.0"/><circle cx="1373.6" cy="261.7"/><circle cx="1363.8" cy="287.1"/><circle cx="1453.3" cy="204.0"/><circle cx="1625.1" cy="114.0"/><circle cx="1474.5" cy="229.0"/><circle cx="1566.3" cy="246.8"/><circle cx="1375.2" cy="268.5"/><circle cx="1330.5" cy="260.4"/><circle cx="1340.5" cy="258.1"/><circle cx="1549.3" cy="151.9"/><circle cx="1355.9" cy="261.9"/><circle cx="1740.2" cy="134.5"/><circle cx="1565.6" cy="155.4"/><circle cx="1475.7" cy="210.9"/><circle cx="1357.0" cy="253.6"/><circle cx="1403.4" cy="261.9"/><circle cx="1458.4" cy="217.8"/><circle cx="1519.4" cy="246.0"/><circle cx="1423.5" cy="221.3"/><circle cx="1367.3" cy="259.1"/><circle cx="1449.4" cy="228.0"/><circle cx="1539.9" cy="261.2"/><circle cx="1410.0" cy="249.0"/><circle cx="1444.1" cy="212.6"/><circle cx="1364.8" cy="283.2"/><circle cx="1542.1" cy="210.4"/><circle cx="1421.8" cy="258.0"/><circle cx="1353.6" cy="273.6"/><circle cx="1480.9" cy="231.3"/><circle cx="1474.3" cy="212.4"/><circle cx="1350.0" cy="257.2"/><circle cx="1362.2" cy="279.1"/><circle cx="1392.2" cy="236.0"/><circle cx="1359.6" cy="248.9"/><circle cx="1427.3" cy="220.3"/><circle cx="1418.9" cy="227.9"/><circle cx="1495.7" cy="268.1"/><circle cx="1438.3" cy="257.4"/><circle cx="1485.5" cy="248.2"/><circle cx="1425.3" cy="278.5"/><circle cx="1358.4" cy="281.2"/><circle cx="1335.6" cy="286.7"/><circle cx="1626.6" cy="212.8"/><circle cx="1464.6" cy="200.8"/><circle cx="1559.2" cy="265.9"/><circle cx="1428.6" cy="252.6"/><circle cx="1548.3" cy="239.8"/><circle cx="1423.0" cy="250.4"/><circle cx="1360.6" cy="274.9"/><circle cx="1646.9" cy="133.9"/><circle cx="1370.7" cy="267.0"/><circle cx="1470.9" cy="236.8"/><circle cx="1479.3" cy="251.3"/><circle cx="1674.0" cy="127.2"/><circle cx="1392.6" cy="271.6"/><circle cx="1457.0" cy="218.0"/><circle cx="1534.4" cy="198.8"/><circle cx="1366.8" cy="281.1"/><circle cx="1346.3" cy="262.2"/><circle cx="1530.7" cy="242.9"/><circle cx="1462.6" cy="191.9"/><circle cx="1557.4" cy="262.2"/><circle cx="1443.8" cy="227.8"/><circle cx="1471.9" cy="254.0"/><circle cx="1535.7" cy="230.0"/><circle cx="1515.5" cy="225.9"/><circle cx="1477.9" cy="183.5"/><circle cx="1472.2" cy="190.4"/><circle cx="1412.8" cy="265.1"/><circle cx="1360.9" cy="245.6"/><circle cx="1499.4" cy="218.5"/><circle cx="1435.9" cy="244.5"/><circle cx="1512.8" cy="245.0"/><circle cx="1493.7" cy="201.6"/><circle cx="1320.1" cy="247.6"/><circle cx="1365.2" cy="262.4"/><circle cx="1464.6" cy="287.2"/><circle cx="1404.9" cy="255.7"/><circle cx="1491.8" cy="214.7"/><circle cx="1495.8" cy="181.3"/><circle cx="1350.5" cy="250.3"/><circle cx="1492.0" cy="210.0"/><circle cx="1365.0" cy="250.2"/><circle cx="1485.0" cy="241.0"/><circle cx="1488.7" cy="182.6"/><circle cx="1375.8" cy="274.6"/><circle cx="1467.4" cy="174.1"/><circle cx="1470.6" cy="230.7"/><circle cx="1380.2" cy="221.7"/><circle cx="1533.6" cy="241.5"/><circle cx="1350.0" cy="268.4"/><circle cx="1368.1" cy="287.3"/><circle cx="1532.6" cy="240.7"/><circle cx="1526.5" cy="265.6"/><circle cx="1351.8" cy="276.8"/><circle cx="1530.7" cy="158.7"/><circle cx="1377.3" cy="216.3"/><circle cx="1625.8" cy="257.5"/><circle cx="1352.0" cy="272.6"/><circle cx="1423.5" cy="275.0"/><circle cx="1308.8" cy="272.1"/><circle cx="1600.3" cy="137.7"/><circle cx="1301.8" cy="266.9"/><circle cx="1589.0" cy="233.7"/><circle cx="1384.1" cy="249.5"/><circle cx="1446.0" cy="252.5"/><circle cx="1481.1" cy="276.0"/><circle cx="1610.0" cy="152.3"/><circle cx="1431.0" cy="224.0"/><circle cx="1532.8" cy="187.6"/><circle cx="1419.7" cy="238.3"/><circle cx="1422.1" cy="251.2"/><circle cx="1462.6" cy="211.6"/><circle cx="1449.6" cy="209.2"/><circle cx="1366.6" cy="283.1"/><circle cx="1359.5" cy="257.2"/><circle cx="1473.5" cy="218.2"/><circle cx="1569.4" cy="254.9"/><circle cx="1426.2" cy="254.6"/><circle cx="1412.5" cy="249.1"/><circle cx="1497.3" cy="266.4"/><circle cx="1394.7" cy="243.3"/><circle cx="1399.0" cy="240.0"/><circle cx="1487.2" cy="205.9"/><circle cx="1365.9" cy="260.9"/><circle cx="1555.8" cy="135.0"/><circle cx="1481.2" cy="218.8"/><circle cx="1384.1" cy="238.5"/><circle cx="1369.6" cy="249.7"/><circle cx="1392.5" cy="228.1"/><circle cx="1615.3" cy="140.4"/><circle cx="1489.3" cy="259.5"/><circle cx="1562.6" cy="269.5"/><circle cx="1413.2" cy="273.6"/></g>
<g class="b" fill="#EFA427" fill-opacity="0.66" stroke="#EFA427" stroke-opacity="0.7" stroke-width="1.3"><circle cx="1373.7" cy="219.6"/><circle cx="1306.6" cy="283.9"/><circle cx="1511.3" cy="276.5"/><circle cx="1345.6" cy="287.4"/><circle cx="1306.8" cy="279.2"/><circle cx="1306.5" cy="282.2"/><circle cx="1340.9" cy="264.8"/><circle cx="1435.0" cy="227.9"/><circle cx="1305.0" cy="276.8"/><circle cx="1377.2" cy="203.8"/><circle cx="1438.6" cy="243.2"/><circle cx="1533.0" cy="232.3"/><circle cx="1352.2" cy="252.1"/><circle cx="1312.4" cy="270.0"/><circle cx="1335.3" cy="258.6"/><circle cx="1526.5" cy="195.6"/><circle cx="1515.5" cy="153.0"/><circle cx="1369.7" cy="221.1"/><circle cx="1482.1" cy="264.1"/><circle cx="1470.1" cy="220.1"/><circle cx="1292.6" cy="284.3"/><circle cx="1294.8" cy="286.9"/><circle cx="1506.1" cy="270.7"/><circle cx="1473.5" cy="218.6"/><circle cx="1504.3" cy="226.7"/><circle cx="1330.9" cy="271.8"/><circle cx="1335.6" cy="209.3"/><circle cx="1501.1" cy="228.5"/><circle cx="1385.1" cy="278.7"/><circle cx="1303.1" cy="284.4"/><circle cx="1518.6" cy="268.1"/><circle cx="1547.7" cy="191.4"/><circle cx="1397.2" cy="222.7"/><circle cx="1457.1" cy="185.3"/><circle cx="1418.0" cy="266.0"/><circle cx="1319.4" cy="261.8"/><circle cx="1467.5" cy="265.4"/><circle cx="1338.6" cy="238.5"/><circle cx="1316.7" cy="258.0"/><circle cx="1449.4" cy="286.8"/><circle cx="1437.5" cy="273.4"/><circle cx="1413.1" cy="188.4"/><circle cx="1388.8" cy="217.2"/><circle cx="1279.6" cy="265.0"/><circle cx="1514.4" cy="204.4"/><circle cx="1280.2" cy="277.9"/><circle cx="1300.2" cy="279.8"/><circle cx="1395.9" cy="196.5"/><circle cx="1291.5" cy="258.2"/><circle cx="1458.4" cy="227.6"/><circle cx="1432.8" cy="231.9"/><circle cx="1279.3" cy="266.0"/><circle cx="1518.7" cy="182.4"/><circle cx="1293.7" cy="265.8"/><circle cx="1386.0" cy="211.4"/><circle cx="1545.9" cy="242.3"/><circle cx="1441.9" cy="282.7"/><circle cx="1545.0" cy="230.6"/><circle cx="1449.0" cy="223.8"/><circle cx="1478.3" cy="194.9"/><circle cx="1540.7" cy="238.5"/><circle cx="1310.6" cy="227.7"/><circle cx="1426.9" cy="190.3"/><circle cx="1388.1" cy="228.6"/><circle cx="1319.7" cy="256.1"/><circle cx="1427.5" cy="243.7"/><circle cx="1472.3" cy="251.3"/><circle cx="1537.2" cy="203.0"/><circle cx="1546.7" cy="200.9"/><circle cx="1393.6" cy="249.2"/><circle cx="1435.8" cy="164.5"/><circle cx="1356.4" cy="284.4"/><circle cx="1341.3" cy="280.6"/><circle cx="1351.5" cy="281.2"/><circle cx="1551.3" cy="175.7"/><circle cx="1439.0" cy="236.0"/><circle cx="1337.9" cy="261.9"/><circle cx="1385.9" cy="197.5"/><circle cx="1433.7" cy="198.4"/><circle cx="1451.8" cy="253.5"/><circle cx="1385.2" cy="215.0"/><circle cx="1309.1" cy="256.0"/><circle cx="1374.4" cy="210.0"/><circle cx="1316.1" cy="261.4"/><circle cx="1400.9" cy="285.2"/><circle cx="1492.1" cy="187.9"/><circle cx="1288.5" cy="261.6"/><circle cx="1478.3" cy="232.8"/><circle cx="1381.7" cy="275.7"/><circle cx="1322.6" cy="285.1"/><circle cx="1441.3" cy="184.5"/><circle cx="1490.4" cy="220.1"/><circle cx="1403.5" cy="229.1"/><circle cx="1331.3" cy="283.1"/><circle cx="1344.1" cy="250.5"/><circle cx="1326.2" cy="267.7"/><circle cx="1529.5" cy="214.4"/><circle cx="1482.8" cy="200.1"/><circle cx="1386.8" cy="253.0"/><circle cx="1424.4" cy="191.3"/><circle cx="1545.9" cy="260.5"/><circle cx="1437.5" cy="219.3"/><circle cx="1475.5" cy="212.8"/><circle cx="1390.3" cy="214.5"/><circle cx="1407.8" cy="266.6"/><circle cx="1349.8" cy="270.5"/><circle cx="1464.5" cy="212.0"/><circle cx="1337.1" cy="286.1"/><circle cx="1458.2" cy="197.5"/><circle cx="1401.3" cy="259.6"/><circle cx="1284.6" cy="269.3"/><circle cx="1381.7" cy="288.5"/><circle cx="1328.0" cy="264.5"/><circle cx="1314.0" cy="288.5"/><circle cx="1456.5" cy="92.5"/><circle cx="1433.3" cy="236.1"/><circle cx="1478.5" cy="159.5"/><circle cx="1383.5" cy="258.4"/><circle cx="1338.2" cy="275.8"/><circle cx="1348.0" cy="279.3"/><circle cx="1340.5" cy="253.8"/><circle cx="1309.6" cy="255.0"/><circle cx="1558.1" cy="219.3"/><circle cx="1432.6" cy="286.1"/><circle cx="1497.5" cy="136.6"/><circle cx="1488.8" cy="191.2"/><circle cx="1463.4" cy="186.7"/><circle cx="1303.2" cy="278.7"/><circle cx="1471.3" cy="206.7"/><circle cx="1373.9" cy="249.4"/><circle cx="1515.1" cy="154.2"/><circle cx="1336.8" cy="266.1"/><circle cx="1459.3" cy="189.2"/><circle cx="1495.9" cy="161.8"/><circle cx="1307.2" cy="279.6"/><circle cx="1283.5" cy="279.0"/><circle cx="1432.0" cy="188.1"/><circle cx="1397.0" cy="268.1"/><circle cx="1341.6" cy="272.4"/><circle cx="1349.3" cy="273.8"/><circle cx="1303.5" cy="253.9"/><circle cx="1498.2" cy="232.0"/><circle cx="1462.9" cy="275.1"/><circle cx="1346.2" cy="260.3"/><circle cx="1432.5" cy="201.2"/><circle cx="1485.3" cy="209.1"/><circle cx="1439.0" cy="220.0"/><circle cx="1323.8" cy="246.1"/><circle cx="1320.3" cy="208.2"/><circle cx="1295.3" cy="285.7"/><circle cx="1426.5" cy="240.4"/><circle cx="1454.6" cy="203.2"/><circle cx="1325.0" cy="266.8"/><circle cx="1391.5" cy="267.6"/><circle cx="1337.9" cy="284.8"/><circle cx="1282.3" cy="277.9"/><circle cx="1384.6" cy="282.5"/><circle cx="1406.4" cy="282.6"/><circle cx="1548.4" cy="162.3"/><circle cx="1407.9" cy="193.4"/><circle cx="1407.8" cy="196.8"/><circle cx="1379.8" cy="271.7"/><circle cx="1422.5" cy="229.9"/><circle cx="1546.7" cy="162.7"/><circle cx="1323.7" cy="278.6"/><circle cx="1449.9" cy="263.2"/><circle cx="1351.4" cy="275.7"/><circle cx="1317.1" cy="276.1"/><circle cx="1546.8" cy="248.8"/><circle cx="1346.9" cy="284.7"/><circle cx="1287.0" cy="280.0"/><circle cx="1426.6" cy="180.1"/><circle cx="1381.4" cy="247.3"/><circle cx="1440.2" cy="168.4"/><circle cx="1499.9" cy="187.7"/><circle cx="1295.3" cy="275.4"/><circle cx="1289.3" cy="261.6"/><circle cx="1313.2" cy="265.9"/><circle cx="1482.7" cy="210.8"/><circle cx="1424.2" cy="194.4"/><circle cx="1289.5" cy="233.5"/><circle cx="1299.6" cy="284.3"/><circle cx="1555.6" cy="266.4"/><circle cx="1327.6" cy="261.4"/><circle cx="1544.5" cy="163.4"/><circle cx="1282.0" cy="270.4"/><circle cx="1333.3" cy="271.9"/></g>
<g class="b" fill="#33A02C" fill-opacity="0.66" stroke="#33A02C" stroke-opacity="0.75" stroke-width="1.3"><circle cx="1558.1" cy="149.3"/><circle cx="1497.5" cy="211.0"/><circle cx="1364.5" cy="287.6"/><circle cx="1454.1" cy="229.8"/><circle cx="1692.1" cy="146.9"/><circle cx="1374.4" cy="265.2"/><circle cx="1578.4" cy="255.5"/><circle cx="1408.6" cy="231.8"/><circle cx="1411.0" cy="284.4"/><circle cx="1415.6" cy="279.2"/><circle cx="1467.3" cy="210.2"/><circle cx="1582.2" cy="135.5"/><circle cx="1455.4" cy="213.8"/><circle cx="1317.3" cy="259.7"/><circle cx="1383.3" cy="235.9"/><circle cx="1457.3" cy="273.3"/><circle cx="1352.9" cy="256.9"/><circle cx="1359.7" cy="274.4"/><circle cx="1613.8" cy="218.1"/><circle cx="1464.6" cy="172.4"/><circle cx="1379.3" cy="220.2"/><circle cx="1506.6" cy="158.4"/><circle cx="1374.9" cy="244.6"/><circle cx="1367.8" cy="274.4"/><circle cx="1383.9" cy="263.6"/><circle cx="1388.5" cy="267.7"/><circle cx="1346.4" cy="280.9"/><circle cx="1445.5" cy="227.1"/><circle cx="1467.9" cy="186.0"/><circle cx="1435.3" cy="258.1"/><circle cx="1480.0" cy="189.2"/><circle cx="1368.4" cy="219.2"/><circle cx="1370.9" cy="244.9"/><circle cx="1329.3" cy="250.2"/><circle cx="1520.0" cy="229.0"/><circle cx="1376.6" cy="279.0"/><circle cx="1503.9" cy="188.4"/><circle cx="1439.0" cy="237.6"/><circle cx="1416.8" cy="263.7"/><circle cx="1505.6" cy="245.0"/><circle cx="1457.1" cy="185.8"/><circle cx="1481.7" cy="233.0"/><circle cx="1356.1" cy="266.7"/><circle cx="1477.8" cy="263.9"/><circle cx="1429.2" cy="231.9"/><circle cx="1528.9" cy="274.0"/><circle cx="1449.6" cy="201.7"/><circle cx="1452.9" cy="193.5"/><circle cx="1489.7" cy="263.0"/><circle cx="1387.5" cy="251.2"/><circle cx="1454.0" cy="190.2"/><circle cx="1359.9" cy="220.8"/><circle cx="1479.4" cy="242.9"/><circle cx="1465.2" cy="189.0"/><circle cx="1517.5" cy="278.8"/><circle cx="1461.6" cy="210.7"/><circle cx="1334.5" cy="285.1"/><circle cx="1419.1" cy="227.1"/><circle cx="1422.7" cy="276.1"/><circle cx="1347.0" cy="272.3"/><circle cx="1418.4" cy="260.5"/><circle cx="1479.2" cy="205.7"/><circle cx="1361.8" cy="248.6"/><circle cx="1357.6" cy="275.5"/><circle cx="1570.9" cy="217.5"/><circle cx="1410.9" cy="246.2"/><circle cx="1490.9" cy="211.7"/><circle cx="1421.2" cy="269.1"/><circle cx="1377.7" cy="219.9"/><circle cx="1511.1" cy="237.5"/><circle cx="1501.7" cy="215.9"/><circle cx="1359.6" cy="242.6"/><circle cx="1536.6" cy="216.7"/><circle cx="1423.0" cy="218.2"/><circle cx="1507.9" cy="251.1"/><circle cx="1362.2" cy="286.7"/><circle cx="1495.4" cy="209.7"/><circle cx="1424.8" cy="256.8"/><circle cx="1385.5" cy="260.7"/><circle cx="1436.5" cy="237.0"/><circle cx="1463.2" cy="254.4"/><circle cx="1439.1" cy="252.9"/><circle cx="1401.4" cy="232.2"/><circle cx="1456.7" cy="183.7"/><circle cx="1519.6" cy="156.5"/><circle cx="1418.9" cy="236.8"/><circle cx="1374.5" cy="227.1"/><circle cx="1449.0" cy="265.6"/><circle cx="1373.9" cy="244.9"/><circle cx="1366.1" cy="217.4"/><circle cx="1543.2" cy="206.7"/><circle cx="1323.1" cy="255.4"/><circle cx="1414.8" cy="258.8"/><circle cx="1443.5" cy="258.2"/><circle cx="1427.0" cy="218.7"/><circle cx="1328.7" cy="283.7"/><circle cx="1459.6" cy="197.2"/><circle cx="1359.8" cy="270.9"/><circle cx="1406.4" cy="232.8"/><circle cx="1403.8" cy="267.2"/><circle cx="1313.3" cy="278.6"/><circle cx="1511.1" cy="258.1"/><circle cx="1471.3" cy="206.4"/><circle cx="1300.8" cy="284.4"/><circle cx="1364.7" cy="263.4"/><circle cx="1483.0" cy="216.8"/><circle cx="1530.2" cy="179.7"/><circle cx="1413.1" cy="225.5"/><circle cx="1459.0" cy="214.7"/><circle cx="1508.4" cy="202.2"/><circle cx="1613.0" cy="185.2"/><circle cx="1416.4" cy="218.8"/><circle cx="1503.3" cy="172.8"/><circle cx="1369.5" cy="271.1"/><circle cx="1446.1" cy="229.0"/><circle cx="1381.9" cy="284.8"/><circle cx="1304.5" cy="276.8"/><circle cx="1366.7" cy="266.2"/><circle cx="1375.9" cy="257.5"/><circle cx="1454.2" cy="209.9"/><circle cx="1421.7" cy="269.2"/><circle cx="1453.5" cy="224.2"/><circle cx="1491.5" cy="265.4"/><circle cx="1335.7" cy="243.3"/><circle cx="1349.9" cy="268.4"/><circle cx="1607.8" cy="220.1"/><circle cx="1415.3" cy="239.7"/><circle cx="1475.3" cy="234.5"/><circle cx="1457.8" cy="237.3"/><circle cx="1537.3" cy="183.4"/><circle cx="1486.4" cy="242.9"/><circle cx="1413.8" cy="222.1"/><circle cx="1369.2" cy="224.6"/><circle cx="1589.7" cy="170.8"/><circle cx="1353.3" cy="235.4"/><circle cx="1320.2" cy="283.5"/><circle cx="1494.0" cy="241.2"/><circle cx="1348.8" cy="264.5"/><circle cx="1398.2" cy="259.6"/><circle cx="1368.2" cy="272.0"/><circle cx="1384.0" cy="225.5"/><circle cx="1518.0" cy="187.3"/><circle cx="1562.7" cy="245.6"/><circle cx="1543.9" cy="255.5"/><circle cx="1360.4" cy="234.5"/><circle cx="1329.4" cy="249.4"/><circle cx="1521.6" cy="256.5"/><circle cx="1421.1" cy="220.1"/><circle cx="1469.5" cy="247.4"/><circle cx="1540.8" cy="207.9"/><circle cx="1519.2" cy="171.3"/><circle cx="1373.1" cy="274.4"/><circle cx="1560.4" cy="169.6"/><circle cx="1519.8" cy="248.9"/><circle cx="1477.7" cy="226.3"/><circle cx="1590.5" cy="144.2"/><circle cx="1498.7" cy="193.6"/><circle cx="1373.1" cy="234.1"/><circle cx="1486.2" cy="252.3"/><circle cx="1527.7" cy="146.4"/><circle cx="1433.2" cy="246.6"/><circle cx="1367.3" cy="254.6"/><circle cx="1355.2" cy="240.3"/><circle cx="1503.8" cy="215.4"/><circle cx="1446.8" cy="239.8"/><circle cx="1479.8" cy="180.1"/><circle cx="1526.7" cy="202.6"/><circle cx="1470.4" cy="235.4"/><circle cx="1412.0" cy="273.5"/><circle cx="1391.9" cy="264.1"/><circle cx="1420.3" cy="216.6"/><circle cx="1370.9" cy="250.9"/><circle cx="1476.8" cy="190.4"/><circle cx="1506.9" cy="287.9"/><circle cx="1378.6" cy="260.2"/><circle cx="1529.4" cy="263.8"/><circle cx="1558.6" cy="167.2"/><circle cx="1427.1" cy="238.6"/><circle cx="1357.8" cy="251.2"/><circle cx="1366.9" cy="255.6"/><circle cx="1462.5" cy="268.3"/><circle cx="1528.0" cy="174.7"/><circle cx="1373.6" cy="272.6"/><circle cx="1462.5" cy="217.2"/><circle cx="1405.8" cy="271.9"/><circle cx="1428.7" cy="150.3"/><circle cx="1360.6" cy="272.1"/><circle cx="1375.5" cy="251.5"/><circle cx="1429.1" cy="277.1"/><circle cx="1447.0" cy="273.4"/><circle cx="1381.9" cy="235.4"/><circle cx="1366.3" cy="272.6"/><circle cx="1485.1" cy="263.0"/><circle cx="1424.5" cy="281.9"/><circle cx="1469.0" cy="186.5"/><circle cx="1375.6" cy="274.2"/><circle cx="1542.0" cy="232.5"/><circle cx="1542.9" cy="237.0"/><circle cx="1428.6" cy="255.2"/><circle cx="1528.3" cy="213.5"/><circle cx="1366.2" cy="254.9"/><circle cx="1461.7" cy="186.1"/><circle cx="1411.5" cy="281.0"/><circle cx="1374.9" cy="224.7"/><circle cx="1393.7" cy="226.9"/><circle cx="1486.3" cy="172.7"/><circle cx="1320.8" cy="234.4"/><circle cx="1532.3" cy="256.2"/><circle cx="1477.0" cy="205.7"/><circle cx="1529.5" cy="279.2"/><circle cx="1428.1" cy="246.5"/><circle cx="1367.1" cy="287.8"/><circle cx="1361.0" cy="267.7"/><circle cx="1394.3" cy="240.1"/><circle cx="1502.7" cy="219.2"/><circle cx="1418.4" cy="212.4"/><circle cx="1579.9" cy="203.1"/><circle cx="1370.8" cy="270.7"/><circle cx="1351.3" cy="289.7"/><circle cx="1488.8" cy="269.5"/><circle cx="1448.6" cy="255.5"/><circle cx="1358.9" cy="278.3"/><circle cx="1526.5" cy="124.5"/><circle cx="1410.3" cy="253.2"/><circle cx="1462.9" cy="224.1"/><circle cx="1494.6" cy="256.6"/><circle cx="1469.5" cy="247.8"/><circle cx="1504.9" cy="193.3"/><circle cx="1518.1" cy="177.2"/><circle cx="1459.6" cy="223.0"/><circle cx="1526.9" cy="184.5"/><circle cx="1527.0" cy="200.7"/><circle cx="1569.4" cy="179.8"/><circle cx="1494.3" cy="168.0"/><circle cx="1464.9" cy="227.0"/><circle cx="1468.3" cy="273.3"/><circle cx="1497.2" cy="184.1"/><circle cx="1323.6" cy="263.5"/><circle cx="1458.6" cy="281.6"/><circle cx="1476.7" cy="194.4"/><circle cx="1367.0" cy="262.0"/><circle cx="1479.2" cy="212.4"/><circle cx="1407.6" cy="285.5"/><circle cx="1699.6" cy="190.1"/><circle cx="1538.2" cy="193.5"/><circle cx="1471.4" cy="190.1"/><circle cx="1447.5" cy="236.1"/><circle cx="1420.2" cy="234.2"/><circle cx="1475.7" cy="186.1"/><circle cx="1548.9" cy="205.4"/><circle cx="1291.0" cy="260.9"/><circle cx="1420.7" cy="211.7"/><circle cx="1422.4" cy="252.8"/><circle cx="1367.0" cy="253.9"/><circle cx="1521.3" cy="206.0"/><circle cx="1358.5" cy="211.7"/><circle cx="1449.0" cy="229.6"/><circle cx="1606.3" cy="190.5"/><circle cx="1423.0" cy="264.3"/><circle cx="1376.9" cy="251.5"/><circle cx="1351.8" cy="237.2"/><circle cx="1357.8" cy="254.1"/><circle cx="1488.6" cy="235.5"/><circle cx="1382.8" cy="239.2"/><circle cx="1472.7" cy="230.3"/><circle cx="1510.7" cy="221.8"/><circle cx="1455.5" cy="230.7"/><circle cx="1461.4" cy="265.4"/><circle cx="1443.9" cy="208.7"/><circle cx="1324.5" cy="246.9"/><circle cx="1375.9" cy="248.9"/><circle cx="1526.6" cy="219.8"/><circle cx="1408.5" cy="232.0"/><circle cx="1367.8" cy="262.7"/><circle cx="1351.2" cy="270.3"/><circle cx="1364.9" cy="251.3"/><circle cx="1451.2" cy="233.5"/><circle cx="1473.0" cy="230.4"/><circle cx="1446.5" cy="193.5"/><circle cx="1606.3" cy="174.1"/><circle cx="1472.7" cy="229.3"/><circle cx="1561.9" cy="185.8"/><circle cx="1539.9" cy="225.0"/><circle cx="1449.6" cy="203.2"/><circle cx="1412.9" cy="237.7"/><circle cx="1478.6" cy="200.0"/><circle cx="1369.5" cy="235.2"/></g>
<line x1="1793.0" y1="133.2" x2="1231.3" y2="286.0" stroke="#000" stroke-width="1.6" stroke-dasharray="7.8 7.25"/>
<text x="1784.5" y="244.2" font-size="20.5" text-anchor="end" font-style="italic" fill="#000">R² = 0.47</text>
<text x="1773.0" y="273.2" font-size="20.3" text-anchor="end" font-style="italic" fill="#000">Moran’s I = 0.002 (ns)</text>
<text x="1509.5" y="340.2" font-size="19.5" text-anchor="middle" fill="#000">Predicted Species</text>
<text x="1512.0" y="361.8" font-size="19.5" text-anchor="middle" fill="#000">&#160;Richness Index</text>
<text x="1157.5" y="190.3" font-size="19.5" text-anchor="middle" transform="rotate(-90 1157.5 190.3)" fill="#000">Observed Species</text>
<text x="1179.0" y="190.3" font-size="19.5" text-anchor="middle" transform="rotate(-90 1179.0 190.3)" fill="#000">&#160;Richness Index</text>
<text x="1290.0" y="417.3" font-size="19.5" fill="#000">Formation</text>
<circle cx="1403" cy="410.4" r="4.5" fill="#33A02C" fill-opacity="0.66" stroke="#33A02C" stroke-opacity="0.75" stroke-width="1.3"/>
<text x="1428.3" y="415.8" font-size="15.8" fill="#000">Forest Formation</text>
<circle cx="1572.6" cy="410.4" r="4.5" fill="#EFA427" fill-opacity="0.66" stroke="#EFA427" stroke-opacity="0.7" stroke-width="1.3"/>
<text x="1598.0" y="415.8" font-size="15.7" fill="#000">Savanna Formation</text>
<text x="1125.0" y="474.4" font-size="24" fill="#000">C</text>
<text x="1231.3" y="494.4" font-size="23.5" fill="#000">Predict Tree Species Richness</text>
<text x="1221.5" y="720.5" font-size="15" text-anchor="end" fill="#4d4d4d">0</text>
<text x="1221.5" y="670.5" font-size="15" text-anchor="end" fill="#4d4d4d">250</text>
<text x="1221.5" y="620.4" font-size="15" text-anchor="end" fill="#4d4d4d">500</text>
<text x="1221.5" y="570.4" font-size="15" text-anchor="end" fill="#4d4d4d">750</text>
<text x="1221.5" y="520.3" font-size="15" text-anchor="end" fill="#4d4d4d">1000</text>
<text x="1354.1" y="744.6" font-size="15" text-anchor="middle" fill="#4d4d4d">20</text>
<text x="1528.3" y="744.6" font-size="15" text-anchor="middle" fill="#4d4d4d">40</text>
<text x="1702.5" y="744.6" font-size="15" text-anchor="middle" fill="#4d4d4d">60</text>
<line x1="1231.3" x2="1793.0" y1="690.5" y2="690.5" stroke="#ededed" stroke-width="1.0"/>
<line x1="1231.3" x2="1793.0" y1="640.4" y2="640.4" stroke="#ededed" stroke-width="1.0"/>
<line x1="1231.3" x2="1793.0" y1="590.4" y2="590.4" stroke="#ededed" stroke-width="1.0"/>
<line x1="1231.3" x2="1793.0" y1="540.3" y2="540.3" stroke="#ededed" stroke-width="1.0"/>
<line y1="508.0" y2="725.3" x1="1267.0" x2="1267.0" stroke="#ededed" stroke-width="1.0"/>
<line y1="508.0" y2="725.3" x1="1441.2" x2="1441.2" stroke="#ededed" stroke-width="1.0"/>
<line y1="508.0" y2="725.3" x1="1615.4" x2="1615.4" stroke="#ededed" stroke-width="1.0"/>
<line y1="508.0" y2="725.3" x1="1789.6" x2="1789.6" stroke="#ededed" stroke-width="1.0"/>
<line x1="1231.3" x2="1793.0" y1="715.5" y2="715.5" stroke="#e9e9e9" stroke-width="1.6"/>
<line x1="1231.3" x2="1793.0" y1="665.5" y2="665.5" stroke="#e9e9e9" stroke-width="1.6"/>
<line x1="1231.3" x2="1793.0" y1="615.4" y2="615.4" stroke="#e9e9e9" stroke-width="1.6"/>
<line x1="1231.3" x2="1793.0" y1="565.4" y2="565.4" stroke="#e9e9e9" stroke-width="1.6"/>
<line x1="1231.3" x2="1793.0" y1="515.3" y2="515.3" stroke="#e9e9e9" stroke-width="1.6"/>
<line y1="508.0" y2="725.3" x1="1354.1" x2="1354.1" stroke="#e9e9e9" stroke-width="1.6"/>
<line y1="508.0" y2="725.3" x1="1528.3" x2="1528.3" stroke="#e9e9e9" stroke-width="1.6"/>
<line y1="508.0" y2="725.3" x1="1702.5" x2="1702.5" stroke="#e9e9e9" stroke-width="1.6"/>
<rect x="1291.46" y="713.9" width="17.03" height="1.6" fill="#4DAF4A" fill-opacity="0.6" stroke="#fdfdfd" stroke-width="1.5"/>
<rect x="1308.49" y="683.7" width="17.03" height="31.8" fill="#4DAF4A" fill-opacity="0.6" stroke="#fdfdfd" stroke-width="1.5"/>
<rect x="1325.52" y="669.7" width="17.03" height="45.8" fill="#4DAF4A" fill-opacity="0.6" stroke="#fdfdfd" stroke-width="1.5"/>
<rect x="1342.55" y="639.8" width="17.03" height="75.7" fill="#4DAF4A" fill-opacity="0.6" stroke="#fdfdfd" stroke-width="1.5"/>
<rect x="1359.58" y="676.7" width="17.03" height="38.8" fill="#4DAF4A" fill-opacity="0.6" stroke="#fdfdfd" stroke-width="1.5"/>
<rect x="1376.61" y="666.9" width="17.03" height="48.6" fill="#4DAF4A" fill-opacity="0.6" stroke="#fdfdfd" stroke-width="1.5"/>
<rect x="1393.64" y="664.0" width="17.03" height="51.5" fill="#4DAF4A" fill-opacity="0.6" stroke="#fdfdfd" stroke-width="1.5"/>
<rect x="1410.67" y="653.6" width="17.03" height="61.9" fill="#4DAF4A" fill-opacity="0.6" stroke="#fdfdfd" stroke-width="1.5"/>
<rect x="1427.70" y="648.0" width="17.03" height="67.5" fill="#4DAF4A" fill-opacity="0.6" stroke="#fdfdfd" stroke-width="1.5"/>
<rect x="1444.73" y="608.4" width="17.03" height="107.1" fill="#4DAF4A" fill-opacity="0.6" stroke="#fdfdfd" stroke-width="1.5"/>
<rect x="1461.76" y="623.4" width="17.03" height="92.1" fill="#4DAF4A" fill-opacity="0.6" stroke="#fdfdfd" stroke-width="1.5"/>
<rect x="1478.79" y="630.2" width="17.03" height="85.3" fill="#4DAF4A" fill-opacity="0.6" stroke="#fdfdfd" stroke-width="1.5"/>
<rect x="1495.82" y="671.1" width="17.03" height="44.4" fill="#4DAF4A" fill-opacity="0.6" stroke="#fdfdfd" stroke-width="1.5"/>
<rect x="1512.85" y="665.0" width="17.03" height="50.5" fill="#4DAF4A" fill-opacity="0.6" stroke="#fdfdfd" stroke-width="1.5"/>
<rect x="1529.88" y="681.3" width="17.03" height="34.2" fill="#4DAF4A" fill-opacity="0.6" stroke="#fdfdfd" stroke-width="1.5"/>
<rect x="1546.91" y="685.1" width="17.03" height="30.4" fill="#4DAF4A" fill-opacity="0.6" stroke="#fdfdfd" stroke-width="1.5"/>
<rect x="1563.94" y="692.7" width="17.03" height="22.8" fill="#4DAF4A" fill-opacity="0.6" stroke="#fdfdfd" stroke-width="1.5"/>
<rect x="1580.97" y="703.7" width="17.03" height="11.8" fill="#4DAF4A" fill-opacity="0.6" stroke="#fdfdfd" stroke-width="1.5"/>
<rect x="1598.00" y="708.5" width="17.03" height="7.0" fill="#4DAF4A" fill-opacity="0.6" stroke="#fdfdfd" stroke-width="1.5"/>
<rect x="1615.03" y="711.5" width="17.03" height="4.0" fill="#4DAF4A" fill-opacity="0.6" stroke="#fdfdfd" stroke-width="1.5"/>
<rect x="1632.06" y="714.7" width="17.03" height="0.8" fill="#4DAF4A" fill-opacity="0.6" stroke="#fdfdfd" stroke-width="1.5"/>
<rect x="1649.09" y="712.3" width="17.03" height="3.2" fill="#4DAF4A" fill-opacity="0.6" stroke="#fdfdfd" stroke-width="1.5"/>
<rect x="1666.12" y="713.3" width="17.03" height="2.2" fill="#4DAF4A" fill-opacity="0.6" stroke="#fdfdfd" stroke-width="1.5"/>
<rect x="1683.15" y="713.9" width="17.03" height="1.6" fill="#4DAF4A" fill-opacity="0.6" stroke="#fdfdfd" stroke-width="1.5"/>
<rect x="1700.18" y="714.9" width="17.03" height="0.6" fill="#4DAF4A" fill-opacity="0.6" stroke="#fdfdfd" stroke-width="1.5"/>
<rect x="1717.21" y="715.1" width="17.03" height="0.4" fill="#4DAF4A" fill-opacity="0.6" stroke="#fdfdfd" stroke-width="1.5"/>
<rect x="1734.24" y="715.1" width="17.03" height="0.4" fill="#4DAF4A" fill-opacity="0.6" stroke="#fdfdfd" stroke-width="1.5"/>
<rect x="1751.27" y="714.7" width="17.03" height="0.8" fill="#4DAF4A" fill-opacity="0.6" stroke="#fdfdfd" stroke-width="1.5"/>
<rect x="1257.40" y="711.7" width="17.03" height="3.8" fill="#E6B030" fill-opacity="0.6" stroke="#fdfdfd" stroke-width="1.5"/>
<rect x="1274.43" y="670.7" width="17.03" height="44.8" fill="#E6B030" fill-opacity="0.6" stroke="#fdfdfd" stroke-width="1.5"/>
<rect x="1291.46" y="613.0" width="17.03" height="102.5" fill="#E6B030" fill-opacity="0.6" stroke="#fdfdfd" stroke-width="1.5"/>
<rect x="1308.49" y="539.1" width="17.03" height="176.4" fill="#E6B030" fill-opacity="0.6" stroke="#fdfdfd" stroke-width="1.5"/>
<rect x="1325.52" y="575.2" width="17.03" height="140.3" fill="#E6B030" fill-opacity="0.6" stroke="#fdfdfd" stroke-width="1.5"/>
<rect x="1342.55" y="614.4" width="17.03" height="101.1" fill="#E6B030" fill-opacity="0.6" stroke="#fdfdfd" stroke-width="1.5"/>
<rect x="1359.58" y="644.0" width="17.03" height="71.5" fill="#E6B030" fill-opacity="0.6" stroke="#fdfdfd" stroke-width="1.5"/>
<rect x="1376.61" y="666.3" width="17.03" height="49.2" fill="#E6B030" fill-opacity="0.6" stroke="#fdfdfd" stroke-width="1.5"/>
<rect x="1393.64" y="608.4" width="17.03" height="107.1" fill="#E6B030" fill-opacity="0.6" stroke="#fdfdfd" stroke-width="1.5"/>
<rect x="1410.67" y="626.0" width="17.03" height="89.5" fill="#E6B030" fill-opacity="0.6" stroke="#fdfdfd" stroke-width="1.5"/>
<rect x="1427.70" y="583.2" width="17.03" height="132.3" fill="#E6B030" fill-opacity="0.6" stroke="#fdfdfd" stroke-width="1.5"/>
<rect x="1444.73" y="519.1" width="17.03" height="196.4" fill="#E6B030" fill-opacity="0.6" stroke="#fdfdfd" stroke-width="1.5"/>
<rect x="1461.76" y="522.3" width="17.03" height="193.2" fill="#E6B030" fill-opacity="0.6" stroke="#fdfdfd" stroke-width="1.5"/>
<rect x="1478.79" y="594.4" width="17.03" height="121.1" fill="#E6B030" fill-opacity="0.6" stroke="#fdfdfd" stroke-width="1.5"/>
<rect x="1495.82" y="639.8" width="17.03" height="75.7" fill="#E6B030" fill-opacity="0.6" stroke="#fdfdfd" stroke-width="1.5"/>
<rect x="1512.85" y="632.2" width="17.03" height="83.3" fill="#E6B030" fill-opacity="0.6" stroke="#fdfdfd" stroke-width="1.5"/>
<rect x="1529.88" y="673.5" width="17.03" height="42.0" fill="#E6B030" fill-opacity="0.6" stroke="#fdfdfd" stroke-width="1.5"/>
<rect x="1546.91" y="683.7" width="17.03" height="31.8" fill="#E6B030" fill-opacity="0.6" stroke="#fdfdfd" stroke-width="1.5"/>
<rect x="1563.94" y="683.7" width="17.03" height="31.8" fill="#E6B030" fill-opacity="0.6" stroke="#fdfdfd" stroke-width="1.5"/>
<rect x="1580.97" y="686.1" width="17.03" height="29.4" fill="#E6B030" fill-opacity="0.6" stroke="#fdfdfd" stroke-width="1.5"/>
<rect x="1598.00" y="704.7" width="17.03" height="10.8" fill="#E6B030" fill-opacity="0.6" stroke="#fdfdfd" stroke-width="1.5"/>
<line x1="1419.3" x2="1419.3" y1="725.3" y2="508.0" stroke="#E69F00" stroke-opacity="0.92" stroke-width="4" stroke-dasharray="15.3 15.3"/>
<line x1="1447.7" x2="1447.7" y1="725.3" y2="508.0" stroke="#33A02C" stroke-opacity="0.95" stroke-width="4" stroke-dasharray="15.3 15.3"/>
<text x="1512.7" y="766.4" font-size="19.6" text-anchor="middle" fill="#000">Predicted Value (Tree Species/ha)</text>
<text x="1157.5" y="616.5" font-size="19.5" text-anchor="middle" transform="rotate(-90 1157.5 616.5)" fill="#000">Frequency</text>
<text x="1823.2" y="588.2" font-size="19.5" fill="#000">Formation</text>
<rect x="1824.4" y="602" width="26.6" height="26" fill="#4DAF4A" fill-opacity="0.6"/>
<rect x="1824.4" y="632.6" width="26.6" height="26" fill="#E6B030" fill-opacity="0.6"/>
<text x="1863.0" y="620.4" font-size="15.8" fill="#000">Forest Formation</text>
<text x="1863.0" y="651.0" font-size="15.8" fill="#000">Savanna Formation</text>
<text transform="translate(1122 817.3) scale(1 1.07)" font-size="30" fill="#000">D</text>
<line x1="1231.3" x2="1792.8" y1="1050.0" y2="1050.0" stroke="#e9e9e9" stroke-width="0.8"/>
<line x1="1231.3" x2="1792.8" y1="1015.2" y2="1015.2" stroke="#e9e9e9" stroke-width="0.8"/>
<line x1="1231.3" x2="1792.8" y1="980.5" y2="980.5" stroke="#e9e9e9" stroke-width="0.8"/>
<line x1="1231.3" x2="1792.8" y1="945.7" y2="945.7" stroke="#e9e9e9" stroke-width="0.8"/>
<line x1="1231.3" x2="1792.8" y1="910.9" y2="910.9" stroke="#e9e9e9" stroke-width="0.8"/>
<line x1="1231.3" x2="1792.8" y1="876.2" y2="876.2" stroke="#e9e9e9" stroke-width="0.8"/>
<line x1="1231.3" x2="1792.8" y1="1067.4" y2="1067.4" stroke="#e9e9e9" stroke-width="1.6"/>
<text x="1219.3" y="1074.4" font-size="19.6" text-anchor="end" fill="#4d4d4d">10</text>
<line x1="1231.3" x2="1792.8" y1="1032.6" y2="1032.6" stroke="#e9e9e9" stroke-width="1.6"/>
<text x="1219.3" y="1039.6" font-size="19.6" text-anchor="end" fill="#4d4d4d">20</text>
<line x1="1231.3" x2="1792.8" y1="997.9" y2="997.9" stroke="#e9e9e9" stroke-width="1.6"/>
<text x="1219.3" y="1004.9" font-size="19.6" text-anchor="end" fill="#4d4d4d">30</text>
<line x1="1231.3" x2="1792.8" y1="963.1" y2="963.1" stroke="#e9e9e9" stroke-width="1.6"/>
<text x="1219.3" y="970.1" font-size="19.6" text-anchor="end" fill="#4d4d4d">40</text>
<line x1="1231.3" x2="1792.8" y1="928.3" y2="928.3" stroke="#e9e9e9" stroke-width="1.6"/>
<text x="1219.3" y="935.3" font-size="19.6" text-anchor="end" fill="#4d4d4d">50</text>
<line x1="1231.3" x2="1792.8" y1="893.6" y2="893.6" stroke="#e9e9e9" stroke-width="1.6"/>
<text x="1219.3" y="900.6" font-size="19.6" text-anchor="end" fill="#4d4d4d">60</text>
<line x1="1272.3" x2="1272.3" y1="912.7" y2="964.5" stroke="#000" stroke-width="1.9"/>
<line x1="1272.3" x2="1272.3" y1="1000.3" y2="1039.2" stroke="#000" stroke-width="1.9"/>
<rect x="1246.5" y="964.5" width="51.6" height="35.8" fill="#1B9E77" fill-opacity="0.25" stroke="#000" stroke-width="1.9"/>
<line x1="1246.5" x2="1298.1" y1="989.2" y2="989.2" stroke="#000" stroke-width="3.6"/>
<g class="d"><rect x="1253.0" y="933.2" width="38.6" height="81.4" rx="2.5" fill="#4bb083"/><g fill="none" stroke="#4bb083" stroke-opacity="0.5" stroke-width="6.6" stroke-linecap="round"><path d="M1256 1011h0M1257 949h0M1260 990h0M1272 957h0M1282 966h0M1263 985h0M1263 945h0M1274 937h0M1285 964h0M1269 1006h0M1274 941h0M1263 1013h0M1256 986h0M1267 946h0M1270 981h0M1261 967h0M1286 968h0M1269 940h0M1266 998h0M1270 983h0M1259 1003h0M1278 967h0M1273 1001h0M1269 947h0M1282 945h0M1258 931h0M1276 981h0M1287 957h0M1264 1000h0M1272 950h0M1272 943h0M1282 1011h0M1256 987h0M1279 1015h0M1278 991h0M1265 934h0M1256 946h0M1281 940h0M1276 1011h0M1268 1011h0M1279 995h0M1287 937h0M1272 992h0M1284 996h0M1269 958h0M1257 945h0M1287 1015h0M1259 1016h0M1287 1009h0M1269 986h0M1267 939h0M1265 988h0"/><path d="M1270 1006h0M1271 970h0M1271 933h0M1256 936h0M1274 1000h0M1285 1009h0M1287 991h0M1276 963h0M1283 1004h0M1270 982h0M1269 977h0M1271 938h0M1280 960h0M1287 948h0M1263 950h0M1259 968h0M1266 972h0M1274 965h0M1264 977h0M1258 1016h0M1261 959h0M1283 931h0M1279 935h0M1278 944h0M1279 997h0M1268 1000h0M1266 935h0M1288 931h0M1261 998h0M1267 936h0M1268 1010h0M1257 980h0M1270 936h0M1263 976h0M1282 989h0M1256 996h0M1273 980h0M1279 961h0M1282 1000h0M1284 940h0M1268 946h0M1272 984h0M1285 949h0M1277 967h0M1287 1000h0M1273 983h0M1257 1004h0M1286 941h0M1273 1000h0M1262 969h0M1276 1013h0M1268 1002h0"/><path d="M1286 969h0M1283 966h0M1278 986h0M1281 1007h0M1284 984h0M1285 954h0M1262 950h0M1272 1008h0M1278 999h0M1289 967h0M1287 981h0M1275 999h0M1289 973h0M1268 935h0M1259 1008h0M1280 954h0M1280 975h0M1278 950h0M1258 992h0M1272 945h0M1258 988h0M1283 1016h0M1268 978h0M1256 993h0M1284 995h0M1287 946h0M1259 977h0M1272 947h0M1269 948h0M1286 1013h0M1263 985h0M1287 978h0M1264 977h0M1284 1012h0M1257 997h0M1282 1003h0M1284 965h0M1258 958h0M1256 1000h0M1273 971h0M1285 935h0M1272 972h0M1269 948h0M1271 940h0M1278 935h0M1257 980h0M1285 1005h0M1283 976h0M1276 994h0M1265 1016h0M1257 979h0M1277 968h0"/><path d="M1264 954h0M1277 998h0M1258 991h0M1256 958h0M1257 988h0M1279 1000h0M1269 968h0M1283 956h0M1266 942h0M1265 974h0M1273 1015h0M1287 937h0M1273 969h0M1264 959h0M1286 996h0M1274 977h0M1280 1011h0M1278 977h0M1283 1010h0M1263 996h0M1266 940h0M1288 974h0M1261 1001h0M1274 944h0M1266 1015h0M1268 932h0M1262 937h0M1261 970h0M1274 996h0M1269 932h0M1256 988h0M1262 968h0M1274 996h0M1280 994h0M1264 997h0M1261 961h0M1279 995h0M1285 976h0M1258 990h0M1260 956h0M1283 953h0M1272 1008h0M1262 932h0M1267 972h0M1269 966h0M1263 985h0M1268 984h0M1285 976h0M1284 958h0M1256 973h0M1261 987h0M1271 960h0"/><path d="M1282 941h0M1265 1004h0M1258 982h0M1264 1013h0M1264 971h0M1259 951h0M1266 944h0M1262 1009h0M1279 993h0M1272 946h0M1272 948h0M1287 983h0M1270 998h0M1285 967h0M1262 987h0M1272 954h0M1263 982h0M1288 1009h0M1266 1014h0M1272 990h0M1263 939h0M1270 967h0M1283 1010h0M1264 973h0M1280 949h0M1268 956h0M1276 961h0M1289 979h0M1285 936h0M1265 972h0M1268 975h0M1264 936h0M1262 954h0M1277 1011h0M1273 1003h0M1274 995h0M1272 953h0M1277 954h0M1262 1002h0M1270 971h0M1278 994h0M1269 1002h0M1287 984h0M1257 972h0M1279 956h0M1258 971h0M1289 972h0M1273 1003h0M1282 960h0M1288 991h0M1262 979h0M1258 1005h0"/></g><g fill="#1B9E77" fill-opacity="0.17" stroke="#1B9E77" stroke-opacity="0.32" stroke-width="0.9"><circle cx="1259.2" cy="1036.2"/><circle cx="1259.2" cy="1029.2"/><circle cx="1288.4" cy="1018.1"/><circle cx="1279.1" cy="1026.2"/><circle cx="1276.2" cy="1017.7"/><circle cx="1274.3" cy="1022.2"/><circle cx="1263.4" cy="1037.6"/><circle cx="1260.8" cy="1024.8"/><circle cx="1275.1" cy="1036.4"/><circle cx="1255.8" cy="1039.2"/><circle cx="1256.4" cy="1025.9"/><circle cx="1267.0" cy="1040.8"/><circle cx="1275.2" cy="1039.7"/><circle cx="1286.7" cy="1031.2"/><circle cx="1270.7" cy="1036.4"/><circle cx="1265.8" cy="1024.3"/><circle cx="1287.6" cy="1034.0"/><circle cx="1265.5" cy="1034.9"/><circle cx="1271.7" cy="1027.2"/><circle cx="1271.5" cy="1027.8"/><circle cx="1257.0" cy="1019.8"/><circle cx="1259.1" cy="1020.4"/><circle cx="1255.8" cy="1017.6"/><circle cx="1282.2" cy="1038.2"/><circle cx="1268.3" cy="1039.6"/><circle cx="1278.4" cy="1022.2"/><circle cx="1270.5" cy="1031.0"/><circle cx="1272.1" cy="1039.6"/><circle cx="1284.5" cy="1027.7"/><circle cx="1268.8" cy="1033.0"/><circle cx="1258.9" cy="1035.6"/><circle cx="1278.0" cy="1024.3"/><circle cx="1256.5" cy="1022.6"/><circle cx="1272.8" cy="1034.5"/><circle cx="1267.9" cy="1024.3"/><circle cx="1269.8" cy="1035.3"/><circle cx="1280.0" cy="1018.8"/><circle cx="1283.7" cy="1031.0"/><circle cx="1287.8" cy="1029.1"/><circle cx="1281.7" cy="1036.8"/><circle cx="1283.0" cy="1029.3"/><circle cx="1287.0" cy="1034.0"/><circle cx="1268.4" cy="1021.4"/><circle cx="1267.0" cy="1037.6"/><circle cx="1256.4" cy="1027.6"/><circle cx="1270.7" cy="1030.9"/><circle cx="1257.4" cy="1018.1"/><circle cx="1262.7" cy="1024.6"/><circle cx="1269.4" cy="1026.9"/><circle cx="1269.3" cy="1037.3"/><circle cx="1281.2" cy="1038.4"/><circle cx="1271.1" cy="1025.8"/><circle cx="1279.2" cy="1017.9"/><circle cx="1256.3" cy="1038.9"/><circle cx="1279.7" cy="1030.4"/><circle cx="1281.1" cy="1031.7"/><circle cx="1255.9" cy="1040.4"/><circle cx="1267.3" cy="1025.3"/><circle cx="1276.9" cy="1029.4"/><circle cx="1260.1" cy="1028.9"/><circle cx="1282.6" cy="1020.2"/><circle cx="1288.2" cy="1025.4"/><circle cx="1281.8" cy="1035.0"/><circle cx="1276.3" cy="1016.9"/><circle cx="1281.8" cy="1017.8"/><circle cx="1287.0" cy="1023.6"/><circle cx="1287.6" cy="1037.9"/><circle cx="1266.7" cy="1025.1"/><circle cx="1277.2" cy="1040.9"/><circle cx="1258.7" cy="1033.8"/><circle cx="1286.3" cy="1030.1"/><circle cx="1257.4" cy="1029.4"/><circle cx="1265.2" cy="1021.2"/><circle cx="1274.8" cy="1027.0"/><circle cx="1263.0" cy="1024.8"/><circle cx="1269.6" cy="1029.7"/><circle cx="1267.3" cy="1022.7"/><circle cx="1277.9" cy="1036.3"/><circle cx="1272.9" cy="1018.5"/><circle cx="1283.4" cy="1020.0"/><circle cx="1276.4" cy="1018.1"/><circle cx="1279.7" cy="1017.2"/><circle cx="1256.0" cy="1021.4"/><circle cx="1278.2" cy="1033.7"/><circle cx="1286.1" cy="1018.1"/><circle cx="1260.1" cy="1020.7"/><circle cx="1281.8" cy="1029.1"/><circle cx="1281.9" cy="1038.5"/><circle cx="1258.3" cy="1016.6"/><circle cx="1276.2" cy="1035.6"/><circle cx="1266.0" cy="1036.6"/><circle cx="1267.9" cy="1027.1"/><circle cx="1288.9" cy="1019.5"/><circle cx="1274.7" cy="1034.2"/><circle cx="1271.5" cy="1035.7"/><circle cx="1282.3" cy="1021.3"/><circle cx="1268.6" cy="1026.8"/><circle cx="1259.9" cy="1026.8"/><circle cx="1288.4" cy="1026.1"/><circle cx="1260.9" cy="1020.7"/><circle cx="1285.8" cy="1021.4"/><circle cx="1288.3" cy="1034.3"/><circle cx="1271.2" cy="1031.9"/><circle cx="1259.5" cy="1016.0"/><circle cx="1271.0" cy="1020.0"/><circle cx="1273.8" cy="1027.4"/><circle cx="1281.9" cy="1033.0"/><circle cx="1289.1" cy="1018.4"/><circle cx="1263.7" cy="1033.9"/><circle cx="1256.6" cy="1029.4"/><circle cx="1288.5" cy="1026.1"/><circle cx="1255.6" cy="1021.8"/><circle cx="1287.8" cy="1023.3"/><circle cx="1285.5" cy="1023.8"/><circle cx="1285.7" cy="1035.8"/><circle cx="1269.0" cy="1032.5"/><circle cx="1262.2" cy="1022.2"/><circle cx="1275.6" cy="1026.5"/><circle cx="1270.0" cy="1018.1"/><circle cx="1279.3" cy="1039.2"/><circle cx="1288.6" cy="1029.2"/><circle cx="1272.1" cy="1019.6"/><circle cx="1265.4" cy="1022.3"/><circle cx="1258.9" cy="1018.9"/><circle cx="1257.8" cy="1020.0"/><circle cx="1288.8" cy="1017.8"/><circle cx="1281.9" cy="1031.6"/><circle cx="1288.4" cy="1029.5"/><circle cx="1284.0" cy="1016.1"/><circle cx="1270.0" cy="1019.8"/><circle cx="1262.0" cy="1016.3"/><circle cx="1273.5" cy="1031.6"/><circle cx="1263.5" cy="1022.8"/><circle cx="1260.9" cy="1032.4"/><circle cx="1274.2" cy="1029.7"/><circle cx="1274.7" cy="1031.7"/><circle cx="1288.6" cy="1029.1"/><circle cx="1282.5" cy="1027.8"/><circle cx="1256.1" cy="1031.3"/><circle cx="1261.3" cy="1020.4"/><circle cx="1274.3" cy="1021.6"/><circle cx="1279.3" cy="1019.8"/><circle cx="1288.7" cy="1014.3"/><circle cx="1274.0" cy="1027.3"/><circle cx="1271.3" cy="1028.1"/><circle cx="1255.9" cy="1026.9"/><circle cx="1270.1" cy="1017.3"/><circle cx="1284.5" cy="1020.4"/><circle cx="1257.5" cy="1018.5"/><circle cx="1273.1" cy="1028.2"/><circle cx="1287.4" cy="1030.1"/><circle cx="1287.8" cy="1023.8"/><circle cx="1256.1" cy="1015.7"/><circle cx="1265.8" cy="1027.8"/><circle cx="1262.0" cy="1018.3"/><circle cx="1288.5" cy="1019.4"/><circle cx="1282.3" cy="1025.8"/><circle cx="1264.5" cy="1019.5"/><circle cx="1268.5" cy="1015.3"/><circle cx="1278.2" cy="1028.7"/><circle cx="1256.3" cy="1027.7"/><circle cx="1261.1" cy="1025.3"/><circle cx="1282.0" cy="1028.9"/><circle cx="1265.8" cy="1025.1"/><circle cx="1263.5" cy="1018.9"/><circle cx="1286.1" cy="1016.6"/><circle cx="1279.7" cy="1020.2"/><circle cx="1284.3" cy="1022.5"/><circle cx="1281.8" cy="1015.3"/><circle cx="1272.8" cy="1029.1"/><circle cx="1278.9" cy="914.2"/><circle cx="1268.3" cy="923.1"/><circle cx="1287.0" cy="932.0"/><circle cx="1262.0" cy="931.2"/><circle cx="1264.1" cy="927.1"/><circle cx="1259.4" cy="931.7"/><circle cx="1270.8" cy="928.9"/><circle cx="1278.6" cy="931.1"/><circle cx="1265.3" cy="929.5"/><circle cx="1285.6" cy="930.4"/><circle cx="1282.4" cy="923.3"/><circle cx="1264.6" cy="914.7"/><circle cx="1275.8" cy="915.6"/><circle cx="1277.6" cy="921.1"/><circle cx="1260.1" cy="931.2"/><circle cx="1277.3" cy="912.1"/><circle cx="1276.5" cy="931.1"/><circle cx="1284.8" cy="932.2"/><circle cx="1265.5" cy="916.4"/><circle cx="1260.1" cy="919.0"/><circle cx="1273.8" cy="916.2"/><circle cx="1284.3" cy="926.6"/><circle cx="1259.5" cy="913.2"/><circle cx="1262.5" cy="913.7"/><circle cx="1259.0" cy="931.5"/><circle cx="1288.7" cy="911.9"/><circle cx="1281.0" cy="915.9"/><circle cx="1258.6" cy="914.1"/><circle cx="1271.6" cy="891.7"/><circle cx="1282.2" cy="903.3"/><circle cx="1286.1" cy="907.1"/><circle cx="1285.6" cy="881.5"/><circle cx="1264.8" cy="887.5"/><circle cx="1261.2" cy="889.6"/><circle cx="1277.3" cy="901.8"/><circle cx="1270.4" cy="895.9"/><circle cx="1284.4" cy="879.4"/><circle cx="1270.7" cy="901.6"/><circle cx="1260.8" cy="895.4"/><circle cx="1268.1" cy="907.4"/><circle cx="1287.8" cy="897.0"/><circle cx="1279.0" cy="907.9"/><circle cx="1261.1" cy="883.3"/><circle cx="1261.8" cy="875.2"/><circle cx="1268.5" cy="908.2"/><circle cx="1287.1" cy="898.0"/><circle cx="1272.9" cy="876.8"/><circle cx="1264.6" cy="906.6"/><circle cx="1262.6" cy="881.9"/><circle cx="1263.8" cy="907.0"/></g></g>
<text x="1281.6" y="1100.5" font-size="19.7" text-anchor="end" transform="rotate(-40 1281.6 1100.5)" fill="#4d4d4d">Central-west (CW)</text>
<line x1="1340.8" x2="1340.8" y1="946.7" y2="961.7" stroke="#000" stroke-width="1.9"/>
<line x1="1340.8" x2="1340.8" y1="977.0" y2="990.2" stroke="#000" stroke-width="1.9"/>
<rect x="1315.0" y="961.7" width="51.6" height="15.3" fill="#D95F02" fill-opacity="0.25" stroke="#000" stroke-width="1.9"/>
<line x1="1315.0" x2="1366.6" y1="969.0" y2="969.0" stroke="#000" stroke-width="3.6"/>
<g class="d"><g fill="none" stroke="#dc6a1c" stroke-opacity="0.3" stroke-width="6.6" stroke-linecap="round"><path d="M1325 972h0M1338 962h0M1352 963h0M1339 959h0M1340 973h0M1345 968h0M1352 956h0M1335 969h0M1347 959h0M1349 971h0M1354 967h0M1341 966h0M1353 964h0M1334 968h0M1324 961h0M1335 958h0M1342 966h0M1347 957h0M1355 968h0M1329 974h0M1342 977h0M1352 976h0M1327 974h0M1337 958h0M1350 963h0M1349 981h0M1325 960h0M1335 971h0M1338 969h0M1341 980h0M1330 970h0M1341 983h0M1341 970h0M1335 966h0M1337 979h0M1357 974h0M1349 977h0M1348 978h0M1349 976h0M1324 979h0M1357 975h0M1350 972h0M1349 965h0M1330 967h0M1350 973h0M1351 960h0M1352 958h0M1335 973h0M1330 959h0M1337 963h0M1353 973h0M1335 969h0"/><path d="M1342 978h0M1336 974h0M1324 964h0M1354 965h0M1346 965h0M1332 975h0M1356 977h0M1329 962h0M1328 970h0M1349 959h0M1345 979h0M1344 960h0M1353 974h0M1333 968h0M1329 958h0M1345 968h0M1335 976h0M1332 956h0M1326 966h0M1334 971h0M1329 969h0M1328 977h0M1349 970h0M1339 969h0M1346 974h0M1337 972h0M1345 970h0M1351 969h0M1352 974h0M1338 973h0M1325 969h0M1327 973h0M1355 964h0M1332 958h0M1356 975h0M1345 960h0M1355 959h0M1342 962h0M1329 969h0M1356 971h0M1349 963h0M1353 968h0M1343 978h0M1341 972h0M1338 969h0M1324 962h0M1355 968h0M1342 966h0M1348 965h0M1341 970h0M1346 968h0M1330 966h0"/><path d="M1349 970h0M1329 953h0M1344 972h0M1330 978h0M1339 958h0M1351 978h0M1349 976h0M1356 965h0M1350 958h0M1338 968h0M1331 973h0M1324 970h0M1342 967h0M1333 972h0M1339 982h0M1325 980h0M1335 967h0M1333 959h0M1329 976h0M1357 971h0M1326 976h0M1343 963h0M1340 976h0M1357 965h0M1327 953h0M1339 968h0M1336 956h0M1340 978h0M1340 959h0M1353 971h0M1356 972h0M1324 962h0M1328 953h0M1355 959h0M1357 960h0M1343 965h0M1333 980h0M1352 972h0M1346 956h0M1347 965h0M1354 966h0M1347 974h0M1344 963h0M1354 970h0M1326 968h0M1342 962h0M1340 970h0M1331 973h0M1324 968h0M1338 958h0M1349 962h0M1337 970h0"/><path d="M1329 981h0M1344 974h0M1325 968h0M1336 971h0M1340 977h0M1355 977h0M1325 966h0M1331 975h0M1343 974h0M1350 973h0M1338 973h0M1341 963h0M1351 965h0M1344 981h0M1353 977h0M1330 967h0M1339 979h0M1355 970h0M1335 975h0M1328 970h0M1356 981h0M1331 970h0M1336 972h0M1349 964h0M1352 961h0M1329 966h0M1345 967h0M1352 967h0M1330 982h0M1349 981h0M1340 957h0M1354 971h0M1335 965h0M1331 970h0M1339 954h0M1330 954h0M1326 963h0M1327 976h0M1344 969h0M1347 965h0M1357 975h0M1358 970h0M1351 974h0M1355 971h0M1357 968h0M1335 973h0M1355 964h0M1338 975h0M1334 967h0M1339 978h0M1346 971h0M1345 958h0"/><path d="M1325 960h0M1350 959h0M1357 959h0M1351 954h0M1344 956h0M1330 968h0M1352 963h0M1349 961h0M1339 965h0M1354 973h0M1325 972h0M1335 966h0M1356 963h0M1328 966h0M1351 963h0M1346 976h0M1342 963h0M1343 953h0M1327 971h0M1351 975h0M1324 970h0M1357 963h0M1354 968h0M1333 980h0M1328 966h0M1338 968h0M1354 971h0M1336 958h0M1345 963h0M1337 966h0M1348 974h0M1348 965h0M1333 964h0M1331 965h0M1338 967h0M1336 971h0M1338 964h0M1343 963h0M1354 961h0M1330 968h0M1336 959h0M1343 971h0M1333 963h0M1351 958h0M1354 963h0M1344 970h0M1344 960h0M1325 968h0M1345 964h0M1337 963h0M1326 975h0M1337 981h0"/></g><g fill="#D95F02" fill-opacity="0.17" stroke="#D95F02" stroke-opacity="0.32" stroke-width="0.9"><circle cx="1336.5" cy="944.9"/><circle cx="1340.6" cy="991.2"/><circle cx="1326.3" cy="982.0"/><circle cx="1324.3" cy="956.1"/><circle cx="1343.7" cy="986.2"/><circle cx="1333.6" cy="988.4"/><circle cx="1349.9" cy="955.6"/><circle cx="1348.5" cy="946.2"/><circle cx="1335.4" cy="945.0"/><circle cx="1341.9" cy="959.8"/><circle cx="1339.4" cy="965.7"/><circle cx="1349.7" cy="963.4"/><circle cx="1334.9" cy="956.2"/><circle cx="1351.8" cy="978.6"/><circle cx="1347.1" cy="958.9"/><circle cx="1339.9" cy="961.8"/><circle cx="1334.8" cy="989.4"/><circle cx="1343.6" cy="953.5"/><circle cx="1352.8" cy="964.3"/><circle cx="1327.5" cy="980.5"/><circle cx="1354.7" cy="955.9"/><circle cx="1349.6" cy="979.4"/><circle cx="1331.6" cy="970.1"/><circle cx="1324.5" cy="958.8"/><circle cx="1342.1" cy="972.8"/><circle cx="1326.1" cy="966.3"/><circle cx="1355.5" cy="949.5"/><circle cx="1339.2" cy="955.8"/><circle cx="1336.9" cy="971.9"/><circle cx="1324.3" cy="961.7"/><circle cx="1341.1" cy="966.0"/><circle cx="1347.2" cy="952.0"/><circle cx="1343.0" cy="989.9"/><circle cx="1356.0" cy="964.6"/><circle cx="1349.1" cy="951.4"/><circle cx="1347.3" cy="944.5"/><circle cx="1339.0" cy="983.4"/><circle cx="1340.5" cy="991.9"/><circle cx="1342.7" cy="951.3"/><circle cx="1356.5" cy="980.5"/><circle cx="1352.7" cy="979.6"/><circle cx="1328.2" cy="966.4"/><circle cx="1328.4" cy="961.2"/><circle cx="1348.7" cy="955.6"/><circle cx="1333.9" cy="974.1"/><circle cx="1336.2" cy="975.3"/><circle cx="1329.8" cy="948.0"/><circle cx="1325.6" cy="971.1"/><circle cx="1331.0" cy="989.4"/><circle cx="1349.2" cy="965.4"/><circle cx="1344.4" cy="969.4"/><circle cx="1339.4" cy="990.6"/><circle cx="1348.3" cy="977.5"/><circle cx="1346.5" cy="978.0"/><circle cx="1330.8" cy="953.6"/><circle cx="1325.5" cy="959.0"/><circle cx="1324.9" cy="947.4"/><circle cx="1324.9" cy="950.1"/><circle cx="1343.0" cy="948.3"/><circle cx="1330.1" cy="961.9"/><circle cx="1346.9" cy="983.0"/><circle cx="1325.6" cy="971.3"/><circle cx="1344.8" cy="967.9"/><circle cx="1336.6" cy="946.7"/><circle cx="1334.8" cy="951.3"/><circle cx="1352.3" cy="958.7"/><circle cx="1349.6" cy="951.9"/><circle cx="1344.0" cy="988.3"/><circle cx="1357.1" cy="972.5"/><circle cx="1350.6" cy="968.7"/><circle cx="1324.0" cy="967.8"/><circle cx="1341.3" cy="986.1"/><circle cx="1341.7" cy="975.3"/><circle cx="1341.4" cy="954.6"/><circle cx="1350.7" cy="957.3"/><circle cx="1332.6" cy="954.9"/><circle cx="1346.2" cy="971.1"/><circle cx="1356.8" cy="981.6"/><circle cx="1328.1" cy="970.2"/><circle cx="1348.0" cy="946.8"/><circle cx="1346.3" cy="977.1"/><circle cx="1337.9" cy="978.5"/><circle cx="1354.8" cy="957.5"/><circle cx="1326.9" cy="969.0"/><circle cx="1333.6" cy="983.2"/><circle cx="1350.3" cy="970.0"/><circle cx="1353.6" cy="951.9"/><circle cx="1351.3" cy="956.6"/><circle cx="1335.2" cy="969.8"/><circle cx="1339.7" cy="988.2"/><circle cx="1332.6" cy="953.8"/><circle cx="1351.6" cy="965.6"/><circle cx="1355.0" cy="981.2"/><circle cx="1345.8" cy="991.1"/><circle cx="1329.4" cy="986.0"/><circle cx="1345.1" cy="988.0"/><circle cx="1352.5" cy="968.9"/><circle cx="1353.5" cy="976.7"/><circle cx="1340.4" cy="954.8"/><circle cx="1347.8" cy="964.9"/><circle cx="1348.6" cy="957.5"/><circle cx="1334.4" cy="969.9"/><circle cx="1347.3" cy="966.7"/><circle cx="1342.5" cy="952.9"/><circle cx="1341.4" cy="948.0"/><circle cx="1336.9" cy="990.9"/><circle cx="1338.6" cy="956.5"/><circle cx="1337.5" cy="984.6"/><circle cx="1346.2" cy="961.0"/><circle cx="1342.0" cy="964.3"/><circle cx="1343.1" cy="984.3"/><circle cx="1331.4" cy="960.2"/><circle cx="1347.4" cy="977.8"/><circle cx="1339.0" cy="955.7"/><circle cx="1327.2" cy="950.4"/><circle cx="1336.9" cy="970.1"/><circle cx="1331.2" cy="989.2"/><circle cx="1347.9" cy="957.3"/><circle cx="1328.2" cy="950.9"/><circle cx="1326.3" cy="977.6"/><circle cx="1335.8" cy="956.3"/><circle cx="1327.1" cy="959.1"/><circle cx="1344.5" cy="974.4"/><circle cx="1325.4" cy="983.4"/><circle cx="1326.4" cy="975.8"/><circle cx="1334.8" cy="978.9"/><circle cx="1335.0" cy="958.2"/><circle cx="1328.3" cy="965.0"/><circle cx="1348.6" cy="956.6"/><circle cx="1351.7" cy="946.9"/><circle cx="1338.9" cy="952.2"/><circle cx="1344.3" cy="955.9"/><circle cx="1330.6" cy="967.3"/><circle cx="1352.1" cy="959.9"/><circle cx="1326.0" cy="975.5"/><circle cx="1333.1" cy="970.0"/><circle cx="1343.7" cy="986.0"/><circle cx="1326.7" cy="979.8"/><circle cx="1342.5" cy="966.0"/><circle cx="1345.4" cy="983.4"/><circle cx="1337.6" cy="948.5"/><circle cx="1352.8" cy="971.4"/><circle cx="1336.4" cy="962.6"/><circle cx="1336.7" cy="975.4"/><circle cx="1351.3" cy="961.8"/><circle cx="1351.4" cy="946.1"/><circle cx="1356.0" cy="965.9"/><circle cx="1326.6" cy="977.2"/><circle cx="1343.1" cy="944.5"/><circle cx="1324.1" cy="945.1"/><circle cx="1338.8" cy="964.2"/><circle cx="1347.8" cy="985.6"/><circle cx="1350.5" cy="989.9"/><circle cx="1330.8" cy="983.1"/><circle cx="1340.1" cy="963.1"/><circle cx="1328.6" cy="969.8"/><circle cx="1342.3" cy="961.9"/><circle cx="1340.7" cy="964.6"/><circle cx="1357.5" cy="962.8"/><circle cx="1344.8" cy="970.4"/><circle cx="1348.3" cy="992.2"/><circle cx="1326.7" cy="970.3"/><circle cx="1343.7" cy="950.4"/><circle cx="1335.7" cy="962.2"/><circle cx="1343.3" cy="980.7"/><circle cx="1333.6" cy="976.8"/><circle cx="1333.7" cy="974.2"/><circle cx="1346.2" cy="980.2"/><circle cx="1338.3" cy="989.0"/><circle cx="1343.3" cy="948.3"/><circle cx="1349.9" cy="952.3"/><circle cx="1325.5" cy="980.7"/><circle cx="1329.6" cy="959.0"/><circle cx="1334.6" cy="986.8"/><circle cx="1325.5" cy="984.1"/><circle cx="1328.0" cy="968.3"/><circle cx="1352.0" cy="955.4"/><circle cx="1328.4" cy="990.6"/><circle cx="1340.7" cy="948.9"/><circle cx="1339.1" cy="981.8"/><circle cx="1341.7" cy="982.7"/><circle cx="1328.5" cy="949.2"/><circle cx="1334.2" cy="982.1"/><circle cx="1347.8" cy="979.9"/><circle cx="1329.8" cy="946.1"/><circle cx="1337.9" cy="984.8"/><circle cx="1348.1" cy="981.9"/><circle cx="1332.7" cy="978.4"/><circle cx="1327.5" cy="970.4"/><circle cx="1324.3" cy="970.9"/><circle cx="1332.6" cy="982.4"/><circle cx="1340.8" cy="957.3"/><circle cx="1332.0" cy="977.1"/><circle cx="1340.6" cy="976.7"/><circle cx="1344.5" cy="960.2"/><circle cx="1352.6" cy="968.5"/><circle cx="1326.2" cy="975.2"/><circle cx="1334.7" cy="957.5"/><circle cx="1343.1" cy="983.3"/><circle cx="1354.6" cy="957.8"/><circle cx="1326.6" cy="961.7"/><circle cx="1345.7" cy="961.0"/><circle cx="1339.4" cy="976.8"/><circle cx="1339.8" cy="968.3"/><circle cx="1325.3" cy="964.9"/><circle cx="1337.0" cy="981.7"/><circle cx="1333.6" cy="954.6"/><circle cx="1339.4" cy="965.3"/><circle cx="1333.3" cy="980.7"/><circle cx="1353.5" cy="968.2"/><circle cx="1350.1" cy="954.3"/><circle cx="1354.6" cy="955.0"/><circle cx="1334.0" cy="965.3"/><circle cx="1342.8" cy="977.1"/><circle cx="1344.7" cy="964.1"/><circle cx="1326.9" cy="971.5"/><circle cx="1329.1" cy="967.0"/><circle cx="1338.6" cy="958.7"/><circle cx="1340.8" cy="961.1"/><circle cx="1327.3" cy="969.2"/><circle cx="1338.2" cy="954.4"/><circle cx="1325.4" cy="960.1"/><circle cx="1328.4" cy="975.3"/><circle cx="1348.8" cy="955.8"/><circle cx="1346.6" cy="982.4"/><circle cx="1352.8" cy="981.7"/><circle cx="1349.4" cy="961.3"/><circle cx="1348.5" cy="969.9"/><circle cx="1343.7" cy="961.6"/><circle cx="1327.8" cy="982.7"/><circle cx="1347.9" cy="982.3"/><circle cx="1328.9" cy="968.4"/><circle cx="1347.4" cy="976.1"/><circle cx="1356.7" cy="966.6"/><circle cx="1352.7" cy="968.8"/><circle cx="1354.7" cy="968.5"/><circle cx="1335.4" cy="954.7"/><circle cx="1341.8" cy="979.2"/><circle cx="1341.2" cy="961.4"/><circle cx="1345.0" cy="964.2"/><circle cx="1357.4" cy="964.2"/><circle cx="1327.0" cy="976.4"/><circle cx="1336.9" cy="958.7"/><circle cx="1340.7" cy="955.1"/><circle cx="1343.3" cy="957.3"/><circle cx="1331.4" cy="965.3"/><circle cx="1341.0" cy="954.0"/><circle cx="1355.0" cy="957.1"/><circle cx="1332.4" cy="969.2"/><circle cx="1326.6" cy="964.4"/><circle cx="1341.1" cy="952.7"/><circle cx="1344.4" cy="982.8"/><circle cx="1355.8" cy="955.7"/><circle cx="1351.0" cy="973.0"/><circle cx="1341.0" cy="960.6"/><circle cx="1348.7" cy="967.9"/><circle cx="1332.0" cy="979.4"/><circle cx="1355.1" cy="980.9"/><circle cx="1357.3" cy="958.7"/><circle cx="1334.7" cy="953.6"/><circle cx="1351.5" cy="956.9"/><circle cx="1330.8" cy="962.4"/><circle cx="1327.5" cy="975.2"/><circle cx="1346.1" cy="959.7"/><circle cx="1357.6" cy="952.7"/><circle cx="1343.3" cy="959.0"/><circle cx="1348.2" cy="958.3"/><circle cx="1334.6" cy="978.6"/><circle cx="1355.6" cy="963.0"/><circle cx="1327.7" cy="958.9"/><circle cx="1332.3" cy="956.3"/><circle cx="1350.4" cy="957.2"/><circle cx="1355.3" cy="967.8"/><circle cx="1353.3" cy="980.2"/><circle cx="1348.8" cy="978.8"/><circle cx="1331.3" cy="953.1"/><circle cx="1335.7" cy="972.7"/><circle cx="1343.2" cy="979.7"/><circle cx="1344.8" cy="965.2"/><circle cx="1342.0" cy="955.4"/><circle cx="1348.9" cy="982.4"/><circle cx="1331.7" cy="983.1"/><circle cx="1334.6" cy="978.2"/><circle cx="1324.7" cy="966.6"/><circle cx="1325.0" cy="971.6"/><circle cx="1348.2" cy="981.8"/><circle cx="1339.8" cy="969.6"/><circle cx="1330.3" cy="961.1"/><circle cx="1326.6" cy="978.5"/><circle cx="1341.8" cy="969.3"/><circle cx="1357.1" cy="981.9"/><circle cx="1354.4" cy="956.5"/><circle cx="1348.9" cy="967.8"/><circle cx="1351.3" cy="965.4"/><circle cx="1334.9" cy="963.8"/><circle cx="1327.6" cy="961.0"/><circle cx="1338.0" cy="978.0"/><circle cx="1357.2" cy="960.7"/><circle cx="1335.9" cy="967.3"/><circle cx="1355.0" cy="974.1"/><circle cx="1346.4" cy="964.1"/><circle cx="1350.7" cy="973.3"/><circle cx="1333.0" cy="975.2"/><circle cx="1335.9" cy="965.9"/><circle cx="1329.9" cy="975.3"/><circle cx="1340.5" cy="953.0"/><circle cx="1327.8" cy="966.4"/><circle cx="1354.1" cy="970.7"/><circle cx="1332.7" cy="972.9"/><circle cx="1332.7" cy="982.7"/></g></g>
<text x="1350.1" y="1100.5" font-size="19.7" text-anchor="end" transform="rotate(-40 1350.1 1100.5)" fill="#4d4d4d">Central (CE)</text>
<line x1="1409.3" x2="1409.3" y1="1023.9" y2="1033.3" stroke="#000" stroke-width="1.9"/>
<line x1="1409.3" x2="1409.3" y1="1039.2" y2="1044.8" stroke="#000" stroke-width="1.9"/>
<rect x="1383.5" y="1033.3" width="51.6" height="5.9" fill="#7570B3" fill-opacity="0.25" stroke="#000" stroke-width="1.9"/>
<line x1="1383.5" x2="1435.1" y1="1036.1" y2="1036.1" stroke="#000" stroke-width="3.6"/>
<g class="d"><rect x="1390.0" y="1023.6" width="38.6" height="19.5" rx="2.5" fill="#7a73b8"/><g fill="none" stroke="#7a73b8" stroke-opacity="0.5" stroke-width="6.6" stroke-linecap="round"><path d="M1400 1028h0M1403 1029h0M1426 1023h0M1396 1044h0M1412 1032h0M1407 1026h0M1413 1038h0M1415 1032h0M1404 1024h0M1415 1034h0M1398 1035h0M1407 1037h0M1395 1042h0M1396 1022h0M1394 1026h0M1426 1027h0M1393 1025h0M1400 1026h0M1419 1040h0M1421 1028h0M1411 1036h0M1396 1033h0M1397 1023h0M1412 1022h0M1417 1023h0M1416 1035h0M1396 1025h0M1393 1034h0M1399 1034h0M1401 1035h0M1393 1023h0M1396 1042h0"/><path d="M1423 1034h0M1401 1023h0M1424 1036h0M1401 1025h0M1418 1033h0M1395 1033h0M1405 1038h0M1395 1026h0M1405 1027h0M1395 1041h0M1397 1024h0M1411 1023h0M1418 1039h0M1420 1044h0M1414 1032h0M1412 1026h0M1398 1037h0M1406 1042h0M1406 1038h0M1425 1025h0M1404 1041h0M1418 1039h0M1397 1038h0M1424 1035h0M1423 1041h0M1419 1026h0M1403 1042h0M1393 1034h0M1396 1043h0M1396 1024h0M1398 1030h0M1396 1030h0"/><path d="M1404 1022h0M1420 1024h0M1394 1026h0M1409 1033h0M1404 1035h0M1425 1033h0M1404 1036h0M1394 1029h0M1410 1042h0M1417 1030h0M1413 1044h0M1409 1033h0M1423 1025h0M1414 1024h0M1397 1040h0M1399 1037h0M1408 1028h0M1396 1042h0M1414 1041h0M1404 1031h0M1409 1034h0M1395 1031h0M1425 1034h0M1415 1039h0M1412 1033h0M1413 1028h0M1413 1042h0M1409 1034h0M1415 1030h0M1393 1026h0M1423 1035h0M1408 1040h0"/><path d="M1414 1039h0M1394 1038h0M1414 1026h0M1403 1035h0M1419 1033h0M1399 1043h0M1403 1033h0M1412 1044h0M1412 1032h0M1396 1042h0M1400 1042h0M1416 1024h0M1418 1028h0M1423 1031h0M1426 1032h0M1413 1039h0M1423 1024h0M1399 1032h0M1405 1035h0M1421 1030h0M1405 1030h0M1419 1039h0M1426 1043h0M1405 1037h0M1406 1032h0M1414 1023h0M1394 1028h0M1419 1036h0M1403 1027h0M1425 1025h0M1409 1022h0M1405 1042h0"/><path d="M1412 1040h0M1422 1038h0M1413 1043h0M1397 1029h0M1408 1040h0M1397 1023h0M1418 1032h0M1403 1043h0M1398 1034h0M1424 1026h0M1403 1036h0M1411 1031h0M1406 1041h0M1395 1033h0M1413 1036h0M1404 1043h0M1396 1031h0M1398 1043h0M1413 1026h0M1395 1042h0M1400 1033h0M1400 1030h0M1412 1033h0M1424 1025h0M1416 1023h0M1425 1041h0M1412 1025h0M1406 1038h0M1396 1038h0M1419 1026h0M1421 1024h0M1416 1040h0"/></g><g fill="#7570B3" fill-opacity="0.17" stroke="#7570B3" stroke-opacity="0.32" stroke-width="0.9"><circle cx="1398.5" cy="1043.6"/><circle cx="1395.3" cy="1043.7"/><circle cx="1418.8" cy="1043.1"/><circle cx="1425.2" cy="1044.4"/><circle cx="1424.1" cy="1042.5"/><circle cx="1409.8" cy="1045.3"/><circle cx="1418.8" cy="1042.5"/><circle cx="1406.8" cy="1043.1"/><circle cx="1394.0" cy="1043.2"/><circle cx="1394.1" cy="1043.5"/><circle cx="1396.3" cy="1043.1"/><circle cx="1422.1" cy="1044.2"/><circle cx="1423.8" cy="1044.5"/><circle cx="1421.6" cy="1044.1"/><circle cx="1410.3" cy="1023.8"/><circle cx="1418.1" cy="1022.3"/><circle cx="1401.6" cy="1020.9"/><circle cx="1403.4" cy="1023.4"/><circle cx="1399.4" cy="1022.1"/><circle cx="1426.0" cy="1021.7"/><circle cx="1419.1" cy="1023.9"/><circle cx="1418.6" cy="1024.1"/><circle cx="1424.2" cy="1022.2"/><circle cx="1410.1" cy="1021.1"/><circle cx="1409.4" cy="1023.1"/><circle cx="1406.0" cy="1023.7"/><circle cx="1406.4" cy="1022.2"/><circle cx="1400.0" cy="1023.8"/><circle cx="1404.2" cy="1023.6"/><circle cx="1395.0" cy="1021.7"/><circle cx="1394.8" cy="1022.3"/><circle cx="1414.2" cy="1021.5"/></g></g>
<text x="1418.6" y="1100.5" font-size="19.7" text-anchor="end" transform="rotate(-40 1418.6 1100.5)" fill="#4d4d4d">External North</text>
<line x1="1477.8" x2="1477.8" y1="1025.7" y2="1042.7" stroke="#000" stroke-width="1.9"/>
<line x1="1477.8" x2="1477.8" y1="1053.8" y2="1068.1" stroke="#000" stroke-width="1.9"/>
<rect x="1452.0" y="1042.7" width="51.6" height="11.1" fill="#E7298A" fill-opacity="0.25" stroke="#000" stroke-width="1.9"/>
<line x1="1452.0" x2="1503.6" y1="1047.9" y2="1047.9" stroke="#000" stroke-width="3.6"/>
<g class="d"><rect x="1458.5" y="1020.1" width="38.6" height="46.2" rx="2.5" fill="#e8369a"/><g fill="none" stroke="#e8369a" stroke-opacity="0.5" stroke-width="6.6" stroke-linecap="round"><path d="M1482 1044h0M1472 1061h0M1462 1047h0M1472 1037h0M1481 1059h0M1463 1067h0M1463 1041h0M1477 1025h0M1489 1029h0M1465 1055h0M1479 1026h0M1473 1021h0M1494 1032h0M1474 1019h0M1476 1034h0M1486 1055h0M1493 1051h0M1463 1027h0M1471 1042h0M1471 1028h0M1464 1046h0M1468 1050h0M1472 1025h0M1493 1063h0M1480 1045h0M1461 1035h0M1485 1068h0M1487 1020h0M1478 1024h0M1462 1064h0M1463 1032h0M1466 1056h0M1468 1050h0M1485 1049h0M1494 1038h0M1466 1058h0M1477 1044h0M1473 1026h0M1478 1039h0M1485 1026h0M1466 1046h0M1490 1061h0M1489 1019h0M1478 1041h0M1487 1059h0M1489 1049h0M1465 1044h0M1494 1033h0"/><path d="M1476 1025h0M1483 1034h0M1480 1047h0M1488 1039h0M1483 1062h0M1481 1050h0M1469 1051h0M1469 1053h0M1478 1067h0M1487 1040h0M1464 1040h0M1476 1053h0M1462 1035h0M1482 1060h0M1467 1027h0M1472 1040h0M1463 1063h0M1474 1021h0M1470 1030h0M1487 1064h0M1479 1057h0M1492 1063h0M1477 1035h0M1465 1059h0M1488 1042h0M1490 1041h0M1462 1023h0M1481 1045h0M1467 1049h0M1465 1041h0M1471 1021h0M1469 1063h0M1467 1063h0M1478 1026h0M1469 1034h0M1467 1063h0M1481 1050h0M1474 1044h0M1490 1047h0M1466 1031h0M1487 1034h0M1475 1048h0M1494 1029h0M1480 1057h0M1473 1064h0M1479 1030h0M1484 1030h0M1479 1035h0"/><path d="M1476 1033h0M1490 1063h0M1488 1053h0M1466 1033h0M1471 1048h0M1468 1063h0M1478 1027h0M1490 1043h0M1484 1031h0M1478 1055h0M1489 1052h0M1467 1027h0M1476 1049h0M1475 1052h0M1474 1040h0M1465 1025h0M1482 1033h0M1480 1026h0M1462 1042h0M1463 1066h0M1477 1025h0M1483 1051h0M1483 1032h0M1471 1041h0M1489 1052h0M1464 1058h0M1472 1022h0M1489 1022h0M1487 1020h0M1479 1029h0M1487 1042h0M1469 1027h0M1461 1019h0M1468 1027h0M1479 1030h0M1483 1060h0M1472 1065h0M1471 1063h0M1478 1051h0M1463 1054h0M1479 1065h0M1484 1041h0M1470 1032h0M1492 1023h0M1471 1062h0M1492 1055h0M1484 1042h0M1465 1033h0"/><path d="M1492 1063h0M1492 1058h0M1468 1061h0M1479 1053h0M1479 1030h0M1495 1050h0M1462 1045h0M1470 1048h0M1477 1040h0M1484 1022h0M1483 1024h0M1462 1064h0M1461 1026h0M1482 1034h0M1477 1034h0M1479 1068h0M1463 1056h0M1472 1030h0M1493 1050h0M1494 1055h0M1487 1057h0M1473 1051h0M1479 1031h0M1467 1026h0M1479 1024h0M1468 1058h0M1494 1044h0M1470 1032h0M1470 1027h0M1472 1051h0M1461 1034h0M1465 1024h0M1469 1039h0M1473 1038h0M1464 1066h0M1479 1061h0M1464 1060h0M1462 1052h0M1481 1066h0M1493 1033h0M1471 1061h0M1474 1023h0M1476 1050h0M1466 1032h0M1494 1030h0M1485 1024h0M1484 1025h0M1464 1040h0"/><path d="M1466 1061h0M1462 1067h0M1483 1045h0M1476 1067h0M1493 1062h0M1487 1055h0M1485 1041h0M1468 1063h0M1490 1024h0M1473 1040h0M1466 1054h0M1494 1061h0M1480 1065h0M1466 1066h0M1477 1022h0M1469 1050h0M1492 1065h0M1493 1051h0M1488 1058h0M1476 1066h0M1493 1029h0M1477 1035h0M1466 1045h0M1484 1019h0M1468 1026h0M1488 1051h0M1488 1068h0M1485 1047h0M1467 1043h0M1475 1047h0M1479 1029h0M1470 1063h0M1488 1053h0M1462 1024h0M1483 1054h0M1492 1048h0M1470 1032h0M1478 1039h0M1481 1023h0M1490 1063h0M1472 1064h0M1477 1031h0M1473 1041h0M1469 1056h0M1472 1057h0M1466 1041h0M1478 1052h0M1465 1063h0"/></g><g fill="#E7298A" fill-opacity="0.17" stroke="#E7298A" stroke-opacity="0.32" stroke-width="0.9"><circle cx="1474.1" cy="1006.9"/><circle cx="1476.9" cy="1008.3"/><circle cx="1466.9" cy="1015.5"/><circle cx="1484.9" cy="1013.9"/><circle cx="1490.6" cy="1016.4"/><circle cx="1467.2" cy="1017.6"/><circle cx="1488.5" cy="1017.2"/><circle cx="1490.5" cy="1013.1"/><circle cx="1480.8" cy="1018.6"/><circle cx="1463.3" cy="1020.3"/><circle cx="1475.6" cy="1017.4"/><circle cx="1466.9" cy="1012.9"/><circle cx="1480.5" cy="1012.7"/><circle cx="1479.9" cy="1010.4"/><circle cx="1471.7" cy="1013.1"/><circle cx="1466.0" cy="1010.3"/><circle cx="1482.4" cy="1015.1"/><circle cx="1466.2" cy="1006.0"/><circle cx="1468.7" cy="1010.2"/><circle cx="1473.7" cy="1007.3"/><circle cx="1467.9" cy="1015.9"/><circle cx="1472.5" cy="1017.8"/><circle cx="1465.6" cy="1018.3"/><circle cx="1490.0" cy="1016.9"/><circle cx="1487.8" cy="1019.7"/><circle cx="1463.4" cy="1013.9"/><circle cx="1476.6" cy="1007.2"/><circle cx="1468.3" cy="1009.8"/><circle cx="1478.3" cy="1019.3"/><circle cx="1492.4" cy="1019.2"/><circle cx="1491.0" cy="1020.0"/><circle cx="1473.0" cy="1014.5"/><circle cx="1475.1" cy="1013.9"/><circle cx="1473.1" cy="1014.2"/><circle cx="1493.4" cy="1006.1"/><circle cx="1465.4" cy="1010.6"/><circle cx="1469.2" cy="1005.8"/><circle cx="1474.5" cy="1006.6"/><circle cx="1491.1" cy="1007.9"/><circle cx="1483.5" cy="1020.1"/><circle cx="1479.6" cy="1005.9"/><circle cx="1481.2" cy="1012.8"/><circle cx="1479.7" cy="1005.6"/><circle cx="1462.5" cy="1016.3"/><circle cx="1469.6" cy="1013.1"/><circle cx="1473.5" cy="1009.8"/><circle cx="1480.1" cy="1016.7"/><circle cx="1484.2" cy="1012.8"/><circle cx="1492.5" cy="1016.0"/><circle cx="1494.1" cy="1007.4"/><circle cx="1468.5" cy="1016.6"/><circle cx="1488.0" cy="1009.8"/><circle cx="1463.7" cy="1014.4"/><circle cx="1465.3" cy="1019.3"/><circle cx="1488.2" cy="1009.0"/><circle cx="1478.8" cy="1011.6"/><circle cx="1461.4" cy="1018.2"/><circle cx="1477.2" cy="1010.0"/><circle cx="1492.7" cy="1009.7"/><circle cx="1484.5" cy="1018.2"/><circle cx="1490.7" cy="1020.7"/><circle cx="1477.9" cy="1010.3"/><circle cx="1468.4" cy="1009.1"/><circle cx="1465.6" cy="1009.8"/><circle cx="1485.0" cy="1015.5"/><circle cx="1473.2" cy="1013.1"/><circle cx="1484.3" cy="1009.1"/><circle cx="1493.1" cy="1017.4"/><circle cx="1492.8" cy="1017.8"/><circle cx="1493.0" cy="1018.1"/><circle cx="1478.6" cy="1018.7"/><circle cx="1487.1" cy="1016.6"/><circle cx="1492.9" cy="1011.3"/><circle cx="1483.4" cy="1006.0"/><circle cx="1484.9" cy="1012.2"/><circle cx="1478.2" cy="1016.1"/><circle cx="1476.7" cy="1013.7"/><circle cx="1490.9" cy="1019.6"/><circle cx="1461.2" cy="1012.3"/><circle cx="1467.6" cy="1019.4"/><circle cx="1466.4" cy="1006.8"/><circle cx="1480.0" cy="1015.1"/><circle cx="1464.5" cy="1005.9"/><circle cx="1472.5" cy="1016.9"/><circle cx="1477.2" cy="1012.0"/><circle cx="1489.2" cy="1011.3"/><circle cx="1482.3" cy="1014.2"/><circle cx="1464.3" cy="1013.4"/><circle cx="1493.8" cy="1015.4"/><circle cx="1489.5" cy="1008.9"/><circle cx="1486.7" cy="1018.2"/><circle cx="1482.4" cy="1017.4"/><circle cx="1479.3" cy="1013.6"/><circle cx="1471.3" cy="1016.3"/><circle cx="1491.7" cy="1016.7"/><circle cx="1469.2" cy="1017.4"/><circle cx="1471.8" cy="1020.4"/><circle cx="1491.2" cy="1010.2"/><circle cx="1481.2" cy="1009.8"/><circle cx="1465.7" cy="1012.2"/><circle cx="1479.4" cy="1010.2"/><circle cx="1492.0" cy="1009.9"/><circle cx="1476.8" cy="1006.5"/><circle cx="1487.9" cy="1019.3"/><circle cx="1481.6" cy="1012.7"/><circle cx="1481.0" cy="1018.8"/><circle cx="1463.3" cy="1008.8"/><circle cx="1490.5" cy="1012.5"/><circle cx="1467.5" cy="1020.5"/><circle cx="1490.6" cy="1006.9"/><circle cx="1487.5" cy="1005.3"/><circle cx="1475.3" cy="1019.4"/><circle cx="1467.7" cy="1020.4"/><circle cx="1485.8" cy="1006.4"/><circle cx="1474.0" cy="1006.8"/><circle cx="1479.0" cy="1014.5"/><circle cx="1489.1" cy="1015.6"/><circle cx="1492.8" cy="1005.8"/><circle cx="1475.4" cy="1009.4"/><circle cx="1469.9" cy="1007.0"/><circle cx="1466.0" cy="998.3"/><circle cx="1474.4" cy="1006.9"/><circle cx="1483.7" cy="1001.6"/><circle cx="1493.7" cy="996.5"/><circle cx="1486.3" cy="999.1"/><circle cx="1468.1" cy="1004.2"/><circle cx="1494.5" cy="1004.7"/><circle cx="1491.8" cy="992.9"/><circle cx="1477.3" cy="1002.3"/><circle cx="1470.2" cy="1004.8"/><circle cx="1479.6" cy="1006.0"/><circle cx="1490.9" cy="1005.1"/><circle cx="1479.2" cy="1002.8"/><circle cx="1462.3" cy="1001.3"/><circle cx="1483.0" cy="994.1"/><circle cx="1467.2" cy="993.5"/><circle cx="1482.9" cy="997.4"/><circle cx="1464.4" cy="1004.2"/><circle cx="1480.1" cy="994.5"/><circle cx="1489.0" cy="1004.6"/><circle cx="1474.2" cy="998.3"/><circle cx="1478.1" cy="992.7"/><circle cx="1487.3" cy="993.4"/><circle cx="1484.4" cy="995.0"/><circle cx="1492.2" cy="999.9"/><circle cx="1491.2" cy="1006.8"/><circle cx="1464.0" cy="994.3"/><circle cx="1484.4" cy="998.9"/><circle cx="1490.1" cy="1005.8"/><circle cx="1489.4" cy="994.3"/><circle cx="1464.7" cy="1008.1"/><circle cx="1480.1" cy="1000.6"/><circle cx="1494.1" cy="1008.0"/><circle cx="1477.3" cy="1003.7"/><circle cx="1491.2" cy="994.9"/><circle cx="1493.2" cy="995.5"/><circle cx="1486.9" cy="997.1"/><circle cx="1477.6" cy="998.8"/><circle cx="1463.6" cy="1005.9"/><circle cx="1493.6" cy="995.0"/><circle cx="1494.3" cy="1005.8"/><circle cx="1471.5" cy="1006.8"/><circle cx="1493.0" cy="1007.2"/><circle cx="1487.0" cy="998.6"/><circle cx="1473.6" cy="1004.5"/><circle cx="1488.7" cy="1006.6"/><circle cx="1469.7" cy="998.4"/><circle cx="1469.8" cy="1004.6"/><circle cx="1478.3" cy="1006.4"/><circle cx="1469.6" cy="1006.0"/><circle cx="1489.8" cy="1006.6"/><circle cx="1479.2" cy="997.9"/><circle cx="1479.9" cy="996.5"/><circle cx="1483.1" cy="995.4"/><circle cx="1464.8" cy="998.5"/><circle cx="1488.2" cy="999.3"/><circle cx="1476.4" cy="1000.6"/><circle cx="1468.7" cy="1005.7"/><circle cx="1489.0" cy="1007.6"/><circle cx="1465.2" cy="1007.1"/><circle cx="1465.1" cy="990.4"/><circle cx="1485.2" cy="985.0"/><circle cx="1476.8" cy="994.0"/><circle cx="1488.6" cy="988.0"/><circle cx="1494.3" cy="993.8"/><circle cx="1463.6" cy="985.8"/><circle cx="1494.0" cy="987.9"/><circle cx="1463.2" cy="985.8"/><circle cx="1473.6" cy="990.3"/><circle cx="1478.0" cy="987.4"/><circle cx="1467.8" cy="985.4"/><circle cx="1492.5" cy="981.7"/><circle cx="1471.6" cy="981.0"/><circle cx="1461.0" cy="986.0"/><circle cx="1492.0" cy="992.3"/><circle cx="1477.0" cy="988.4"/><circle cx="1473.1" cy="986.0"/><circle cx="1467.9" cy="988.0"/><circle cx="1488.8" cy="992.4"/><circle cx="1463.4" cy="984.0"/><circle cx="1463.4" cy="990.8"/><circle cx="1463.2" cy="985.7"/><circle cx="1484.5" cy="971.9"/><circle cx="1486.1" cy="972.1"/><circle cx="1478.2" cy="977.7"/><circle cx="1488.9" cy="975.4"/><circle cx="1490.5" cy="973.9"/><circle cx="1465.1" cy="970.6"/><circle cx="1478.7" cy="980.2"/><circle cx="1491.1" cy="974.7"/><circle cx="1465.3" cy="1067.8"/><circle cx="1491.2" cy="1067.6"/><circle cx="1483.7" cy="1067.2"/><circle cx="1471.5" cy="1065.7"/><circle cx="1466.2" cy="1066.1"/><circle cx="1470.2" cy="1067.4"/><circle cx="1463.3" cy="1066.6"/><circle cx="1467.6" cy="1067.8"/><circle cx="1479.3" cy="1067.7"/><circle cx="1484.3" cy="1066.4"/><circle cx="1473.4" cy="1067.7"/><circle cx="1467.7" cy="1068.0"/></g></g>
<text x="1487.1" y="1100.5" font-size="19.7" text-anchor="end" transform="rotate(-40 1487.1 1100.5)" fill="#4d4d4d">North-east (NE)</text>
<line x1="1546.3" x2="1546.3" y1="970.0" y2="989.5" stroke="#000" stroke-width="1.9"/>
<line x1="1546.3" x2="1546.3" y1="1022.9" y2="1062.9" stroke="#000" stroke-width="1.9"/>
<rect x="1520.5" y="989.5" width="51.6" height="33.4" fill="#66A61E" fill-opacity="0.25" stroke="#000" stroke-width="1.9"/>
<line x1="1520.5" x2="1572.1" y1="1005.9" y2="1005.9" stroke="#000" stroke-width="3.6"/>
<g class="d"><rect x="1527.0" y="976.3" width="38.6" height="66.8" rx="2.5" fill="#6bb32e"/><g fill="none" stroke="#6bb32e" stroke-opacity="0.5" stroke-width="6.6" stroke-linecap="round"><path d="M1555 1039h0M1548 1027h0M1533 1001h0M1561 980h0M1555 997h0M1535 1004h0M1559 1033h0M1556 1041h0M1555 1010h0M1540 1004h0M1543 988h0M1543 1030h0M1539 999h0M1536 1040h0M1535 1003h0M1541 986h0M1537 1025h0M1557 1026h0M1552 998h0M1547 1001h0M1560 1035h0M1551 978h0M1548 977h0M1551 993h0M1533 1020h0M1549 978h0M1539 1036h0M1558 1035h0M1531 1017h0M1557 976h0M1547 1025h0M1555 1020h0M1549 978h0M1562 975h0M1546 1003h0M1549 985h0M1562 1000h0M1537 1034h0M1545 1001h0M1546 1025h0M1530 1038h0M1540 1025h0M1533 990h0M1539 1011h0M1536 975h0M1533 1007h0M1539 975h0M1547 979h0M1555 1008h0M1559 980h0M1540 1033h0M1535 1033h0"/><path d="M1548 1032h0M1553 1002h0M1546 1041h0M1561 1039h0M1535 1015h0M1535 1031h0M1535 999h0M1534 1016h0M1533 1039h0M1537 986h0M1537 1013h0M1551 1008h0M1552 976h0M1555 1041h0M1538 992h0M1544 988h0M1562 1037h0M1551 1002h0M1547 1043h0M1550 1044h0M1559 1010h0M1551 1006h0M1539 1019h0M1556 1027h0M1532 998h0M1545 982h0M1533 1014h0M1541 986h0M1558 992h0M1563 1019h0M1552 1028h0M1559 1032h0M1556 1017h0M1550 1008h0M1551 987h0M1556 1035h0M1542 1012h0M1541 1038h0M1542 996h0M1537 1014h0M1540 1003h0M1546 984h0M1532 993h0M1554 977h0M1535 1040h0M1539 997h0M1533 1023h0M1562 1043h0M1549 1034h0M1530 1018h0M1543 1028h0M1548 1017h0"/><path d="M1541 1026h0M1557 980h0M1542 982h0M1532 1018h0M1545 1042h0M1531 988h0M1544 986h0M1561 1028h0M1562 995h0M1541 1031h0M1533 1025h0M1540 1007h0M1537 1040h0M1545 991h0M1556 1019h0M1544 1040h0M1552 1012h0M1541 995h0M1538 1012h0M1545 1008h0M1552 989h0M1534 982h0M1532 1016h0M1531 1030h0M1536 991h0M1539 986h0M1536 977h0M1550 1013h0M1563 985h0M1544 992h0M1542 1044h0M1535 993h0M1558 989h0M1540 1003h0M1544 1010h0M1532 1007h0M1556 983h0M1546 1005h0M1540 1042h0M1537 1040h0M1555 1015h0M1549 1017h0M1541 1012h0M1557 1034h0M1549 1007h0M1548 1018h0M1542 988h0M1539 1020h0M1530 1039h0M1534 1041h0M1552 1016h0M1530 976h0"/><path d="M1543 1012h0M1561 1026h0M1532 975h0M1535 1027h0M1546 1026h0M1539 1012h0M1530 1036h0M1531 981h0M1552 990h0M1540 999h0M1550 976h0M1557 1029h0M1552 1031h0M1554 1007h0M1551 1019h0M1550 1011h0M1557 1016h0M1551 1002h0M1530 1038h0M1553 979h0M1562 1027h0M1538 1011h0M1536 982h0M1539 1010h0M1536 1042h0M1534 1040h0M1543 1037h0M1537 1041h0M1549 1004h0M1537 1037h0M1545 1041h0M1531 990h0M1534 1043h0M1537 993h0M1546 992h0M1535 981h0M1547 1006h0M1555 1022h0M1559 991h0M1560 977h0M1556 1024h0M1553 1033h0M1534 996h0M1555 1043h0M1539 1037h0M1561 1000h0M1559 980h0M1556 1022h0M1557 976h0M1545 1038h0M1560 1039h0M1555 1025h0"/><path d="M1555 1030h0M1540 1011h0M1557 1024h0M1554 1021h0M1561 1013h0M1531 1034h0M1534 1019h0M1544 996h0M1558 1000h0M1548 1008h0M1559 988h0M1554 1035h0M1561 1041h0M1540 1028h0M1538 1026h0M1538 1018h0M1560 1033h0M1561 1025h0M1531 985h0M1549 1025h0M1548 1020h0M1546 1042h0M1548 1027h0M1559 988h0M1531 1022h0M1545 980h0M1563 1000h0M1554 1035h0M1546 1004h0M1537 1015h0M1556 995h0M1562 1042h0M1537 1012h0M1541 979h0M1543 1025h0M1546 985h0M1534 1009h0M1533 1012h0M1537 1006h0M1542 1022h0M1563 1032h0M1558 1008h0M1546 1037h0M1540 1028h0M1555 1016h0M1538 1039h0M1554 1003h0M1544 1042h0M1530 1002h0M1553 1021h0M1531 1019h0M1533 986h0"/></g><g fill="#66A61E" fill-opacity="0.17" stroke="#66A61E" stroke-opacity="0.32" stroke-width="0.9"><circle cx="1537.5" cy="1057.9"/><circle cx="1539.8" cy="1054.0"/><circle cx="1558.6" cy="1057.1"/><circle cx="1545.1" cy="1061.9"/><circle cx="1551.5" cy="1062.6"/><circle cx="1542.0" cy="1045.1"/><circle cx="1539.2" cy="1055.4"/><circle cx="1545.2" cy="1060.7"/><circle cx="1561.2" cy="1056.6"/><circle cx="1542.8" cy="1060.9"/><circle cx="1539.7" cy="1055.4"/><circle cx="1533.2" cy="1051.3"/><circle cx="1547.9" cy="1050.0"/><circle cx="1544.7" cy="1049.5"/><circle cx="1562.0" cy="1054.7"/><circle cx="1562.2" cy="1052.1"/><circle cx="1560.5" cy="1043.7"/><circle cx="1558.7" cy="1051.3"/><circle cx="1555.2" cy="1063.6"/><circle cx="1554.8" cy="1056.1"/><circle cx="1532.8" cy="1053.5"/><circle cx="1540.3" cy="1044.2"/><circle cx="1547.6" cy="1056.7"/><circle cx="1558.3" cy="1064.9"/><circle cx="1562.0" cy="1049.3"/><circle cx="1558.7" cy="1043.6"/><circle cx="1537.7" cy="1045.1"/><circle cx="1548.6" cy="1047.1"/><circle cx="1558.0" cy="1059.3"/><circle cx="1540.8" cy="1044.6"/><circle cx="1542.1" cy="1051.7"/><circle cx="1558.4" cy="1052.7"/><circle cx="1547.1" cy="1048.0"/><circle cx="1541.0" cy="1058.7"/><circle cx="1535.2" cy="1057.8"/><circle cx="1549.4" cy="1046.7"/><circle cx="1535.3" cy="1057.8"/><circle cx="1537.7" cy="1058.3"/><circle cx="1546.0" cy="1060.3"/><circle cx="1540.4" cy="1044.0"/><circle cx="1547.2" cy="1046.2"/><circle cx="1532.3" cy="1046.3"/><circle cx="1562.2" cy="1045.3"/><circle cx="1553.4" cy="1061.7"/><circle cx="1540.1" cy="1055.7"/><circle cx="1560.1" cy="1065.1"/><circle cx="1533.4" cy="1042.6"/><circle cx="1547.0" cy="1061.3"/><circle cx="1541.8" cy="1059.6"/><circle cx="1530.0" cy="1056.0"/><circle cx="1552.2" cy="1059.3"/><circle cx="1547.5" cy="1044.3"/><circle cx="1550.7" cy="1050.9"/><circle cx="1559.0" cy="1064.7"/><circle cx="1533.1" cy="1042.9"/><circle cx="1534.5" cy="1042.4"/><circle cx="1555.6" cy="1054.3"/><circle cx="1531.9" cy="1049.1"/><circle cx="1544.7" cy="1052.2"/><circle cx="1530.4" cy="1064.5"/><circle cx="1530.7" cy="1056.0"/><circle cx="1531.4" cy="1065.1"/><circle cx="1563.0" cy="1057.0"/><circle cx="1558.0" cy="1060.3"/><circle cx="1556.5" cy="1051.0"/><circle cx="1543.5" cy="1052.5"/><circle cx="1554.9" cy="1052.7"/><circle cx="1530.1" cy="1061.0"/><circle cx="1558.5" cy="1044.3"/><circle cx="1557.6" cy="1049.6"/><circle cx="1557.8" cy="1047.5"/><circle cx="1549.8" cy="1051.0"/><circle cx="1549.1" cy="1059.0"/><circle cx="1557.2" cy="1050.2"/><circle cx="1561.7" cy="1051.7"/><circle cx="1542.7" cy="1050.4"/><circle cx="1539.4" cy="1047.8"/><circle cx="1545.2" cy="1058.2"/><circle cx="1559.4" cy="1054.5"/><circle cx="1531.9" cy="1050.0"/><circle cx="1541.5" cy="1048.3"/><circle cx="1549.8" cy="1046.0"/><circle cx="1560.4" cy="1061.8"/><circle cx="1555.2" cy="1049.2"/><circle cx="1557.1" cy="1051.9"/><circle cx="1546.3" cy="1044.4"/><circle cx="1561.2" cy="1060.5"/><circle cx="1554.7" cy="1049.7"/><circle cx="1549.5" cy="1053.4"/><circle cx="1532.0" cy="1051.4"/><circle cx="1540.2" cy="973.1"/><circle cx="1551.3" cy="969.5"/><circle cx="1542.9" cy="974.7"/><circle cx="1539.6" cy="973.4"/><circle cx="1543.8" cy="974.3"/><circle cx="1557.3" cy="968.9"/><circle cx="1535.7" cy="973.0"/><circle cx="1538.6" cy="976.3"/><circle cx="1545.5" cy="970.7"/><circle cx="1552.4" cy="974.7"/><circle cx="1539.4" cy="975.9"/><circle cx="1562.6" cy="969.5"/><circle cx="1538.3" cy="970.0"/><circle cx="1545.7" cy="968.5"/><circle cx="1535.3" cy="976.2"/><circle cx="1540.5" cy="971.2"/><circle cx="1547.8" cy="971.9"/><circle cx="1541.5" cy="968.1"/><circle cx="1530.8" cy="969.6"/><circle cx="1545.8" cy="971.9"/><circle cx="1561.1" cy="971.7"/><circle cx="1556.5" cy="968.7"/><circle cx="1532.7" cy="973.2"/><circle cx="1539.1" cy="972.9"/><circle cx="1561.5" cy="975.9"/><circle cx="1531.5" cy="968.2"/></g></g>
<text x="1555.6" y="1100.5" font-size="19.7" text-anchor="end" transform="rotate(-40 1555.6 1100.5)" fill="#4d4d4d">North-west (NW)</text>
<line x1="1614.8" x2="1614.8" y1="949.9" y2="977.0" stroke="#000" stroke-width="1.9"/>
<line x1="1614.8" x2="1614.8" y1="1025.0" y2="1059.4" stroke="#000" stroke-width="1.9"/>
<rect x="1589.0" y="977.0" width="51.6" height="48.0" fill="#E6AB02" fill-opacity="0.25" stroke="#000" stroke-width="1.9"/>
<line x1="1589.0" x2="1640.6" y1="992.3" y2="992.3" stroke="#000" stroke-width="3.6"/>
<g class="d"><rect x="1595.5" y="950.6" width="38.6" height="107.8" rx="2.5" fill="#dfad28"/><g fill="none" stroke="#dfad28" stroke-opacity="0.5" stroke-width="6.6" stroke-linecap="round"><path d="M1630 959h0M1599 1007h0M1618 1058h0M1609 969h0M1599 1052h0M1610 1048h0M1603 1003h0M1604 958h0M1618 1009h0M1599 974h0M1611 1041h0M1626 1011h0M1628 1055h0M1626 1016h0M1618 1057h0M1627 987h0M1608 1045h0M1628 1038h0M1621 1023h0M1607 957h0M1614 1009h0M1607 1021h0M1605 991h0M1631 1000h0M1626 993h0M1606 950h0M1612 1014h0M1619 1025h0M1610 1026h0M1598 1023h0M1623 1016h0M1609 994h0M1627 968h0M1607 1037h0M1626 1039h0M1612 1003h0M1601 1047h0M1601 1039h0M1603 1021h0M1606 970h0M1614 981h0M1612 1043h0M1604 999h0M1621 981h0M1627 950h0M1602 1026h0M1622 1038h0M1615 971h0M1610 1039h0M1630 965h0M1615 982h0M1619 1022h0M1608 1030h0M1600 1009h0M1622 988h0M1623 963h0M1607 990h0M1615 970h0M1604 972h0M1599 985h0"/><path d="M1621 971h0M1624 1039h0M1608 1059h0M1608 1016h0M1601 1047h0M1622 974h0M1613 954h0M1606 975h0M1602 1025h0M1606 1045h0M1607 998h0M1612 1033h0M1602 1054h0M1625 986h0M1599 989h0M1601 1029h0M1621 950h0M1611 983h0M1606 1056h0M1612 996h0M1602 1029h0M1614 969h0M1628 999h0M1606 1021h0M1602 966h0M1599 974h0M1616 1000h0M1620 980h0M1630 1015h0M1624 1054h0M1606 1003h0M1603 1047h0M1627 1039h0M1618 1023h0M1609 976h0M1603 963h0M1621 1040h0M1602 970h0M1622 1043h0M1625 963h0M1625 996h0M1600 961h0M1621 990h0M1628 1026h0M1621 953h0M1618 1059h0M1600 958h0M1610 1051h0M1625 1059h0M1617 1011h0M1629 986h0M1618 953h0M1605 1024h0M1629 969h0M1623 1011h0M1624 1053h0M1612 989h0M1618 994h0M1618 992h0M1628 1009h0"/><path d="M1631 1054h0M1606 969h0M1620 1058h0M1621 978h0M1617 1011h0M1601 1059h0M1622 960h0M1618 1053h0M1616 1030h0M1619 1007h0M1605 990h0M1604 977h0M1626 1049h0M1607 1056h0M1627 1043h0M1603 1004h0M1628 1042h0M1611 979h0M1606 995h0M1599 1036h0M1623 1006h0M1606 978h0M1626 991h0M1623 1008h0M1629 1057h0M1605 1058h0M1616 996h0M1602 1001h0M1615 1031h0M1607 1023h0M1612 1027h0M1617 1009h0M1605 1006h0M1623 1059h0M1619 1015h0M1602 1012h0M1608 1024h0M1623 949h0M1616 992h0M1619 1023h0M1623 1030h0M1614 1039h0M1601 980h0M1615 1036h0M1614 999h0M1624 1025h0M1604 1004h0M1601 1004h0M1623 972h0M1609 1054h0M1614 950h0M1621 954h0M1598 1050h0M1629 1022h0M1621 965h0M1599 1013h0M1625 1020h0M1621 993h0M1611 1021h0M1626 984h0"/><path d="M1630 1042h0M1630 1002h0M1608 1052h0M1607 1055h0M1612 979h0M1614 1002h0M1613 1048h0M1625 1037h0M1602 953h0M1600 986h0M1632 1001h0M1613 964h0M1603 1049h0M1598 950h0M1627 983h0M1609 949h0M1601 976h0M1626 1016h0M1604 993h0M1600 1048h0M1622 1015h0M1622 1030h0M1602 1030h0M1603 1001h0M1608 1040h0M1630 1017h0M1627 983h0M1618 1010h0M1616 969h0M1613 1025h0M1600 999h0M1611 1043h0M1615 1003h0M1599 1051h0M1620 973h0M1630 1052h0M1622 999h0M1600 1041h0M1626 1024h0M1604 953h0M1630 988h0M1602 989h0M1621 954h0M1622 1032h0M1613 964h0M1627 1006h0M1618 1056h0M1606 980h0M1615 998h0M1598 968h0M1603 986h0M1628 992h0M1617 972h0M1619 1020h0M1600 990h0M1624 971h0M1600 969h0M1622 959h0M1598 956h0M1602 968h0"/><path d="M1630 970h0M1630 1020h0M1607 1026h0M1606 1037h0M1607 999h0M1610 963h0M1629 994h0M1631 989h0M1600 1035h0M1611 964h0M1632 993h0M1612 1033h0M1612 1027h0M1611 1017h0M1621 1024h0M1615 1016h0M1627 998h0M1609 952h0M1620 969h0M1612 1038h0M1619 997h0M1618 1051h0M1624 1009h0M1624 956h0M1627 1042h0M1626 1054h0M1617 1034h0M1602 1045h0M1626 1059h0M1609 996h0M1630 952h0M1623 998h0M1631 1019h0M1614 1031h0M1619 1053h0M1602 1038h0M1626 1001h0M1619 1026h0M1611 1000h0M1618 995h0M1629 953h0M1624 1055h0M1620 1000h0M1620 1043h0M1601 1036h0M1624 997h0M1625 985h0M1600 1005h0M1601 961h0M1615 952h0M1628 995h0M1632 1019h0M1615 1026h0M1622 991h0M1606 1035h0M1598 995h0M1606 994h0M1615 1031h0M1608 1020h0M1626 995h0"/></g><g fill="#E6AB02" fill-opacity="0.17" stroke="#E6AB02" stroke-opacity="0.32" stroke-width="0.9"><circle cx="1623.7" cy="1060.4"/><circle cx="1605.0" cy="1059.7"/><circle cx="1614.1" cy="1058.7"/><circle cx="1624.5" cy="1057.6"/><circle cx="1629.1" cy="1057.4"/><circle cx="1630.4" cy="1057.6"/><circle cx="1620.3" cy="1059.0"/><circle cx="1608.4" cy="1060.3"/><circle cx="1607.6" cy="1057.6"/><circle cx="1625.9" cy="1057.8"/><circle cx="1621.0" cy="1057.4"/><circle cx="1624.2" cy="1059.4"/><circle cx="1625.4" cy="947.8"/><circle cx="1608.5" cy="950.7"/><circle cx="1606.7" cy="948.1"/><circle cx="1609.7" cy="947.8"/><circle cx="1619.7" cy="950.5"/><circle cx="1615.7" cy="950.8"/><circle cx="1612.2" cy="949.4"/><circle cx="1618.0" cy="948.7"/><circle cx="1599.5" cy="947.9"/><circle cx="1617.4" cy="948.4"/><circle cx="1605.8" cy="950.0"/><circle cx="1623.1" cy="947.5"/><circle cx="1616.4" cy="950.1"/><circle cx="1628.4" cy="950.6"/></g></g>
<text x="1624.1" y="1100.5" font-size="19.7" text-anchor="end" transform="rotate(-40 1624.1 1100.5)" fill="#4d4d4d">South-east (SE)</text>
<line x1="1683.3" x2="1683.3" y1="954.4" y2="979.8" stroke="#000" stroke-width="1.9"/>
<line x1="1683.3" x2="1683.3" y1="996.5" y2="1020.5" stroke="#000" stroke-width="1.9"/>
<rect x="1657.5" y="979.8" width="51.6" height="16.7" fill="#A6761D" fill-opacity="0.25" stroke="#000" stroke-width="1.9"/>
<line x1="1657.5" x2="1709.1" y1="988.8" y2="988.8" stroke="#000" stroke-width="3.6"/>
<g class="d"><g fill="none" stroke="#a67f29" stroke-opacity="0.5" stroke-width="6.6" stroke-linecap="round"><path d="M1687 985h0M1672 1018h0M1672 976h0M1677 982h0M1678 956h0M1684 1041h0M1685 1041h0M1669 951h0M1693 975h0M1673 951h0M1699 1011h0M1699 964h0M1676 1041h0M1699 944h0M1690 991h0M1682 1014h0M1671 1009h0M1694 968h0M1694 939h0M1684 1032h0M1694 1035h0M1675 960h0M1678 984h0M1694 1014h0M1689 1014h0M1672 993h0M1681 954h0M1669 964h0M1669 933h0M1680 981h0M1688 972h0M1699 956h0M1683 1015h0M1670 975h0M1685 1005h0M1685 958h0M1673 1025h0M1673 983h0M1690 1038h0M1697 982h0M1696 947h0M1683 1003h0M1677 988h0M1688 935h0M1667 1031h0M1682 987h0M1669 959h0M1696 1009h0M1699 980h0M1690 951h0M1679 983h0M1675 988h0M1680 948h0M1694 995h0M1682 945h0M1667 1007h0M1688 1027h0M1687 986h0M1676 957h0M1697 1006h0M1693 933h0M1667 1040h0M1683 939h0M1669 960h0M1686 1000h0M1685 1010h0M1677 963h0M1693 1024h0M1686 983h0M1688 998h0M1670 1016h0M1684 990h0M1689 1000h0M1670 985h0M1673 1018h0M1686 1037h0M1678 1008h0M1688 972h0M1698 1014h0M1697 967h0M1684 1034h0M1673 1006h0M1667 1015h0M1689 940h0M1670 986h0M1690 1019h0M1697 985h0M1687 971h0M1669 973h0M1690 977h0M1686 1024h0M1671 998h0M1685 1013h0M1678 998h0M1696 1040h0M1684 958h0M1674 1000h0M1667 1007h0M1693 1022h0M1674 954h0M1678 1003h0M1681 999h0M1669 997h0M1697 1001h0M1695 1007h0M1677 964h0M1685 975h0M1690 947h0M1695 948h0M1694 966h0M1675 970h0M1680 995h0M1693 976h0M1693 1027h0M1695 964h0M1675 1041h0M1683 1000h0M1674 991h0M1674 954h0M1687 993h0M1668 1037h0M1697 999h0M1686 969h0M1676 1022h0M1675 993h0M1689 946h0M1680 954h0M1691 957h0M1673 1014h0M1690 1025h0M1681 1001h0M1699 1000h0M1686 992h0M1680 1041h0M1677 1027h0M1682 932h0M1691 1020h0M1682 1019h0M1699 971h0M1696 1023h0M1696 958h0M1677 1008h0M1670 962h0M1693 1016h0M1695 976h0M1690 1016h0M1667 945h0M1682 988h0M1677 968h0M1667 984h0M1694 973h0M1686 943h0M1668 978h0M1689 1009h0M1681 959h0M1695 1018h0M1691 1007h0M1680 951h0M1698 959h0M1671 942h0M1671 1031h0M1697 1021h0M1669 972h0M1680 1027h0M1672 1000h0M1679 936h0M1686 975h0M1670 1001h0M1678 979h0M1669 976h0M1672 963h0M1679 977h0M1671 945h0M1679 1014h0M1685 984h0M1670 1006h0M1683 980h0M1687 1014h0M1680 974h0M1688 955h0M1694 1035h0M1669 1011h0M1694 996h0M1688 981h0M1695 944h0M1667 944h0M1679 969h0M1680 1015h0M1688 966h0M1669 981h0M1678 938h0M1673 962h0M1670 983h0M1680 984h0M1684 969h0M1670 946h0M1688 1011h0M1698 1042h0M1688 942h0M1690 958h0M1685 952h0M1698 999h0M1686 998h0M1679 1009h0M1698 937h0M1697 1025h0M1667 1039h0M1684 1024h0M1685 962h0M1685 1016h0M1681 1039h0M1698 971h0M1672 1018h0M1698 1028h0M1677 1033h0M1690 962h0M1691 997h0M1677 940h0M1688 966h0M1686 1021h0M1690 978h0M1683 990h0M1693 1017h0M1694 972h0M1680 946h0M1677 1021h0M1690 943h0M1680 997h0M1683 964h0M1679 1002h0M1674 1041h0M1674 974h0M1691 1033h0M1691 1035h0M1683 937h0M1670 998h0M1674 987h0M1672 974h0M1677 974h0M1674 937h0M1684 1036h0M1694 1023h0M1690 985h0M1689 1031h0M1693 986h0M1673 1016h0M1699 1038h0M1690 946h0M1686 1002h0M1670 972h0M1693 946h0M1685 964h0M1667 1034h0M1686 970h0M1670 1021h0M1692 1013h0M1688 1032h0M1698 1027h0M1695 979h0M1690 1038h0M1677 979h0M1696 1016h0M1681 989h0M1680 944h0M1686 980h0M1688 967h0M1692 999h0M1675 962h0M1678 954h0M1698 1022h0M1677 1004h0M1694 1031h0M1674 1016h0M1688 1016h0M1679 1016h0M1687 984h0M1672 936h0M1667 1028h0M1697 986h0M1676 1002h0M1692 942h0M1694 1034h0M1685 941h0M1679 1005h0M1700 1025h0M1688 1002h0M1696 1008h0M1697 1006h0M1695 984h0M1697 1024h0M1694 999h0M1683 976h0M1674 989h0M1689 1026h0M1686 1012h0M1667 1013h0M1683 967h0M1668 969h0M1696 954h0M1692 1035h0M1668 963h0M1672 985h0M1683 957h0M1691 953h0M1689 1000h0M1672 944h0M1699 962h0M1680 994h0M1699 1019h0M1676 1009h0M1688 958h0M1693 970h0M1684 975h0M1696 1035h0M1689 1000h0M1677 1027h0M1674 1023h0M1700 954h0M1684 962h0M1690 1038h0M1694 1016h0M1677 1010h0M1688 962h0M1696 1010h0M1667 941h0M1696 997h0M1685 1032h0M1691 1025h0M1688 1023h0M1677 1006h0M1692 976h0M1689 992h0M1688 990h0M1690 1000h0M1683 1013h0M1689 980h0M1691 986h0M1691 1007h0M1696 1023h0M1675 1024h0M1692 949h0M1677 1004h0M1680 933h0M1684 1041h0M1686 972h0M1675 963h0M1679 939h0M1674 1018h0M1697 955h0M1678 945h0M1689 1035h0M1690 979h0M1677 997h0M1667 1036h0M1674 1019h0M1672 979h0M1684 976h0M1696 990h0M1667 1018h0M1683 993h0M1689 1024h0M1681 933h0M1700 1037h0M1682 941h0M1669 1038h0M1695 980h0M1671 1008h0M1669 996h0M1668 1011h0M1684 1011h0M1676 960h0M1695 956h0M1682 975h0M1696 1024h0M1687 1008h0M1673 963h0M1673 1011h0M1683 1040h0M1691 1005h0M1693 1023h0M1680 957h0M1673 976h0M1677 997h0M1687 1022h0M1675 1022h0M1671 934h0M1667 957h0M1696 1026h0M1667 1009h0M1683 951h0M1688 1017h0M1679 1036h0M1670 1024h0M1694 998h0M1685 1022h0M1682 976h0M1689 986h0M1683 938h0M1699 960h0M1676 1004h0M1679 984h0M1700 997h0M1685 951h0M1673 985h0M1683 938h0M1673 970h0M1670 981h0M1667 1001h0M1683 1016h0M1698 990h0M1677 972h0M1690 1035h0M1692 938h0M1675 983h0M1672 940h0M1696 1004h0M1678 954h0M1695 1035h0M1677 932h0M1680 998h0M1699 1032h0M1699 977h0M1670 1036h0M1683 957h0M1696 992h0M1689 1003h0M1679 969h0M1677 1023h0M1671 934h0M1689 1040h0M1700 1022h0M1699 960h0M1690 1038h0M1670 942h0M1695 999h0M1678 951h0M1684 979h0M1683 963h0M1677 967h0M1667 1007h0M1679 938h0M1671 952h0M1686 1039h0M1669 1027h0M1676 970h0M1685 981h0M1670 956h0M1698 972h0M1686 980h0M1679 1007h0M1693 997h0M1688 960h0M1674 997h0M1682 1007h0M1673 960h0M1679 1014h0M1693 967h0M1693 1023h0M1687 1025h0M1682 1034h0M1676 1018h0M1689 1011h0M1683 970h0M1672 977h0M1668 1037h0M1685 981h0M1679 989h0M1681 1028h0M1693 984h0M1678 999h0M1694 945h0M1678 985h0M1695 1011h0M1682 962h0M1699 970h0M1682 954h0M1697 940h0M1680 1028h0M1685 976h0M1681 972h0"/><path d="M1692 1010h0M1680 960h0M1683 1024h0M1684 978h0M1669 1015h0M1683 997h0M1691 967h0M1692 979h0M1678 954h0M1686 949h0M1691 968h0M1669 1001h0M1689 1015h0M1684 1040h0M1682 1040h0M1697 963h0M1685 997h0M1691 948h0M1691 992h0M1684 952h0M1680 1041h0M1677 982h0M1690 981h0M1669 1012h0M1679 1024h0M1699 1023h0M1683 970h0M1680 1011h0M1678 1036h0M1699 990h0M1672 978h0M1678 1035h0M1696 953h0M1669 1015h0M1696 955h0M1693 982h0M1687 1006h0M1678 989h0M1688 965h0M1670 1024h0M1673 988h0M1684 1011h0M1684 994h0M1683 1021h0M1698 1029h0M1698 959h0M1670 997h0M1681 943h0M1686 1014h0M1693 999h0M1675 982h0M1686 1039h0M1693 988h0M1671 947h0M1685 960h0M1674 1019h0M1694 942h0M1688 1030h0M1671 1000h0M1673 942h0M1682 944h0M1673 979h0M1668 971h0M1691 961h0M1670 935h0M1698 937h0M1698 1029h0M1700 962h0M1687 935h0M1696 983h0M1685 1036h0M1687 950h0M1682 959h0M1695 1024h0M1696 949h0M1698 1017h0M1671 977h0M1685 993h0M1686 968h0M1694 989h0M1683 1007h0M1675 1014h0M1698 936h0M1670 975h0M1669 991h0M1678 1001h0M1682 1020h0M1673 1029h0M1692 987h0M1676 1003h0M1687 940h0M1681 1026h0M1700 940h0M1670 1007h0M1686 936h0M1671 969h0M1695 973h0M1689 1039h0M1693 947h0M1674 1003h0M1677 1037h0M1683 1039h0M1692 1002h0M1699 1026h0M1698 1031h0M1685 937h0M1694 952h0M1700 1038h0M1696 1008h0M1686 1009h0M1699 1016h0M1674 1019h0M1681 1029h0M1689 973h0M1675 965h0M1691 944h0M1685 973h0M1670 949h0M1691 976h0M1677 967h0M1674 956h0M1667 1036h0M1698 1038h0M1692 989h0M1693 976h0M1676 1023h0M1682 1012h0M1689 961h0M1679 991h0M1691 1029h0M1682 1027h0M1682 936h0M1673 936h0M1693 1040h0M1695 968h0M1688 1014h0M1686 960h0M1690 978h0M1682 1032h0M1681 987h0M1695 963h0M1695 995h0M1698 972h0M1679 997h0M1693 939h0M1690 960h0M1688 1041h0M1698 972h0M1693 966h0M1696 1015h0M1689 1023h0M1699 1006h0M1667 985h0M1676 1011h0M1699 973h0M1678 985h0M1681 990h0M1700 973h0M1697 1025h0M1669 1004h0M1689 974h0M1676 975h0M1691 979h0M1681 1017h0M1677 1039h0M1700 970h0M1699 1007h0M1693 1008h0M1669 969h0M1696 954h0M1692 942h0M1679 996h0M1683 1041h0M1686 976h0M1691 1011h0M1698 984h0M1677 946h0M1694 937h0M1667 969h0M1680 939h0M1678 945h0M1693 935h0M1685 997h0M1696 1000h0M1675 1004h0M1678 947h0M1698 946h0M1699 964h0M1699 935h0M1691 986h0M1680 959h0M1683 978h0M1673 952h0M1668 965h0M1678 980h0M1692 1036h0M1694 1038h0M1667 977h0M1699 1033h0M1686 1015h0M1672 964h0M1684 962h0M1693 999h0M1695 965h0M1669 957h0M1674 1034h0M1675 988h0M1672 957h0M1678 995h0M1676 980h0M1669 1041h0M1693 982h0M1667 1002h0M1700 961h0M1670 980h0M1687 1020h0M1677 1019h0M1675 1022h0M1690 981h0M1696 1010h0M1696 958h0M1690 993h0M1682 1021h0M1694 1031h0M1667 961h0M1673 990h0M1675 1030h0M1685 955h0M1698 974h0M1684 972h0M1673 971h0M1679 969h0M1696 1012h0M1689 1030h0M1669 1017h0M1683 1022h0M1673 975h0M1694 1017h0M1683 957h0M1691 989h0M1667 954h0M1692 994h0M1690 951h0M1675 947h0M1690 1029h0M1692 1039h0M1683 989h0M1674 957h0M1700 987h0M1683 975h0M1689 1019h0M1682 982h0M1672 991h0M1674 1001h0M1679 991h0M1672 1030h0M1675 947h0M1677 999h0M1681 934h0M1671 1017h0M1685 1041h0M1680 983h0M1690 943h0M1673 991h0M1671 1036h0M1668 1001h0M1690 960h0M1691 995h0M1700 1031h0M1689 949h0M1675 1005h0M1680 945h0M1688 1011h0M1692 991h0M1672 1017h0M1692 985h0M1693 1000h0M1673 1015h0M1695 974h0M1688 996h0M1689 1028h0M1686 948h0M1679 999h0M1689 946h0M1677 1012h0M1684 977h0M1693 955h0M1697 957h0M1686 1003h0M1679 1008h0M1677 952h0M1685 1016h0M1672 1023h0M1698 966h0M1675 974h0M1671 1013h0M1672 937h0M1668 1030h0M1669 1015h0M1687 952h0M1697 988h0M1673 998h0M1688 1032h0M1688 1033h0M1700 996h0M1693 950h0M1685 1014h0M1693 1028h0M1670 937h0M1685 936h0M1686 984h0M1667 994h0M1671 1030h0M1672 937h0M1671 1003h0M1688 948h0M1698 1038h0M1694 947h0M1689 1000h0M1700 1040h0M1693 1041h0M1698 968h0M1670 1002h0M1686 966h0M1691 961h0M1691 997h0M1695 932h0M1669 1025h0M1690 991h0M1691 955h0M1677 972h0M1677 967h0M1675 994h0M1674 953h0M1674 935h0M1671 973h0M1694 1018h0M1687 948h0M1676 935h0M1673 989h0M1669 1022h0M1670 983h0M1699 1039h0M1674 996h0M1694 1038h0M1694 1010h0M1675 980h0M1685 989h0M1667 975h0M1690 940h0M1695 965h0M1671 983h0M1675 1038h0M1667 1026h0M1672 1010h0M1679 947h0M1686 1018h0M1668 1025h0M1669 1036h0M1668 966h0M1678 974h0M1688 981h0M1670 959h0M1672 1001h0M1682 1023h0M1685 1032h0M1676 1041h0M1670 966h0M1695 1008h0M1672 1009h0M1681 1023h0M1692 986h0M1681 1003h0M1692 990h0M1688 1000h0M1698 1037h0M1670 996h0M1667 1027h0M1679 948h0M1681 970h0M1684 1015h0M1680 996h0M1687 1023h0M1676 952h0M1686 1014h0M1679 965h0M1675 998h0M1690 956h0M1693 1020h0M1697 979h0M1700 1031h0M1699 1040h0M1670 1023h0M1670 964h0M1687 976h0M1685 995h0M1676 1032h0M1699 1033h0M1687 999h0M1689 964h0M1694 971h0M1692 954h0M1700 1021h0M1687 972h0M1685 963h0M1667 989h0M1700 999h0M1667 1032h0M1672 960h0M1689 972h0M1676 959h0M1669 1011h0M1677 965h0M1698 943h0M1679 968h0M1680 934h0M1676 950h0M1693 1015h0M1691 939h0M1696 973h0M1674 953h0M1700 1006h0M1684 1033h0M1698 940h0M1675 974h0M1700 999h0M1677 1020h0M1669 990h0M1680 981h0M1682 941h0M1687 946h0M1699 933h0M1679 1032h0M1675 947h0M1680 942h0M1685 1016h0M1692 996h0M1677 992h0M1686 978h0M1670 997h0M1697 1013h0M1685 1000h0M1676 1022h0M1668 997h0M1677 973h0M1674 995h0M1691 1012h0M1676 982h0M1699 953h0M1699 988h0M1687 940h0M1684 956h0M1677 946h0M1670 938h0M1699 981h0M1676 1020h0M1697 1007h0M1688 993h0M1672 967h0M1681 964h0M1690 1019h0M1679 998h0M1689 1013h0M1690 1034h0M1679 1014h0M1689 971h0M1692 962h0M1673 988h0M1668 997h0M1677 1002h0M1682 993h0M1688 953h0M1688 1024h0M1693 981h0M1689 1020h0M1674 1001h0M1680 938h0M1673 1023h0M1698 1018h0M1688 972h0"/><path d="M1667 1024h0M1698 981h0M1684 972h0M1695 959h0M1671 995h0M1682 970h0M1697 1006h0M1680 961h0M1684 943h0M1672 1024h0M1699 1033h0M1689 967h0M1698 1024h0M1680 1017h0M1673 1018h0M1694 1024h0M1691 1038h0M1676 933h0M1691 1018h0M1680 962h0M1668 1033h0M1675 979h0M1697 948h0M1689 933h0M1695 977h0M1686 990h0M1695 997h0M1672 938h0M1685 1000h0M1696 966h0M1673 956h0M1686 1030h0M1693 991h0M1699 1039h0M1681 1040h0M1667 979h0M1673 971h0M1675 962h0M1698 996h0M1669 946h0M1668 989h0M1686 969h0M1684 1037h0M1697 952h0M1685 964h0M1696 984h0M1693 967h0M1674 945h0M1668 963h0M1681 945h0M1677 1009h0M1697 985h0M1687 1009h0M1683 965h0M1673 1033h0M1667 1009h0M1677 985h0M1668 936h0M1678 1001h0M1670 960h0M1672 1036h0M1672 966h0M1699 972h0M1696 1037h0M1688 984h0M1687 937h0M1685 989h0M1697 973h0M1671 998h0M1676 996h0M1695 1024h0M1682 1003h0M1682 956h0M1692 948h0M1688 976h0M1669 932h0M1672 1028h0M1687 955h0M1685 961h0M1668 957h0M1684 971h0M1686 1000h0M1676 961h0M1678 952h0M1671 945h0M1697 953h0M1687 990h0M1694 1026h0M1687 1037h0M1697 1005h0M1691 975h0M1683 1028h0M1681 972h0M1674 1027h0M1700 955h0M1667 938h0M1680 1019h0M1693 1042h0M1690 1033h0M1677 948h0M1694 1016h0M1674 1017h0M1683 979h0M1700 968h0M1673 939h0M1680 966h0M1690 1032h0M1677 964h0M1674 1020h0M1700 985h0M1672 1011h0M1685 1023h0M1690 1027h0M1684 1003h0M1681 947h0M1677 980h0M1680 1017h0M1683 988h0M1679 941h0M1668 934h0M1695 1038h0M1670 1009h0M1672 1009h0M1687 980h0M1673 970h0M1678 1038h0M1675 1039h0M1670 973h0M1695 1011h0M1683 952h0M1673 973h0M1689 953h0M1694 980h0M1699 1041h0M1682 978h0M1680 1030h0M1693 1022h0M1697 953h0M1672 1021h0M1668 1033h0M1678 1016h0M1681 994h0M1672 989h0M1671 1007h0M1681 1016h0M1688 941h0M1668 941h0M1669 1002h0M1692 987h0M1672 1005h0M1678 946h0M1690 940h0M1676 970h0M1691 997h0M1700 947h0M1694 1025h0M1678 1020h0M1680 974h0M1684 941h0M1667 997h0M1675 968h0M1671 986h0M1670 1004h0M1680 998h0M1691 1012h0M1688 1009h0M1685 946h0M1698 1014h0M1700 959h0M1675 1021h0M1696 1019h0M1697 937h0M1678 954h0M1693 1011h0M1678 995h0M1691 1014h0M1678 946h0M1689 969h0M1699 1011h0M1694 1011h0M1675 1019h0M1698 956h0M1694 975h0M1685 974h0M1688 980h0M1694 957h0M1696 984h0M1674 958h0M1676 933h0M1675 935h0M1699 1003h0M1699 1013h0M1697 957h0M1667 1025h0M1689 978h0M1695 971h0M1676 986h0M1689 983h0M1695 959h0M1688 966h0M1681 993h0M1675 992h0M1683 947h0M1689 988h0M1694 1008h0M1699 995h0M1699 932h0M1672 984h0M1692 1023h0M1679 1025h0M1678 989h0M1685 975h0M1677 937h0M1675 976h0M1693 980h0M1687 951h0M1669 1027h0M1696 1021h0M1697 936h0M1676 968h0M1669 979h0M1699 1023h0M1668 950h0M1692 1018h0M1672 969h0M1670 956h0M1677 961h0M1695 972h0M1676 946h0M1679 1039h0M1668 1032h0M1674 961h0M1685 962h0M1673 955h0M1688 950h0M1676 946h0M1685 1013h0M1667 983h0M1679 939h0M1688 1027h0M1683 1009h0M1669 989h0M1689 952h0M1681 933h0M1673 968h0M1683 998h0M1680 1030h0M1688 973h0M1688 973h0M1695 953h0M1668 967h0M1688 964h0M1692 932h0M1700 975h0M1699 976h0M1695 952h0M1687 950h0M1685 992h0M1675 992h0M1671 989h0M1688 1013h0M1691 976h0M1689 1015h0M1679 1009h0M1679 1034h0M1668 1020h0M1671 976h0M1683 976h0M1698 964h0M1678 947h0M1690 942h0M1696 981h0M1684 984h0M1696 961h0M1688 958h0M1680 1002h0M1698 1026h0M1681 991h0M1700 994h0M1700 938h0M1683 959h0M1690 934h0M1676 1008h0M1677 997h0M1681 955h0M1688 942h0M1679 952h0M1688 976h0M1668 1019h0M1679 990h0M1686 957h0M1669 1028h0M1697 939h0M1690 1029h0M1680 1020h0M1688 1024h0M1670 998h0M1694 1016h0M1683 1014h0M1681 1006h0M1677 974h0M1678 1002h0M1684 996h0M1691 1029h0M1696 948h0M1677 941h0M1670 1002h0M1681 967h0M1670 950h0M1678 963h0M1688 940h0M1687 944h0M1673 1019h0M1685 937h0M1686 1030h0M1685 996h0M1695 1014h0M1698 940h0M1685 1000h0M1697 962h0M1696 1007h0M1692 1041h0M1668 973h0M1679 1025h0M1686 998h0M1667 1020h0M1699 1012h0M1693 1017h0M1689 975h0M1688 973h0M1693 985h0M1674 994h0M1667 988h0M1696 962h0M1682 964h0M1680 1023h0M1689 998h0M1678 965h0M1688 972h0M1678 988h0M1694 1007h0M1671 994h0M1693 977h0M1681 978h0M1680 1019h0M1694 942h0M1697 977h0M1693 1018h0M1699 1030h0M1690 1018h0M1673 948h0M1668 996h0M1691 966h0M1677 956h0M1693 939h0M1673 970h0M1673 1002h0M1677 976h0M1678 979h0M1695 954h0M1669 1024h0M1677 993h0M1669 953h0M1692 1023h0M1679 1033h0M1696 1002h0M1668 1005h0M1673 1017h0M1676 1003h0M1680 1028h0M1687 971h0M1671 966h0M1692 952h0M1676 947h0M1688 940h0M1687 962h0M1674 937h0M1695 976h0M1670 976h0M1673 1016h0M1672 979h0M1671 973h0M1685 963h0M1676 1012h0M1699 989h0M1686 1026h0M1672 995h0M1694 1010h0M1679 994h0M1686 990h0M1695 979h0M1667 1029h0M1694 1017h0M1697 938h0M1680 968h0M1674 993h0M1692 977h0M1700 1009h0M1667 977h0M1683 1036h0M1695 941h0M1686 991h0M1687 1012h0M1691 1014h0M1680 962h0M1698 1020h0M1672 975h0M1677 953h0M1695 1011h0M1686 1038h0M1676 962h0M1681 1024h0M1682 985h0M1672 1035h0M1689 953h0M1678 975h0M1681 989h0M1667 934h0M1696 997h0M1675 946h0M1686 1018h0M1685 1032h0M1680 990h0M1667 989h0M1681 1000h0M1676 1022h0M1674 976h0M1695 1028h0M1682 949h0M1689 982h0M1674 1016h0M1672 968h0M1680 988h0M1695 937h0M1692 1029h0M1692 975h0M1684 1002h0M1698 995h0M1679 1003h0M1687 1036h0M1694 960h0M1696 954h0M1670 933h0M1689 959h0M1679 953h0M1672 962h0M1697 935h0M1675 1034h0M1677 934h0M1671 1022h0M1673 948h0M1688 965h0M1673 991h0M1687 1018h0M1696 988h0M1674 959h0M1672 1013h0M1671 991h0M1676 966h0M1674 1031h0M1670 942h0M1681 949h0M1679 963h0M1700 1006h0M1699 973h0M1682 967h0M1668 982h0M1692 940h0M1679 977h0M1693 1002h0M1700 934h0M1683 940h0M1696 950h0M1668 990h0M1667 943h0M1698 981h0M1692 989h0M1679 997h0M1676 937h0M1673 941h0"/><path d="M1687 996h0M1676 957h0M1698 962h0M1689 941h0M1677 963h0M1684 1022h0M1686 943h0M1691 976h0M1682 1018h0M1699 979h0M1677 949h0M1673 981h0M1669 938h0M1690 963h0M1697 942h0M1692 954h0M1669 1020h0M1681 1011h0M1671 995h0M1681 962h0M1699 1031h0M1680 982h0M1679 960h0M1695 942h0M1679 1018h0M1670 986h0M1690 968h0M1691 977h0M1675 1018h0M1683 1010h0M1677 979h0M1676 948h0M1697 1002h0M1685 1027h0M1689 1027h0M1668 1039h0M1667 989h0M1669 966h0M1699 998h0M1684 1031h0M1687 979h0M1686 991h0M1681 972h0M1692 936h0M1673 1016h0M1674 968h0M1688 985h0M1692 1006h0M1668 972h0M1671 1035h0M1681 985h0M1684 1000h0M1682 958h0M1668 994h0M1673 1014h0M1674 969h0M1689 969h0M1684 1010h0M1679 933h0M1675 938h0M1679 972h0M1692 1040h0M1691 997h0M1687 952h0M1700 956h0M1681 1022h0M1679 1035h0M1676 1005h0M1671 982h0M1690 1036h0M1667 990h0M1669 980h0M1687 1012h0M1690 1029h0M1674 1035h0M1678 934h0M1682 983h0M1690 1026h0M1681 1034h0M1685 975h0M1671 943h0M1680 943h0M1690 944h0M1695 1034h0M1698 948h0M1696 939h0M1697 1030h0M1695 1006h0M1673 956h0M1669 955h0M1682 1011h0M1680 965h0M1686 1016h0M1700 941h0M1689 1040h0M1694 962h0M1690 1028h0M1690 945h0M1674 952h0M1668 1003h0M1680 958h0M1669 953h0M1697 970h0M1694 991h0M1700 1010h0M1671 1018h0M1683 1032h0M1690 976h0M1693 1017h0M1671 1029h0M1690 933h0M1697 950h0M1693 1003h0M1678 1024h0M1674 960h0M1684 937h0M1677 1016h0M1671 961h0M1689 941h0M1693 962h0M1689 954h0M1694 962h0M1689 967h0M1682 952h0M1678 961h0M1674 1022h0M1697 1026h0M1693 956h0M1689 974h0M1689 1029h0M1676 953h0M1671 971h0M1668 986h0M1686 984h0M1671 945h0M1671 979h0M1696 1007h0M1671 989h0M1684 987h0M1676 936h0M1697 1023h0M1688 996h0M1690 946h0M1690 963h0M1691 1003h0M1700 951h0M1690 954h0M1683 999h0M1689 975h0M1694 938h0M1679 1028h0M1687 955h0M1690 957h0M1684 978h0M1674 1021h0M1682 973h0M1669 944h0M1674 992h0M1676 996h0M1688 1014h0M1674 985h0M1671 1040h0M1684 992h0M1685 992h0M1695 946h0M1692 1001h0M1684 985h0M1681 942h0M1678 1040h0M1678 995h0M1695 976h0M1695 1017h0M1686 1041h0M1690 1000h0M1695 932h0M1692 999h0M1667 1035h0M1685 942h0M1672 960h0M1690 961h0M1684 1021h0M1696 950h0M1673 989h0M1675 973h0M1691 953h0M1693 976h0M1681 993h0M1685 994h0M1680 1005h0M1697 983h0M1700 1009h0M1674 981h0M1680 1005h0M1688 936h0M1676 1020h0M1684 948h0M1687 963h0M1679 1031h0M1693 978h0M1678 1005h0M1671 1000h0M1696 1028h0M1676 1017h0M1689 995h0M1673 949h0M1669 938h0M1673 968h0M1677 1005h0M1669 1000h0M1693 986h0M1681 1025h0M1689 961h0M1669 962h0M1690 1009h0M1697 969h0M1696 1010h0M1685 1028h0M1693 966h0M1676 966h0M1677 951h0M1667 987h0M1699 951h0M1678 960h0M1688 981h0M1686 960h0M1685 1009h0M1698 1039h0M1669 1040h0M1692 1023h0M1690 948h0M1669 995h0M1699 1017h0M1683 1001h0M1681 1015h0M1696 963h0M1699 956h0M1667 1024h0M1686 984h0M1700 994h0M1677 1009h0M1673 940h0M1687 934h0M1688 1015h0M1673 933h0M1678 1015h0M1669 941h0M1679 960h0M1669 1026h0M1673 1013h0M1669 968h0M1677 1029h0M1694 1035h0M1674 970h0M1691 967h0M1677 1007h0M1695 1038h0M1668 980h0M1693 1040h0M1682 962h0M1700 989h0M1687 999h0M1694 946h0M1683 983h0M1698 1028h0M1670 1040h0M1679 989h0M1669 1019h0M1687 965h0M1679 1025h0M1690 1033h0M1673 968h0M1690 961h0M1681 949h0M1675 986h0M1670 1038h0M1667 1036h0M1672 959h0M1667 959h0M1684 1004h0M1688 1009h0M1693 935h0M1677 1001h0M1694 1020h0M1695 990h0M1699 969h0M1690 935h0M1694 1035h0M1668 1019h0M1674 975h0M1683 939h0M1692 1006h0M1699 983h0M1675 964h0M1684 947h0M1678 989h0M1680 958h0M1700 1016h0M1699 974h0M1668 950h0M1695 986h0M1691 1028h0M1687 1013h0M1689 976h0M1698 1033h0M1667 1009h0M1679 1002h0M1670 947h0M1685 940h0M1696 951h0M1698 1025h0M1691 940h0M1684 936h0M1673 1005h0M1668 989h0M1669 1014h0M1699 987h0M1681 992h0M1680 944h0M1683 961h0M1689 953h0M1677 1008h0M1680 1041h0M1699 1006h0M1668 1025h0M1685 998h0M1671 933h0M1671 984h0M1698 952h0M1695 1020h0M1699 980h0M1699 944h0M1671 947h0M1674 1025h0M1695 1004h0M1682 942h0M1695 1016h0M1668 992h0M1686 1032h0M1700 1040h0M1670 977h0M1678 948h0M1694 1011h0M1689 990h0M1692 997h0M1668 1024h0M1695 1005h0M1674 1023h0M1687 992h0M1692 936h0M1670 954h0M1686 935h0M1689 975h0M1677 973h0M1681 947h0M1686 977h0M1679 1015h0M1695 976h0M1677 989h0M1680 1010h0M1698 942h0M1698 1014h0M1672 981h0M1667 946h0M1696 977h0M1678 987h0M1694 960h0M1675 1017h0M1681 937h0M1671 943h0M1670 965h0M1680 977h0M1679 1027h0M1678 994h0M1692 1032h0M1685 990h0M1700 974h0M1678 977h0M1673 966h0M1668 1006h0M1669 964h0M1681 1002h0M1669 992h0M1677 1027h0M1680 1015h0M1681 952h0M1686 1024h0M1689 951h0M1676 991h0M1672 985h0M1697 965h0M1684 989h0M1699 1031h0M1678 1023h0M1683 935h0M1692 1019h0M1694 1018h0M1688 935h0M1688 950h0M1697 1016h0M1677 985h0M1688 989h0M1673 1036h0M1694 1008h0M1692 1020h0M1689 979h0M1698 992h0M1671 959h0M1700 973h0M1677 1023h0M1684 977h0M1691 1035h0M1699 995h0M1691 1007h0M1689 952h0M1684 964h0M1694 955h0M1668 966h0M1692 963h0M1677 939h0M1686 952h0M1678 1040h0M1667 1022h0M1676 975h0M1698 946h0M1689 1036h0M1675 1002h0M1681 1001h0M1685 966h0M1700 1040h0M1700 940h0M1697 1033h0M1694 1015h0M1680 940h0M1689 946h0M1677 1027h0M1682 943h0M1694 937h0M1699 960h0M1683 1034h0M1697 948h0M1692 966h0M1686 960h0M1668 1031h0M1671 966h0M1695 996h0M1692 960h0M1672 989h0M1677 972h0M1687 1016h0M1671 999h0M1697 1037h0M1671 957h0M1669 980h0M1669 953h0M1668 1038h0M1675 1008h0M1679 969h0M1690 987h0M1690 1022h0M1686 934h0M1699 993h0M1698 1012h0M1676 962h0M1677 1026h0M1700 935h0M1692 1041h0M1699 945h0M1692 1041h0M1674 1016h0M1678 970h0M1695 973h0M1695 957h0M1693 936h0M1671 1004h0M1675 955h0M1671 1040h0M1679 1037h0M1682 937h0M1695 1040h0M1681 1007h0"/><path d="M1675 941h0M1669 1014h0M1680 1002h0M1670 947h0M1677 977h0M1670 948h0M1693 1019h0M1675 953h0M1678 956h0M1700 944h0M1674 959h0M1689 1003h0M1699 939h0M1673 966h0M1683 991h0M1688 970h0M1696 967h0M1670 949h0M1691 1030h0M1671 981h0M1675 1023h0M1685 1016h0M1686 1031h0M1694 993h0M1683 995h0M1675 989h0M1688 945h0M1668 1032h0M1683 984h0M1683 1021h0M1687 1020h0M1676 992h0M1688 965h0M1691 1026h0M1684 966h0M1679 957h0M1684 940h0M1692 1037h0M1673 1038h0M1694 991h0M1672 988h0M1677 1014h0M1696 980h0M1674 1006h0M1676 1039h0M1679 965h0M1677 1026h0M1690 977h0M1674 1034h0M1685 994h0M1698 974h0M1691 1025h0M1682 944h0M1686 1022h0M1694 1010h0M1671 974h0M1685 981h0M1691 988h0M1683 971h0M1674 993h0M1669 999h0M1685 943h0M1679 944h0M1683 1023h0M1683 986h0M1669 1025h0M1687 971h0M1695 995h0M1675 934h0M1668 969h0M1699 1021h0M1700 936h0M1695 976h0M1673 968h0M1698 950h0M1674 986h0M1671 1000h0M1690 940h0M1688 936h0M1685 1032h0M1682 1005h0M1691 973h0M1670 955h0M1668 940h0M1671 1019h0M1699 961h0M1692 941h0M1699 997h0M1678 979h0M1682 986h0M1669 945h0M1667 1027h0M1667 967h0M1686 1039h0M1693 1011h0M1686 1027h0M1688 1040h0M1695 994h0M1700 1006h0M1694 1001h0M1697 940h0M1699 977h0M1694 988h0M1679 1011h0M1681 1002h0M1672 959h0M1695 1028h0M1690 1012h0M1700 990h0M1684 998h0M1676 1008h0M1674 1020h0M1683 978h0M1684 935h0M1675 964h0M1677 1033h0M1691 973h0M1689 938h0M1696 1005h0M1694 987h0M1672 998h0M1690 1036h0M1679 978h0M1667 937h0M1697 1030h0M1678 1016h0M1683 945h0M1690 1040h0M1684 1034h0M1693 975h0M1694 956h0M1690 1004h0M1675 1011h0M1679 937h0M1683 1019h0M1681 945h0M1696 1003h0M1695 967h0M1698 990h0M1679 956h0M1683 991h0M1678 968h0M1674 1005h0M1694 994h0M1678 1037h0M1668 992h0M1687 1032h0M1696 938h0M1669 1014h0M1673 957h0M1696 1032h0M1667 1009h0M1694 1006h0M1692 1013h0M1685 1040h0M1671 962h0M1700 995h0M1694 1003h0M1682 958h0M1679 1021h0M1691 1008h0M1670 980h0M1699 968h0M1672 961h0M1695 992h0M1684 992h0M1687 952h0M1678 1030h0M1670 946h0M1669 942h0M1694 1005h0M1698 1040h0M1677 946h0M1671 1010h0M1688 1041h0M1680 1007h0M1678 1037h0M1686 971h0M1682 1005h0M1689 1040h0M1690 988h0M1670 959h0M1668 945h0M1674 961h0M1670 963h0M1696 990h0M1676 948h0M1680 964h0M1679 986h0M1688 966h0M1668 985h0M1693 959h0M1685 981h0M1680 981h0M1693 955h0M1669 943h0M1673 1017h0M1674 977h0M1677 979h0M1679 951h0M1693 947h0M1695 985h0M1685 988h0M1667 1003h0M1679 978h0M1690 989h0M1669 944h0M1691 950h0M1699 1003h0M1699 1010h0M1682 1019h0M1688 1016h0M1673 984h0M1682 1041h0M1692 1001h0M1693 1032h0M1683 933h0M1673 1024h0M1680 966h0M1692 984h0M1676 995h0M1693 984h0M1697 1000h0M1696 944h0M1681 978h0M1698 1006h0M1680 996h0M1685 1032h0M1674 985h0M1682 941h0M1684 1024h0M1699 1033h0M1674 944h0M1694 1013h0M1686 1002h0M1689 955h0M1690 1001h0M1692 955h0M1669 991h0M1679 977h0M1689 950h0M1698 1010h0M1696 974h0M1687 967h0M1688 1035h0M1695 1021h0M1672 936h0M1696 1014h0M1667 1023h0M1690 998h0M1667 944h0M1671 973h0M1670 992h0M1670 994h0M1697 1035h0M1668 990h0M1675 1005h0M1676 1037h0M1677 958h0M1693 942h0M1691 984h0M1675 971h0M1673 990h0M1678 974h0M1681 959h0M1669 976h0M1689 1019h0M1695 995h0M1669 1038h0M1675 961h0M1683 1024h0M1668 1024h0M1695 955h0M1688 973h0M1689 1023h0M1683 1017h0M1690 1022h0M1672 1029h0M1688 955h0M1674 979h0M1686 976h0M1684 941h0M1673 937h0M1687 934h0M1675 977h0M1677 974h0M1685 968h0M1671 1011h0M1693 979h0M1692 986h0M1693 963h0M1684 977h0M1679 1026h0M1675 1023h0M1668 993h0M1695 972h0M1698 1032h0M1672 981h0M1685 942h0M1678 1041h0M1697 1007h0M1695 975h0M1676 1028h0M1673 970h0M1692 1022h0M1691 965h0M1676 974h0M1680 1011h0M1694 1000h0M1680 1025h0M1687 974h0M1695 1004h0M1672 1034h0M1687 1027h0M1678 979h0M1694 985h0M1692 1010h0M1687 985h0M1676 940h0M1688 1003h0M1698 962h0M1692 1022h0M1698 1017h0M1686 984h0M1679 935h0M1694 1003h0M1675 995h0M1679 1004h0M1680 971h0M1683 1029h0M1696 1040h0M1677 1014h0M1697 1036h0M1668 966h0M1678 1022h0M1671 953h0M1674 1040h0M1694 1006h0M1697 954h0M1684 955h0M1690 965h0M1676 971h0M1690 1018h0M1694 944h0M1673 987h0M1699 993h0M1689 956h0M1695 1031h0M1694 1027h0M1693 1025h0M1699 1026h0M1688 1026h0M1682 939h0M1696 1006h0M1686 997h0M1668 1019h0M1698 934h0M1690 977h0M1685 1002h0M1668 981h0M1671 990h0M1692 933h0M1690 951h0M1690 997h0M1700 1039h0M1684 954h0M1673 1006h0M1688 970h0M1688 973h0M1679 1037h0M1681 1021h0M1675 985h0M1698 1005h0M1677 1000h0M1698 950h0M1669 1004h0M1699 961h0M1685 1039h0M1682 1022h0M1670 1023h0M1684 940h0M1693 940h0M1687 1026h0M1675 958h0M1686 976h0M1667 1039h0M1689 987h0M1697 957h0M1686 991h0M1684 1016h0M1677 958h0M1690 985h0M1691 1031h0M1676 978h0M1682 954h0M1696 956h0M1688 1023h0M1696 940h0M1675 999h0M1691 995h0M1692 1031h0M1692 946h0M1667 944h0M1692 1019h0M1667 1008h0M1689 959h0M1679 986h0M1688 1024h0M1683 936h0M1675 1030h0M1692 1041h0M1679 1029h0M1696 992h0M1686 1027h0M1685 981h0M1691 1041h0M1699 944h0M1685 950h0M1683 1019h0M1691 1006h0M1699 948h0M1671 980h0M1678 974h0M1687 974h0M1675 966h0M1696 955h0M1694 978h0M1674 979h0M1672 1036h0M1684 934h0M1678 951h0M1695 1016h0M1673 1023h0M1672 986h0M1699 1035h0M1674 940h0M1670 1005h0M1671 1018h0M1672 998h0M1682 980h0M1679 940h0M1667 988h0M1687 950h0M1699 958h0M1676 956h0M1683 993h0M1679 973h0M1674 1024h0M1671 1038h0M1670 1040h0M1667 940h0M1680 991h0M1670 1018h0M1672 1027h0M1679 1008h0M1674 997h0M1670 994h0M1674 961h0M1685 939h0M1684 968h0M1673 975h0M1697 1016h0M1697 971h0M1668 949h0M1669 953h0M1679 951h0M1699 987h0M1686 945h0M1669 970h0M1687 1013h0M1691 965h0M1682 1013h0M1694 958h0M1670 1009h0M1693 1026h0M1682 1031h0M1698 956h0M1696 985h0M1682 1005h0M1672 955h0"/></g><g fill="#A6761D" fill-opacity="0.17" stroke="#A6761D" stroke-opacity="0.32" stroke-width="0.9"><circle cx="1689.3" cy="1041.3"/><circle cx="1670.4" cy="1040.7"/><circle cx="1698.8" cy="1039.2"/><circle cx="1692.6" cy="1040.4"/><circle cx="1693.6" cy="1040.3"/><circle cx="1683.8" cy="1043.4"/><circle cx="1697.6" cy="1042.2"/><circle cx="1687.6" cy="1041.6"/><circle cx="1689.6" cy="1039.1"/><circle cx="1696.6" cy="1039.3"/><circle cx="1690.5" cy="1039.8"/><circle cx="1695.3" cy="1039.2"/><circle cx="1668.7" cy="1040.6"/><circle cx="1688.0" cy="1042.4"/><circle cx="1696.5" cy="1043.7"/><circle cx="1669.2" cy="1041.7"/><circle cx="1669.9" cy="1040.4"/><circle cx="1668.6" cy="1039.4"/><circle cx="1685.7" cy="1040.2"/><circle cx="1674.9" cy="1041.8"/><circle cx="1678.6" cy="1043.2"/><circle cx="1696.9" cy="1040.5"/><circle cx="1673.0" cy="1039.1"/><circle cx="1693.9" cy="1039.8"/><circle cx="1698.0" cy="902.2"/><circle cx="1676.0" cy="921.0"/><circle cx="1686.9" cy="931.8"/><circle cx="1687.1" cy="927.9"/><circle cx="1691.2" cy="930.9"/><circle cx="1667.4" cy="901.0"/><circle cx="1695.3" cy="924.6"/><circle cx="1695.9" cy="901.2"/><circle cx="1673.0" cy="920.2"/><circle cx="1685.6" cy="901.4"/><circle cx="1685.8" cy="903.7"/><circle cx="1684.9" cy="909.5"/><circle cx="1686.3" cy="924.8"/><circle cx="1672.1" cy="908.7"/><circle cx="1672.4" cy="928.3"/><circle cx="1670.0" cy="919.2"/><circle cx="1675.4" cy="913.0"/><circle cx="1690.1" cy="911.2"/><circle cx="1694.9" cy="918.6"/><circle cx="1687.2" cy="925.2"/><circle cx="1669.7" cy="916.3"/><circle cx="1688.4" cy="916.9"/><circle cx="1691.9" cy="932.2"/><circle cx="1677.1" cy="931.0"/><circle cx="1673.1" cy="931.4"/><circle cx="1693.1" cy="904.7"/><circle cx="1685.6" cy="914.9"/><circle cx="1698.6" cy="918.0"/><circle cx="1686.2" cy="906.9"/><circle cx="1697.7" cy="919.7"/><circle cx="1695.1" cy="916.3"/><circle cx="1668.1" cy="910.7"/><circle cx="1682.2" cy="928.1"/><circle cx="1690.0" cy="932.9"/><circle cx="1697.4" cy="900.5"/><circle cx="1674.2" cy="924.1"/><circle cx="1670.7" cy="908.9"/><circle cx="1681.3" cy="906.5"/><circle cx="1689.8" cy="902.7"/><circle cx="1681.9" cy="924.0"/><circle cx="1693.4" cy="924.9"/><circle cx="1694.8" cy="926.3"/><circle cx="1677.9" cy="926.9"/><circle cx="1679.3" cy="919.1"/><circle cx="1694.3" cy="925.1"/><circle cx="1676.2" cy="928.5"/><circle cx="1674.6" cy="918.5"/><circle cx="1691.0" cy="915.7"/><circle cx="1675.7" cy="921.8"/><circle cx="1693.7" cy="927.6"/><circle cx="1690.6" cy="922.8"/><circle cx="1672.6" cy="908.3"/><circle cx="1670.8" cy="910.3"/><circle cx="1673.8" cy="905.4"/><circle cx="1683.8" cy="924.2"/><circle cx="1681.8" cy="923.7"/><circle cx="1692.4" cy="910.0"/><circle cx="1672.3" cy="925.3"/><circle cx="1699.1" cy="921.3"/><circle cx="1667.6" cy="912.9"/><circle cx="1690.1" cy="904.4"/><circle cx="1697.0" cy="932.7"/><circle cx="1684.6" cy="927.0"/><circle cx="1670.8" cy="913.8"/><circle cx="1696.4" cy="924.5"/><circle cx="1694.2" cy="904.3"/><circle cx="1682.2" cy="915.1"/><circle cx="1695.9" cy="910.6"/><circle cx="1668.5" cy="902.7"/><circle cx="1694.9" cy="930.2"/><circle cx="1698.7" cy="903.8"/><circle cx="1698.6" cy="925.3"/><circle cx="1693.0" cy="928.0"/><circle cx="1684.6" cy="912.8"/><circle cx="1697.4" cy="931.2"/><circle cx="1698.0" cy="906.5"/><circle cx="1698.9" cy="918.3"/><circle cx="1679.2" cy="928.6"/><circle cx="1677.5" cy="923.4"/><circle cx="1675.3" cy="913.9"/><circle cx="1675.0" cy="920.7"/><circle cx="1684.7" cy="910.7"/><circle cx="1684.1" cy="902.5"/><circle cx="1673.4" cy="930.2"/><circle cx="1667.9" cy="918.9"/><circle cx="1695.2" cy="917.3"/><circle cx="1674.4" cy="901.6"/><circle cx="1676.3" cy="933.0"/><circle cx="1685.8" cy="916.2"/><circle cx="1677.9" cy="929.0"/><circle cx="1682.8" cy="903.2"/><circle cx="1667.3" cy="915.1"/><circle cx="1669.0" cy="913.8"/><circle cx="1691.4" cy="924.9"/><circle cx="1670.1" cy="911.3"/><circle cx="1685.6" cy="906.3"/><circle cx="1666.7" cy="917.0"/><circle cx="1693.2" cy="904.5"/><circle cx="1682.8" cy="904.7"/><circle cx="1689.1" cy="920.9"/><circle cx="1698.1" cy="922.6"/><circle cx="1695.7" cy="925.5"/><circle cx="1689.1" cy="915.4"/><circle cx="1679.3" cy="930.2"/><circle cx="1673.1" cy="919.8"/><circle cx="1690.0" cy="918.2"/><circle cx="1680.3" cy="903.9"/><circle cx="1675.8" cy="928.6"/><circle cx="1681.5" cy="908.8"/><circle cx="1667.5" cy="901.2"/><circle cx="1694.4" cy="906.6"/><circle cx="1673.6" cy="907.2"/><circle cx="1679.4" cy="911.1"/><circle cx="1670.8" cy="911.1"/><circle cx="1686.0" cy="923.0"/><circle cx="1698.8" cy="915.5"/><circle cx="1679.3" cy="910.0"/><circle cx="1699.1" cy="902.8"/><circle cx="1676.9" cy="901.5"/><circle cx="1696.7" cy="922.8"/><circle cx="1671.0" cy="920.4"/><circle cx="1669.2" cy="904.1"/><circle cx="1676.0" cy="930.2"/><circle cx="1684.1" cy="903.9"/><circle cx="1697.4" cy="909.6"/><circle cx="1685.3" cy="927.8"/><circle cx="1693.9" cy="912.3"/><circle cx="1671.3" cy="926.8"/><circle cx="1683.1" cy="919.8"/><circle cx="1692.6" cy="929.2"/><circle cx="1678.4" cy="903.8"/><circle cx="1676.2" cy="902.4"/><circle cx="1688.7" cy="920.4"/><circle cx="1676.3" cy="905.9"/><circle cx="1693.4" cy="907.3"/><circle cx="1698.3" cy="912.2"/><circle cx="1671.7" cy="913.9"/><circle cx="1672.9" cy="903.0"/><circle cx="1682.4" cy="916.3"/><circle cx="1674.8" cy="919.7"/><circle cx="1683.2" cy="919.7"/><circle cx="1699.1" cy="909.1"/><circle cx="1670.4" cy="916.7"/><circle cx="1668.1" cy="918.1"/><circle cx="1697.9" cy="904.9"/><circle cx="1683.4" cy="928.7"/><circle cx="1666.9" cy="907.6"/><circle cx="1688.4" cy="910.0"/><circle cx="1673.3" cy="928.0"/><circle cx="1681.5" cy="916.5"/><circle cx="1688.9" cy="929.8"/><circle cx="1696.9" cy="926.3"/><circle cx="1690.6" cy="935.5"/><circle cx="1699.0" cy="937.1"/><circle cx="1697.0" cy="922.2"/><circle cx="1676.6" cy="925.8"/><circle cx="1677.2" cy="933.1"/><circle cx="1667.2" cy="932.4"/><circle cx="1679.1" cy="926.1"/><circle cx="1671.4" cy="921.8"/><circle cx="1697.8" cy="922.2"/><circle cx="1677.8" cy="936.6"/><circle cx="1682.0" cy="937.0"/><circle cx="1694.2" cy="928.6"/><circle cx="1672.3" cy="936.7"/><circle cx="1699.1" cy="936.0"/><circle cx="1678.8" cy="926.5"/><circle cx="1673.6" cy="935.1"/><circle cx="1678.9" cy="931.1"/><circle cx="1695.8" cy="934.8"/><circle cx="1689.5" cy="934.5"/><circle cx="1691.4" cy="923.1"/><circle cx="1689.7" cy="935.9"/><circle cx="1681.5" cy="929.4"/><circle cx="1678.4" cy="925.8"/><circle cx="1689.9" cy="929.6"/><circle cx="1694.6" cy="932.9"/><circle cx="1672.6" cy="926.6"/><circle cx="1673.3" cy="936.3"/><circle cx="1667.8" cy="934.4"/><circle cx="1693.9" cy="936.6"/><circle cx="1686.5" cy="929.9"/><circle cx="1699.4" cy="925.8"/><circle cx="1679.8" cy="926.7"/><circle cx="1672.6" cy="923.0"/><circle cx="1687.9" cy="936.5"/><circle cx="1695.5" cy="929.5"/><circle cx="1668.7" cy="936.8"/><circle cx="1685.2" cy="931.4"/><circle cx="1682.8" cy="935.5"/><circle cx="1671.2" cy="923.7"/><circle cx="1680.0" cy="921.9"/><circle cx="1691.3" cy="936.9"/><circle cx="1676.9" cy="936.7"/><circle cx="1695.6" cy="927.9"/><circle cx="1676.8" cy="930.8"/><circle cx="1677.2" cy="930.5"/><circle cx="1698.2" cy="931.1"/><circle cx="1689.0" cy="929.9"/><circle cx="1670.7" cy="930.2"/><circle cx="1699.8" cy="933.9"/><circle cx="1685.8" cy="936.6"/><circle cx="1699.0" cy="928.5"/><circle cx="1668.6" cy="930.8"/><circle cx="1680.7" cy="929.1"/><circle cx="1690.4" cy="930.0"/><circle cx="1690.3" cy="923.2"/><circle cx="1686.6" cy="922.5"/><circle cx="1700.0" cy="926.8"/><circle cx="1699.5" cy="927.4"/><circle cx="1671.8" cy="889.0"/><circle cx="1686.0" cy="898.4"/><circle cx="1693.6" cy="902.5"/><circle cx="1698.9" cy="897.9"/><circle cx="1666.9" cy="894.5"/><circle cx="1690.3" cy="899.1"/><circle cx="1669.9" cy="900.7"/><circle cx="1676.1" cy="888.5"/><circle cx="1691.9" cy="895.0"/><circle cx="1694.0" cy="904.1"/><circle cx="1675.7" cy="893.3"/><circle cx="1674.5" cy="895.6"/><circle cx="1697.5" cy="888.6"/><circle cx="1683.6" cy="903.0"/><circle cx="1677.2" cy="890.6"/><circle cx="1698.8" cy="904.1"/><circle cx="1698.0" cy="887.1"/><circle cx="1675.6" cy="889.5"/><circle cx="1672.1" cy="903.2"/><circle cx="1672.9" cy="901.3"/><circle cx="1668.6" cy="887.6"/><circle cx="1689.9" cy="905.8"/><circle cx="1669.3" cy="890.1"/><circle cx="1676.9" cy="906.6"/><circle cx="1672.5" cy="902.7"/><circle cx="1684.4" cy="902.1"/><circle cx="1676.0" cy="901.4"/><circle cx="1686.8" cy="888.8"/><circle cx="1671.0" cy="900.7"/><circle cx="1668.3" cy="899.6"/><circle cx="1673.2" cy="899.6"/><circle cx="1680.2" cy="889.7"/><circle cx="1685.8" cy="896.4"/><circle cx="1675.9" cy="904.0"/><circle cx="1697.2" cy="906.7"/><circle cx="1675.1" cy="890.6"/><circle cx="1695.0" cy="898.8"/><circle cx="1697.2" cy="901.4"/><circle cx="1675.4" cy="887.0"/><circle cx="1667.5" cy="895.0"/><circle cx="1681.6" cy="872.8"/><circle cx="1681.9" cy="874.3"/></g></g>
<text x="1692.6" y="1100.5" font-size="19.7" text-anchor="end" transform="rotate(-40 1692.6 1100.5)" fill="#4d4d4d">South-west (SW)</text>
<line x1="1751.8" x2="1751.8" y1="983.3" y2="1007.2" stroke="#000" stroke-width="1.9"/>
<line x1="1751.8" x2="1751.8" y1="1025.3" y2="1034.4" stroke="#000" stroke-width="1.9"/>
<rect x="1726.0" y="1007.2" width="51.6" height="18.1" fill="#666666" fill-opacity="0.25" stroke="#000" stroke-width="1.9"/>
<line x1="1726.0" x2="1777.6" y1="1018.0" y2="1018.0" stroke="#000" stroke-width="3.6"/>
<g class="d"><g fill="none" stroke="#727272" stroke-opacity="0.42" stroke-width="6.6" stroke-linecap="round"><path d="M1759 1009h0M1746 1010h0M1754 1018h0M1757 1022h0M1768 1014h0M1744 1025h0M1738 1023h0M1754 1018h0M1764 1022h0M1760 1017h0M1741 1024h0M1760 1017h0M1760 1022h0M1735 1021h0M1749 1021h0M1743 1029h0M1755 1020h0M1764 1025h0M1748 1029h0M1755 1028h0M1739 1017h0M1742 1014h0M1742 1021h0M1743 1027h0M1738 1009h0M1741 1014h0M1755 1027h0M1765 1019h0M1767 1017h0M1743 1020h0M1765 1023h0M1753 1025h0M1742 1018h0M1739 1014h0M1755 1012h0M1738 1018h0M1745 1021h0M1758 1018h0M1747 1018h0M1758 1018h0M1754 1012h0M1741 1020h0M1741 1015h0M1746 1025h0M1764 1016h0M1758 1019h0M1768 1017h0M1742 1012h0M1751 1028h0M1744 1026h0M1745 1014h0M1751 1018h0M1752 1028h0M1751 1014h0M1741 1029h0M1742 1014h0M1757 1014h0M1756 1024h0M1764 1011h0M1756 1016h0M1764 1031h0M1750 1029h0M1752 1014h0M1739 1028h0M1760 1026h0M1740 1015h0M1762 1016h0M1752 1025h0M1742 1014h0M1747 1014h0M1760 1016h0M1758 1029h0M1765 1029h0M1750 1012h0M1759 1025h0M1768 1020h0M1744 1024h0M1768 1029h0M1744 1021h0M1760 1009h0M1739 1027h0M1747 1020h0M1756 1026h0M1748 1023h0M1761 1028h0M1743 1016h0M1768 1027h0M1766 1024h0M1752 1032h0M1757 1026h0M1758 1014h0M1740 1013h0M1739 1014h0M1747 1012h0M1735 1022h0M1755 1015h0M1757 1021h0M1740 1029h0M1766 1021h0M1752 1015h0M1765 1025h0M1765 1015h0M1742 1022h0M1763 1020h0M1746 1020h0M1755 1031h0M1740 1020h0M1744 1014h0M1742 1020h0M1757 1028h0M1760 1020h0M1761 1024h0M1758 1025h0M1740 1018h0M1741 1025h0M1747 1028h0M1768 1021h0M1757 1023h0M1765 1011h0M1764 1028h0M1763 1017h0M1744 1019h0M1746 1015h0M1757 1012h0M1765 1019h0M1767 1015h0M1755 1014h0M1763 1017h0M1752 1021h0M1765 1030h0M1744 1028h0M1740 1026h0M1748 1025h0M1738 1025h0M1738 1018h0M1738 1014h0M1765 1010h0M1739 1026h0M1752 1031h0M1766 1015h0M1752 1014h0M1753 1031h0M1762 1020h0M1758 1017h0M1743 1026h0M1762 1030h0M1753 1023h0M1763 1028h0M1736 1028h0M1740 1018h0M1743 1031h0M1756 1021h0M1747 1015h0M1738 1025h0M1755 1015h0M1756 1023h0"/><path d="M1754 1026h0M1737 1018h0M1765 1020h0M1753 1012h0M1767 1018h0M1741 1025h0M1764 1023h0M1743 1025h0M1739 1025h0M1753 1023h0M1768 1030h0M1754 1022h0M1752 1018h0M1743 1023h0M1745 1015h0M1737 1022h0M1760 1013h0M1756 1028h0M1741 1015h0M1756 1017h0M1738 1026h0M1749 1029h0M1752 1018h0M1737 1025h0M1752 1022h0M1768 1022h0M1758 1025h0M1753 1012h0M1762 1028h0M1755 1023h0M1741 1023h0M1768 1012h0M1739 1013h0M1766 1029h0M1756 1025h0M1736 1019h0M1743 1024h0M1743 1023h0M1741 1014h0M1753 1014h0M1759 1017h0M1744 1013h0M1763 1028h0M1736 1027h0M1759 1025h0M1753 1022h0M1756 1013h0M1736 1013h0M1739 1027h0M1759 1017h0M1757 1025h0M1748 1022h0M1757 1019h0M1741 1014h0M1736 1010h0M1736 1030h0M1760 1012h0M1760 1029h0M1766 1024h0M1761 1012h0M1760 1015h0M1747 1014h0M1768 1022h0M1745 1011h0M1764 1012h0M1736 1010h0M1755 1028h0M1768 1020h0M1768 1028h0M1760 1022h0M1762 1018h0M1763 1018h0M1754 1014h0M1748 1012h0M1744 1025h0M1758 1019h0M1752 1024h0M1764 1027h0M1763 1016h0M1754 1016h0M1759 1020h0M1756 1020h0M1736 1012h0M1748 1030h0M1735 1021h0M1736 1027h0M1756 1010h0M1748 1028h0M1741 1025h0M1764 1013h0M1739 1028h0M1749 1024h0M1768 1027h0M1741 1011h0M1736 1021h0M1756 1016h0M1757 1010h0M1739 1030h0M1752 1025h0M1742 1027h0M1759 1013h0M1764 1027h0M1756 1023h0M1768 1025h0M1761 1016h0M1753 1013h0M1753 1018h0M1746 1013h0M1767 1022h0M1744 1030h0M1759 1028h0M1763 1014h0M1769 1016h0M1756 1019h0M1760 1023h0M1768 1029h0M1767 1029h0M1743 1017h0M1755 1027h0M1743 1010h0M1755 1013h0M1740 1012h0M1767 1012h0M1746 1029h0M1757 1025h0M1736 1020h0M1740 1021h0M1767 1027h0M1751 1021h0M1760 1025h0M1740 1011h0M1764 1014h0M1757 1021h0M1748 1024h0M1739 1009h0M1763 1016h0M1766 1026h0M1737 1023h0M1746 1025h0M1745 1027h0M1736 1026h0M1746 1026h0M1746 1012h0M1764 1031h0M1756 1026h0M1767 1030h0M1740 1021h0M1762 1032h0M1763 1022h0M1751 1027h0M1738 1030h0M1759 1031h0M1755 1025h0M1763 1010h0M1767 1024h0M1755 1020h0"/><path d="M1739 1029h0M1754 1030h0M1757 1027h0M1763 1028h0M1768 1023h0M1738 1016h0M1761 1026h0M1738 1027h0M1738 1022h0M1745 1023h0M1748 1015h0M1755 1023h0M1747 1021h0M1755 1022h0M1753 1011h0M1759 1030h0M1763 1017h0M1752 1028h0M1748 1024h0M1754 1029h0M1744 1023h0M1756 1020h0M1766 1017h0M1748 1013h0M1757 1011h0M1743 1014h0M1751 1020h0M1756 1018h0M1754 1030h0M1754 1013h0M1742 1020h0M1755 1027h0M1738 1013h0M1752 1018h0M1741 1015h0M1735 1017h0M1766 1009h0M1741 1018h0M1752 1021h0M1762 1021h0M1744 1029h0M1759 1013h0M1767 1014h0M1764 1011h0M1765 1031h0M1737 1010h0M1761 1019h0M1757 1029h0M1739 1025h0M1765 1022h0M1764 1025h0M1751 1018h0M1754 1018h0M1750 1020h0M1762 1025h0M1745 1025h0M1767 1026h0M1740 1020h0M1740 1024h0M1742 1017h0M1752 1023h0M1742 1031h0M1737 1018h0M1752 1025h0M1745 1016h0M1740 1030h0M1760 1011h0M1766 1020h0M1754 1030h0M1768 1024h0M1756 1016h0M1754 1011h0M1739 1014h0M1737 1018h0M1748 1012h0M1759 1014h0M1741 1013h0M1766 1027h0M1756 1024h0M1746 1022h0M1767 1021h0M1755 1015h0M1753 1014h0M1735 1012h0M1761 1016h0M1738 1029h0M1750 1010h0M1762 1021h0M1759 1021h0M1753 1016h0M1748 1025h0M1761 1027h0M1743 1031h0M1748 1027h0M1752 1014h0M1751 1028h0M1740 1014h0M1740 1026h0M1740 1022h0M1756 1015h0M1757 1015h0M1754 1014h0M1742 1026h0M1747 1018h0M1749 1029h0M1737 1024h0M1768 1023h0M1758 1016h0M1743 1022h0M1742 1031h0M1753 1030h0M1750 1027h0M1763 1030h0M1767 1016h0M1739 1028h0M1750 1026h0M1740 1028h0M1742 1010h0M1754 1025h0M1758 1016h0M1751 1018h0M1745 1029h0M1746 1029h0M1745 1015h0M1764 1030h0M1763 1016h0M1744 1023h0M1740 1031h0M1744 1020h0M1757 1025h0M1745 1021h0M1754 1018h0M1744 1025h0M1748 1016h0M1744 1031h0M1768 1019h0M1739 1014h0M1760 1030h0M1768 1022h0M1764 1027h0M1766 1025h0M1766 1026h0M1755 1023h0M1736 1026h0M1738 1013h0M1750 1016h0M1768 1031h0M1756 1017h0M1742 1018h0M1753 1025h0M1763 1023h0M1756 1026h0M1766 1021h0M1739 1012h0M1760 1017h0M1747 1011h0"/><path d="M1741 1020h0M1737 1009h0M1758 1032h0M1744 1012h0M1755 1015h0M1763 1020h0M1755 1019h0M1763 1012h0M1759 1026h0M1749 1022h0M1742 1010h0M1749 1026h0M1741 1021h0M1756 1015h0M1747 1023h0M1748 1027h0M1761 1014h0M1761 1014h0M1766 1018h0M1742 1020h0M1753 1021h0M1762 1013h0M1756 1026h0M1741 1026h0M1748 1027h0M1745 1011h0M1754 1022h0M1768 1019h0M1743 1023h0M1743 1024h0M1762 1031h0M1735 1024h0M1765 1031h0M1759 1021h0M1745 1012h0M1754 1028h0M1738 1031h0M1762 1016h0M1751 1014h0M1739 1025h0M1741 1023h0M1765 1026h0M1760 1016h0M1763 1021h0M1744 1026h0M1746 1010h0M1745 1026h0M1757 1024h0M1736 1017h0M1764 1031h0M1744 1020h0M1760 1022h0M1761 1019h0M1744 1026h0M1744 1019h0M1767 1032h0M1766 1029h0M1768 1016h0M1741 1021h0M1754 1017h0M1740 1026h0M1753 1027h0M1744 1019h0M1744 1018h0M1736 1027h0M1756 1019h0M1753 1028h0M1745 1018h0M1743 1023h0M1758 1015h0M1755 1021h0M1739 1014h0M1760 1028h0M1755 1028h0M1748 1013h0M1736 1017h0M1747 1014h0M1744 1021h0M1744 1027h0M1754 1016h0M1749 1019h0M1744 1031h0M1755 1015h0M1754 1028h0M1737 1015h0M1746 1024h0M1740 1024h0M1763 1029h0M1742 1019h0M1765 1016h0M1763 1024h0M1761 1026h0M1759 1026h0M1767 1025h0M1760 1029h0M1754 1015h0M1743 1027h0M1745 1023h0M1751 1017h0M1761 1019h0M1764 1026h0M1759 1025h0M1738 1025h0M1744 1030h0M1760 1028h0M1762 1022h0M1742 1015h0M1758 1028h0M1750 1021h0M1748 1014h0M1749 1018h0M1743 1027h0M1743 1022h0M1737 1015h0M1759 1027h0M1765 1018h0M1753 1020h0M1744 1017h0M1764 1026h0M1743 1020h0M1738 1017h0M1758 1022h0M1744 1028h0M1754 1018h0M1738 1025h0M1746 1029h0M1737 1017h0M1760 1028h0M1736 1020h0M1747 1023h0M1768 1027h0M1759 1031h0M1761 1014h0M1742 1026h0M1751 1026h0M1737 1028h0M1750 1022h0M1751 1024h0M1747 1030h0M1745 1013h0M1759 1029h0M1738 1024h0M1751 1019h0M1745 1023h0M1764 1015h0M1764 1031h0M1758 1014h0M1764 1015h0M1738 1021h0M1754 1013h0M1764 1026h0M1744 1022h0M1735 1012h0M1759 1028h0M1766 1024h0M1756 1023h0"/><path d="M1753 1016h0M1768 1021h0M1750 1017h0M1740 1021h0M1758 1024h0M1767 1027h0M1746 1010h0M1755 1014h0M1738 1011h0M1766 1013h0M1769 1015h0M1750 1029h0M1738 1009h0M1767 1025h0M1745 1010h0M1740 1020h0M1760 1021h0M1762 1012h0M1738 1017h0M1744 1015h0M1767 1014h0M1751 1030h0M1767 1019h0M1757 1027h0M1739 1016h0M1763 1014h0M1763 1017h0M1763 1025h0M1764 1024h0M1766 1014h0M1738 1016h0M1743 1024h0M1738 1022h0M1741 1029h0M1766 1020h0M1765 1029h0M1737 1014h0M1737 1015h0M1764 1023h0M1761 1027h0M1753 1013h0M1764 1030h0M1735 1018h0M1763 1015h0M1758 1011h0M1759 1025h0M1736 1012h0M1740 1014h0M1756 1023h0M1747 1012h0M1758 1024h0M1765 1011h0M1739 1011h0M1755 1021h0M1742 1019h0M1747 1013h0M1758 1014h0M1751 1022h0M1768 1021h0M1760 1020h0M1753 1017h0M1756 1028h0M1741 1021h0M1753 1027h0M1750 1015h0M1742 1013h0M1751 1014h0M1766 1026h0M1760 1022h0M1743 1013h0M1760 1016h0M1736 1016h0M1745 1019h0M1758 1023h0M1747 1027h0M1743 1029h0M1747 1025h0M1749 1019h0M1741 1021h0M1746 1024h0M1760 1027h0M1764 1010h0M1749 1025h0M1744 1031h0M1751 1015h0M1748 1012h0M1746 1027h0M1736 1026h0M1742 1017h0M1742 1025h0M1767 1025h0M1764 1027h0M1748 1021h0M1737 1022h0M1749 1028h0M1739 1028h0M1759 1022h0M1769 1011h0M1757 1009h0M1749 1018h0M1736 1023h0M1739 1018h0M1746 1019h0M1760 1026h0M1739 1010h0M1759 1016h0M1755 1018h0M1766 1015h0M1750 1011h0M1737 1016h0M1752 1027h0M1751 1026h0M1763 1021h0M1745 1018h0M1736 1024h0M1763 1021h0M1762 1025h0M1763 1029h0M1752 1024h0M1746 1027h0M1746 1018h0M1766 1014h0M1743 1024h0M1740 1023h0M1743 1031h0M1759 1018h0M1753 1021h0M1760 1027h0M1760 1027h0M1766 1028h0M1756 1021h0M1761 1025h0M1754 1029h0M1758 1024h0M1753 1023h0M1737 1028h0M1741 1027h0M1757 1029h0M1747 1010h0M1757 1021h0M1755 1026h0M1749 1026h0M1742 1025h0M1756 1029h0M1745 1022h0M1761 1010h0M1754 1026h0M1767 1014h0M1766 1028h0M1747 1029h0M1752 1022h0M1744 1016h0M1763 1022h0M1764 1025h0M1756 1020h0M1763 1021h0"/></g><g fill="#666666" fill-opacity="0.17" stroke="#666666" stroke-opacity="0.32" stroke-width="0.9"><circle cx="1765.5" cy="1007.7"/><circle cx="1756.0" cy="1021.7"/><circle cx="1764.6" cy="1025.5"/><circle cx="1765.9" cy="1024.2"/><circle cx="1752.6" cy="1008.9"/><circle cx="1752.3" cy="1013.4"/><circle cx="1739.9" cy="1030.4"/><circle cx="1745.6" cy="1024.1"/><circle cx="1741.7" cy="1025.8"/><circle cx="1752.4" cy="1014.6"/><circle cx="1735.2" cy="1011.8"/><circle cx="1762.5" cy="1031.0"/><circle cx="1742.5" cy="1029.2"/><circle cx="1759.2" cy="1012.2"/><circle cx="1739.3" cy="1024.6"/><circle cx="1737.6" cy="1026.2"/><circle cx="1753.7" cy="1021.0"/><circle cx="1765.2" cy="1016.1"/><circle cx="1747.3" cy="1022.1"/><circle cx="1760.5" cy="1018.2"/><circle cx="1735.7" cy="1009.7"/><circle cx="1744.2" cy="1027.7"/><circle cx="1735.1" cy="1010.8"/><circle cx="1736.3" cy="1022.0"/><circle cx="1745.0" cy="1011.2"/><circle cx="1740.8" cy="1014.7"/><circle cx="1749.8" cy="1031.1"/><circle cx="1742.5" cy="1030.7"/><circle cx="1752.6" cy="1021.6"/><circle cx="1761.4" cy="1029.9"/><circle cx="1744.3" cy="1012.6"/><circle cx="1767.0" cy="1020.3"/><circle cx="1741.7" cy="1029.6"/><circle cx="1754.9" cy="1012.5"/><circle cx="1738.3" cy="1017.3"/><circle cx="1752.1" cy="1009.6"/><circle cx="1761.1" cy="1032.4"/><circle cx="1761.9" cy="1007.3"/><circle cx="1764.9" cy="1030.7"/><circle cx="1740.1" cy="1017.5"/><circle cx="1758.6" cy="1013.0"/><circle cx="1750.5" cy="1023.1"/><circle cx="1744.4" cy="1015.5"/><circle cx="1736.8" cy="1032.7"/><circle cx="1735.7" cy="1009.9"/><circle cx="1739.0" cy="1028.6"/><circle cx="1747.9" cy="1027.0"/><circle cx="1763.9" cy="1014.2"/><circle cx="1736.5" cy="1020.1"/><circle cx="1757.3" cy="1033.0"/><circle cx="1745.0" cy="1028.5"/><circle cx="1740.6" cy="1017.6"/><circle cx="1745.9" cy="1032.3"/><circle cx="1752.3" cy="1028.4"/><circle cx="1740.6" cy="1012.7"/><circle cx="1741.3" cy="1028.2"/><circle cx="1753.4" cy="1012.6"/><circle cx="1747.7" cy="1016.5"/><circle cx="1735.4" cy="1020.5"/><circle cx="1755.2" cy="1011.8"/><circle cx="1744.2" cy="1033.0"/><circle cx="1742.7" cy="1033.8"/><circle cx="1743.2" cy="1021.9"/><circle cx="1737.4" cy="1026.1"/><circle cx="1742.3" cy="1015.8"/><circle cx="1767.1" cy="1008.9"/><circle cx="1758.5" cy="1020.1"/><circle cx="1736.9" cy="1024.3"/><circle cx="1742.9" cy="1016.2"/><circle cx="1749.3" cy="1016.7"/><circle cx="1752.0" cy="1018.1"/><circle cx="1752.4" cy="1021.4"/><circle cx="1761.6" cy="1021.3"/><circle cx="1735.7" cy="1022.6"/><circle cx="1740.2" cy="1018.1"/><circle cx="1750.3" cy="1025.7"/><circle cx="1740.7" cy="1014.5"/><circle cx="1760.2" cy="1016.8"/><circle cx="1753.3" cy="1011.6"/><circle cx="1756.8" cy="1020.1"/><circle cx="1750.0" cy="1025.5"/><circle cx="1739.8" cy="1033.8"/><circle cx="1751.7" cy="1020.9"/><circle cx="1740.7" cy="1027.5"/><circle cx="1749.9" cy="1030.4"/><circle cx="1760.1" cy="1025.9"/><circle cx="1738.2" cy="1009.4"/><circle cx="1736.8" cy="1014.5"/><circle cx="1755.9" cy="1010.1"/><circle cx="1737.3" cy="1023.4"/><circle cx="1752.4" cy="1015.2"/><circle cx="1747.2" cy="1030.5"/><circle cx="1756.5" cy="1033.8"/><circle cx="1752.5" cy="1022.4"/><circle cx="1737.7" cy="1015.9"/><circle cx="1735.8" cy="1013.4"/><circle cx="1767.8" cy="1011.2"/><circle cx="1755.4" cy="1015.6"/><circle cx="1760.8" cy="1019.6"/><circle cx="1761.7" cy="1027.0"/><circle cx="1757.9" cy="1019.1"/><circle cx="1761.3" cy="1019.2"/><circle cx="1756.2" cy="1033.1"/><circle cx="1752.9" cy="1030.6"/><circle cx="1750.4" cy="1010.3"/><circle cx="1750.8" cy="1016.7"/><circle cx="1745.8" cy="1024.1"/><circle cx="1765.7" cy="1012.4"/><circle cx="1756.1" cy="1019.6"/><circle cx="1765.0" cy="1015.3"/><circle cx="1743.0" cy="1001.2"/><circle cx="1748.5" cy="1001.7"/><circle cx="1760.1" cy="1011.3"/><circle cx="1736.0" cy="997.8"/><circle cx="1752.4" cy="993.0"/><circle cx="1758.3" cy="1000.6"/><circle cx="1746.9" cy="997.0"/><circle cx="1762.1" cy="995.7"/><circle cx="1739.2" cy="1000.5"/><circle cx="1749.7" cy="991.4"/><circle cx="1749.5" cy="992.8"/><circle cx="1740.6" cy="997.3"/><circle cx="1752.1" cy="992.4"/><circle cx="1758.9" cy="1006.0"/><circle cx="1749.8" cy="992.9"/><circle cx="1753.3" cy="1003.4"/><circle cx="1764.6" cy="993.4"/><circle cx="1753.5" cy="1011.3"/><circle cx="1736.2" cy="1005.3"/><circle cx="1746.2" cy="992.0"/><circle cx="1748.0" cy="992.4"/><circle cx="1766.5" cy="1008.8"/><circle cx="1757.7" cy="994.5"/><circle cx="1740.3" cy="1004.4"/><circle cx="1741.6" cy="1003.5"/><circle cx="1738.1" cy="993.0"/><circle cx="1749.3" cy="1001.8"/><circle cx="1750.9" cy="1008.0"/><circle cx="1754.9" cy="1000.5"/><circle cx="1744.2" cy="1007.7"/><circle cx="1765.1" cy="1003.1"/><circle cx="1749.8" cy="993.6"/><circle cx="1767.9" cy="1009.8"/><circle cx="1744.2" cy="1009.3"/><circle cx="1751.9" cy="1009.6"/><circle cx="1736.7" cy="1000.8"/><circle cx="1746.8" cy="993.7"/><circle cx="1757.7" cy="996.8"/><circle cx="1742.8" cy="1002.3"/><circle cx="1757.6" cy="993.6"/><circle cx="1755.6" cy="997.7"/><circle cx="1765.3" cy="1004.1"/><circle cx="1761.7" cy="996.0"/><circle cx="1748.3" cy="1003.1"/><circle cx="1752.2" cy="1003.6"/><circle cx="1757.2" cy="1003.5"/><circle cx="1752.1" cy="1007.2"/><circle cx="1760.8" cy="1005.1"/><circle cx="1756.1" cy="992.1"/><circle cx="1767.0" cy="994.6"/><circle cx="1750.9" cy="993.8"/><circle cx="1750.8" cy="1009.2"/><circle cx="1747.1" cy="999.2"/><circle cx="1764.6" cy="1005.5"/><circle cx="1743.3" cy="992.4"/><circle cx="1755.4" cy="1001.1"/><circle cx="1766.4" cy="1008.7"/><circle cx="1744.0" cy="992.7"/><circle cx="1738.8" cy="1007.4"/><circle cx="1758.3" cy="1000.9"/><circle cx="1764.8" cy="994.8"/><circle cx="1735.5" cy="996.9"/><circle cx="1747.2" cy="1007.7"/><circle cx="1753.6" cy="991.2"/><circle cx="1739.1" cy="1004.1"/><circle cx="1756.7" cy="1009.8"/><circle cx="1752.5" cy="1009.0"/><circle cx="1745.7" cy="996.5"/><circle cx="1765.9" cy="994.8"/><circle cx="1736.8" cy="1004.3"/><circle cx="1767.2" cy="994.1"/><circle cx="1739.2" cy="994.7"/><circle cx="1751.6" cy="990.9"/><circle cx="1746.4" cy="1003.5"/><circle cx="1737.2" cy="1006.8"/><circle cx="1767.9" cy="993.1"/><circle cx="1741.6" cy="1000.6"/><circle cx="1749.0" cy="1007.0"/><circle cx="1753.3" cy="999.4"/><circle cx="1743.7" cy="994.5"/><circle cx="1742.6" cy="998.3"/><circle cx="1762.3" cy="1011.4"/><circle cx="1737.5" cy="1008.6"/><circle cx="1767.5" cy="1011.4"/><circle cx="1758.3" cy="1004.4"/><circle cx="1755.6" cy="1004.3"/><circle cx="1751.9" cy="993.9"/><circle cx="1749.8" cy="1001.5"/><circle cx="1768.6" cy="1005.4"/><circle cx="1741.6" cy="1009.2"/><circle cx="1756.3" cy="981.6"/><circle cx="1739.4" cy="973.4"/><circle cx="1740.7" cy="980.1"/><circle cx="1738.0" cy="984.8"/><circle cx="1760.9" cy="972.2"/><circle cx="1745.0" cy="989.7"/><circle cx="1736.2" cy="983.0"/><circle cx="1736.2" cy="972.2"/><circle cx="1763.4" cy="994.2"/><circle cx="1751.3" cy="990.4"/><circle cx="1763.4" cy="991.7"/><circle cx="1735.9" cy="992.8"/><circle cx="1746.8" cy="973.8"/><circle cx="1763.3" cy="982.8"/><circle cx="1744.4" cy="989.6"/><circle cx="1765.5" cy="973.7"/><circle cx="1743.3" cy="979.1"/><circle cx="1759.6" cy="990.1"/><circle cx="1751.6" cy="986.9"/><circle cx="1767.0" cy="994.2"/><circle cx="1737.7" cy="983.6"/><circle cx="1737.5" cy="974.7"/><circle cx="1738.8" cy="981.0"/><circle cx="1757.8" cy="994.1"/></g></g>
<text x="1761.1" y="1100.5" font-size="19.7" text-anchor="end" transform="rotate(-40 1761.1 1100.5)" fill="#4d4d4d">South (S)</text>
<text x="1511.0" y="1231.0" font-size="24.8" text-anchor="middle" fill="#000">Biogeographic districts</text>
<text x="1162.2" y="967.8" font-size="25" text-anchor="middle" transform="rotate(-90 1162.2 967.8)" fill="#000">Sha (Species/ha)</text>
</svg></body></html>
